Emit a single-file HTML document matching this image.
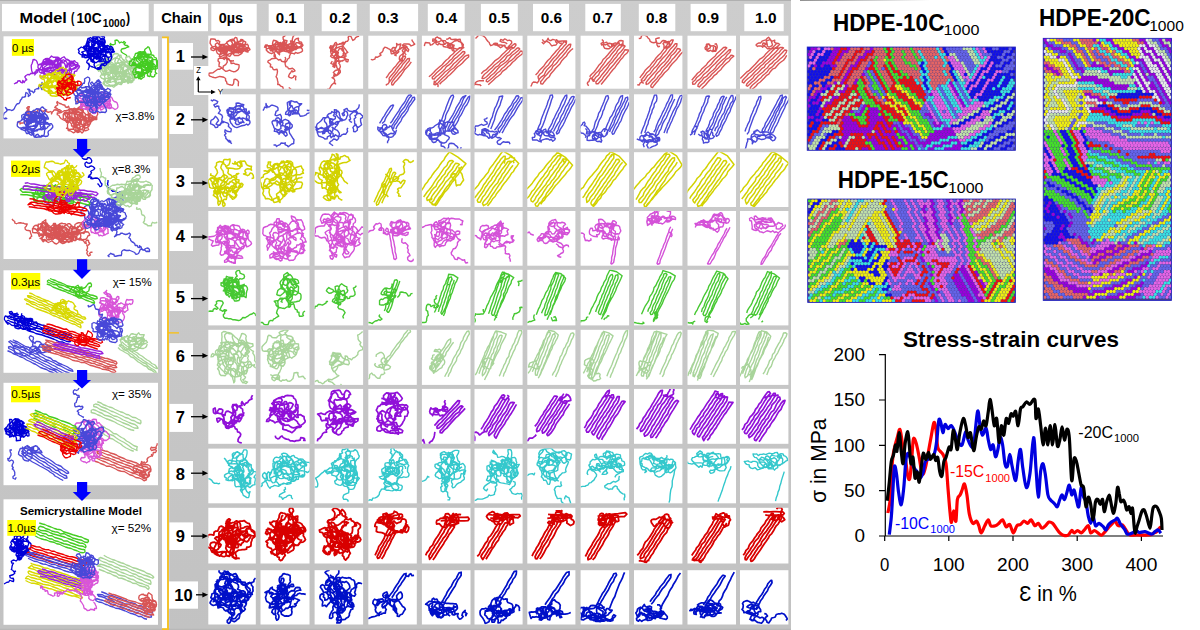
<!DOCTYPE html><html><head><meta charset="utf-8"><style>
html,body{margin:0;padding:0;background:#fff;width:1200px;height:630px;overflow:hidden}
svg{display:block}
text{font-family:"Liberation Sans",sans-serif}
</style></head><body>
<svg width="1200" height="630" viewBox="0 0 1200 630">
<rect width="1200" height="630" fill="#fff"/>
<defs><linearGradient id="gg" x1="0" y1="0" x2="0" y2="1"><stop offset="0" stop-color="#cdcdcd"/><stop offset="1" stop-color="#c2c2c2"/></linearGradient></defs>
<rect x="0.0" y="0.0" width="791.0" height="630.0" fill="url(#gg)" />
<rect x="0.0" y="0.0" width="791.0" height="1.0" fill="#b0b0b0" />
<rect x="0.0" y="628.7" width="791.0" height="1.3" fill="#b8b8b8" />
<defs><linearGradient id="tl" x1="0" x2="1"><stop offset="0" stop-color="#909090"/><stop offset="1" stop-color="#ffffff"/></linearGradient></defs>
<rect x="800.0" y="0.0" width="130.0" height="1.0" fill="url(#tl)" />
<rect x="2.0" y="3.9" width="146.7" height="27.3" fill="#fff" />
<rect x="153.8" y="3.9" width="54.2" height="27.3" fill="#fff" />
<rect x="211.3" y="3.9" width="45.4" height="27.3" fill="#fff" />
<rect x="268.7" y="3.9" width="35.3" height="27.3" fill="#fff" />
<rect x="321.7" y="3.9" width="35.1" height="27.3" fill="#fff" />
<rect x="369.8" y="3.9" width="48.3" height="27.3" fill="#fff" />
<rect x="427.8" y="3.9" width="36.9" height="27.3" fill="#fff" />
<rect x="480.9" y="3.9" width="36.9" height="27.3" fill="#fff" />
<rect x="533.0" y="3.9" width="36.0" height="27.3" fill="#fff" />
<rect x="585.3" y="3.9" width="35.5" height="27.3" fill="#fff" />
<rect x="638.8" y="3.9" width="36.5" height="27.3" fill="#fff" />
<rect x="690.6" y="3.9" width="36.0" height="27.3" fill="#fff" />
<rect x="744.3" y="3.9" width="39.4" height="27.3" fill="#fff" />
<text x="19.6" y="22.5" font-size="14.5" font-weight="bold" textLength="47.2" lengthAdjust="spacingAndGlyphs" >Model</text>
<text x="70.9" y="22.5" font-size="14.5" font-weight="bold" textLength="3.4" lengthAdjust="spacingAndGlyphs" >(</text>
<text x="76.5" y="22.5" font-size="14.5" font-weight="bold" textLength="25.1" lengthAdjust="spacingAndGlyphs" >10C</text>
<text x="102.8" y="26.6" font-size="10" font-weight="bold" textLength="22.5" lengthAdjust="spacingAndGlyphs" >1000</text>
<text x="126.0" y="22.5" font-size="14.5" font-weight="bold" textLength="4.1" lengthAdjust="spacingAndGlyphs" >)</text>
<text x="161.2" y="22.5" font-size="14.5" font-weight="bold" textLength="40.6" lengthAdjust="spacingAndGlyphs" >Chain</text>
<text x="218.7" y="22.5" font-size="14.5" font-weight="bold" textLength="24.3" lengthAdjust="spacingAndGlyphs" >0µs</text>
<text x="275.8" y="22.5" font-size="14.5" font-weight="bold" textLength="20.9" lengthAdjust="spacingAndGlyphs" >0.1</text>
<text x="329.3" y="22.5" font-size="14.5" font-weight="bold" textLength="21.0" lengthAdjust="spacingAndGlyphs" >0.2</text>
<text x="377.4" y="22.5" font-size="14.5" font-weight="bold" textLength="21.2" lengthAdjust="spacingAndGlyphs" >0.3</text>
<text x="435.4" y="22.5" font-size="14.5" font-weight="bold" textLength="21.7" lengthAdjust="spacingAndGlyphs" >0.4</text>
<text x="488.5" y="22.5" font-size="14.5" font-weight="bold" textLength="21.2" lengthAdjust="spacingAndGlyphs" >0.5</text>
<text x="540.7" y="22.5" font-size="14.5" font-weight="bold" textLength="21.3" lengthAdjust="spacingAndGlyphs" >0.6</text>
<text x="592.5" y="22.5" font-size="14.5" font-weight="bold" textLength="20.5" lengthAdjust="spacingAndGlyphs" >0.7</text>
<text x="646.0" y="22.5" font-size="14.5" font-weight="bold" textLength="21.4" lengthAdjust="spacingAndGlyphs" >0.8</text>
<text x="697.8" y="22.5" font-size="14.5" font-weight="bold" textLength="21.3" lengthAdjust="spacingAndGlyphs" >0.9</text>
<text x="755.1" y="22.5" font-size="14.5" font-weight="bold" textLength="21.4" lengthAdjust="spacingAndGlyphs" >1.0</text>
<rect x="3.5" y="36.3" width="154.5" height="102.1" fill="#fff" />
<rect x="3.5" y="156.4" width="154.5" height="102.6" fill="#fff" />
<rect x="3.5" y="270.3" width="154.5" height="102.5" fill="#fff" />
<rect x="3.5" y="382.8" width="154.5" height="102.4" fill="#fff" />
<rect x="3.5" y="499.3" width="154.5" height="125.5" fill="#fff" />
<path d="M77,138.9 H87.2 V148.9 H91.1 L82,158 L72.8,148.9 H77 z" fill="#00f"/>
<path d="M77,259.2 H87.2 V269.7 H91.1 L82,278.9 L72.8,269.7 H77 z" fill="#00f"/>
<path d="M77,370 H87.2 V380 H91.1 L82,388.6 L72.8,380 H77 z" fill="#00f"/>
<path d="M77,481.9 H87.2 V491.9 H91.1 L82,501 L72.8,491.9 H77 z" fill="#00f"/>
<svg x="3.5" y="36.3" width="154.5" height="102.1" viewBox="3.5 36.3 154.5 102.1"><g transform="scale(0.25)" fill="none" stroke-width="5.4" stroke-linejoin="round">
<path d="M349 489l-4-6-1-9-8-1-5-5-7 2-5 8-4-5-4-8-3-6-1-8-6-5-7 4-8 1-7 2-1 9-6-7-8 0-6 2 5 8 5 2 9 1 2 6 8 3 2 7 6 3 6-7 0-8-4-9 4-5 10 0 6 4 6 2 6-6-6-5-4-4-8-3-6-4 7-5 8-5 5 3 4-10-3-6-3-9-2-5-8-4-7 7 10 1 8-3 5-2 7 4 7-4 6 6 5 5-1 5 4 8 7 6 6 1 7 2 7 7 6 4 1 9-4 7 0 6 0 8-9 0 0-5-7-9-6-4-5-1-1 8-5 7 0 9-7-3-8 4-6-5-6 2-6-5-7 2-4 5-5 7-6 3-3 8-4 7 2 6 5 8 5 5 6 3 7-2 2-7-3-6-7-2-4-6-3-8 0-7 2-8-4-7-4-5-7-3-7 4-5 6-6 3-8 3-3-8-7-3 0-10 0-7 4-6 7-2 8 1 6 6 2 6-5 8 1 7 6 4 8 1 6 6 2 5-2 11 4 5 8-5-3-8 0-7-2-8 3-6 4-8 1-7 7-5 8-3 4-5-7-6-1-6-9-1-6 4-6 3-2 8-8-1 2-7 5-3 8-1 7-6 5-4 7 3 5 4 3 7 1 8 5 4 5 7-4 9-6 1-9-4-6 9-5 5 5 6 1 8-2 6 3 8-1 8 7 3 7 1 6 3 9-2 6-3-4-7 1-4-1-9 0-7 7-6 4-4 5-7 5-5-6-1-9 3-3-7-6-6 6-3 7-3-1 9-3 7 3 6-3 6-9 1-9-2-4-5-6-3-1-7-6-2-5 5-5 7-6-5-7-4-2-7-6-6 3-9-8 1-7-1-3 6-5 5-1 10-4 5-5 7-3 6-6-3-7-4-5-5-4-8-7-3 0-7 7 0 9-2 5-3 7-4 8-1 6-1 7-6 7 1 6 6 5 6 2 8 2 6 4 9-2 5-9 3-5 4 4 7 5 6 7 5 5 6 4 4 6 6 8 1 4-7 4-6 2-6 6-7 0-7 8 0 7-4-4-5-1-9 3-6-2-9-3-8 1-5-3-8-5-4-5-4-8 0-9 4-6 3-5 3-9 4 0 5 5 5-3 8-9-1-6 0-7-2-6-6 2-9 7 0 8-2 6-2 10 5 5 1 9 0 7 2 3 6-4 9 1 8 3 3 7-2 1 6-5 4-9 2-1 8-7-6-5-5-4 6-7 6-1-6-1-9-5 8-5 4-7 0-7 2-3 5-4 7 0 8 1 8 2 9 7 1 6 3 7 5 6-2 4-7 7-3 7-4 2-6 8-5 7-3 4 5 1 7 8-2 8-5 2-4 4-6 2-7 6-6 5-5-6-7-6 0-10 3-7-4-7 1-5-5-10-3-2-6-6 2-9-3-8-3-5-2-6 7 1 8-3 6 8 7 6 2 8 3 4 7 8 0 7-3-7 1-4 4-5 7-7 3-9 0-8 1 0-8-4-5-8-4-8 3 1-10 3-5 5-7 4 8 6-1 9-1 7 3 7-3 0 9 10-3 6 6 1 8 4 6 6-3 1-7 0-8 8-2 7 3 7-1 8 3 7-4 6-3 5-6-4-6-7 6-4 5-4 8-5 4 0 8-7-1-9 6-7-2-6 7 6 6 1 5-4 8-6 6-7-7-6-3-8 3-4-6 1-9-6-5-3-8-4-5-2-8 1-7-4-6-6-6-2-9-2-5 2-8-4-6 9-1 6-1 4 6 6 4 7 4 9-1 6 2 8 3 3 8 3 6 6 2 5 8 1 4 1 6-3 7-8 7-6-3-9-2-6 3-7 2-6 5-6 4-2 6-9 1-8 1-6-3-8-3" stroke="#d85555"/>
<path d="M68 492l6-5 6 0 0 9 6-4 7 0 7-3-1-5 10 0 6 3 7 0-2-5-3-7-3-5-2-8 1-9 2-5 1-6-1-9 3-6-6 0-5 5 6 7-7 7-1 5 3 6 5-3 8 3 6 0 0-7 4-4 9 2 6-1 6-2-3-5 7-3 7 2 5 5 7 1 5-5 7 0-5 3 7 5 7 1 5-3 8 4-3 6 0-6 7-5 3-5 9-1 6 5 7 2 5 3 2-6-6-4-6-1-6-5-8-3 5-6 7-4-4-10 2-4 3 4 5 3 9 3 5 3 9 2 1 6 8 3 5-5 3 7" stroke="#d85555"/>
<path d="M89 479l7-2 7-3 9 0 6-6 5-1 10-3 0 6 8-2 6-2 7 5 4 7 7 5-5 4-3 7 4 6 1 8 7 5 5 4 1-8 1-7-1-8 3-8 3-5-7-4-6-4-8-1 1-9-5-4-3-8-6-4-8 3-3 6-5 4 1 7 4 8-1 7-8 0-7-1-7 2-10 1-5-1-2-8-2-7 6-6 8-3 7 1 8 1 7-1 6 6 9-1 7 4 3-3 4 9-1 7-3 6-5 7 0 7-5 7-6-4-7-1-8 1-8 1-5 4-8-5 5-6-2-8 1-7 6-5 6-3 8 0 7 3 7 0 6 2 2-8 9-5 2-4 7 0 7 6 9 1 4 5 7 0-2-6-4-8-5-5-5-6-6 6-4 5-6 5-8 6-5 3-7 0-7-1-6 5-5 6 1 8-7-2 1-8 6-4 6-4 9 1 4 1 6 7 1 8 7 1 8 3 7-2 7 1 7 0 7-2 6 8-7 3-5 7-6 4-9-3-5 6-9-2-7 1-7 2-6 1-8-2-7-5-6-2-7-6 1-7 0-5 5-5 9-3 5-2-3-8 7-6 8 0 5-1 9 3 6-2 9-4 2-8 2 6 5 5-2 7-7 2-5-7-4-3-7-6-7 2-5-6-8 2-7-5-7-1-4-8-8 0-8 4 0 6-9 2-6 3 0 7 2 8-5 7-6 3-6 1-3 10 0 7 5 5 5 3 9-1 9-2 3 4 8 1 5 4 9 2 5 4 7 2 6-2 9-1 5-6 8-2 4-5 7-5 1-8 4-5 3-8 0-8-7-2-4-6-5-2-8-4-9 1-5 4 2 9-3 7-5 5-7 1-7 3-5-7-6 0-9-3-7 3 2 9 5 5 3 5 4 8-2 7 3 6 3 7 5 5 6 4 6-5 4-9-5-4-1-7 9-2 4-8 7-6 3-4 9-2 3-4 8-2 4-8-2-7-3-9 1-6 6-8 3-5 2-7-7-4-5-6-6 2-4 6-5 5 2 8 3 6 5 6 7 3 6 5-5 8-5 2-8 3-4 6-7 5-7-3-7-3-8 0-7 5-2 3-7 6-8-1 2 8-6 3 2 9 1 7 3 7 6 0 8-5 6-1 7 0 3 8-2 5 3 7 9 1 7-1 8 0 6-1 7-4 8 3 9-2 3-6-2-8 2-6 6-4 5-4 6-7 0-6-5-8-6 0-7 3-3-7-9-2 2-9 2-7 4-7-4-6-5-5-9-2-3-6-7-6-6-5-9-1-5 5-8 2-5 6-3 5-2 7-2 8 3 6 8-1 2-5 8-6 7-1 8-1 6 4 3 6 0 7-3 7-8 4-7 2-4 3-4 8-6 1-7 3-8 3-5 5-5-3-6-8 5-6 3-6 6-6-6-7-5-3-6-4 1-8 6-1 8 3 5 6 9 2 2-6 8 4 3 7 4 6-3 7 1 9 5 4-5 8-5 4-8 2-8 0-4-6-4-6-8 2-6 4-5 4-7-4-5 6 7 2 7 4 7-4 7 5 6 4 8 3 3 7 6 4 6 4 3-6 8-3 3 5 6 5 6-5 7 1 3-6 1-7 0-8 4-7-2-6-3-9 5-6-8-3-6-3-8 5-3-7-8 0-6-4-8-1-7 2-8 4-3 5-4-4-4-6-4-6-6-6 2-8 2-7 5-5 7-3 7 0 8 0 7 5 7 1 7-2 8 3 7 2 3 6 8-1" stroke="#4848d8"/>
<path d="M20 472l7 2-7 1-6-2-3-7-8-3 5-4 3 8 3-7 2-7 7-5 5-5-2-8-4-5 5 7 5 2 8 0 6 3 6-2 5-5 3-7 4-7 5-6 7-1 4-7 1-5 6-7 2-6 8-1 5-2 0-8 2-8 6 3 4 6-1 7 7-5 2-5-5-7-1-8-5-4 7 1 3 6 8 1 5 6 5-5 0-7 8-4 8 0-1-7 6-4 7-7 1-7 2 7-6 5-6 2 6 5 3 8 3 3" stroke="#4848d8"/>
<path d="M403 392l3 7 6 3 4 9 5 6-2 7 5 5 9 3 6 2 8-3-2-7-1-6-5-8 3-6-2-9-6-3-5-6-6-1-9-3-5 4-8-3-6 5-5 8-7 2-5-7-7-1-2 5 6 8-1 7 0 6 7 5 4 9-5 4-9 2-7-1-9 0-5 4-8-2-8-2-7-3-7 0 5-7 4-4 8-2 7 1 10 2 6 0 2-8 5-2 3-9 3-7 8-6 0-5 7-1 5 5 6 4 5 7-6 6 6 6 0 7-6 6 3 6 2 9 6-2 8-6 6-3 5-4 5-4 3-9 0-6-9-2-5-6-7 0-8 0-8-2-4 8-3 6-7 4 3 8-4 6-6 7-8-2-2-6-6 5 4 6 0 8 4 7 8 1 5-2 4-8 4-6 3-7 9-3 4-5-1-5-6-5-4-7-3-6 2-8 6-3 9 0 6 0 7 6 2 8 2 5 4 5 9 3 5 3 0 9-5 5-8-4-6-4-6-4-6-7-4-4-10-1-5 6-5 5-5 4-3-6-10-3-5 4-4 6-2 8-9-4-4-3-10-1-5-5-4-7 2-8-2-8-6-4-6-1 5-7 1-5 6-2 8 2 6 5 6 5-1 7 8 5 7 2 5 5 6-5 6 0 6-3 5-5 6-3 4-8 5-1 9 4 7-1 7-3 7 0 7 3 6 6 2 7 6 6 7 2 4 3 3 9 1 8-4 6-8 4-7-5-7-4-7 1-4-8-2-6-10-3-6-2-5-7-7 0-6-4-8-3-4 4-9-5-6 3-9-3-5-2-3-5-1-9 4-4 9-4 4-5 8-1 7 1 8 1 7 3 8-1 8-2 6 7-6 6 2 8 3 6-3 8 0 7 3 8-8 5-5 3-7 5-7-2-3 7-8 6-5-8-6-3-7-3-6-3-6-9-6 5-7 2 1 10 6 3 5-6-4-7 2-7-2-7-7-3-3-7 7-4 2-7 4-7 7 4 5 6 5 7 8-1 4-2 7-5 8-4 8-1 4-7 9 3 6 1 6 4 3 6 4 7 2 8-1 6 3 8-7 3-5-6-1 7-7 4-6-1-8-1-6-4-7-6-5-6-3-5-8-4-5 5 4 8 5 6 5-5 9 1 6 4 5 5-6 4-5 5-8 1-7 6-6-2-9 1-7-2-7-4-7 0-2-5-1-9 2-7 3-8 6-3 4-5 3-8 7-1 6-3 8 0 6 4 5 6-4 7-8 0-6 4-7 1-5-5-6 5-8 2-6 2-7 3-4 9-8 0 1-6 2-8-3-8 10 0 4-5 7 1 7-5 4-4" stroke="#d855d8"/>
<path d="M401 343l3 7-7 6-9 1-6 1-9 4-2 6 6 4 2 9 5 6-3 7-7-2-7 3-2 7 5 7 5 6 6 0 5 8 5 6-3 6-2 7-6 6-5 3-8-2-7-3-3-7 4-6 8-5 5-3 7-3 3-8 5-6 0-7 7-3 4-2 4-7 1-8 0-7-8 2-9-1-5 3 1 7 1 7-7 1-7 3-8 2-5 5-8 1-7-4-3-6 6-4-3-7-6-6-6-2-6-8 8-1 9 3 8 0 5-1 7-5 8 0 5-3 7-5 6-3 6-3 8-3 5 5 7 2 5 5 0 7-4 5-5 8 7 4 0 7 0 8 8 2-3 7-5 3-7-1-8-5-6 6-9-2-7 1-5 1-10 2-8 0-7 3-6-2-6-2-2-8-6-7 4-6 7-3 4-6 9 3 6 3 8-2 7 2 6 5 4 5 6 7 4 7 7 0 7 3 5-4 7-3 7-6 4-4 7-5 1-7 4-7-8-3-3-5-7-3-9-1-4-8-8 0 1-8-1-7-9-3-7-3-2-7 1-7 7-3 4 6 5 6-7 0-6 5-1 7 0 9 3 7 0 7 5 6 8 5 4 7 5 5 7 1 7-1 8-1-6-9-4-5-5 1-7-5-6-3-9 2-6 1-9 2-4 6 0 9 5 4-1 9-5 1-6 6-4-3-10-6-5-5 2-7 3-6 2-8 5-8 0-6-9-5-4 8-6-5-5-6-9 0-6 1-7-4-5 7-7 0-5 7 2 6 6 7-1 7 7-1 5 5 7-2 10 1 5 3 5 7-2 8-3 5 3 7 5 6 6 3 3 8 3 5 6 5 2 8 9 1 6-7-3-9-3-5 2-7-4-9 2-4 6 3 6-5 6-5-3-6-5-6 1-7-5-8-4-4-5-8 6-5 6 1 5 4-3 7-9-4-5-2-7 1-6 5-8 4-7-4-4-6-8-1-6 1-9 2-1-7-9 0-7-2-6-1-2 8 8 2 2 6 3 9-4 5-4 6-3 7 3 9-1 7 7-1 6-5-4-8-3-6-8-3 1-8 6-1 7-4 4-7 6 1 9-3 3-5 5-5 9 1 7-1 6 5 4-5 2-8 9-4 3-8 6 1 9 0 2 8 4 3 10 0 5 6 8 1 4-6 6 3 7 5-4 7 2 8-8 4-5 4-7 5-7 3-7-1-5 9-5 5-8 2 0 8-3 7-8 2-6 0-9-4 2-6 3-6 7-4-2-10 5-5 8 0 6-3 8-1 8-3 6-2 7-7 9-1 3 8-8 3-6 3-3 9-9 2-5 4-1 6-8 0-7-1-8-5 3-7-8 0-4-4 1-9-3-8-6-3-4-8 4-7 4-4 6 6 2 7 6-5 1-6 1-8-4-7-5-5-4-5-6 5 4 7 8 4 6 1 7-1 4 7 1 7 0 8 3 9-1 8 2 5 7 0 7 7 6 3 5 4-7 4-2 6-7 5-6 6-6-2-3-7 0-8-3-6-6-7-1-7-4-7-6-1-9-4-7 0-7 1-3 6-5 9 9-2 6-1 5-6 7-4 8-3 7 0-1-9 3-10 4-3 1-8 6-5 4 7 7 5 6 1-2-7-4-7-8 2-5 3-8 4 0 6-1 9-9 5-4 3-7 4-2 7-2 6-1 10 1 7 6 3 7 5 3 7 7 3 4 6 1 8-2 7 8 3 7 5 4-3 10 1 7 1 5-6-1-5-2-8-4-6-4-7-5-6 0-7 1-8-6-1-8-2-5-6-1-9-3-8-4-4-9-3-5 6-8 4-5-3-6-7 4-6 7-3-2-7-5-6-1-8 3-7 2-7-1-8-7-4-7 4-6 4 1 8-2 9-5 0-3 6-7 8 5 5 10-2 4-3 9 0 8 2 0 6 7 1 7 3 8 0-2-9 6-4 8-3 7-4-1-8-2-6-8 0-6 6-4 4-5 7-7 5-1 6-6 7-6 4-1 8-6 6-7 5-3 8-4 3 3 8 3 8 4 6 3 6 8 1 8 0 4-5 5-8-8 2-7-2-8-1-8 0-6 0-9-1-8 1-3-9-1-6 0-10-8 0-6-4-3-7-5-6 1-6 1-7 6-6 5-8 2 8 0 8 5 5 9 1 9 2 5 1 10-5 5 1 7-2 8-5 3 6 6 5 8 7 5-3 6-6 6-2 4-8 7-1" stroke="#4848d8"/>
<path d="M202 247l-3 8 1 6 0 8-8 5-7 1-8 2-7 2-7 0-8-4-3-4 0-9 7-4 8-2 8-2 5-6 5-4 8-1 10-1 1 7 7 1 9 1 0-8 3-8 6 2 6 6-4 7-2 6 4 9 2 5 4 10-1 6-7 2-1 7-8 4 4 6 4 6 5 5 9 0 2-6 8-3 2-7 7-2 8 1 8 1 1-6-3-5 0-11 0-6 5 4 6 1 9-1 8-4-2-7-5-6-2-8-7-4-7-1-6-5-6-4-7 4-5 5-7 5-7 0-8 5-8 2-7-1-6-1-8-2-6-6-3-7-2-7 5-4 5-6 7 5 7 0 10 0 4 1 8 6 2 7 6 4 6 5 4 5 2 8 7-1 5-6 9-2 7 0 7 1 7 5-3 7-7 3-4 4-8 5-6-1-8 2-6-4-7 5-5-7-7-2-6-7-5-3-8-1-6-3-8-1-7-3-6-4-7-2-5-8-4-7 8-1 4 3 6 5-5 5-7-4-9 3-6 1-5 7-1 8-2 5-4 7-6 5 3 8 5 4 6 2 8-4 6-4 5 2 9 1 6 4 7 2 7 4 6 0 4 5 8 6 7 2 8 0 4-6 2-6 6-6 4-8 2-6-5-5 6-9-1-5 7-7 5-2 11 1 6 3 5 4 3 6 7 2 0-8 0-7-9-4-3-5-8 3-7-1 0 5-5 6-1 7 2 7 5 7 2 6-3 8-6 4-9 0-5-4-5-6-7-3-8-1-8-2-2-7-5-7 4-7 0-6-4-6-7-4-9 2-6 2-7 2-3-7-6-7-3 4-8-2-6 4-3 9 8-3 7-4 6-3 6 0 8 3 5 7 6 3 2 9 0 5 5 8 7 3 6 5 4 6 6 3 4 7 2 6 7 6 8 0 6-1 10-3 3-5-5 0-11-3-6 2-7-4-4-6-5-5-6-3-6-5-5-3-8 0-8-4-7 2-5 3-7-2-7 7-8-3-7 2-7 0-10-1-5 1-8 1-1 10-7 4-7-4-3-6-1-7-1-10 0-6 3-6 3-9 1-7 6-1 7 4 3 5 2 7 4 7 6-5 8 0 9-1 4-5 8 1 2 8 6-3 4-6 7 4 6-4 6-3 7-3 6 7 2 7-4 7 8 3 6 2 5 8-3 5 8 6 7-1 7-3 2 7 8 4 8 0 8 5 2-9 1-6 9-2 2-6 7-7 2-6-6-6-8-1-8 1-4 4-7 2-4-7 0-8-3-5-6-4-6-3-5-5-5-6-8 4-5 5-6 6-6-3-2 9 6 4 5 6 2 6 2 7 6 4 0 8-2 5-5 6-7-4-5-7-7-1-8-1-4 6-7 5-5 7-3-9-5-6-7-2-6 2-6-5-3-5-1-10 6-5 6-2 7-2 7 0 8 1 6 6-1 6 6 5 6-5 8 1 7 2 7-1 7 6-7 5-5 4-9-1-4-6-7 1-7 2-11 0-2 4-7-2-7 3-8-5 1-7 9-1 9-3 5-3 8 5 4-3 8-4 7 0 9-1 3-8 2-6 3-7-4-6-10-2-4 5-8 3-7 1-9 0-3 7-2 7-8 2-6 5-6 4-3 7-4 8-2 6 6 4 8 2 6 2 8-1 5-3 5-6 8-3 6-3 7 0 7 3 0-9 3-8 8-2 0-9-3-7 4-6 8-5 5 3 7 4 4 7-1 7 4 7-8 2-3 7-6 4" stroke="#9922dd"/>
<path d="M56 336l5-3 8-3 2-6 9-1 3 6 7 2 1-9 6 8 5-9 5-2-4-5-4-6 5-6 7-4 7 1 6-6 7 1 6-1 4-7 1 7-3 7 4-6 7-5-2-6 6-5 6-1 8 3 6 5 4 4-1 8-3 5-5 6-8-3 0-7" stroke="#9922dd"/>
<path d="M290 317l-5 3-7 5-5 5-5 7-4 5-5 8 1 7-7 3-7-5-7-5-6-1-7-2-7 3-6-3-8 3-9 2-3 5 3 8 3-7-4-5-2-9-2-6 1-9 5-5 4-7 1-7 6-6 4-5 8 4 4-4 5 6 5 4 10 2 0 7 2 7 2 7-4 6-1 6 8 0 4-6 8-5 8 4 8-1 7-1-3-6-2-8-9-1-6 2-5-4-8-4-4-4-7-2-7 4-7-3-6-1-3 3-4 10-2 8-6 1-10-4-4-5 4-7-9-3-6 1-8-2 0-8 9 2 5-7 6-3 6 0 6 4 6 5 9 2 2 5 4 9 7 3 4-7 8 0 8-2 5 4 6 6 4 6 7 6 4 3 8 1 9 3 1-9 6 5 4 7-1 8-3 6-6-4-4-5-2-7-9-3-3-7-8 3-4 8-5 1-3-7-3-8-3-7-3-7-5-4-7-3-8-4-2 6-11 0-6-3 2-8 0-5-5-4-2 5-1 8-4 6-3 6-7 6 1 7-4 6-5 7 3 5 5 7 4 3 8 4 4 5 7 6 6 2 6 4 9 1 7-1 7-1 3-7 7 5 6 6 7-5-4-7 6-7-4-4-8-1-6 7-8-4 2-6-2-7 2-10 0-5-5-8-8 0 0-7 4-8 3-8 4-3 9 2 8 1 5 6-8 0-7-5-7-3-8-2-7-3-6-2-7-3-8 1-5 5 5 8 2 7 6 5 6 3 6 6 2 7 9 1 7 4 7 1 5 4 5 5 7 6-7 1-9 2-5-6-6-6-8 1-4 5-4 7 3 7 2 6-8-1-8 2-6 3-8 0-6 4-7-3-3-9-8-2-6-3-6-5 2-8 0-7 6-7 5-3 4-7 3-7 9-1 7-3 6 2 9 2 5 2 7 6 2-6-8-2-7-2-7-2-7 3-6 4 5 9-6 3-7 5 2 8 5 2-4 7-5 0-8-2-6-4-5 5 4 4 6 6 5 4 8 4 9 3-3 8 8 3 7 0 8 1 9-3 0-8 8 3 6 5 7-4 9 2 7-1 5 1 4-9-6-5 4-10-6-5-4-8 1-8 8-1 3 7 9 1 9 0 0-8 1-6-7-2-7-4-3-9 7-2 7-5 5-5-8-3-7 0-7 0-3-7-6 6-4 5-6 4-7 5-5 5-2 7-8 2-2 9 7-5 5-6 5-5-1-8 5-7 3-6-1-8 7-3 0-10-8-1-4-6-6 2-9 2-4 5-8 1-6 6 4 6-9 1-1 6-9 6-5-4-9 0-6-1-5 8-5 3-7-4-8-3 1 8 7 5 8 1 2 6 1 8-2 8 4 5 6 3 9 3 8 1 8-2 6 1 9 2 4 6 7 1 6-6 6-3 7-5 2-7 5-4 5-6 1-6 10-3 6-4 8 2 4 8-10-1-2-8-6-4-7-3-8-2-4-5-6-2-6 4-5 8-6 5-1 7-1 7-2 7-2 9-3 6-7 4-5-7-4-4-4-7-5 2-2 8-4 5-5-4-6-5-6-4-4 6-2 8 2 6 8 3 7-1 8 2 8 2 5 6 6-1 3-6 7-3 8 2 6-2 7 0 9 0 7-5 6 3 6-6 4-4 4-8 2-6 1-8-6-3-6-3-6-4-8-2-5 7-7 0-9 4-3 5-6-3-7-5-8-1-8 0-6 0-9 1-5-1-2 9-4 6-4 8-4 4-9-1-7-3-5-3 2-6 7 0 5-4 9-1 5 4 6 3 8 3 9 2 6 0 8-2 7 5 7 2 3 6 8 5 7-4 7 0 9-5 6-3 5 7-5 1-7 1-7-6-6-5-6 3-7-4 0-10-3-5 0-6-9-7-1-5-1-6 0-10 6-5 7-5 2 7-6 6-2 9-5 2-4 6-2 8 4 4 2 9-7 4-7 3-6-1 1-7-6-7-1-5-7-4-1-8-4-4 0-6 5-9 7 2 7 1 5 6 4 4 6 2 6 9-3 8 4 3 5 9 6 5 3-5 5-5 1-9-2-7-1-8 5-6-4-4-8-5-7-2-7-1-1 6 2 8-5 3" stroke="#d8d800"/>
<path d="M261 336l7-3 7-2 8-2 4 7 6 5 7-4 5 5 7-2-1-7-2-7-6 3-8 4-8 3-7 1-7-1-4 5-8 6-5 4-8-2-7 3-5 3-5 2-3 8 5 5 8 5 6-5 1-7 1-6 6-5-3-7 1-9 3-7 1-8-4-5-5-1 4 4 4 7 6 2 4 9 6 3 9 0 5-2 8 0 1 10 7 2 0 9-6-1-1-7-8 1-7-3-6-6-7 4-4 6-8-1-6-5-5-2-8-4-6-5 4-6 9 5 6 3 8-1 5 5 6-5 1-5-1-10 0-6 7-2 8 4 3 5-3 6 4 8 0 8-3 4-1 9-5-7-6-6-6-4-7-2-6-3-9 1-6-3 0-7 7-3 7-2 4-7-2-6 7-3 4-8 7-1 6-1 9 6 2 5-2 8 3 8-3 6-7 5-6 3-7 1-5 7-7 2-4-6-5-6-5-7-5-5-5 7-1 8 6 5 1 8-3 8 6 5 4 6 5 5 6 6 6-4 6-3 2 9 7-3 6-3 7-4 4-7 5-3 6-5-4-6-1-7 4-3 9 0 7-1 6-5-1-8-7-3-6 0-9 4-8-3-6-1 4-8 1-5-3-7-8 3-6 4-5 5-8 4-4 5-4 6-6 2-1 10 3 5 4 6 5 6 7 3 4 4 9 1 6 5 7-3 2-7-6-4-2-8-8 4-6 3-3 6-5 7-4-6-2-7-3-7-7 4-9-1-6-5-8 2 4 8-1 5 2 8 2 8 8 2 6 5 6 4 3 6 9 2 2-7 8-1 8-2" stroke="#ee0000"/>
<path d="M435 269l8 1 4 7 5 4 8-5 6 2 9-1 1-8 1-9 4-3 9 0 7 1 3 7 6 3 8 5 3-6 1-9-4-3-7-5 2-7-5-5-1-9 8-2 6-2 3 6 6 8 0 7-4 7-6 1 2 8 0 7 3 6 3 8 6 5 8-1-4-6-2-8-7-5-5-2-9-4-5 0-6-7-7-3-5-4-5-6-7-6 5-6-5-8-4-7-9-1-7 2-4 4-3 7-3 7-6 1-8 1-4 7 3 6-7 3-6 1-8-3-7 4-5 4-8 3-6 4-7 4 8 6 5 3 5 7 5-5 7-2 8-5-4-6-3-9 4-6 1-7 6-5 5-5 7 0-4 7-8 4-8-1-1 7 6 5 6 5 8 1 3-8 6-4 2-7 7-4 6-5 7-4 6 2 2-8 8-4 7 0 1 7 5 8 5 7-5 5-4 7 0 7 3 7 0 8 1 7-5 4-6 5-2 6-5 8-2 8-7 3-6 7-6 1-7 3-8 0-7-2 2-7 8-1 8-3 6-1 8-1 7 5 7-2 6 0 7 3 5-7 5-2 7-4 9 6 5-1-3 8-5 4-7 3-7 2-7 0-9 2-6-2-5 10-7 4-5-3-8 2-6 3-10-2-6 1-7-2-5-5 5-9-1-7-6-6-7-2-6-7 4-7 6-3 5 3 5-6-1-7-8-1-2-7 3-7-3-7-7 3-5 4 1 7 3 7 3 6 4 9 7 0 7-2 8 0 8 0 5-5 1-8 4-4 7-2 8 3 6 3 5 7 9-1 6-1 7 3 5-5 5-7 4-6 0-7 3-8 5 5 7 2 3 5 6 6 3 7-1 8 2 6 3 8-3 8-7 2-4 6-8 2-6 2-7-5-6-4-7 2-4 5-6 7 2-9 3-7-2-7 5-6 5-5-1-9 2-6 9-1 7-3 4-6 7-3 8-2 8 4 3 8-8 3-3 5-7 6-1 10-3 5-2 8 4 7 6 1 6-4 0-7-4-6-1-6-7-4-7-2-9-2-4 6-6 3-9 2-6-3-8-5-2-6-7-2-7 6-8-5-8 2-2-9-5-5-4-6 1-8 4-7-7-5-6-3-5 1-7 5 3 6 5 5 7 4 8-2 6-2 5 4 7 3 8 2 7-3 7 0 7-4 2-8 5-7 3-6 4-8 4 6-2 7-1 10-2 6-2 8 1 7-2 4-3 8 0 6-1 9 4 6 8 3 5 6 9 2 5-4-7-7 7-5-3-8 3-9-5-6-2-6 6-6 5-5 9-2 1 8 6 5 5 6 7 2 3 5-5 5 1 7-4 4-9 3-7-2 1-7-2-9-4-5-3-8-3-7-7 2-8 1-3 6-1 9 5 6-1 6-9 0-5 0-9 2 0 8-10 3-4-5-8-1-7-1-6-4-7-5-6-4-8-2-6 3-5-7-2-4-3-8-6-5-5-7 4-5 7-4 8 1 7 6-2 8 1 8 1 7 7 0 8-2 6-3 4 8 7-5 5-4 9 0 6 2 8 3 1 7 5 5 5-5 8 4 5 6 1 8 0 7 0 8 3 5 5-5 8 2 6-3-2-7-8-1-4-8-3-5-6-4 0-10-7-2-6 5-7 2-6-5-4-6-7-4-6-3-7-3-9-1-6-5 0-6 2-9-7-3-8 3 2 11 7 3 5 4 4 7 6 5 4-9 8-2 6-2 3 5-7 6 0 8 1 5-4 8-7-1-7 1 1 6 4 8 7 3 4 6 4 6 7 3 7 1 5-7-2-8-3-7-1-9-3-5-6-8 1-6 5-3 2-7 2-8 2-7 8-5 5 3 6 4 5-4 4-5 3-9 4-5 5-5 9 1 5 4 1 9-3 7-7 5 7 4-7 6-5 2-10-4-7 2 0 7-4 8-3 6-7-2-6-5-5 4-7 4-8-1-8 3-5-4-8-1-8 2-7 4-3 7 4 4 5 6-6 4-7 7 0 7 8 4 7 5 6-1 6 0 11-2 6-1-7-5-6-6 3-5 6-4 0-7 1-7-4-4-7-3 4-7-3-7-5-5 3-8 7 1-1 9-3 6 2 6 5 7 1 9 5 2 6-4 7-3 5-3 5-7 3-7-4-6-7-4-3-7-4-7 0-5-6-6-9 1-6 3-6 5-5 4-5 5 0 8 3 7 4 5 1 8 0 7 6 6 2 5 5 8-1 7-2 7-2 8-4 4-7-4-8-5-7 3-6-1-7-2-8-5 2-7 7-6 1-8 7-1 9 0 5-6-5-5-5-8-5-3-2-8 0-8 7-3 8-2 8 0 4-6 8 2 7 2 5-4 7 7 6 3 4 7 1 6 7 2 0 9 2 9-3 6-2 8 2 7 6-5 6-4 8-1 4-5 9-1 8 2 4-4-1-7-5-5 1-8-2-8 1-6-7-6-6-4-6-4 3-9 0-6-7-1-8-1-5 5-8 1-8-2-6 3-8 1-8 0-3-6 2-7 1-8 7 0 6 4-3 8-2 5-4 7-6 8-7 1-2 5-9-4-7 0 1 8-3 5-7 3-6-4-4-4-8-5 4-6-1-8 5-6 7-1 7 0 7 5 6 2 8 4 7 0 8 4 8 1 5 4 8 1 4 5 5 8 3 5 4 7-7 3-8 5-4 5-6-2-1-5-1-9-6-5-9-1-2-7-5-7-4-5 5-6-3-7-7-5-7-2-7 0-7-2-5 7-1 7 2 7-3 9 1 6 0 8 7 5-3 6-4 5 2 8-4 6 5 7 8 2 6-2 7-2 3-8-3-9" stroke="#a8d498"/>
<path d="M545 261l-7-5-3-6 1-7 3-7 7-5 3-7 4-4 8-3 5-7 7 3 3 7 8 3 4 3 7 6 8-2 6 2 1 10-4 7-5 3-8 0-7 2-10-1-6 1-3 8-8-4-8-1-7-1-4-5-9-2-4 9 9-3 5 6 5 5 5 5 9 2 4-5 1-7-4-8 3-7-9-7-4-5 5-7-1-8 4-7 8-1-3 9-3 6-6 5-7 0-10 0-3 7-6-2-3 8-7 2-2 9 2 5 8 4 6-4 10 3 6 0 8 3 7 0 6-4 4 7 7 5 5 5 6 4-3 6-10 1-5-1-8 3-7 3-6-4-6-5-7 3 5 2 7-4 8 2 8-1 5-4 6-3 7 3 3 9 4-7 5-7 3-7 2-7 2-5 3-10-6-6-5 5 0 8 1 6 6 5 5 2 6 6 8 1 7-4 3-7-6-5 0-7-1-7 0-10-1-5-9-4-1-6-7-2-8-2-7-1-8 0-3-8-4-6 2-6 7-5 5-5 4 2 3 8 3 7 3 8-2 6-9 5-7 0-5-3-5-5-2-8-8 1-7 4-6 0-3 8 3 8 8-3 8 2 8-1 5 3 8 0-2 7 1 8 7 6 8-1 6 1 4 6 6 6 4 6-5 5 2 8-1 8 6 5-7 3-2 8-5 3-8-2-4-7 1-6 5-8-9-4-8-4-6 0-6 4-7-5-7-4 1-5-6-8 3-7 6-6 2-7 4-8 7-3 5-6-4-5-6-3-9-5-5-2-7 1-7 5-6 1-3 9-4 6 6 6 8-2 8 2 5-6 0-9 8-1 2-6 5-5 4 5 6 5 5 7 6 2 7 1 5 7-5 8-1 4-6 7-5 7 2 7 1 6-2 8-6-5-7 1-5 3-5 7-7 2 1 7-7 0-2 8 3 6 5 6 6-5 7-4 0-8 0-6-5-5-4-9 1-6-8-5-2-8 2-7 3-6 6-6-8-6 4-5 0-9 3-7 3-6 7 2 2 8-2 5-7 6 4 6 5 6 8 4 5 5 0 7 3 6-3 6-4 8-7 5-6-3-6 1-4 5 2 7-1 7-8 3-7 4-6 3-8-1-2-6 5-6 6-3-4-4-2-9 2-4 0-9 2-8 7-2 7 5 5 2 7-3 8-2 6-1 8 4 6 4 6 4 7 2-1-7 1-8-2-8-7 2-7 1-5 5-7-6 0-7 0-5 6-2 7 3 7 5 7-2-2 6-6 2-8 0-5 6-7 3-4 6-9 0-4-6-8 2-7 5-7 1-6 4-4 5-4 7 2 10 3 5 6-2 8-4 8 0 6-2 5-6-3-7 2-6-3-7-2-6-7-4 0-7-6-3-5-6 2-7 7-5 7-2 9-3 5 4 1 7 6 3 4 6 1 5 6 8 4 7 4 5 3 9 6 2 3-7-4-9-6 0-4-8-8 2-2 7 7 6 4 5 1 7 5 6-5 5 2 8-5 5-8-3 0-10 5-4 6-5-1-8 1-6 4-5 7-8-6-2 0-10 5-8 7 1 9 1 4 6 0 8 1 7-5 5-6 1-9 3-7 0-4 5-2 10-4 3-6 5-9 3-6-4-1 7-4 8-7 1-6 8-4-5 0-8 5-8 8-2 1-8 1-8 0-6-2-7 2-7 4-7-2-7 7 4 8 2 7 1 2 8 0 6-3 7-7 1-4-4-5-6-7 0 4-4 5-8 3-6 6-4 7-6" stroke="#44cc22"/>
<path d="M432 200l5-6 4 5 4-6-2-7-3-7 2-5 3 4 9 1 7-3 0-6-1-8 8-2 6 5 4 7 7-4 7 3 4-5 6 5-6 5 5 5 8 1 6 5-7 2-6 4-6 1-9 2-3 5 2 7 5 4 7 4 7 4 3 5" stroke="#44cc22"/>
<path d="M357 184l7 6 4-6 6-6 7-2 7-5 8-1 6 4-2 8-2 7-5 4-5 6-8 0-7-1-7-4-6 5-4 7-3 6-4 8-6 2-6-3-7 1-2 8 8-1 4 4 9-1 5-4 5-7 6 5 8-1 7 3 6-5-4-5-5-8-1-7-5-5-8-1-5 4 2-7 4-6 11 0 1-7 1-7-4-8-2-6 0-9 3-7 8 3 8-1 6 4 6 6 7 4 6 2 3 8-4 5 1 9 3 7-1 8 3 6 3 8 8 0 6-5 7 7 7-4 7-2-7-7-6-5-8 4-6-1-9 0-7-1-2 7-7 0-9 0-5-7-7 5-5 5-7-1-6-3-5-9-4-4-4-5 2-8-2-9-4-7 2-7 7 2 5 8 7 1 5 6 9 0 6 0 7-4 2-6 6-7 7 0 5-3-2-7-6 3-7-4-8-2-5 6 1 7-7 4-5 5-6 4-6 5 0 10 5 5 2 9 6-6 5 3 7 6 3 6 4 7 5 5 3-7 3-8-5-7-7-3-3-8-4-5 3-8-2-6-3-7-2-8-6-4-7 2-3 8-4 6-7-4-5 8-3 5-7 4-2 8-3 5-8 3-7-3-5 4-7 5 4 9-3 5 6 5 6 4 8-2 8 1 7 4 9 3 2 4 3 9 5 1 3 6 7 6-2 8 3 6 4 6 7 5 6 0 9-3-1-8 1-7 6 1 8 3 7-5 3-8-10-2-4-5-7 2-8 2-8-2-6 5-6 0-6-7 0-7 2-10 1-6 5-5 1-8 6-5 3-6 4-6 2-7-7-5-3-9-8 1-1-8 6 6 7-2 7 0 8-1 1 6 3 8 7 1 7 5 5 4 5 8 0 6 2 7 7 4 2 5-6 9-7 1-7-2-7-5-6-2-9-2 2-7 4-7-5-5-8 5-7 0 3 8-9 2-6-2-8 3-6-4-5-8-7 2 0 8 0 8 8 2 4 7 6-4 6-4 6 3 8-3 4 3 5 11 3 4 7-3-2-7 5-5 7-2 5-7-4-6-2-6-7-2-6-6 6-3 7-3 7-6 6-2 7 5 8-1 5 6 3 8-5 6-7 4-8-1-5-4-8-2-8 0 0-8-1-8-5-6-2-7-8-2-1-8-4-5-8-5-5 0-8 3 3 7-9 2-6 3-7 5 0 5-1 8-6 3-5 8 5 6 6 3 6 5 7 4-5 9 0 6-6 8-5 5-1 6 7 6 4 6 7 4 7 2 6 3 8 4 5-4 8-1 3-8 5-6 7-1 7-2 5-5 8-1 7-4 4-7 2-8-2-7-5-5 7-7-4-8-4-5 0-8-6-5-7 3-6 5-2 7-1 8-5 4-7 1-7 1-3 7-1 7-1 9-7 2-5-5-6-5-7-5-5 0-7-6-4-7-2-7-6-4 2-9-1-6 1-8 2-8 2-6 4-7 8-4 6 5 7 2-1 8 2 9 4 6-6 6 2 7 7-2 7-3 8-2 7-2 6-2 4-9-4-7-6 2-6-4-9-1-7 6-4 2-7 6-3 8-1 6 10 3 5 1 8 0 5 7 8 3-1-8-2-6-4-9 0-6 5-5 5-7 2-7 7-2 4 7 1 7-3 7-1 7 2 6 9 4 7 1-9 4-6-3-8-1-7 5-3 7-5 6-8 1-5-3-9 0-5-3-7-3-7-2-3-9-7 5-6 1-6-7 1-6 8-3 6-2 8 2-1 10-1 7 6 4 3 7 4 7 9 2 1 8 8 0 6-4 4-8 7-3 1 7-2 7 6 6 6 5 6-5-2-9 1-5 7 2 2 8 6 2-1 8 6 6-5 5-7 2-3-6-3-9-1-7-2-7-6-9-3-6-7 4-1 10-4 6 0 7-1 6 10 1-7-5 0-8-4-2-9-1-8-2-3-6-8-4-7 1-4-6-7-5-7-1-7 3-8 3 7 7 1 6 10 1 6 5 8 1 5 4 5 6-6 5 8 5 0-8 4-5 6-6 7 1 7-2 8 4-6-4-2-7-6-5-9-2-6 4-9 0-6 0-7 1-3-8-2-7-4-7-6-5" stroke="#0000d8"/>
<path d="M352 280l3-7 2-6 0-8-3-8" stroke="#0000d8"/>
</g></svg>
<svg x="3.5" y="156.4" width="154.5" height="102.6" viewBox="3.5 156.4 154.5 102.6"><g transform="scale(0.25)" fill="none" stroke-width="5.4" stroke-linejoin="round">
<path d="M310 958l-3-6-2-8 7-5 1-7-5-6-7-1-7 0-7 4-7 2-8 0-8 0-6 2-6 5-9 1-6-1-8-3-7 0-6 1-3-8 1-6 7-4 7-4 7-3 7-4 6 4 7-5 5-4 8-3 3 5 5 5 7 4 9 0 5 2 8 0 8 4 3 9 4 4 3 8 0 8-4 5-7 3-6 3 2-6-1-8 1-7 8-4 7-2 8-2 6-2 9-1 7 1 4 6 2 7-7 2-4 9-5 5-7 1-8 1-5-5-3 6-8-3-8-5-4-5-7-3-5-2-9-2-8 0-7-6-5-7-6-1-5-6-7-1-6 5-7 4-8 0-6 0-9 1-6 6-8-3-5 5-9-2-5-5-3-8-5-1-6-8 4-5 5-7 4-6 4-5 8 2 4 0 5 7 5 4 7 6 6 4 3 7 3 5 6 6 9-1 2-10 4-5 7 4 8 4 4 4 3 6 7 2 5-5-5-7-4-5-9 5-6 4-4 6-2 5-7-4-10 0-1 8-1 8-6 4-7-1-6-5-8 3-7-5-6-5-8-2-5-3-7 0-8 0-6-5-8 0-9-1-1-7 0-9 7 1 6 3 9-1 7 0 2-8 3-7 3-7 7-3 5 5 2 5 6 5 7 3 7 1 8 7 8-1 6 4 6 4 5 5 4 8 5 3 5 6 8 2 5-5 8 0 6-5 9-2 8-3 4-2 8 1 10 2 8 0 5-4 9 3 3-6 3-9-2-5 5-6 5-8-11 0-4-4-8 2-7 2-4 6-5 6-3 7-4 6-6 4-4 8-1 8-4 7-2 8 2 6-10 0-4-1-8-2-4 7-6 3-8 1-7-4-5-5-3-7-2-8-8 0 3-6-2-6 2-10-4-6 2-7 0-7-2-8-1-6-8 0-2 8 5 5-4 8-7 2-3 9 0 7-2 5-4 7-2 7 8-3 6 3 0-9 0-7 8-4-2-7 0-5 6-8 8 2 6 3 6 0 8 3 4 8 1 6 7 6-6 4-9 1-6-1-7-1-8 2-7 3-4 9-5 3-7-3-5 3-8-2-4-7 1-8-2-7-1-8 5-6 3-7 3-7-6-7-5-7 0-7 0-8-7 5-7 4-2 6-6 2-8 1 0 10-1 6-6 6 3 6 8 5-3 7 3 9 5-5 8 0 5-9 7 2 7 4 7 1 8-3 5 4 9 4 7 1 8-2 7-1 7-4 7-2 7-1 2 8 0 8-6 2-4 9-5-4-8-4-7-5-5-3-9-2-4-4-8-1-5 5-4 6-4 8-7 3-8 1-6 5-5-6 0-6 5-8 2-6 2-7 3-6 2-8-4-8-2-4 8-4 2 6-5 0-5 9 0 7 7 2 3 7 2 8 9-2 8-5 3 6 7-1 5-1 8-1 8-3 9 1 6 2 6 4 8 3 8 2 8-2 5 2 5 7-6 6-4 6-6 3-6-3-9-1-7 1-9-1-4-4-7-5-6-2-7-3-8 3-8-3-7-3-6-4 2-8-6-6-6 0-5 8-6 5-3 6-7 4 9 4 5 1 6-1 5 7 8 5 7-3 6-3 6 3 6 6 8 3 6-4 4-6 6 2 7-6 4-5 7 0 3-6 9-3 7 6 2 7 9-2 5 3 9-2-2-9-3-5-6-4 0-9 7-2 8-3 7-1 7-3 6-4 6-6 2-6 3-8-1-7-7-6-6 5 4 5 2 10 2 6-7 7-7 0-7-2-3-6 2-6 6-1 7 3 3 8 8-2 6-2-3-7-6-6-6-4-5-4-7 0-8 3-6 4-1 8-5 7-4 5-3 7-6 5-5 5-1 8-7 2-7 3-9 1-4-7-2-6-5-5-7-5-1-7-7-2-5-6 5-7 6-4 6-4 8-3 6 1 9 1 5 4 6-4 7 0 5 5 6 7-1 8-1 6 0 9 2 8 9-2 6 2 7 2 4-7 3-6-8-3-4-3-4-8-9 0-7 4-1 7 2 6 7 6-6 5-7 3 2 10 5 4 8 3 6 1 4-8-3-6-5-2-7-5-8-1-4-7-4-6-3-7-5-6-5-5-7 1-6-6-7 2-5 5-6 0 1-7-6-2-9 2 6 6 3 6-4 8-5-4-7 1-6 0-10 3-3-6-7 5-8-3 0-8-9-2-6 2-3 8-6-6 0-6-5-7-8 1-6 5-2 7 8 0 6 6 8 1 5-6 4 6 8 0 7-4 5 2 9-1 5 5 6 6 2 7 8-1 6-1 6-4 7-2 4-5 10-3 5-7 7-2 6 2 4 4 8 7 0 6 9 0 1 7-2 9-4 5-8 7-4 1-8-2-8 0-8 0-6-4-6-3-9-2-3-7 1-9 8 0 8-4 2-6 4-9 7 2 0 7 2 9 1 8-6 6-3 6-8 4-5-2-8-4-4-4-4-8-4-6 9-3 3-3 10 4 6 4 3-7-1-8-4-6 6-3-2-7-8 0-3 9-7 1-7-1-9 0-4-5 6-4 5-4 8-1 5 6 6 0 7 6 6 4 5 6 3 6-3 7-4 7-5 4-6 7 3 8 4 2 7-2 7-4 8-6 7-5-4-6-2-8 8-4 6-4-2-8 4-8 8 0 7 4 7 1 5 6 4 8 2 5-6 7-7 3-5-6-7-5-7 4 1 7 7 4-3 8 7 4 1-7 4-7-1-7 5-5 4-7-4-8-8-2-4-6-7-3-4 8-4 5 0 9-4 7 0 7-7 3-7 5-4 4-6 2-8 0-5-4-8-3-6 5-8-3-7-4-2-4 0-11 0-7-6-4-8-2-7 0-7 2-7-1-4-7 7-6-6-8-7-1" stroke="#d85555"/>
<path d="M48 876l4 5 7 5 0 6 7 3 7-3 8-1 6 1 8 1 5 3 9 0-4 9-5 5 1 7 5 4 8 1 7 2 1 7 2 5 3 9-4 3-5 7 7-3" stroke="#d85555"/>
<path d="M320 952l3 7 8 2 5 5 3 6 6 3-2-9 4-6 7 2 0 5 5 7-5 6-7 1 3 6 0 6-4 8 5 5-4 6 3 7 5 5 7-4-4-6 5-5 7 0" stroke="#d85555"/>
<path d="M437 910l-5-7-7 1-8 1-8-2-3-5-8-1-8 1-7-5 0-7 2-6 8-3 7-3 8 3 4 5 1 9-5 3-7 6-5 1-8 0-6-3-9 2-8-4-6-2-6-4-8-2-4-7 1-6 6-7 7 0 6 2 6-3 9-1 5 5-1 7 7 3 6 6 6 3 9 3 7-1 7 3-4 5-2 5-2 8 4 7-4 8-1 7 7 5 7-5 6-2-1-6 0-9-5-7-7-3-4-6 0-6-5-5-6 1-8 5-5 3-7 4-4-5 1-9 7 1 1 8 0 6-5 7-5 6 2 8 3 7 7 1 4 9 7-2 6 3 7-3 0-8-6-6-8 0-6-6 5-3-2-6-4-7-2-8-6 0-9-1-8-1-6 4 1 8-1 8-1 6 3 9 5-1 6 4 9 1 5-4 9-3 5-6 7 3 9-5 1-7-7-3-3-8-4-6-7-3-6-5-4-7-9 0-5 3 1 5 0 9-3 7-1 7 5 7 1 7 5-4-2-7-7-3-6-7-3-4-9-2-7 3-5 6-5 6-7-2-3-10-2-6 2-6 6-9 3-5 6-5 7-4 7-4 9 0 1 8-3 7-3 5 2 10 5 5 1 7-6 7-6 0-8-5 3-8 6-3 8-2 6-1 8-2 8-1 6 5 5 5-4 7 4 5 6 5 2 7 6-3" stroke="#d855d8"/>
<path d="M349 840l5 7 1 9 9-3 6 7 6 0 7 4 6 4 2 8 2 7 7 6 7-2 7-3 3-9 5-6 8 1 3-8 2-7-2-5 1-7 5-8-4-6 6-5 4-7 3-8 6 0 3 7 3 7-3 7-7 2-4 8-7 2-5 4-1 9 0 8 5 6 1 7 0 7 7 2 3 7 5 5-3 6 3 9-1 7-4 5-5-5-1-9-8-2-7-1-5-4-8 2-9-4-5 0-7-3-6-4-7 2-9 2-8 0-6 2-8-2-3-7 3-4 4 5 7 0 5-5 2-5 1-10-4-6-2-7-3-7 3-9 7-1 5-6 6-4 5-5 9-3 2-7 3 7 8 2 7-6 3-6-8 4-7-3-7-3-8-1-4 7-7 1-9-3-7 2-7 4-7-1-7 5-5 6-4 5-7 5 0 6 1 7 7-1 6 2 1 7 0 9 7 5 7 3 6 4 5-5 0-8 4-6-1-8-1-6 2-8 3-7 1-9-1-6 1-7 2-8-1-7 4-6 6 0 7 8 0 8-3 6 3 7 7 3 9 4-1 8 8 3-1 7 8 3 7 1 6 1 9 4 3 7-2 7 4 8 5-2 9 1 2 8-8 3-4-4-8-4-5 5 2 7-6 7-7 1-8-1-8-5-6-2-5 4-6 4-5 6-9-1-6-2-8-3-7-1 7-7-1-7-5-8-6-3-4-6 4-7 5-3 9-4 7 4 4-7-3-7-9 0-4-5-4-7-1-6-1-8 3-9 7 1 8-3 8-3 5-5 7 2 0 5-5 9-3 7-4 4-6 6-6 6 1 7-1 9 2 6 2 7 6 4 8 3 9 0-7 6-6 6-5 4 2 9 6 4-8 4 2-6-7-1-7-1-4 5-6 6-7 3-9-1-2-6-3-7 0-8 7-6 6-2 8-2 5-7 7 1 6 5 3 6 10 2 7-3 5-4 9-1 5-4 8-1 6-4 9 2 1 7 4 8 5 3 7 4 3-4 7-2 0-9-1-7-6-6-1-7-7-4-7-2-7-5-3-5-5-8-6-3-7 0-8 0 1-9 6 0 6 6 7 2 10 0 5 2 7-5 7 2 8-1-1-8-6-7-4 8-7 2-6-2-8-1-2-9-2-7-1-6 6-6 5 2 8 4 8 1 3 7 5 6 2 6-3 7-1 8 1 8-6 2-8 2-8 4 5 7 3 6 2 8 6 4 10-1-1 6 9 3 7 3 5-3 5-5-9 0-7 0-5-2-2-10 4-5-3-8 1-9 7 2 6 3 4-7 6-5-6-5-8-2-8-3-4 5 0 7-8 2-9-3-5-3-9-1-6 5-6 2 0 8 1 7 1 9 3 6-2 8-3 5-2 8-3 6-9 3-8 2-7 3 2 7-7 5-9-1 0-7-1-8 0-8 2-8 8-2 3-6 3-7 3-7 5-7-3-8 3-7 5-4 6-8 7 0 4-6 5-3 9-3 5-5 8 0-1 7 4 7 4 8 2 6 0 6 7 6 3 7 3 9 2 6 5 5 6 3 0 9 8 5-6 5-2 8-8 4-5-8-6 5-8 1-7 4-8-2 2-9-5-5-1-7 2-6 4-8-5-7-8 0-7 1-7-2-7 2-8 1-6 6-6-1-8 4-5 5-4 9 9-1 5 6 6 2 2-7 6-2 6-4 9 0 6-5 6-4 8-2 6-3 7-3 7-2 8-3 7 3 3 6 7 4 7-1 6-3 7-7-7 5-7 3-5 6-7-3-6-4-8 3-6 1-8 3-5 6-4 7-5 1-9 5-5 2-5-6 6-4 4-5 2-7-6-6 6-2 4-8 4-6 7-3 8-3 0-9 0-5-5-7 5-5-2-8-2-7-2-7 2-6 5-7 6-5 8-3 6 3 5 4 9 0 5 4 0 7 0 9-8 2-3 8-5-5-7-1-7-5-3-7-4-5-5-7-8 3-6 0-7-1-7 5-7 5-7-4-7 3-3 7 0 6-5 6-9 1-6 2-6-2-8-2 0 6 5 7 4 5 8 5-2 8 1 8 7 5 4 6 0 7-1 8 5 3 5 6 9 3 5 2 1-8 0-6 1-7-1-10 6-5-4-6 1-8 1-8-6-3 2-9 8-3 2-9-4-5-6 4-6-7-8 1-4 6-4 5 0 9-6 5-7 4-3 8 0 7-4 5-3 9-4 5-3 7 2 9 8 2-4 7 4 8 6 2 5-5 9-4 7 3 7-1 6-3 7-3 9 0 5 5 9-3 3-7 9-2 1-7 3-9-4-6 5-6 7-2 9-1 6 2-4 5-5 5-3 6-8 5-5 6-5-2-7-1-9 0-1-6-3-6 5-5 7-5 6-2 4-9 4-5 7-2 7-6 7 0 7 5 6-2 3-7-5-2-9 1-7 0-3-8-8-5 0-5 0-6-2-9-7-5-1-6-11 3-5-1-1 8 2 7 6 7-7 0-6 2-5 8-3 7-1 6 6 4-2 8-4 6 5 8 6 3 6 2 2 5 2 7 0 8-6 2-7-5 3-8 0-6 6-6-1-7-5-5-8-3-4-6-1-7 0-6-7-6-3-8-5 0-8-5-5-3-4-7-5-6-8 0-4-3-7 6-2 6 4 7 1 8-1 8 5 3 0 8-3 7-2 7 2 8 9-2 8 1 8 0 5 1 8-1 9 3 0 8 0 7 6-1 6 5 5 7-6 5-7 5-4-3 0-8 4-6-2-9-3-6-4-7-2-7 2-5 1-9-10-2-8-2-5 4-8-3 0-7-8-3-6 4 0 6 8 3 7 1 6 2 6 4 0 7 3 9 6-2 8 4 6 2 3 5 0 9-4 5 6 7 5 3 7-2-2-8 8 3 8 1 6 2 8 3 7 2 6-5 7-1 3-7 4-6 6-4 7-2 5-8-4-7-1-6-7-4-5-4-7-3-7-6-9 1 1 7-7 5-4 3-4 10 4 3 7 5-1 7 5 5 5 6 3 7 6 7-1 6-5 6-6 5-6 2-9-1-2-7-3-8 1-8 0-6 3-6 3-8 8-1 3-5 0-8-2-6-8-4-5-7 1-7" stroke="#4848d8"/>
<path d="M460 900l7 2 2 8-5 4 1 7 3 5-2 9-3 6-5 6 7-4 4-4 10-1 4-5 7 0 5 3 8 2 8-2 6-4 5 5-3 8-4 6 6 4 2 7 6 6 5 2 5 5 2 7 8 0 3 7 7 1-1-7 7 5 0 7 5 2 6 4 5-6 7-3 7 2 3 5 0 7-9-1-5 1-4-6-9 0-6-4-5 4-3 8-3 6-6 3-6-1-3-6-7-3-7-3-7-3-5 1-8 0-9-3-6 3-4 6 1 6-2 8-7 0-7 1-8 2-6-1-1-6-9-2-4-3-4 4-7 6 6 5" stroke="#4848d8"/>
<path d="M328 632l6 4 6 1 8 0 2-6 8 0 5 4 4 7-1 7-6 4-9-1-5-4-6 5 0 7 3 6 6 3 8-1 3-3 7-1 6 3 6 6-4 6-7 3-5 4 3 4-4 9-5 2-4 8 6-2 8 3-4 4 6 1 8-2 7-1 7 1 6 5 3 6 3 7 5 5-2 8-6 3-5-8-5-5" stroke="#0000d8"/>
<path d="M432 720l0 8-2 7 2 7-5 3 5 5 7 5 7 5 4 5 7-1 6 0 5 8 7-2 6-2 0 8 7 2 4 7-5 4-3 6-4 6-4 3-9 4 8-2 7 1 3 9 8-6 4-3" stroke="#0000d8"/>
<path d="M516 741l7 6-2 6-3 8-8 1-3 6-3 7-3 7-7 1-4 6-3 9 1 8 5 5 7-6 0-9 7-3 4-5 8 1 9 3 6 3 8 1 5 5 6-3 5-7 2-5 8-5 4 3 6 6 7 2 7-4 6-1 4-6-1-8 2-8 5-6 0-9 1-8-5-4-5 4-7-4-6 1-10 2-4 4-6 6-6 5-7 3 5 9-1 7-5 5-6-4 0 9-5 5 2 7 2 8 6 1 9-2 2-7 3-8 6-6 0-6-8-6 3-7-8-4-6 3-8-2-7-4 6-8-7-3-2 7-3 8-5 5-4 6-8 0-7 4-6 2-6 7-6 4-8-1-4-4-8 4 4 6 8 2 4 6 3 6 5 7 4 5 8 5 6-3 6 6 7-3 3-7 5-4 8-5 6-6 2-6 4-6 8-4 7 3 9-4-1-8 1-6-7 2-8-2-7-2-6 1-10 0-6 0-6 4-8 2-7 0-7-2-8 3-6-3-6 5-3 8-6 3-2 7-6 3-7-5-7-3-9 0 3-7-1-7 8-4 7-1 8 1 5 6 3 7-7 2-7 6 7 5 3 7 7 4 7 1 8-1 7-1 7-5 7 2 6 5 8 1 7 0 8-2 4-6 5-7 7-2 3-7 1-8 3-6 8 1 6-2 3-7 4-6 7 2-3 6-4 7-6 6-7 3-7 1-7 0-7 1-8 4-1 7-1 8-8-4-2-7-4-8-6-2-5-6 2-8-9 0-7-1-7-5-2-5 4-8-1-7 2-7 9-1 6-2 8-2 4-7 7-1 3-7 7-4 8 2 0 8 7 3 8 0 7 0 8-4 7 4 6 2 7 4-2 7-6-1-8 1-7 2-3 7-6-2-8-4-7 3-7-2-7 5-6 3-9 0-4 6-7 2-6-8-5 7-7 2-6 2-7 6 7 5 3-7 8-2 4 6 7 3-2 7 3 8 7 2 4 4 6 7 7 4 7 1 6-2-3-4-5-5-8-4-6-5-7 5-5 4-8-1-6 2-10-5-6 1-6 3-8 1-7 1 2-6 4-8 3-5 3-8 5-5 8-1 7 4 4 6 6 4 9 0 8-1 6-7 4-4 7 3 6 2 8-2 4 6 3 7-2 8-6 4-8 3-8-4-2-7 0-8-1-6-7-2-6 4-9 0 2-10 2-6 5-2 2 6 1 8 9 3 9 0 5 4 0 7 4 8-4 6-8-2-7-3-7 3-1 8-1 6-7-1-7-4-4-7-8-3-6-5-5 1-7-4 0-7 1-9 7-6 5 1 7-3 7-4 8-4 6-2 6-6 2-7 5-5 8 3 7-4 6 7 6 2-2 8-6 5-2 9 2 5 5 7-4 8-8-1-6 3-8 0-8-2-4 5 0 9 4 5-6 5-7-5-2-8-4-3-6-7-5-4 3-7 2-7 3-8 6-5-1-9 7-2 3 8-6 4-8-3-5 4-6 5-9 1-3 7-5 5-9-2-5-6 0-5-9-5-8-2-7-1-7 1-4 7 2 10 5 3 8 3 7-1 6-3 5-4 4-6 1-9 0-5 8 0 6-4 8-2 6 5 6 4 7-1 4-6 4-8 4-6 7-4 2-6-2-6 5-7 7-3 4-5 9-3 6 1 4 8-4 6-7 4-5 5-8 1-8 1-7-2-8 3-7-2-2 6-4 7-9 0-7-1-8 2-8-2-6 2-7 2-7 0-6 4-7 6-1 6-3 9 3 5 2 8 7 5 4 6 6 4 8 3 6-4 2-7-6-7 7-4 5-5 9 3 8-4 5 7 7-4 7-3 8 3 5 4 4 7 4 7 5 6 6-3 9 2-1 6-4 7 1 8-6 1-7-3-7-2-7-3-8-2-8-4-5-6-3-6-7-3-5-6-8 4-1 6-6 4 3 8-5 7-5 4 5 4 7 1 10 0 4-6 7-4 6-4 7-4-1-7 2-7 6-7-6-4 3-8 6-6 5-5 7 2 8 2 4 7 0 8-8 3 0-8-9-2-7 3-4 7-3 7 3 7 2 5-3 6-7-5-7 5-6 0-7 2-10 2 2-9-4-7 3-8 8 2 6-3 6-5 8-3 2-6 7 0 7-3 5-6 8-3-4-9 6-4 4-7 5-7 1-5-6-4-7-4-5 5 3 7 3 9 3 5 9-2 6 7-1 8-2 8-4 7-5 5-8-1-2 7 2 7 0 8 0 6 8 0 5-4 8 0 5-7 6-3 6 7 9 0 1-9 6 2 6-6 5-6 0-6-8-3-5-7-7-2-9 2 4 6-7 3-7-3-2-7-1-6 1-8-7-5-9 0 1-7-4 5-9 0-9-1-6 1-2 6" stroke="#a8d498"/>
<path d="M400 672l1 7 1 6 4 7-1 6-1 8-4 5 4-5 8 1 4 4 7 2-1 7-2 7 1 6 0 8 8 3 1 9 3 4" stroke="#a8d498"/>
<path d="M548 828l-2 8 6 1 8-2 4 6 2 7 0 6 2 5 8 3 4 7-2 7 0 7-5 7 6 5 8 3 4 5 7 0 8 0 0-7 4-7 6 3 8-1 5-2" stroke="#a8d498"/>
<path d="M96 744l13 0 9 2 16 4 10 1 14 0 10 3 11 1 14 1 10 4 14-1 13 6 10-3 14 6 10-2 16 3 9 4 13 2 12 1 12-1 8 5 16-2 13 4 2 7-6 5-13-1-12-4-11 0-13-2-11-1-17-4-10-1-13-2-10-1-14-4-12-1-12-3-11 0-14-2-14-3-10-3-12 0-17-1-8-1-13-4-15 1-11-3-6 5 11 10 10-1 12 1 12 1 13 2 13 4 11 0 10 2 13 3 12 0 16 4 10 0 10 1 13 3 12 2 12 2 11 4 15-1 10 3 12 0 10 2 16 2 10 4 5 5-2 8-10-2-13-3-13-4-13 2-12-6-12 1-15-4-10 0-14-4-12-3-13 1-12-2-14-2-12-3-12-1-16-1-11-2-11-3-15-3-9-2-14 0-13-1" stroke="#44cc22"/>
<path d="M254 757l-6 4-7 6-8 0-4 5-7 7 1 7-7 5-5-3-8-4 6-5 5-2 8-3 7 0 8-3 9-3 7 2 5-2 4-7 6-7-2-7-9-2-5 5-7 0-8-3-6 0-8 1-4 5-7 4-5 4-8 0-7-6-9 0-1-7-6-7-4 7-1 8-5 4 1 9-5 7-5 4-2 10-6 2-2 8-3 5-8-2-2-7-1-10-2-5 7-7 5-2 8 3 7-1 7-2 5-8 6-6 3-5 1-7 7-5 8 3 6 2 9 3 6-3 6-7 5 6 4 9 0 4 4 9 3 7 8 3 5 7 2 5 5 7 5 6-2 7-8 3-8 2-3-5-9 1-7-1-5-6-7-4-7 2-4 6-8-6-6-3-6 2-7 2-6 6-10-2-6-1-8 3-5-6-3-7-3-4 1-10 3-6 6 1 10 0 6-5 7-2 7 3 3 5-1 9 6 4 8 4 6 0 6 4 7 6 2 7 1 7-8 5-7 0-3-6-1-6 0-8-4-7-8-1-6 0-1-6-1-7 5-6-1-9 7-4 5-5 6-2 10-3 6-2 7 0 3 7 5 4 11 1 4 6 5 5 9-1 5 2 7 4 7-3 8-4 7-2 7 3 4 5-1 8 1 7-7 6-8 4-6-2-7-3-8 1-8 2-8-2-6 2-5-4-8-2-7-2-7-2-4-4-8 2-8 5-4 2-8 2-7-1-7-4-7-3-3-7-7-3-9-3-1-7 0-8 2-6 8-4 6 0 8 4 2 7 6 4-3 9 1 8-6 4-8 1-1-7-4-9-4-5 3-7 7-1 8-3 6 5 8-1 1-9 4-4 6-6 7 0 7-3 8 6 6 1 2 8-1 9 3 4 7 3 7-1 8-1 9 4 5-3 9 0 7 2 7-6 6-1 8 1 2 5 8 5 6 2 5 7-1 5 4 7 0 7-8-2-5-5-9 0-6 5 1 6-3 7-8 0-7 0-9-5-6-1-7 0-5-7 2-8-4-6 1-8-6-6-7-2-5 5-8 1-7 3-6 4-8 5-7-4-7 0-5-1-11 1-6 0-8-2-4-7-5-1-6-1-10-1-7 3" stroke="#44cc22"/>
<path d="M99 733l12-2 12 5 13 0 15 3 9 2 15 2 11 0 13 0 13 3 13 1 12 2 12 1 12 4 13 2 11 1 14 0 13 2 10 2 14 0 15 4 11 0 15 3 8 1 7 6-8 8-14-7-12 1-11-1-16-3-12 0-13-1-11 0-14-4-11-2-11-2-15 0-11-5-11-2-15 2-9 0-15-4-13-2-10-1-12-4-14 1-14-2-11-2-13-1-4 5 3 8 15 1 10-1 11 4 16 0 11 2 11 2 13 1 13 1 10 5 13-3 14 5 12 0 11 3 13 0 11 3 14 0 10 3 15-1 12 4 12 1 11 1 13 1 14 1" stroke="#9922dd"/>
<path d="M183 776l1 7 7 5 7 1 5-2 8 1 5-3 2-8 8 3 8 0 2-8 9-2 8-1 7-1 7 1 6-5 8 4 4 5 8 1 7 1 8 0 8 0 8 1 4-3-5-4-7 1-7 2-6-5-2-7-5-7 3-8-8 0-9 2 1 6-5 6-8-4-7 1-7 2-6 7 4 8 0 6-9 6-7-2-7 0-7 4-5-7-8-1-8 3-6-4-5-2-6 4 1 9 5 5 7 3 5-8 3-7 6-4 3-8-1-7 8-4 6 2 8-2 6-3 7-5 7 5-3 8 4 6 7 0 6 6 4 7 2 5 4 7-2 10-7 1-7-4-5 4-7 3-5 5-8-2-2-7-1-8 0-8 2-7 1-8 5-7 6 4 7-3 3 7 8 3 3 8-6 4 4 6 9 1 6-5 8 4 4-7 7-1 3 9 8 1 7 5 6-4 7-3 2 8 8 0 5-6 8-2-3-9-5-6-4-6-7 0-7 3-7 4-9 0-6 6-7 5-6 1-4 6-5-7-4-5-1-8 1-7-6-2-8-2-4 7-3 7-1 8 4 5 6 3 8-1 7-4 6-3 2-8-2-6-4-8-6-5-5-6-7-6-4 6-7 6-2 7-7 4-7 0-7-3-7 2-4-6-5-6-7-3-8 0-3 6 3 9 1 6 5 7-3 4-2 7 5 6 3-6 6-6-4-6-6-5 0-6-2-9-6 2-7-2-2 7-4 9-8 0-8 4-3 6 7 2 0 9-1 5 7 3 7 4 6 2 4 7 7-1 6-6 7-5 1-6 7-4 2-6" stroke="#9922dd"/>
<path d="M118 795l13 1 13 5 10 3 13 0 15 3 11 2 14 1 10 2 13 3 15 5 11-2 14 3 13 1 12 2 10 5 15-1 11 3 12 3 5 5-3 4-12 0-10-3-14-3-14-2-12-1-12-5-15 1-8 0-13-5-12-2-16-2-9-3-14 1-10-3-11-2-13-1-12-4-14 0-5 3-7 7 13-4 12 8 12-2 16 3 10 1 13 2 14 3 9 2 13 1 13 4 12 3 11 1 14 3 12 1 13 2 11 1 14 3 9 3 7 4-3 4-14 1-11-3-16-3-8-4-17 0-9-4-11 0-13-1-13-3-11-2-13-4-14 0-10-4-14-2-13-1-11-2-13-2-11-1" stroke="#ee0000"/>
<path d="M218 836l-4-7 1-6 1-8 0-8 2-7 2-4 8-8 2-6 6-6 1-8 9 2 6-1 5 5-6 5-4 5-4 9 1 7-5 7 1 7-7 3 1 8 2 7 8 2 7-5 7 2 6-6 6 6 6-4 7 2 7-2 7 5 6 2 7-4 7-4-1-8 1-8-8-1-3 6-5 6-7-3-8 6-7 3-4 6-9-1-6-1-8 4-5-7-3-3 2-11 7-3 6 1 8 3 6 3 7 3-2 7-5 7-4 5-5 5-7 4-7-3-8 0-5-5 4-7 1-6 5-7 7 3 6 4 7 1 8-3 7-3 5 6-5 4-6 7-9-1-5-2-7 3-8-1-4 6-9 2-6-2-7-4-7-4-5-4-6-3-7 3-6-2 0 5 6 7 8 1 5 2 6 7 6 3 7 0 8-1 8-1 8-4 4-6 5-4 0-9-2-7-7-1-6-5-9-1 3-9 7-4 5-2 7 1 3 7 6 1-2 7-3 8-5 2-8 2-3 6 4 3 6 7 0 8-6-5-8 5-8-3 0-7-7 0-9 0-3-8 6-6 6 0 8-2 7-2 7 7 4 6 8 0 6 5 7 4 5 5 6 6 8-4 1-4 8-5 7-4-7-4 1-8-11 0-4 4-7 4-4-6-3-7-3-7-7-6-6 4-5-6-8-1-8 1-7-3-6-4-8 1-1 8 1 7-4 5-8 4-7-2-7 3-8 4" stroke="#ee0000"/>
<path d="M308 661l-4 6-9 5-7-3-6 1-7 5 2 5-5 8-5 8 5 6 4 8 5 4-2 8 5 7 2 7-1 5 3 9-8 3-7 5 0 7 2 8 1 7 7 0 7-2 3-8 5-5 1-7-5-5-5-4 2-7 5-4 0-8-3-7 6-5 7-1 9-2 0-6-7-5-6 3-9 2-5-5-6 7-9-3-4-7-7-3-6-5-7-1-5-8-6 6-6 2-8 4-1 7-4 8-5 5-8-1-7 4-4-5-4-9-4-5-1-6 7-5 8 0 8 1 0 6 5 7 6 3 4 7 9 1 4 5 6 2 3 9 2 7-2 6 2 7 8 3 8 2 6 4 7 4 4 6 8-3 1-8 6-4 10-2 3 7 6-5-10-4-3-5-6 5-5 5-9 0-7-5-7-3-4 6-3 6-7 3-7 3-6-4-6 3-8-1-7 2-8 2-4-7 3-4 9-4 3 6 1 7 6 4 7 6 6-2 9 0 7 4 7-3 3-6-3-7-8-9-2-5-5-5 0-8 6-5-2-8 6-5 7 0 6 2 9-1 6 4 6 6-8 3-6-5-6-6-8-5 3-7-6-6-4-6-2-6-10-2-8 2-5 6-7 1-1 8-4 6 8 2 5 6 7 2 6 4 6 4 3 9 8 0 7 3 7-2 0 9-5 3 1 10 0 6 11-3 4-2 3-7 5-6 8 0 5-4 7-5 5-4 3-9-4-6-7 2-5 5-9-3-7 3-8 0-4 6-6 6-5 6-4 3-6 7 2 7-1 6-1 9-4 6-6 4-5-3-10-3-4-4-4-7-2-7 0-8 5-5 2 5 8-2 5-8 4-5-3-8 7 0 4-7 0-6 0-8-6-6 7 2 7-4 7-5 3-8 8-1 3-6-1-6-4-6 0-8 7-1 3 6 3 8 1 9 3 4 2 7-2 7-10 1-3 6-8 3-6 1-5 7-5-5-9 0-2 7-8 6-4 6-7 2-5 5-5 6-4 6-5 5-1 8-8-3-7 1-7-6-6-3-8-4 10-4 1-6 6-6 5-6 5-4 9-2 1-8 8 0 7-1 9-3-4-7 0-9 1-5 7 0 6-6 7 3 6 3 8-3 7 1 9-1 1-6 7-1 0 6 2 8 1 7 1 8 7 6 1 8-2 7 3 7-1 8-2 8-8 2-6 5-9 2 1-6-1-9 1-7 0-7 1-8-1-7-7-4-6 2-8 3-7-7 1-8 3-8-6-6-4-5-9-4-4 2-5 6 0 6 5 4 7 5 6-6 5-3 9 0 5-4 5-8 7 4 8 0 7-3 7 6 6-3 1 7-7 3-8 3-7 1-7-3-7-4-7-2-3 8 3 6-3 7-4 6-8 1-8-5-6-1-7 1-6 4-7 4-7 6-2 5 0 7 3 7-2 8 8-2 7-1 7 1 4 7 3-6 11 0 7-2 3-5 1-8 0-7 5-8-5-7 1-7 2-7 0-9 3-5 5-7 2-6 3-7 3-9-10 1-4 6 1 8-3 8 6 2 9 3 5 6 6 4 6 5 4 5 7 5 6 0 5 6 2 5-5 8-4 6-6-1-8 0-7 2-1-10 2-6 2-8 3-5 1-8 4-9-2-7-4-6-7 0-2 9-2 6-3 6-3 8-6 6 3 5 4 5 2 10-1 5 8 4 0 9 7 4 5-3 8 5 6-4 3-7-3-7-2-6 0-7-4-8 9 0 3-7 4-7 3-5-6-7-4-5-9-1-7 5-7 0-1-8-2-6-6-6-8-1-6 1-8 0-9 1-5 2-3 8-6 3 0 7 6 6 8-2 7 6 7 3 2 6 7 5 5 3 7 2 5 7 0 8 8 3-2 7 5 7 3-7-6-5-6-5-7-3-8 2-8-1-7-1-6 0-8 3-6-1-7-5-4-7-6-2-7-2-10 4-4 1-2-7 2-8 5-3 7-5 8 3 6-2 8-2 8-3 2-10 3-4-1-7 6-9 9-1 5-2 4-6 3-8-7-4-3-7-6-3-3 7-3 6-8 2-7 2-6-3-7-1-8-1-5-5-7-2-7 1-9 2-8 0-3 6-3 9-1 7 8 3 6 5 5 5 9 1 7 0 6 5 4 6 1 6-1 9 9-2 7 1 5 4 2 8 7 4 8 4-1 8-2 6-4 7 0 9-3 5-2 8-6 3-6 7-8-1-3-8-3-8 0-5-2-9-7-3-4-7-5-5-1-7 4-6 8-5 3-5 2-8 7 3 6 3 6 4 4 8 5 3 8 5 7 0 5-3 7-5 1-8 0-5 1-7 4-8 2-7 8-4 6-3 7-1 3 8 5 6 5 5 0 9 7 3 7-6 5-4-2-6-6-6" stroke="#d8d800"/>
</g></svg>
<svg x="3.5" y="270.3" width="154.5" height="102.5" viewBox="3.5 270.3 154.5 102.5"><g transform="scale(0.25)" fill="none" stroke-width="5.4" stroke-linejoin="round">
<path d="M51 1359l9 5 11 4 12 7 12 7 9 5 11 2 13 9 8 2 12 10 12 2 8 5 12 7 12 5 11 4 9 9 12 3 9 7 15 6 7 3 14 6 9 6 10 5 4 7-9-2-10-3-12-6-11-6-9-5-14-5-9-6-11-5-12-5-11-3-11-8-12-5-10-9-9-2-14-6-10-6-9-7-13-4-9-5-9-7-13-7-13-4-10-6-7 4 10 7 8 10 15 5 8 3 11 6 12 4 10 6 12 7 12 4 10 8 11 4 10 7 12 6 11 3 10 6 12 7 13 6 9 6 9 4 12 6 10 5 14 5 9 7 3 5-7 3-8-5-14-6-10-5-11-6-10-6-12-4-10-5-11-7-11-5-12-6-10-5-11-7-10-6-13-2-12-8-8-6-13-6-11-3-7-8-16-7-9-1-10-7-8 2 1 6 12 5 12 7 8 6 8 3 15 8 10 0 10 8 11 6 13 6 10 5 11 5 9 4 11 7 11 5 11 6 12 4 11 4 10 9 10 4 11 4 9 5 10 7 4 7-1 5-11-6-11-6-11-5-9-6-12-7-8-4-14-5-11-7-13-4-11-4-9-6-11-7-10-4-12-7-14-6-10-7-9-4-10-4-15-7-10-4-9-6-13-5" stroke="#4848d8"/>
<path d="M206 1389l-7-3-7 5-7 2-3 7-2 7-7 4-7 0-4-7-5-6-7 2-6 1-7 4-6 3-7 4-4 7-7 4-8-4-7 5-7-4-5-5-7-3-7 3-8 1-6-6 0-7-4-9-1-6 4-7 8 0 5 4 7 3 7 1 8-3 6 6 2 6 5 7 5 5 8-1 7-2 5-7 5-3 7-5 6 5 7-3 2-9 3-7 8-1 6 1 6-3 6 5 6 2 10 3 3 6 1 7-6 8-7 2-5-4-5-6-9-2-4-5-7-3-7-2-7 6-6-2-8-5-5-4 2-7-5-8-4-4-4-6-2-7 4-6 6 2 6 3 1 7-3 8 4 6 5 5 4-8 7 0 8 1 5 5 5 9 5 2 5 7 7-1 8-4 3 5 6 6-2 6-9-2-5 7-6 1-7 2-10 2-3-4-9-3-2-8-2-7-6-5-7 0-8 2-6 4-2 5 2 7" stroke="#4848d8"/>
<path d="M37 1253l10 7 12 1 12 4 14 5 11 5 11 4 15 2 8 6 14 5 11 4 11 4 13 2 12 5 11 5 13 4 11 3 11 5 12 5 16 5 8 4 11 3 4 6-7 5-10-6-12-6-12-1-11-5-12-5-12-4-12-3-13-3-9-5-13-3-7-5-14-4-12-4-12-4-10-4-14-6-10-1-11-8-15-2-12-5-9-5-6 4-3 4 12 5 13 3 11 3 15 7 11 6 11 4 12 3 10 3 10 5 14 3 12 3 13 5 11 5 10 5 12 6 12 2 13 3 12 7 11 1 13 5 10 5 4 6-6 1-11-2-11-5-12-3-11-6-13-4-11-4-12-4-12-4-13-3-9-5-13-3-13-6-11-1-11-5-11-3-13-7-13-3-10-4-13-5-10-3-10-6-7 4 1 5 10 3 10 8 14 2 13 4 9 5 15 4 11 5 10 4 15 4 9 5 13 3 13 3 13 5 10 3 11 4 13 5 9 4 14 7 12 0 12 6 12 4" stroke="#0000d8"/>
<path d="M87 1253l-1 7 1 10 6 5 5 3 6-3 9-1 1 8 0 7 9-4 8 0-1-8-5-3-7 0-7 6-3 6 1 6 0 8 5 6 5 5 5 6-6 7-4-9-6-4-6 0-3 5-8 1-7-3-4-5-6 6-7-2-6-2-2-9 0-6 2-7-3-6 3-6 6 5 4 5-3 9 5 6-7 1-7 5 7 5 7 2 5-1 6-7-3-5-5-3-1-11 3-5 8-3 3 7 4 4 4 9 7 5 4 6 2 7 8-3 7 1 9 0 7 0 6-6 2-8 1-6-4-8-7 1-6 7-7 0-5 5-8-1-3-7-6-3-8 5-8 0-2-8-6-2-10-4-4-4-9 1-2-5 1-10 5-4 6 3 4 6 6 6 6 5 9 1 5 3 4 5-6 5-9 0 3-8-5-5-2-7 8-3 5 5-1 7-8-2-4-7 8 0 7 0 8 0 6 6 3 7 2 7-6 6-6 4-4-6-9-5-5-4-7-1 4-5 5 4 5 5-2 6 0 8 4 6 6 6 6-3 4-6 7-5 5-6 4-5-1-8-7-1-8 0-9-2-2 6-4-6 4-7-3-8-6-3-10 3 2 9 4 6 4 6 6 1 4 7 7-5 5-4 5-8 9 1 4-5" stroke="#0000d8"/>
<path d="M32 1300l-1-8-5-1-5-8-4-6 1-7 3-6 7 2 8 0 5 3 8 0 7 1 3-7 7 1-5 3-3-5-3-5-7-1-8-3-3-5 9-2 4 5 3 6 7-2 7 1 6 2-6-3 2-5" stroke="#0000d8"/>
<path d="M181 1360l14 3 10 2 13 5 13 1 9 5 16 2 12 4 8 5 14 3 10 4 12 5 10 2 11 4 12 4 14 3 10 7 14 2 12 6 9 1 15 5 10 1 11 4 13 5 11 3 4 6-4 5-11-7-11-2-14-4-9-1-12-7-11-2-12-2-9-5-16-6-10-2-9-3-11-5-11-3-14-1-12-7-11-1-12-3-12-4-9-3-14-5-11-6-11 0-14-7-10-5-6 6 2 4 10 5 10 2 14 4 13 5 11 4 13 2 10 4 13 4 11 4 9 3 15 2 11 5 13 7 11 1 11 3 10 3 12 5 13 3 12 4 12 4 11 5 11 4 12 2 10 2 5 7-13 1-10-5-10 1-13-4-12-6-13-4-12-5-12-3-11-5-12 0-11-6-12-4-11-2-13-4-12-8-10 0-13-3-12-4-12-3-10-6-10-2-13-3-14-5-11-3-12-4-5 2 6 7 9 3 14 3 13 3 11 6 11 3 13 5 11 4 9 1 15 5 12 4 14 3 10 6 13 2 10 5 14 3 13 5 12 1 7 5 15 3 12 5 11 4 13 3 12 3 11 4 4 6-7 3-9-2-12-7-14-3-12-1-9-5-15-4-12-4-13-3-10-5-13-6-13 0-11-5-13-2-10-2-14-8-13-4-10-3-12-4-12-5-13-3-14-4-10-4-11-3-12-4" stroke="#d85555"/>
<path d="M226 1366l11 5 10 3 15 2 10 0 14 4 13 3 12 3 13 5 11 1 14 3 10 2 11 2 15 4 14 2 7 2 6 7-11 2-14-3-11-3-13-1-9-6-15 0-12-4-11-3-12-2-15-3-10-3-10-1-15-4-11-3-13-2-11-2-7 2 13 5 10 3 11 5 13 3 7 1 14 3 12 2 14 3 7 1 15 5 10 2 11 3 11 1 10 2 15 6 12 0 2 6 0 6-12-5-12-1-11-5-15 0-10-6-15-1-12-3-11-3-12-3-14-3-11-2-13-1-11-4-14-2-12-3" stroke="#9922dd"/>
<path d="M186 1297l10 0 12 3 15 6 8 2 14 5 11 4 10-1 11 9 12 1 13 4 11 6 14 4 12 2 11 4 9 3 11 5 14 2 11 2 12 4 3 7-7 4-12-5-11-5-12-4-12-2-11-4-11-2-13-6-12-2-10-3-12-5-15-4-9-4-12-1-11-3-12-3-13-5-11-4-12-5-12-2-5 2 3 7 14 0 9 5 13 6 11 3 10 4 14 0 10 5 13 4 10 3 11 6 12 1 13 5 9 3 12 4 11 2 14 3 11 5 12 3 9 4 3 5-5 2-13-3-8-3-15-3-8-6-13-3-11-1-12-3-12-4-8-4-16-3-9-4-13-5-9-2-14-4-10 1-10-7-11-5-14-2-12-6-4 4-1 3 12 7 9 1 14 6 11 4 12 0 13 8 10 1 11 2 11 4 15 4 9 3 15 5 8 5 11 4 11-1 15 6 11 4 11 4 11 4" stroke="#ee0000"/>
<path d="M303 1350l7 1 8 5 6 3 7 0 8-4 8 1 6 2 3 7-5 6-5 3-7-3-8-2-8 1-5 7-6-5 0-7 5-8 0-7 3-7 7-5-2-7 7 1 3 7 6 2 3 10 6-5 7 2 6 5 5 4 7 0-1 7-8 4-6-4-7-5-6 2-5 5-9 0-6 2-7-4-5-4-8-1-8 4 0 8 1 6 7 5 6 0 4-7 1-8 6-3 3-8-3-6-1-8-8 1-4 7 2 6 4 5 7 1 7 4 5-4 8-6 8 2 6-3 4-5 7-3 1-8-5-8-5-3-8-5-3 8-4 9-7 2-3 7 0 7 6 7 6 5 1 7-3 7-9 1-5-4-6 3" stroke="#ee0000"/>
<path d="M401 1239l4-6 9-1 7 1 6-6 0-7 7-3 7-5 7-2 6 4 7-6 5-5-2-9 5-8 6 1 1 7-4 4-2 7-5 6-6 5-8 2 1 7-4 5-9-1-5-3-8-2-6-4-8 2 2 8 4 6 8 2 7 1 6 4 3 8-1 7-2 9 6 4 10 0 6 0 6-4 6-6 4-5 1-7 1-7-11 1-7-5-7-2-5-3-4-8-8-1-9 1-4-4-9 2-4-7-7-3-6-2 5-8 8 0 9 1 7-1 4 7 4 7 7 1 6 5 4 8 8 2 5 0 5-5 7 3 3 8 6 2 8 3 5 6 6-6 7-4-2-8-1-7-3-8-9 2-5-3-8-5-4 4-7 0-4 9-7 3-7 4-5 7 1 7-1 9-7 2-4 4-9 2 0-8-3-7 6 4 7 0-5-5-1-6-4-8-5-3-8 3-6 2-6 4-2 7 7 0 5-4 2-6-7-4 2-6 1-9-8-2-3-8-1-8 2-6 8-1 6 0 9 4 5 3 8 4-2 5 4 9 3 5 4 8 4 7-3 7 3 6-5 6 2 9 1 7 5 2 6-6 1-5-2-8-4-8 2-7-3-7-3-8-3-7-2-7-6 0-7 4-7 5-7 3-5 4-8 5 5 7 9 3 5 1 6-8 5-5 7 3 5 5 5 5 7 4 7 2 8-1 7-4 8 3 0 8 4 5 3 8-2 8-3 6-6 6-6 3-7-3-8-1-7 1-8 1-2-6 2-6 3-8-3-8-5-5-5-6 3-7-6-3-7-6-4-8-4 8 7 3 5 2 10 6 1 6 1 7-2 7 5 8 5 3 7-3 7 0 6-4 0-7-4-6 1-7 3-8-5-6-1-8-4-5-4-7-5-3-6-6-3-6 0-8-2-6-4-7-8-3-6-3-5-5-7 4 7 6 7 1 1 5 10 2 1 9 0 7 3 8 6 3 0 9-4 4 4 6 2 7 7 1 8 1 8 3 7 3-1 6-7 3-6 6-7 3-6 4-4 6-9 0-5 7-6-6-2-5 2-9 1-8 3-7 6-4 8 0 8-1 5-4 8-5 8-3 6 3 7 1 3-5 5-6 3-9 2-8 3-7 7 2 9-1 8 0 1 6-3 10-6 3-4-4-6 4-8-2-5 7 1 8-7 4-5 6-5 6-6 3-2 6-8 3-2 8 0 5-6 4-7 2-8 3-7-3-7-4-5 2-9-2-7-1-6-5-7-5-2-7 6-4-6-6 1-9 5-5 2-7 4-8 8 3 6-3 4-6-2-10-1-6 8 1 3 8-4 6 3 8 1 6 7 2 6-4 8-5 6-3 4-3 1-10-6-5-7 0-9 1-6 4-5 7-6-2-3 8-5 5-1 9-8 3-6 6-7 2" stroke="#d855d8"/>
<path d="M428 1160l-5 7 2 4 5 6-2 8 9 2 3 1 7 7" stroke="#d855d8"/>
<path d="M404 1360l8-2 5 2 5-7 6 6 3-8 5-8 2-5 6-2 7 3 5 6 8 3 7-2 7-1 1-8-3-8 9-2-4-6-1-8-5-5-3-7-6-8-6-2-7 0-4-7-6-4-9 1-6-4-5-7-7 0-8 6 3 6-8 5-4 1-8-5-2 6 0 9 5 5 7 2 8-1 9 0 7 1 5 5 1 6 6 6 2 7 1 8 1 7-2 8-4 7 4 6 9 3 5 1 9 1 6-5 0-8-5-5-6 5-8 1-4-7-6-3-3-6-5-5 1-9-2-7-5-7-1-6-5-6-6 4 1 7 0 10-5 3 1 9-2 6-4 7-8 0-4-4-2-9 2-5 2-8-3-8 2-7 5-2-1 5 2 10 9-1 6-3 1 8 3 6 3 7 6 3 8 3 7 1 7-4 8 1 1-7-6-6-2-9-5 1-8 0-8-1-9 3-7 3-6 3-7 0-3-6-6-6 0-9 2-7 7-4 7 1 6-6 9-2 2-6 9-3 2 6 5 7 7 0 7-3 7-2 7-6-4-9-7 3-6 3-7-4-4 6-1 9-2 8-4 6-7-5-2-7-7 5-4 6 3 7 5-2 8-1 8-2 6 1 0 8 3 7-1 7 7 2 8 5 0 8 6 2 4-4 8-3-4-9-6-5-4 0-9-2-4 7-6-2-8-1-5-5 1-8-4-8-6-2 3-7 1-9-2-7 8-3 7 0 9 0 5 5 4 4 5 7 4 5 8-3-1-6-4-8-6 2-7 3-5 5-7 3-6 5-8 1-8-3-5 6-8-3-7-2-7-2-6-3-7 0-7-3-8 4 0 7 0 10 5 5-1 9 6 2 6 0 8-1 7 3 7 1 8 3 6 0 9 0 3 4 7 5 7-3 6-7 7 6 7 4 8 0-2 5-7 4-7-1-7-4-8-1-7 4-6-2-7 0-7-4-4-7 2-7-5-6-7-3-7 3-4-8-2-6 2-8 6-7 6-3-4-7-1-7 6-1 8 7 6 1 7-6 5 1 10-1 4-6 8 0 6-1 2 8 7-2 6-1 10 3 5 6 1 5 3 11-4 4-8 0-6 1-6 8-7-7-6-3-6-6-6-1-7 3-5-4-8-3-6 0-5 3-9 1-7-1-1 6 1 7 4 7 5 5 7-3 3-7 10 0-3 5-5 8 4 7 2 7-8-1-3 8-7 2-2-6 2-7 9 6 5-2 7-5 8-4 5-6 7 4 7-1 3 6 2 7 6 6 8 1 5-1 10-1-2-8 3-7 2-6-3-9-8-2-5-5-3-8-5-4-7-1-8 4-8-2-6-2-7-3-7-3-6-3-8 5-6 3-7 3-3 7 7 6-1 6-1 9-4 4-5 6 1 7-4 7 5 6 5 6 8 1 6-5 3-6 0-5-3-7-10-3-3-6-4-4 1-9-3-8 1-8 7-1 7 3 6-6 7 4 7 2 7 1 5 3 2 8-2 9-8-2-6-2-8-1-8 0-4 6-4 6-8-3-3-7-5-5 0-7 8-2 2-8 7-1 6-7 5 1 5 6 0 9-6 0-1-8" stroke="#4848d8"/>
<path d="M352 1220l2 7 9-2 5-4 7-4 3 5 2 7 3 7 8 2 6 2-2 9 1 7 6 4 8-3-2 8-1 4-8 4" stroke="#4848d8"/>
<path d="M487 1367l11 10 9 7 12 6 9 6 9 9 13 7 8 7 11 6 10 8 8 6 11 6 9 9 12 5 7 8 4 7-7-1-8-4-9-7-13-8-9-6-10-6-10-8-9-4-9-10-13-8-9-7-10-6-10-8-11-6-7-5-7-1-2 4 10 6 7 9 16 6 8 8 13 8 8 7 10 8 12 8 10 7 13 5 9 10 11 8 10 5 8 7 5 8-8-2-12-10-13-5-8-10-11-4-14-10-8-4-9-8-10-9-11-4-9-10-13-7-10-6-10-5-9-9" stroke="#a8d498"/>
<path d="M589 1376l-3 9-4 5-8 4-6 0-8-2-8 1-1 6-9 3-7 0-5 4-8-2-5-8-1-6 4-5 9-4 4-5 7 0 3-7 3-8 0-9 8-2 8 2 4 6 6 6-5 5-4 8-8 3-4-5-6-4 1-9-5-5-4-6-3 8-8 2-4 6-4 7 6 7 1 5-5 6-7 4-6 1-8-1-4-7-3-7-7-2 0-8-2-7-3-6 8-3 5-3 4-6 7 1 5-6 5 7 1 8-4 7-7 5-6-6 1-7-7-7-6 2-2 9 6-3 8 5 9 2 2 6 7 5 0 7-2 9 4 5 9-1 7 1 8-4 7-4 5 5 0-8 4-5 2-7 5-7 7-3-1-6-7-5-8 1-7 0-3-7-1-8-8-1-7-2-6 1-4 6-5 6-5 7 4 7 1 7-3 8 6 3 8-2 6 1 9 0 2-10-4-5-7 3-8-3-8-3-1-7 4-6 6 3 8 4 6 5 5 4 4 8 7 4 7 4 7-4 5-4 3-8 8-2 5 8-8 4-7 2-5 4-7 6-3 5-7-1-8-4-7 0-2-6 5-2 8-3 4-9 5-4 5-4 8 3 2-9 5 6-6 2-8 0-6 4-7 4-7-6-7 0-6-4-3-7 6-4 6 8 5-4 7 4 6-2 7-4 8-1 4-9-11 0-7-1-4-7-5 5-4 7-7 4-1 5-6 7-5-6" stroke="#a8d498"/>
<path d="M117 1172l11 3 11 7 9 4 13 5 12 6 10 4 11 3 13 7 10 5 12 3 10 7 10 2 10 6 16 5 9 7 11 4 12 7 11 1 10 9 12 2 3 6-8 2-12-6-10-4-11-4-11-8-11-5-12-1-9-4-11-7-12-4-10-4-11-7-12-4-10-3-9-8-14-4-12-4-10-5-13-6-7-3-14-3-4 0 2 5 11 4 11 5 11 5 9 6 12 3 11 7 12 4 9 4 12 5 11 3 10 9 13 3 7 7 13 1 11 8 10 3 11 5 9 5 14 5 8 5 5 5-9 2-14-8-8-4-8-4-12-5-13-6-9-5-12-4-13-5-9-3-10-6-13-1-10-9-10-3-12-8-13-2-9-4-12-6-13-3-8-5-10-5-7 1 8 6 12 6 10 7 12 3 11 7 12 5 9 2 10 4 12 5 10 9 9 2 13 4 11 7 9 0 11 7 10 5 12 5 12 4 10 4 9 7 11 2 3 8-1 5-13-7-11-7-11-2-10-5-12-5-11-5-11-6-9-3-13-6-10-3-11-6-10-5-13-5-9-3-11-4-13-5-9-4-12-6-9-6-11-4" stroke="#d8d800"/>
<path d="M214 1241l3-8 5-5 2-8 6-2 7 0 7-2 4-8 7-2 9 2 6-1 4-4 7 4 6 1 7 5 4 8 5 5-6 2-1 8 7 5 6 2 2 7 1 8-7 3-8 4-7-1-7-2-6-8-5-2-7-1-7 3-10 1-4-5-7-5-6-2-6-4 1-9 0-5 3-8 7 2 8 1 6 3 7 4 7 3-2 7-2 8-2 6 2 8 3 5-1 8 7 5 6-7 5-3 4-9-6-1-7-2-6-7 3-8-1-5-2-9-3-6-2-8-8 2-8-3-5 0-9 1 0 7 1 6-7 5 2 7-4 6 4 8 6 2 4-7-6-5-7-4-6-2-6 7-6 3 3-7 2-9 4-3 5-9 4-3 9 1-2 8-7 0-7 1 1 5 6 6 7-2 7 5 6 3 3-7-3-4-4-7 2-6 1-10 1-6 7-3 6 2 9 6 3 6-5 7 1 8 0 7 4 7 8 1-1-8-7 0-7 1-8 2-1 8 5 3 0 9-8 1 5 8 7 3 7 1 7 0" stroke="#d8d800"/>
<path d="M200 1114l12 5 10 3 11 6 13 4 12 5 10 6 13 3 13 3 9 5 13 9 13 2 10 3 12 6 10 6 10 1 16 6 2 7-9 2-14-5-9-6-14-3-10-5-11-6-10-4-14-4-13-5-10-7-9-3-13-6-13-3-9-3-13-6-11-3-12-7-5 3 0 5 12 5 11 5 13 1 10 9 11 3 12 7 11 4 12 5 14 4 10 5 10 5 14 2 9 5 13 5 12 4 10 5 4 7-1 4-11-4-12-5-12-4-14-7-9-7-12-1-14-5-12-5-10-4-13-6-12-4-11-4-13-5-10-4-12-8-13-4" stroke="#44cc22"/>
<path d="M274 1163l7-2 5-7 4-7 10 2 5-4 7-4 4 7 8 3 5 4-4 4-8-1 4-8 7-2 0 7 3 7-2 8 8 1 7 0 2 9-6 5-7 1-6 0-9-4-6 0-5-4-2-9-7-2-5-4 5-8 8-5 6 1 6 4 8-1 7-1 8-3 5-6 4-6 5-5 8-1 3 7-1 7-8 2 0 8-2 8-8 4 0 7-8 7-6-1-7 6-2 5-9 0-6-4-6-6 0-7 0-8 7-1 7 2 1 9 2 6" stroke="#44cc22"/>
</g></svg>
<svg x="3.5" y="382.8" width="154.5" height="102.4" viewBox="3.5 382.8 154.5 102.4"><g transform="scale(0.25)" fill="none" stroke-width="5.4" stroke-linejoin="round">
<path d="M107 1781l10 8 10 7 11 6 10 7 13 4 9 8 10 8 11 5 10 6 10 7 11 9 9 4 13 5 9 9 11 7 8 5 3 6-8 2-11-8-10-6-12-4-8-7-11-7-9-6-12-7-8-6-9-7-13-4-11-7-8-7-11-8-5-3-15-9-12-5-5 2 1 5 7 6 10 8 14 5 10 6 10 8 10 7 14 7 8 3 10 9 11 7 10 6 11 9 10 1 10 11 13 7 10 4 2 8-9 1-9-6-12-6-10-7-12-6-8-4-10-11-11-4-11-6-8-7-13-7-9-7-10-6-11-7-10-4-12-9-9-6-7 3 4 6 9 8 8 7 10 6 12 8 10 5 11 6 10 6 12 6 9 5 12 7 7 6 12 7 8 9 9 4 11 7 12 6" stroke="#4848d8"/>
<path d="M48 1800l-8 0 1 8 3 5 0 8-4 7-3 7-6-1 2 8 5 3 8-5 6 3 2 7-4 7-2 7 5 7-4 5 6 4 4 9 0 5 0 7-7 5 0 7 9 4 4-8" stroke="#4848d8"/>
<path d="M88 1787l6 5-2 7 1 8-1 8 3 7 4 4 7-6 2-5 8-2 8 1 7-4 2-7 0-6-6-8-6 3-6-6-8-2-7 3-3 7-7 0-9 0-3 8-3 6-1 9 6 5 6 2 6 6 0 5 6 6 8 2 8 1 3-6 7-3 4-4 0-9 1-6-5-8-2-6 7-5 2-9 5-2 8-3 7 6 6 5 1 5 7 5 3 7-7-3-9 1-7 2-5 0-9 1 1-6-1-9-6-3-7-2-8 0-5 0-9 1-4 6-5 8 7 4 7-1 7-4 3-5 8-3 8-1 6 4 5 4 9-2 5-4 0-9-4-5-7-2-7 6 0 10-8 2-1 7 2 6 6-6" stroke="#4848d8"/>
<path d="M399 1794l9 6 12 4 11 2 10 6 15 4 10 4 9 6 13 5 10 4 11 6 14 3 11 4 13 4 8 5 12 6 11 3 13 3 2 8-1 4-16-4-8-5-12-4-12-3-12-7-12-5-12-3-10-5-13-3-9-7-14-4-13-5-7-5-12-2-14-6-9-4-11-3-8 1 2 7 13 3 10 7 10 5 13 3 12 5 11 4 8 5 11 3 12 4 11 5 9 3 17 6 10 5 10 4 12 5 13 5 9 2 3 8 5 5-13-3-14-4-9-6-12-3-12-4-10-8-12-3-15-4-7-3-16-7-10-4-12-5-10-6-12-3-12-4-14-3-11-8-6 4 7 7 12 6 9 4 12 4 11 6 12 5 13 2 10 8 12 3 12 2 9 6 14 6 9 4 14 4 12 5 12 6 9 3 13 4 2 7-10 4-8-6-11-5-14-2-13-8-11-3-10-6-12-7-12-1-14-4-8-5-13-6-11-5-13 0-10-6-14-5-9-5-14-4" stroke="#d85555"/>
<path d="M572 1882l7 3 8-2 3-4 7-5 5 6-4 6-5 6 5 6-1 6-7 6-6 1-8 4-7-4 6-7 5-7 1-5-7-2-7-1-8 2-1 7 2 6 9 0-2-8 0-9-6-5-9-2-3-5-5 6 5 8 6 1 6 6 7 3 6 5 5 5 8 1 4-6 3-7 3-7 6-4 1-8-2-7-2-7-8-5-5 0-8 0-8-3-8-3 3 8 5 7-1 6 6 4 0 8-8-1-6 4-8 1-8 0-7 2-7 2 6-4-4-6-1-4 0-11 5-5 7-3 8-1 7 0 7-3-1-11 7 4 7-2" stroke="#d85555"/>
<path d="M580 1860l0-7 6-4 4-5-2-7 5-7 6-3 7-3 0-6 3 7 3-7 1-8 9 0 4-7-5-5-8 2-7 2-4-6 3-7 6 2 7-1 7 4-1-7 4-7 1-7" stroke="#d85555"/>
<path d="M389 1607l15 5 8 6 13 5 12 5 12 3 10 6 11 5 11 5 11 3 14 8 8 1 16 10 13 2 10 6 10 5 1 8-2 5-14-5-11-7-11-2-13-8-12-3-11-6-12-5-12-6-13-6-8-2-16-9-10-4-14-5-11-8-12-3-7 3 0 7 12 3 12 8 13 5 11 4 12 6 10 6 11 6 12 2 12 6 11 7 12 5 13 6 10 4 14 4 9 7 3 6 0 2-14-1-11-5-12-7-11-4-13-5-10-5-14-6-13-7-9-5-12-4-15-3-10-8-11-4-13-7-12-4-7 3 0 9 16 4 9 5 11 4 11 6 13 6 12 4 10 4 12 5 11 7 11 5 12 5 7 4 13 6 11 4 13 3" stroke="#a8d498"/>
<path d="M403 1700l12 7 8 6 14 7 9 7 8 7 12 2 11 8 9 6 9 4 11 10 10 5 10 7 10 7 13 4-2 8 1 7-10-5-11-5-10-8-11-8-11-7-10-5-11-6-10-7-10-8-11-4-11-5-9-8-11-8-11-6-7 3-5 7 13 6 10 5 8 7 12 6 7 7 12 3 10 7 13 8 8 4 10 9 11 7 8 4 12 6 12 4" stroke="#a8d498"/>
<path d="M85 1711l8 0 5 6 6 0 7 6 5 4-7 4-3 5-5 7-6 6-7-7-5 2-2 10 1 7-9 1-8 1 1-8-2-7-2-8-4-4-1-8-2-6 2-9 7-5 6-1 9 1 1 7 3 8-1 7 7 2 8 4 3-7 5-7-4-6-8 2-7 3-7 1-6-2-4-8-7-4 0-8-1-6 1-10 7-1 8 1 3 5-2 9-1 5-7 8-6 0-3-7-5 0-8-4-7 4 2 4 9 4 4 8 2 6 3 6 8-1 5-5 2-9-8-2-8 4 3 8 1 6-5 7-4 7-5-3-10 0-5-3-6-3-4-7-4-8 1-7 2-6 4 4-1 6-2 8-1 7 9 3 5-1 9-5 4-4 5-6 4-6 2-8 3-7 1-8-2-7 7-2 8 1 7-2 7 5 4 5-7 2-6 6-6-3-7-2-7 3-7 3-5 5-3 7 3 10 8 0 3 6 8-1 6-3 6 0 9-1 5 7-5 5 0 8-8 3-6-5-1-9 1-5 0-10 1-7-6-5-5-4-10 1-5 3-8 2-4 7 11 2 6 2 3 6 5 7 6-2 7-4 7-1 6 4-7 7-5 1-7-4-6-4-3-8-7-3-2-7-4-6-6 5-8 2 0-9 3-7 2-5 7-8 6-5 5-4 8 1 5 0 8 6 6 4 4 6 0 6 7 7 7 2 4 8 2 6 2 8 3 6 0 8-6 1-4-5 1-8-8-5-4-5-10 1-5-1-8-2-7-3-2-6-2-8-3-8 3-6 0-8 9-1 6 1 5 5 7 2 3 8 1 6-4 7-2 7 6 4 2 7 6 7 7 3-3 5-8 6-7 0-5-8-5-5 1-8-6-3-8-6-2-5-10-2 1-7-1-8 3-7 6 4 7 1 6-4 6 4 3 6 6 7-3 6 8 5 7 4 7 4 6-7-9-1-5-6-4-5-7 0-6 1-10-3-8-4-4-5 0-6 7-1 8 2 3 8 3 6-9 4 4 7 5 6 3 6 0 9-6 2-7 4-8-2-8 2 3-8-2-8 1-7 3-6 4-7-6-3-7-5-4-4 0-10-4-6-8 0 1 8 1 7-7 5-4 8-5 5-6 5 6 4 2 8 5-2 9 2 6 5 4 6-1 5-1-5-3-7-2-9 1-6-7-3-5 5 7 4-3 7 8 4-4 6-2 8 8-2 6-4 8 2 6-6 1-9 1-6 7-5 8 2 6 7 5 4" stroke="#0000d8"/>
<path d="M336 1803l0 7 2 9 8-2 3 7 8 1 8-1 6 3 8-3 6 2 8 3 7 1-3-7 8-3 1-7-5-8-6-4-6-1-6 2-7 1-9 0-6-4-3-6-5 3-11 1-5-4-3-7-6-1-4-8 8-6-2-9 2-6-5-8 4-6 2-7 9-3 4-5 7-5 8-1 1-6-1-8 2-7 8-6-2-7 0-8 6-2 10 1 1 7 2 8 9-2 4 6 6 6 3 7 3 7-7 5-7-5-7 1-6 2 3 8 0 6-7 4-6 1-5 5-6 5-2 9 3 8 1 6 0 7 4 7-3 6-2 9 5 4 9-2 0 7-3 6-4 8-3 6-4 6 4 7 8 1 1-7 3-7-3-8-3-5-2-5-4-10 8-2 5-7 5-4-2-8 8 1 6-4 7-4 7-1-2-6 2-9-6-5-6-2-5-8-6-4-7-1-8 0-5-3-6-2-10-1-4 5-8 3-4 7-6 4-9 2-2-4-9-3-8-3-3-5-2-7 7-7 1-6 1-8-6-4-3-7 6-7 6 0 8 0 7-5 8-1 7 1 7-3 6-3 9 3 4 5 1 9 3 6-1 8-2 8 2 7 1 6-4 7 5 7 1 6 1 8-4 6 2 8 0 7 3 7 0 7-2 8 6 5 4 8 5 4 1 8-8 4-7 1-6-1-6-5-8 0-6-6 0-5 0-10 0-8-7-4-7 3-5 8-5 1-5-4 8-4-2-7 8-1 6-2 7-6 5-1 6 6 7 0 9-1 6-5 6 4 8-5 0-3 5-9-4-7-7-2-1-8-6-6-1-7-8-5-7-1-2-8-2-6-3-7-3-8 0-9 7 3 5 3 5 4 0 7-1 10-5 4-4 8 2 6 2 8 2 6-2 9 3 7 3 5 4 10-4 6 1 9-2 6-5 6-7 4-8 3 2-10 8-3 0-6 1-8-3-9 0-6-4-7-7-2-5-7 1-9 2-5 6-4 5-7 4-6 7-5 5-5 7 4 0 7-1 7-2 6 6 7-5 5-2 7-5 6 0 7-2 7-3 8-1 6-6 4-9 2-4 5-7 6 1 7 0 8-6 2-7-1-5 7 3 6 8 4 8 1 5 4 7-5 5-1 3-8-7-5-2-8-5-5-3-6-5-7-7 0 1-9-4-4-7-4 2-7 1-8-1-7-2-7 5-5 4-7 6-4 3-8 8 0 7-3 8-2 6 7 3 7 4 5 9 4 6 4 2 8 3 5 3 8 8 3-4 6-7 0-10 1-7 1-7 0-8 4-7-3-5-2 7-6 4-6 5-6-1-9 4-4 6-6-2-7 5-9 4-6 0-7 9 0 6 3 5 6 2 5-6 6-3 7-6 6-6 4-7 1 1 9 3 3 9 3 7 0 8-1 3-7-2-9-5-4-7 4-5 5-8-1-5-2-1 6-1 7-5 7-4 4-5 8-9-1 0-8 2-7-2-6 3-9 7-4 6-4-5-5-6-7-5-4 2-8-5-7-3-7-1-7 0-6-6-5-5-5 5-9 5-5 7 4 4 7 5 5 6 6 7 3 5 4 5 5 2 7 6 6 3 7 6 5 5-7 2 10-5 6-5 4-7 6-5 4-1 6 4 6 7 2 5 5 7 3 2-6 0-9 2-6 8-2 6 1 7-5 6-5 0-9-3-5-5-5-4-6-6-2-8 2 0-9-7-5-8-1-2-6-6-5-6-4-7-6-7-1-3 8-1 8 0 7-1 8 3 7-3 9-8 2-4-4-9 3-5 6 7 5 6-1 4 6 4 7 2 6 3 7 5 5 8 3 6-2 6-7 6 4 9 2 1 8 4 6-3 8-7 2-2 6 5 9" stroke="#d855d8"/>
<path d="M361 1720l-5 3-10 3-7 1-5 5-9-3-2 6 1 9-9 2-8-2-5 4 0 8 10 2 6 0 5-4 8 0 3-6-3-6-7-5-6-3-7 1-3 10 7 1 5 4-4 8 7 5 8-2 5 3 3 10-2 8 7 2 6 6 8-2-7-4-5 5-7 4-7 2-7-3-6 2-5-6 6-5 4-7 6-3 6-4 7-5 7-1 7-5 3-4-5 2-7 0-5-7 0-9 5-4 1-9 7-5 7-1 3-8 2-6-2-6-7-6-6-3-5-4 4-6 5 5-2 7-8 2-5 8-1 6-7 5-8 3 6 5 3 8-1 7 4 7 6 5 5 6-1 7 3 7 6 7 1 7-8 4-8 2-6-2-9 0-8 6 4 6 8 3 5 6 7-4 7-3 8 0 0-8-5-7-8-3 5-6 8-3 7 1 5-7 7-2 8-2 7-5-1-7 5-5 5-6 5-6 5-7 5-5-2-6-1-8-9-2-7 3-5 5-9 0-7 2-6-8-1-7 4-4 5-6-3-7-10 2-6 3-7-2-3-4-8-5-7-2-4 10-5 4 0 7-5 5-5 7-1 6-5-2-6 2-5 7-3 7-3 6 0 9-1 5 2 9 1 7 0 8-9 0-3 6 7 7 5 5 5 6 2 9 7 0 6 5 1-7 4-6 4-8 7 5 3-6 5-8 6-1 7 5 9-3 3-6 2-8 7 1 1 5-2 8-2 7-1 10-8 1-4-6-3-7-2-7-2-6 3-10-4-8-3-7-4-6-4-6-2-7-2-10-4-4-5 4-7 5-5 6-4 2-7-4-6-4-3-7 6-3 6 3 9-3 8-1 7-3 5 5-2 8-4 5 0 8 4 7 4 6 7 2 4-7 7 2 8 1 7-1 5 2 3 8 0 7 0 7-2 7-7 5-7 1-7 1-7-4-2-7 4-10 2-5-5-5-5-6-6-5-1-7 3-6 7-7 7-1 7-1-1 5 9 9-4 5-1 8-3 6 3 5-4 7 2 8 2 6 9 4 4 7 2 6 7-1 4-8-1-7-4-6 7-6 0-6-4-7-6 1-9 3-6-2-6-5-9-2 2-7-5-8 4-5 3-7 4-7 5-6 4 7 5 7 6 3-2 9-5 5-6 3-6-4-4-4-5 9 1 7-8 0-3 6-7 3 2 9 8 3 7 1 7-3 8 0 5-4 8-2 8 3 5-6 4-7 6-3 3-8 6-6-4-9-1-6-7-2-6 5-6 2-6 6-4 5-8 5-2 8-4 3-8-1-7 6-4-4-8-5-8 0-6-1-6 2-5 6 7 4 5 6-2 8-5-2 5 2 0 9 6 5 8 1 7-1 3-8 7 2 8 0 0 7 5 6 8-2 2-7 2-7 2-5 6-8-4-7 2-8-7-4-6-3-8-5 6-6-6-7-7-1-8 3 1 6-5 5-8 1-9 0-5 5-5-5-3-7 8-2 7-3 7 0 7 1 3 4 6 7 6 1 7 0 8-1 8-1 2-8 4-6 1-8-4-5-7-2-7 2-2 5 2 8-7 8 0 6 6 8-6 6-2 7 3 6-3 7-3 7-9 0-1-6 1-8 4-7 2-6 8-4 0-7 3-7 3-7 2-8 1-8 3-9-4-4-3-8-2-7-7-1-2 6-4 6-7 7-2 6-5 4-2 8 6 5 7 0 8-1 7 5 3 5 2 6 7 7 5-4 6-5 3-7-2-8-6-4-5-3-9 0-8 1-7 3-2 5-5 7-8 3-2-9-8-1-7-2-1-5-8 0-7 5-6 7-3 4" stroke="#4848d8"/>
<path d="M316 1552l-4 7-6 3-7-3-5 4-1 7 3 7 6-2 6 6 8 1 1 7-7 0-1 8-3 7-1 6-6 3 0 9 2 5 8-1 9-2 5 3 6-2 3 4-5 8-6 0-7 3-5 5 6 5-2 6 6 5 6 3 6 4 5 1" stroke="#4848d8"/>
<path d="M275 1763l-5-7-2-5 4-4 10-1 4 4 6 6 6 1 3 10 3 5-3 6-2 8-4 6-7 0-8 4-6 8 8 1 7-1 7 2 9-2 0-8 3-6 1-8-6-5-7-5-1 8-5 6-6 5-3-7-2-7-4-7 1-6 5-4 4-7 4 8 2 7-3 9 1 6-2 8 5 6 7 5 4 5 0 8-7 3-7-2-8-4-6 0-7 4-7-4-8 0-6-6-5-6 2-8-2-8 4-7 8-4-1 9-5 7 0 7 2 8 0 7 1 7 5 8 5 5 8 0 8-4 4-1 2-9-3-7-7 3-8 4-6-3-5-6 3-9 4-4 5-4 7-6 3-5-2-9-3-6-3-8-2-6-8-2-3-7 6 0 8-2 8-2 3 5 4 7 3 8-9 3-5-3-4 8-3 7-8-1-5 4 3 9 5 1 3-7 6-6 7 4 7-4 8-4 5-5-3-8 1-8-9-4-6-1-5 7-6 4-7 0-8-3-4 7 6 4 1 7-1 8-6 2-3 6 2 8 7-5 2 7 3 6 9 1 7-2 6-4 6 3 9 5 3 5 7-4 4-7 2-7 3-7 2-6 6-7-7-5-8-3-6-1-9 2-6-4-4 5-9 4 1-8-8-3-2 8 3 9 5 4-5 7-5 4-8 4-3 6 1 8 8 2 5-8 6-4 3-5 5-7-2-7 5-4 7-2 6 5 1 6 5 4 8 4 8-1 5-4 2-7" stroke="#ee0000"/>
<path d="M139 1641l13 5 11 4 12 6 10 1 12 9 12 3 13 4 10 4 13 6 11 3 11 4 13 5 11 7 11 3 3 7-12 0-10-1-11-6-12-5-10-3-11-7-11-4-12-3-10-5-11-4-12-3-12-6-7-6-13-2-10-4-7 2 4 9 16 3 9 4 12 4 10 5 9 5 10 3 10 7 14 2 12 5 10 6 10 2 12 6 9 5 12 4 3 6-4 5-9-4-12-7-9-4-14-3-11-4-9-4-13-2-10-6-14-6-10-4-12-7-13-4-8-3-14-5" stroke="#44cc22"/>
<path d="M142 1648l7 4 11 8 13 1 8 7 14 5 8 3 13 5 11 5 12 5 9 5 11 6 13 5 13 5 9 3 13 5 8 6 3 6-6 3-13-6-9-5-11-1-12-8-14-3-9-9-13-3-11-7-11-2-13-5-11-6-11-6-13-2-9-9-14-1-9-8-8 4 7 7 12 6 9 5 13 6 11 2 11 6 13 6 7 4 12 1 12 8 11 7 10 3 14 8 9 4 11 3 12 6 10 6 4 5-4 4-12-5-10-5-12-6-10-4-12-3-13-7-11-4-10-4-13-8-10-2-9-4-14-8-11-2-10-8-11-4-11-4-7 2-5 4 13 5 11 4 12 8 12 2 12 8 11 3 9 6 16 8 11 2 11 5 12 3 10 5 12 8 14 5 7 4 14 7 2 5-2 4-15-7-11-3-13-5-10-6-12-4-9-4-15-5-9-5-14-9-10-1-10-7-13-4-13-3-12-8-8-6-17-2-3 1 5 9 10 3 12 6 13 2 10 8 12 3 11 6 12 4 11 6 11 5 11 3 11 9 14 3 12 6 11 3 9 7 14 4 2 7-6 3-13-6-13-5-11-4-12-7-12-1-13-9-9-5-11-4-13-6-11-4-12-7-12-2-11-7-12-3-11-7-14-4" stroke="#d8d800"/>
<path d="M145 1688l12 1 14 8 7 4 13 6 10 5 10 3 12 3 12 5 10 8 13 5 12 4 10 6 12 3 1 8-2 2-13-4-12-6-11-3-14-5-8-4-12-6-11-5-9-6-12-3-11-8-14-4-11-5-11-3-6 1 7 8 8 4 15 7 10 5 11 5 10 3 13 5 11 5 7 6 15 5 12 5 10 5 12 5 8 6" stroke="#9922dd"/>
<path d="M169 1715l9 5 10 2 10 7 12 5 11 5 11 5 9 4 12 5 12 4 10 5 11 8 12 4 11 2 1 8-1 5-12-5-10-5-11-7-11-3-11-4-9-6-14-5-14-3-7-7-11-5-12-4-9-5-11-5-8 2-4 4 11 5 9 5 13 2 10 10 12 3 12 5 11 7 10 4 13 4 11 5 10 4 11 6 10 3 4 8-7 4-9-6-11-4-10-5-12-6-13-6-11-5-9-4-13-5-11-5-9-5-14-8-11-3-12-4" stroke="#ee0000"/>
</g></svg>
<svg x="3.5" y="499.3" width="154.5" height="125.5" viewBox="3.5 499.3 154.5 125.5"><g transform="scale(0.25)" fill="none" stroke-width="5.4" stroke-linejoin="round">
<path d="M72 2232l8 1 8-5-2-7 1-6 2-11-4-6 0-6-7-5 3-10-4-4-4-5-5-8-2-7 4-6 7-5 4 4 5 10 6 3 5 5 7 1 8 2 3 7-3 9-3 6 2 5 0 10-3 8-7-3-9-2-7-2-5-4-7 1-8 1-3-9-6-4-9 2 4 6 5 7 6-3 8-1 4 5 7 6 7 3 5 4 8-1-2-9-4-1-9-2-5-4-5 2-7 5-8-3-5-6-2-7 2-6 6-5 6-5-4-7 3-7 5-5 7-1 7-5 5-4 5-6 6-6 7 1 2 6 0 7-5 7 1 8-9 0-7 3-7 0-3-5-5-5-9-3 0 7-1 8 7 3 5-6 7 0 5 6 5 5-6 6-1 5-5 9-5 3-1 9-3 8-4 4 3 6 5-7 9-1 6 4 5-5-7-7-5-2-8-5-4-6-6-3-9 0-3-7 5-6 8-4 3-5-2-7-4-7-5-4-9 1-5 6-4 6 4 8-5 7-2 8 2 5 6 7 8 4 8-2 5-4 8-1 0-9 9 6 4-8-5-5-6-7 8-6 5-1-3-7-6-2-8 3-7 3 4 7 5 5-3 8 7 3 9 2 6-2 5-4 8 4 5 5-2 7-5 6-6 5-6 5-5 5-1-7-7-2-7-2-9 0-2 7 5 7 1 7 6 6 8-3 4-7 1-7 1-7 6-6 8-1 3-5-1-8-3-7-7-4-7 1-8 0-7-4-7-3 3-8-2-8-7 6-6-4-6 1 5-7 4-5-1-7 6-4 6 4-5 9-6 0-6 3 0 6 5 7 3 7 7 1 6 5-2 7-3 8 5 6 5 5 6 4 7-6 6-5 9 0 0 9 4 4 6-2 1-8-4-7-2-8-2-7-8-2-5 4-6 5 0-7-9-1-8-2-5 6 5 7 1 8-1 7 7-2 8 1 9-1 3 6 8 3 8 2 6 3 0-9-6-5-3-5 4-6 6-6 1-7 0-8-5-6-4-3-4-7-8-3-8-4-5-4-8 1 0 9-6 2-8 1-5 6 0 8 2 7 3 6-2 8 1 8 4 6 7 0 8 0 7-3 7-3 3-5-4 4-7 7-6 3-6 1-9-5 4-4-4-8-7-3-5-4-9-2-5-2-6 2 2 8 8 2 4-7 6 0 10-2 8 0 4 5 6 4 6-1 6-3 2-9-7-2-6-3-5-9 1-4 7-4 3-8" stroke="#0000d8"/>
<path d="M80 2224l1 8-5-4-4 6-3 6-5 4-8-4-6 2-5 3 2 7 7 1-4 6-2 7-1 8-2 4 6 3 4 6 7-2-5 2 2 6-7 6-7 2-6 2 2 8 7 3 5-1 2 7-1 6-8-2-7-3-4 7-7 1-7 4-5 3" stroke="#0000d8"/>
<path d="M157 2092l13 4 9 2 13 6 12 4 14 6 10 3 14 2 12 8 10 3 13 4 14 5 11 3 13 4 11 2 11 6 16 6 1 5-4 5-12-2-11-7-14-3-8-2-15-4-9-6-13-5-12-7-14 2-10-7-13-2-12-3-9-5-16-5-7-5-15-4-5 4-2 6 10 7 17 1 11 3 12 6 10 4 12 3 11 3 14 4 10 3 12 5 11 4 11 4 12 5 13 5 11 1 10 5 4 7-2 6-10-6-15-2-12-4-13-5-11-3-12-7-14 0-8-6-17-5-11-3-11-7-15-1-9-7-13-1-12-6-12-4-7 4 9 7 13 8 11 0 13 6 11 6 11 1 11 7 14 3 9 4 13 5 11 2 14 4 9 4 14 4 11 5 12 3 13 2 1 9-7 3-11-1-14-7-13-4-10-5-13-3-10-3-12-5-12-6-11-2-12-6-16-3-13-6-11-2-11-3-12-5-12-7" stroke="#44cc22"/>
<path d="M123 2181l9 2 13 4 14 1 11 7 10 3 15 1 12 6 10 0 11 6 11 3 15 4 9 4 12 4 13 1 12 3 11 4 12 4 11 3 13 4 2 6-8 3-13-4-10-3-10-2-13-5-10-4-14-2-11-4-12-2-9-5-12-3-12-3-13-5-12-1-8-3-14-6-12-2-13-2-11-6-8-3-8 5 10 6 11 6 10 2 9 3 13 3 12 4 9 3 12 5 11 3 11-1 12 7 11 2 12 4 12 3 10 3 11 2 11 5 10 3 14 4 9 1 4 7 0 5-11-3-11-2-14-7-11-1-12-4-12-5-9-2-14-2-10-6-13-2-11-5-14-2-12-3-11-5-15-3-8-3-13-2-12-4-14-4-4 4 10 5 11 6 12 3 12 4 10 2 13 4 10 4 10 5 12 3 13 2 11 5 10 3 12 2 12 5 12 0 10 2 12 7 12 2 10 4 13 5" stroke="#ee0000"/>
<path d="M115 2206l10 5 13 0 12 5 12 5 11 2 13 6 13 1 12 6 10 3 13 5 14 3 11 5 13 4 13 2 13 7 10 3 14 0 12 6 2 6-10 4-10-5-14-5-12-5-12-3-14-3-11-3-12-4-15-5-10-2-11-4-11-4-12-3-11-6-12-2-13-4-11-6-14-5-10 0-7 3 0 4 14 6 11 3 13 5 12 4 12 2 14 4 10 4 15 7 14 1 9 4 13 5 12 3 13 3 13 6 12 2 12 6 14 2 10 5 4 6-8 3-8-3-13-7-12-3-14-2-11-3-10-3-13-6-12-4-12-2-10-4-14-4-11-5-12-1-11-4-13-6-11-1-10-5-14-7" stroke="#4848d8"/>
<path d="M122 2252l10 5 11 3 14 3 10 4 12 5 12 1 13 6 13 2 11 6 12 3 11 4 10 3 14 5 11 5 12 3 11 4 13 3 10 3 13 5 3 6-2 7-12-5-13-4-11-6-11 0-11-5-14-4-11-3-11-7-10-3-15-4-9-3-13-4-12-4-10-2-12-4-11-4-12-4-14-3-8-8-8 7-5 3 13 4 10 2 12 7 10 2 15 6 11 1 9 6 14 3 13 2 9 6 13 4 14 4 10 1 11 9 14 1 12 4 11 3 13 6 10-1 4 10-6 0-12-2-11-2-12-4-11-4-13-4-9-4-12-3-11-4-10-4-15 0-8-8-13-1-11-1-12-7-9-5-13-2-12-3-12-4-13-5-4 4 3 6 10 6 12 1 14 5 11 4 10 3 11 3 13 5 12 3 8 3 12 4 12 3 11 4 11 5 12 3 12 1 10 8 12 2 11 3 10 5 4 5 4 7-12-5-12-6-11-2-13-4-12-2-13-5-9-2-14-7-11-3-13-1-10-4-12-5-12-3-13-3-10-8-12-1-14-4-10-2-11-6-7 4-4 6 11 1 12 7 12 1 11 6 13 4 11 4 12 2 13 2 12 5 11 4 13 5 12 5 11 4 12 1 10 3 13 5 12 6 11 4 10 1 6 7-8 3-13-6-11-4-10 0-10-3-14-5-14-4-9-7-12 0-10-4-12-5-12-2-12-4-12-2-10-7-9-4-15-4-11 0-12-5-12-6" stroke="#d8d800"/>
<path d="M168 2276l13 3 11 6 11 1 12 3 11 4 12 5 12 3 11 3 12 5 9 1 14 6 8 0 13 6 10 3 5 6-8 5-12-6-11-5-12-3-13-1-12-7-11-2-9-4-17-4-10-2-13-6-10-5-14-1-11-3-13-5-5 3 3 6 11 4 14 5 12 3 11 3 14 2 11 4 13 6 11 3 11 4 11 4 15 3 9 4 15 4 11 3 3 6-3 7-11-7-12-3-13-3-12-5-11-2-12-3-11-5-13-5-9-2-8-3-15-3-11-7-12 0-13-4" stroke="#9922dd"/>
<path d="M160 2352l7-1-5-4 5-3 4 5 0 8 8 1 2 7 8-3 2 5 2 9 7 3 6 2 6 4 7-3-1-9 8-2 5-5 6 3 8 0 5 7-8-3-5 0-7 1-1 10 6 1 5-8 5-5 9 1 0-6 9-1 3-6 6-3 6 5 6 1 7-2 7 3 6 0 5 6 6 3 7 5 3 6 2 7-4 6-2 7 5 5 3 5 5 8 1 5 2 7 6 2 6 6 9-1 4-4 8 1 8 3 0-7 8 0-1-8-3-6-3-7-5-4" stroke="#d855d8"/>
<path d="M354 2374l-8-2-7-1-2-8 1-7 5-7 5-5 6-6 2-5 2-9-5-5-8 0-7 2-1 7 1 8 1 8-3 6-1 7 0 9-1 8 6 3 6-5 6-5-1-7 2-9-2-5 2-10-6-3 4-8 5-5 2-8 8-1 2-8 2-7 5-6-8 0-6 1-8 4-4 5-2 9 2 6-3 6 6 7-1 6-5 0-4-7-6-4-8-2-3 6 5 4 8 2 0 9 1 5-1 8 5 5 4 7 6 6 2 7-7 1-9 0-7-3-6-4-6 2-2-8-5-3-8-5-7-1 7-6 2-8 7 0 9 1 8-2 3-3 7-7-2-7-7 2-7-5-5-6 9-1 5 1 7-3 6-5 4-7 3-8 3-5 6-4 3-5 9 0 6 6 4 6 8-5-3 8-3 7-5 5 4 8-6 4-6 3-3 7-9 2-7-2-8-2-2 7 6 5 6 7 2 7-5 3-6-3-4-4-3-9-5-5-1-9-6-6-5-4-2-7 5-4 7-5 8-1 7-2 8 1 8 1 6 3 8-2 7-1 7 2 1 7-5 8 4 6-3 9-7 2-7 6-6 0-3 9-4 3-2 8-3 7 0 8 5 5 8-1-2-6-5-7-2-8-1-8-8-3-6-4 2-7 6-5-6-5-3-5-1-9 0-8-1-6-2-8-2-8 7-3 7-1 7 2 5 7-1 7-9 0-6-1-7 4-5 0-7 5-3 8-1 8 0 7 6 3 7 3 8-4 6 4 8 1 6-2 3-6-9-3-2 6-3 7 5 6 7-2 2-5-1-10 9 2 2-5 9 0 3-7-4-6-2-6-7-3-1-7-8-2-7 2 0 8-6 4-8-2-8 3-6 0 0 6 1 8 3 7 7 4 5-4 2-10 9-1 2-4 1-9-3-7-5-4-5-1-2 10-2 5-7 3-7-5-8 0 0 8-3 8 0 7 4 6-1 8-1 7 3 9-3 5 5 2 8 4 7-6 6 5 8-1 8 4 0 7 3-9-10-1-1-7-8-1 1-9 1-7-5-8-5 0-6-5-8-3 4-7 5-9 1-6-8-5 0-8-3-8 7-4 5-7 8 3 7 3 5 7 0 7-1 7-4 7 0 9 6 4-2 8-8 3-6 2-6 6-4 7 4 7 7 5 1 6 3 7 0 7 5 8-1 9 6 6 4 1 7 3 7-6 3-7-5-6-5-6-5-1-7-6 1-7-5-6-4-8-3-6 4-8 5-5 6-5-3-7 3-6 4-10 3-4 6-7-2-7-7-1-9 3-7-2-6 1-8-1-7 5-3 4 1 8-1 9 4 5 6 3 6 1 11-1 5 0 7 4 9-3 6 1 9 1 0-9-4-6-5 5-7-3-8 1-7-7-4-5-3-6-8-1-8 3-5-6 0-8 8-6 3-5 9 0 8 0 8-1 8 1 5 4 1 7 5 7-7 6-6 5-6 3-2 9-3 5 5 7 2 6-3 9-2 8-8-1-4 6-5 7-5 1-4-7 0-6" stroke="#d855d8"/>
<path d="M371 2304l-6 6-8 0-7 1-8-2-8 3-6-2-4-6 0-7 5-7 3-7 2-6-9 1-6-2-10 1-4-3-8 0-2-8 3-6 8-4 9 2 1-7 6-6 8 2 7-3 6-3 7-5 5-5 6-6 4-5 7 3 3 8 5 7 7 1 7 1-1 7 0 8-6 4-8-4-6 2-8-4-5-6-5-4-7 0-8-2-8 6 4 6-7-3-6 7-2 8 1 5 3 7 4 7 1 7 3 7 5 5 5-3 3-7-2-6-5-9-6-4-8 0-1 5-8 6 10 0 6-1 5-6 0-7 2-7 10-5 7 2 7-4-3-8-5-6-3-8-7-1-8 0-6-4-6-3-6 5-6 4-4 6 6 3 7 4 9 6 6 3 3 5 6-6 7 2 9-3 6-3 6-5 3-1 4-9-5-6-7-2-7-1-3 7-6 3-3 7-7-6-5 3-5 6-4 8 0 8 4 5 7 6 3 5-1 7-4 5-5 5-9-2-1-6 5-9 5-3 7-3 7-4 3-6 6-7 3-7 6 0 6 3 0-9-6-4-5-7-5-5-5-1-4 3-7 4 0 8 7 3 7 5 0 8 0 6 5 8 0 9 0 5-5 5-1 8-8 2-8-2-4-6-2-5-2-9-2-6-5-7 3-7-4-7-5-7 0-5 0-8-4-6-6-4 3-6 10-2 3 6 4 6-1 7 4 8 6 3 3 7 5 6 7 1 3-6 6-4 6-6 4-5 7-6-7-3-6-5-5-7-4-4-8-2-2 7-1 9-9-2 1 9 4 6 5 5 6-5 7-3 1 6-8 3-6-4-8 0-7-1-8-1-3 6 3 8-6 5-9 0-7-3 2 8 1 9 1 7 5 5 1 6-1 9 5 6 8 1 7-2 4-7 1-6 1-9 4-7 3-5 0-9 1-7 1-8 4-8 2-6 7-1 2 8 2 8 2 6 5 5 8-2 0 8-6 6-1 8 0 6 1 7-7 1-4-6-3-7 2-7 6-4 0-8 5-4 0-8-4-5-8-5 3-9 8-2 9 4 6 3-3 8-3 7 2 8-5 4 5 5 1 8 2 7-6 6 5 7-5 5-6-3-6-6-8 2-8 3-5 2-7 4-6-6-7-7-3 6-6 2-10 1-5-5-7-6-5-6-7-2 7-5-1-9 3-8 5-5 7 3 4 6 8 1 8 4 6-1 6 5 4 7 3 6 1 9 5 2 4 9 6 5 4 6 5-3-4-7 4-7-5-7-7-2-5-8-4-3-10-1-6-5-3 8 2 8-1 7-3 5-9 3-6-4-4-8 7-5 7 5 9-6 4-3 8-1" stroke="#4848d8"/>
<path d="M415 2221l12 7 11 5 11 5 11 3 11 5 13 5 11 3 11 6 12 4 14 7 13 3 10 4 11 4 11 4 10 7 14 4 9 6 5 6-4 4-12-5-13-5-12-3-15-7-10-3-12-6-12-4-12-6-13-7-11-2-13-4-13-7-9-5-18-4-9-5-14-6-12-4-6 3 6 9 13 6 11 3 10 6 12 3 12 7 14 4 11 8 13 0 10 3 10 6 14 7 13 3 11 8 11 2 12 7 12 3 11 4 3 8-1 7-11-4-14-6-10-6-13-5-11-5-12-7-12-1-12-5-12-5-12-4-10-5-12-4-11-5-13-7-10-3-13-5-13-3-6 2-6 5 13 2 14 7 9 4 11 6 13 5 14 3 11 9 10 2 15 3 12 7 10 4 13 3 12 9 12 4 11 3 14 6 9 3 4 8-4 6-12-10-14-3-10-3-13-8-13-1-9-6-12-4-8-4-15-6-13-1-7-6-14-5-12-7-12-3-12-6-11-4-11-4" stroke="#a8d498"/>
<path d="M405 2367l11 4 10 4 11 6 12 2 13 5 9 3 14 4 11 6 11 3 10 6 12 2 13 4 7 6 18 2 5 7 14 2 11 5 12 3 2 7-3 3-12-3-10-4-13-4-11-7-12 0-13-7-9-2-12-7-14-1-11-5-13-4-10-4-14-6-10-2-11-9-13-1-10-6-15-1-5 0 5 7 12 2 12 4 10 6 14 4 11 4 9 6 13 6 10 0 13 7 11 3 13 4 10 5 12 5 12 3 10 5 14 3 12 4 11 3 2 9-10 1-11-4-9-3-14-6-8-4-13-3-14-5-9-5-10-2-13-5-13-5-11-2-12-7-12-1-12-8-11-2-11-5-12-3-13-4-5 2 1 6 11 5 12 2 14 7 8 2 10 5 14 4 10 5 11 1 12 4 13 5 9 4 13 6 9 2 12 4 12 7 11 0 11 8 12 3" stroke="#4848d8"/>
<path d="M434 2372l13 5 11 2 13 5 11 4 13 5 11 4 10 5 13 3 14 3 11 5 11 3 10 5 14 4 10 2 13 5 3 7-1 2-10-1-13-2-14-5-10-5-14-4-8-4-15-4-9-3-12-5-11-4-13-4-13-2-11-7-9-3-14-4-6 3 2 5 10 7 14-1 10 7 15 5 9 5 14 4 10-1 14 7 10 2 14 5 11 5 12 5 11 3 11 1 12 8 4 6-12-1-11-1-14-4-10-7-13-5-10-2-15-5-10-4-12-6-12-2-13-2-11-6-11-4-10-2-14-5-12-5-7 4 14 8 10 6 12 4 10 1 12 5 12 6 13 2 9 5 10 4 13 1 11 8 12 1 11 5 14 6 10 2 8 3" stroke="#d85555"/>
<path d="M577 2427l8-3 5-7-1-6-4-7 5-5 2-8-2-9 1-6 4-5 7 5 6 5 0 7 2 10 5 3 7 3 3 7-1 7-5 4 1 9 0 7-5 2-9-2-8 0-7 2 0 8-3 7-6-6-5-6-2-5-5-8 6-6 0-8 0-6 4-7 6-6 7 5 5-5-2-6-7-1-8-1-5 8-2 4-6 5-8-4 4-6 8-2 7 0 6 4 7 3 3 6 2 8 7 5 9 0-2-7-5-8-4-6-9 0-7-1-1 9-4 7-6 3 2 8 6 5 5 5 1 5 5 7 4-7 6-1-1-9-6-4 0-9 0-6-1-6 7-4 8 2 7 2 5 4 3 8-1 8-5 6 1 8-4-8-4-6-4-6-3-7-7-3-5-5-8-2-7-1-8 3-6-2-9-5-1-6 2-8 8-5 9-1 3 4 9 0 4 6 3 6 1 9 2 7 0 7 6-3 2 8-2 5-8 4 2-8 6-1 8-5 7 0 0 7-6 6-8 2-5 6 0 6 0 7 8-2 7-5 6 0-1-8-4-7-5-6-3-7-7-2-7 0-6-3-7-6-5 6-5 4 7 4 8-1 5-6 9-1 6 1 7-3 6-3" stroke="#d85555"/>
</g></svg>
<rect x="11.9" y="39.0" width="22.1" height="16.8" fill="#ff0" />
<text x="12.1" y="51.9" font-size="11.5" textLength="21.7" lengthAdjust="spacingAndGlyphs" >0 µs</text>
<text x="115.6" y="120.0" font-size="11.5" textLength="38.8" lengthAdjust="spacingAndGlyphs" >χ=3.8%</text>
<rect x="11.0" y="160.6" width="29.3" height="16.3" fill="#ff0" />
<text x="11.2" y="172.8" font-size="11.5" textLength="28.9" lengthAdjust="spacingAndGlyphs" >0.2µs</text>
<text x="111.9" y="172.5" font-size="11.5" textLength="38.5" lengthAdjust="spacingAndGlyphs" >χ=8.3%</text>
<rect x="11.0" y="273.0" width="29.3" height="16.5" fill="#ff0" />
<text x="11.2" y="285.5" font-size="11.5" textLength="28.9" lengthAdjust="spacingAndGlyphs" >0.3µs</text>
<text x="112.7" y="285.5" font-size="11.5" textLength="39.0" lengthAdjust="spacingAndGlyphs" >χ= 15%</text>
<rect x="11.0" y="386.0" width="29.3" height="16.3" fill="#ff0" />
<text x="11.2" y="398.3" font-size="11.5" textLength="28.9" lengthAdjust="spacingAndGlyphs" >0.5µs</text>
<text x="111.9" y="398.0" font-size="11.5" textLength="39.5" lengthAdjust="spacingAndGlyphs" >χ= 35%</text>
<rect x="7.3" y="520.0" width="28.7" height="15.8" fill="#ff0" />
<text x="7.5" y="531.8" font-size="11.5" textLength="28.3" lengthAdjust="spacingAndGlyphs" >1.0µs</text>
<text x="111.6" y="532.0" font-size="11.5" textLength="39.6" lengthAdjust="spacingAndGlyphs" >χ= 52%</text>
<text x="19.9" y="515.0" font-size="11.5" font-weight="bold" textLength="122.0" lengthAdjust="spacingAndGlyphs" >Semicrystalline Model</text>
<path d="M169.4,38 V628" stroke="#c4cce8" stroke-width="0.8"/>
<rect x="162.0" y="38.0" width="5.2" height="590.5" fill="#fff" />
<path d="M162,37.3 H168 V629.1 H162" fill="none" stroke="#f8c21c" stroke-width="1.8"/>
<rect x="194.0" y="66.0" width="28.0" height="29.0" fill="#fff" />
<path d="M198.3,92 V79 M198.3,92 H212" stroke="#000" stroke-width="1.2" fill="none"/>
<path d="M196,80.3 L198.3,76.3 L200.6,80.3 z M211,89.7 L215.7,92 L211,94.3 z"/>
<text x="196.3" y="73.1" font-size="8.5" textLength="4.6" lengthAdjust="spacingAndGlyphs" >Z</text>
<text x="217.7" y="94.9" font-size="8.5" textLength="5.2" lengthAdjust="spacingAndGlyphs" >Y</text>
<rect x="208.3" y="35.7" width="47.5" height="53.0" fill="#fff" />
<rect x="260.5" y="35.7" width="49.0" height="53.0" fill="#fff" />
<rect x="314.6" y="35.7" width="48.5" height="53.0" fill="#fff" />
<rect x="368.3" y="35.7" width="48.5" height="53.0" fill="#fff" />
<rect x="421.9" y="35.7" width="48.6" height="53.0" fill="#fff" />
<rect x="474.5" y="35.7" width="48.1" height="53.0" fill="#fff" />
<rect x="527.3" y="35.7" width="48.1" height="53.0" fill="#fff" />
<rect x="580.6" y="35.7" width="48.5" height="53.0" fill="#fff" />
<rect x="634.0" y="35.7" width="48.4" height="53.0" fill="#fff" />
<rect x="687.5" y="35.7" width="48.5" height="53.0" fill="#fff" />
<rect x="740.0" y="35.7" width="48.4" height="53.0" fill="#fff" />
<rect x="208.3" y="94.3" width="47.5" height="54.3" fill="#fff" />
<rect x="260.5" y="94.3" width="49.0" height="54.3" fill="#fff" />
<rect x="314.6" y="94.3" width="48.5" height="54.3" fill="#fff" />
<rect x="368.3" y="94.3" width="48.5" height="54.3" fill="#fff" />
<rect x="421.9" y="94.3" width="48.6" height="54.3" fill="#fff" />
<rect x="474.5" y="94.3" width="48.1" height="54.3" fill="#fff" />
<rect x="527.3" y="94.3" width="48.1" height="54.3" fill="#fff" />
<rect x="580.6" y="94.3" width="48.5" height="54.3" fill="#fff" />
<rect x="634.0" y="94.3" width="48.4" height="54.3" fill="#fff" />
<rect x="687.5" y="94.3" width="48.5" height="54.3" fill="#fff" />
<rect x="740.0" y="94.3" width="48.4" height="54.3" fill="#fff" />
<rect x="208.3" y="152.2" width="47.5" height="54.8" fill="#fff" />
<rect x="260.5" y="152.2" width="49.0" height="54.8" fill="#fff" />
<rect x="314.6" y="152.2" width="48.5" height="54.8" fill="#fff" />
<rect x="368.3" y="152.2" width="48.5" height="54.8" fill="#fff" />
<rect x="421.9" y="152.2" width="48.6" height="54.8" fill="#fff" />
<rect x="474.5" y="152.2" width="48.1" height="54.8" fill="#fff" />
<rect x="527.3" y="152.2" width="48.1" height="54.8" fill="#fff" />
<rect x="580.6" y="152.2" width="48.5" height="54.8" fill="#fff" />
<rect x="634.0" y="152.2" width="48.4" height="54.8" fill="#fff" />
<rect x="687.5" y="152.2" width="48.5" height="54.8" fill="#fff" />
<rect x="740.0" y="152.2" width="48.4" height="54.8" fill="#fff" />
<rect x="208.3" y="211.0" width="47.5" height="54.7" fill="#fff" />
<rect x="260.5" y="211.0" width="49.0" height="54.7" fill="#fff" />
<rect x="314.6" y="211.0" width="48.5" height="54.7" fill="#fff" />
<rect x="368.3" y="211.0" width="48.5" height="54.7" fill="#fff" />
<rect x="421.9" y="211.0" width="48.6" height="54.7" fill="#fff" />
<rect x="474.5" y="211.0" width="48.1" height="54.7" fill="#fff" />
<rect x="527.3" y="211.0" width="48.1" height="54.7" fill="#fff" />
<rect x="580.6" y="211.0" width="48.5" height="54.7" fill="#fff" />
<rect x="634.0" y="211.0" width="48.4" height="54.7" fill="#fff" />
<rect x="687.5" y="211.0" width="48.5" height="54.7" fill="#fff" />
<rect x="740.0" y="211.0" width="48.4" height="54.7" fill="#fff" />
<rect x="208.3" y="269.8" width="47.5" height="55.6" fill="#fff" />
<rect x="260.5" y="269.8" width="49.0" height="55.6" fill="#fff" />
<rect x="314.6" y="269.8" width="48.5" height="55.6" fill="#fff" />
<rect x="368.3" y="269.8" width="48.5" height="55.6" fill="#fff" />
<rect x="421.9" y="269.8" width="48.6" height="55.6" fill="#fff" />
<rect x="474.5" y="269.8" width="48.1" height="55.6" fill="#fff" />
<rect x="527.3" y="269.8" width="48.1" height="55.6" fill="#fff" />
<rect x="580.6" y="269.8" width="48.5" height="55.6" fill="#fff" />
<rect x="634.0" y="269.8" width="48.4" height="55.6" fill="#fff" />
<rect x="687.5" y="269.8" width="48.5" height="55.6" fill="#fff" />
<rect x="740.0" y="269.8" width="48.4" height="55.6" fill="#fff" />
<rect x="208.3" y="329.8" width="47.5" height="55.1" fill="#fff" />
<rect x="260.5" y="329.8" width="49.0" height="55.1" fill="#fff" />
<rect x="314.6" y="329.8" width="48.5" height="55.1" fill="#fff" />
<rect x="368.3" y="329.8" width="48.5" height="55.1" fill="#fff" />
<rect x="421.9" y="329.8" width="48.6" height="55.1" fill="#fff" />
<rect x="474.5" y="329.8" width="48.1" height="55.1" fill="#fff" />
<rect x="527.3" y="329.8" width="48.1" height="55.1" fill="#fff" />
<rect x="580.6" y="329.8" width="48.5" height="55.1" fill="#fff" />
<rect x="634.0" y="329.8" width="48.4" height="55.1" fill="#fff" />
<rect x="687.5" y="329.8" width="48.5" height="55.1" fill="#fff" />
<rect x="740.0" y="329.8" width="48.4" height="55.1" fill="#fff" />
<rect x="208.3" y="388.9" width="47.5" height="54.9" fill="#fff" />
<rect x="260.5" y="388.9" width="49.0" height="54.9" fill="#fff" />
<rect x="314.6" y="388.9" width="48.5" height="54.9" fill="#fff" />
<rect x="368.3" y="388.9" width="48.5" height="54.9" fill="#fff" />
<rect x="421.9" y="388.9" width="48.6" height="54.9" fill="#fff" />
<rect x="474.5" y="388.9" width="48.1" height="54.9" fill="#fff" />
<rect x="527.3" y="388.9" width="48.1" height="54.9" fill="#fff" />
<rect x="580.6" y="388.9" width="48.5" height="54.9" fill="#fff" />
<rect x="634.0" y="388.9" width="48.4" height="54.9" fill="#fff" />
<rect x="687.5" y="388.9" width="48.5" height="54.9" fill="#fff" />
<rect x="740.0" y="388.9" width="48.4" height="54.9" fill="#fff" />
<rect x="208.3" y="448.6" width="47.5" height="54.7" fill="#fff" />
<rect x="260.5" y="448.6" width="49.0" height="54.7" fill="#fff" />
<rect x="314.6" y="448.6" width="48.5" height="54.7" fill="#fff" />
<rect x="368.3" y="448.6" width="48.5" height="54.7" fill="#fff" />
<rect x="421.9" y="448.6" width="48.6" height="54.7" fill="#fff" />
<rect x="474.5" y="448.6" width="48.1" height="54.7" fill="#fff" />
<rect x="527.3" y="448.6" width="48.1" height="54.7" fill="#fff" />
<rect x="580.6" y="448.6" width="48.5" height="54.7" fill="#fff" />
<rect x="634.0" y="448.6" width="48.4" height="54.7" fill="#fff" />
<rect x="687.5" y="448.6" width="48.5" height="54.7" fill="#fff" />
<rect x="740.0" y="448.6" width="48.4" height="54.7" fill="#fff" />
<rect x="208.3" y="507.8" width="47.5" height="55.7" fill="#fff" />
<rect x="260.5" y="507.8" width="49.0" height="55.7" fill="#fff" />
<rect x="314.6" y="507.8" width="48.5" height="55.7" fill="#fff" />
<rect x="368.3" y="507.8" width="48.5" height="55.7" fill="#fff" />
<rect x="421.9" y="507.8" width="48.6" height="55.7" fill="#fff" />
<rect x="474.5" y="507.8" width="48.1" height="55.7" fill="#fff" />
<rect x="527.3" y="507.8" width="48.1" height="55.7" fill="#fff" />
<rect x="580.6" y="507.8" width="48.5" height="55.7" fill="#fff" />
<rect x="634.0" y="507.8" width="48.4" height="55.7" fill="#fff" />
<rect x="687.5" y="507.8" width="48.5" height="55.7" fill="#fff" />
<rect x="740.0" y="507.8" width="48.4" height="55.7" fill="#fff" />
<rect x="208.3" y="570.2" width="47.5" height="54.3" fill="#fff" />
<rect x="260.5" y="570.2" width="49.0" height="54.3" fill="#fff" />
<rect x="314.6" y="570.2" width="48.5" height="54.3" fill="#fff" />
<rect x="368.3" y="570.2" width="48.5" height="54.3" fill="#fff" />
<rect x="421.9" y="570.2" width="48.6" height="54.3" fill="#fff" />
<rect x="474.5" y="570.2" width="48.1" height="54.3" fill="#fff" />
<rect x="527.3" y="570.2" width="48.1" height="54.3" fill="#fff" />
<rect x="580.6" y="570.2" width="48.5" height="54.3" fill="#fff" />
<rect x="634.0" y="570.2" width="48.4" height="54.3" fill="#fff" />
<rect x="687.5" y="570.2" width="48.5" height="54.3" fill="#fff" />
<rect x="740.0" y="570.2" width="48.4" height="54.3" fill="#fff" />
<svg x="208.3" y="35.7" width="47.5" height="53.0"><path transform="scale(0.25)" d="M158 66l-3-8-7-4-8 1-7-5-7-1-4 5-8-6-5-4-6-5-5-3-8 6-8-3-6-7-2-6 8-4 7-4 6 7 2 7 5 4 7-2 4-7 5-5 8 1 4-8 8 1 1 8-2 10-7-2-10 2-6 2-6 0-7 6-3 5 1 8 9 4 7-2 7-2 9 1 8-6 4 6 8 1 9 3 7-4-4-7-9 1-6 5-5 7-9-1-9-1-8 0-5-4 7-7-7-7-3-5-7-2-5 6-3 7-4-4-9 0-8-3-7-1-6 6-5 6 5 8 4 5 5-7 8 0 9 3 7-1 7 4 7-1 7 5 5-7 5-7-2-8 1-8 3-6-7 4-7 3-5-3-9 6-6 4-7 5-7 3-1 7-4 10-3 3-8-1-6-9 7-4 7-4 8-2 6-5 4 6 8 0 7-5 4-6 5-5 7-6 3-8 8-2 5-5 8 4 7 4-3 7-1 9-4 7 4 5 4 9 9 2-1-8-7-4-8 5-4 5-7 6-7-6-7 3-7-6-5-6-4-8-4-6 7-5 1-9-2-7-8-5-8 5 5 5 4 7-3 6 2 10-8 6 4 6 0 9 0 7-6 8-10-3-2-8-6-2-6-8-7 3-7 0-8-5-1-8 5-8 6 5 10-2 7 3 8-4 7-1 9 2 7 2 8-4 7-4 3-8-4-5-8-6-2-8 6-7 6 2 2 9 0 7 4 7 7 0 6 5 8 2 6 4 6 6-7 6-6 0-7 4-3 7-10 4-5-4-9 3-9 3-6-2-8 3-7 4-6 1 2-6-1-11-5-4-6-5-5 7-9 1-6-2-4-8-5-7-7 0-7 3-7 4 2 7 8 3 7-3 3-9 9 1 7 0 6-2 9 5 6 3 8 4 9 0 5-3 8 5 7-3 9 0 3-7 6-6 5-3 5-7 8 1 8 0 8-2 4 6 0 8-7 0-7 5-3 3-6 8-3 7-6 4-7 4-8 0-8 0-6-6-4-6-4-7-4-6-9 0-6-3-8 2-6 7-6 2-2 7-3 5-3 10 8-1 7-3 8-3-1-9-3-6-5-8-7-2-7-4 0-8 7 0 4-5 10 0 7-5 3-5 8-5 5-4 9 3 7 3 6 6 8 3 4 3 10 3 5 3 4 6-6 2-9 2-6-1-8 3-6 5-8-6-7-3-7-6-7 2-6 7-7 2-8 3-8 1-8-4 5-8 2-6-4-8 3-7-6-5-9 2-4-7-8-1-9 0-2 9-1 8 4 7 4 6 2 6 8 4 8 1 0 9 3 7 7 5 7 0 8-4 7-5 5-5 7-5 8 0 7 2 5 6 5 7-6-3-5-6-1-10-8 3-7-5-7-2-7-4-8 1-8 2-7 1-8-4-2-10 8-6 6 6 8 1 7 3 6 4 7 6 1 6 9 3 6 1 8-4 7-3 5-5 9-1 9 0 6-4 8 2 10-1M76 74l-4 8 4 8 7 4-9 1 2 11-4 6-4 5-8 5-1 8-7-1-6 5-8 0-7 5-7 5-5 4-10 1-6 1-1 8 6 5 7 2 8 2 8 1 6-2 9-3 7 1 9 2 7 5 0 8 4 5 2 9 7 2 9 2 6 1 4-6 1-8 1-9 5-1 8 4 5 7-1 8 0 9M103 100l-8 1-9-2-5-7-8 2-4-6-5 7-7-5-9 0-8 3-1 8 6 6-2 7 0 9 8 3 6 6 6 5 6 5 8-1 8-3 8 4 7 2 9-1 6-4 5-5 3-8 0-9-6-2-10-2-6-3-10 1-1-7-6-7-6-3-4-6-8-3-8 4 6 6" fill="none" stroke="#d95555" stroke-width="5.6" stroke-linejoin="round"/></svg>
<svg x="260.5" y="35.7" width="49.0" height="53.0"><path transform="scale(0.25)" d="M134 26l-6-4-8-1 2 7 4 7 6 4 1 10-6 5 0 7-10 2-5 2-10-2-8-2-7-1-7-1-1-7-5-9 2-7 3-6 8 0 5 5 4 8 0 7 7 7 4 4 5 7 6 2 9 0 8 3 5-6 7 3 9-2 6-2 6-5-1-8-5-5-10 0-8 1-1 6-9-2-6 5-6 0-8 0-8-1-5-6-6-3-9-1-6 7-4 4 3 8-7 0-8-3-7 2-7 4-6 3-8-3-6-4-7-8 1-8-8-3 4-9 7 0 5 7 7 4 5 6 3 7 6 6 3 5-2 10 7 6 5 4 6 5 8-2 4 7 9 2 7 2 5-5 4-8 7-5 0-7 4-8 2-8 0-7-1-9 5-6 5-6 8 0 3-9 8 0 6 4 9-1-3 9-5 5-8 2-4-8-5-5-7-2-8 0-6-1-8 6-5 6-6 3-7 5-7 4-7-3-7 4-10-1-8 0-6 5-8 0-3-7-3-6 1-7 11 0 6-4 7-4 4-8 6 6 3 8-5 5-4 8-6-1-5-10-4-5 1-9 3-8 9 2 6 3 8 6 4 4 9 3 9 1 6 1 7-3 8-2 9-2 3 5-1 8 5 7 9 2 8-3-10-3-2 7-7 4-8 0-7-1-3-8-7-4-1-7-8-4-4-7 3-7-6-5-1-9 6-4 7-8 7-3 5-5 7-2 8 3 9 2-3 8-5 5-3 9-1 8 3 6-7 6 0 8-6 5-7 0-5-5-8-7 0-5 0-9 9 2-2 7-5 9-6 6-7-1-4 7-7 5-7-1-8-1-7 3-6-6-4-7-8-1-9-1-5 6 5 8 8-3 6-4 7 1 7-3 8 1 7-1 6-5 9 2 5-6 0-10 9 3 6 5 3 8 0 8 8-1 7 2 8 3 5-6 0-8-4-7 5-7 1-8 6-5 9-2-1 8 4 6 9 2 2 7 4 5-4 6-5-1-9 2-7-2-8 1-7 2-9 3-5-7-8 0-7-5-8-5-7-1-5-4-8 4-6 4-8 1-3 8-1 6 8 5 1 8 6 7 6 6 0-7-2-11 6 0 7-2 9 1 8-6 2-6 6-6 4-6 7-4 9 0 2 9-1 8-4 4-8 0-8-3-7 1-7 6-8 7-5 2-8 0-2-9-8 1-7 3-9-2-4-6-5-6-7 1 3 6 9 2 6-2 7 2 1-7 10-1 6-5 7 6-2 9 7 3 10-5 6-1 8-3 0-7-7-5-9-2-7 1-5 5-7-3-7-4-8 0-5 9 1 6 7-1 8-5 6-1 8 3 0 8 7 5 6-4 3-8-5-8-7 0-4-7 4-10-1-7M59 74l0 8 3 8-10 1-8 1-5 5-8 3-2 5 5 4 7 6-2 9 8 2 4 9 6 1 9-2 2 8-1 8-2 8-3 6 5 8 1 7 2 8-1 8 6 0 6 7 8 3 2 7 1 9 4 6 7 2 6 7 7-4 5-6 3-6-3-7-8-6M98 85l3 7-3 7 0 8 1 8 3 9 7 2 3 6 8 0 8-2 6 5 4 6-9 4-3-5-5 7-5 6-4 9 4 5 8 3 7-3 3-7 8 3-2 8 1 8" fill="none" stroke="#d95555" stroke-width="5.6" stroke-linejoin="round"/></svg>
<svg x="314.6" y="35.7" width="48.5" height="53.0"><path transform="scale(0.25)" d="M125 85l0-10-5-5-4-6-6-5-2-7-9-1-3 7-5 7-6 1-8-1-5-7-3-5 6-7 4-6 1-9 6-4 3 7-1 7-4 8-4 6 0 9 3 5 6 8 6 3 4 8 7-3 6-5 9-3 4-6 8-4-5-6-5-7-5-6-6-8 6-5 4-7-9-2-7 5-6 3-8 1-8 2-9 1-1 8-8 0-1 8-1 9 2 8 3 5 8 7 5 6 6 5 4-8-3-7 3-7-6-4-3-8-6-6-8-2 3-9-8-3-4 8 5 7 3 5 6 8-6 7-4 7 7 6 7 2 9-4 3 5-8 4 0 9 7-2 9-1 7 1 8-3 7-2 2-8-5-8-3-8 3-8-2-9-3-5-3-9-10 3-7 3-6 3-3 5 5 8 7 3-2 10-1 6 3 8 2 9 7 1 8 0 8-6 6-1 9 2-2 8-7-1-2-10-7-4-6-3-8 0-7-4-9-2-4-4-4 6-1 7 5 5 4 8-2 6-5 6-8 0-7-3 6-9M87 106l-2 8 3 7 1 7 6 6 7 4 1 8-5 6-7 6-7 3-8-4 3 7-9 4 8 5 3 6-2 7 5 7-8-3-6 5-4 5-4 8-4 8-7-3M73 111l2 7 8 1-3 8-7-4 2-6 3-11 8-3 6-3 9 5-5 4 5 7 2 8-3 7-3 8-1 7-4 7-5 7-4-5-8-8 5-5 6-4 8-2M97 32l9 1 6 0 9-3 4-7 7-1 4-7-2-9 4-5 8 3 4 9 3 6 7-4 4-7 5-3 9-3" fill="none" stroke="#d95555" stroke-width="5.6" stroke-linejoin="round"/></svg>
<svg x="368.3" y="35.7" width="48.5" height="53.0"><path transform="scale(0.25)" d="M104 78l7 2-1-7-5-4-4-7 5-7 4-6 4-9-1-9 6 5 11-3-3 10-1 7-5 8 1 7-6 5-4-7-5-6 1-9-9-1-5 6 1 8 7 6 8-1 5-4 6-6 9-3 4-6 8 2 7 2 5 8 5 4 3-7-5-6-5-8-6-2-7 6 2 7-5 7 4 7 0 7-2 8-1 9-2 8-8 2-3-8 1-8 4-6 8-6 4-5 6-7 0-8 1-7 7-1-8-5-7-1 3 7 4 8-1 8 0 9 6 5M10 95l7 2 9-3 3-9 8 1 9-5 5-3-5-6 9-6 4-6 1-7 6-7 7 2 7 4 8 4 2 7 2 9 8-1 9 3 6-3M71 169l7-9 7-11 10-10 7-10 9-9 7-10 7-8 8-12 9-7 6-2 1 6-6 10-7 7-10 11-7 9-8 10-5 9-8 9-8 9-7 10 1 6-1 9 10-12 6-9 9-11 8-10 8-11 9-10 6-10 11-12 7-9 8-1-1 9-9 10-6 9-8 12-8 9-9 9-8 10-9 10-7 9-7 11 1 7 5 1 8-12 9-9 8-10 9-11 7-10 6-10 11-11 8-9 7-10M87 180l-4 7-4 6-7 3 1 4M146 64l5-8-5-5-6-9-4-4 6-5 8 0 9 0 6 1 6 7 8-3 7-4-5-6-5-7-2-6" fill="none" stroke="#d95555" stroke-width="5.6" stroke-linejoin="round"/></svg>
<svg x="421.9" y="35.7" width="48.6" height="53.0"><path transform="scale(0.25)" d="M28 164l10-8 9-9 8-9 8-7 9-8 9-7 9-11 8-8 8-6 9-11 9-7 8-9 9-7 9-9 7 1 6 0-7 8-9 8-10 9-9 8-7 10-9 7-8 9-10 9-10 7-7 8-10 9-8 7-9 10-9 8 1 6 7 1 8-9 8-6 9-8 9-8 9-9 6-9 9-6 9-8 5-6 9-11 9-6 8-8 7-6 10-10 7 1 1 5-9 10-8 8-10 9-8 8-10 8-7 9-10 11-8 6-10 7-8 9-9 9-8 8-10 10-8 6-1 8 7 1 9-7 9-10 10-10 9-8 9-9 8-9 8-7 10-7 10-11 6-6 10-11 9-8 8-9 9-5 8-2 0 8-10 8-8 8-7 8-9 8-10 7-7 7-8 9-8 8-8 8-8 6-8 9-9 8-9 7-7 8M10 42l1-7 3-8 8 1 9 1 3 9 7-2 6-6 7-5 5-5-8-5-7-2-1 9 9-2 3 7 8-2 7-1 8-6 7 1 9 1 4 8 6 0 0 9 11 1 2-7 7-5 7-5 7-1 7-5 8-1 2 10 5 5 6 7-2 8 5 6M126 48l-7 3-10-1-7-3-7-2-9-2-2-7 6-4-6-9-6-4-3-8-8-2-5-4-8 5-1 7 1 8 4 9 6 3 4-6 7 4 9 0 8-1 6-6 7 0 7 6 8 2 9 2-3 8 1 8 2 8-7-2-2-9 2-8 0-7-9-5-7 3-5 5 7 6 7-1 3 8 7-3 9 3 6 2 8-2 9-4 5-2-1-9-3-8-5-5-8-2-4-7-7-1-10 1-8-1-4-6-8 5-7 1M49 180l1 7 8 4 7 6-1 9" fill="none" stroke="#d95555" stroke-width="5.6" stroke-linejoin="round"/></svg>
<svg x="474.5" y="35.7" width="48.1" height="53.0"><path transform="scale(0.25)" d="M27 152l8-9 11-6 9-10 9-8 8-8 9-10 12-8 8-7 10-11 9-8 9-9 12-8 8-9 11-9 5 1 1 5-8 11-12 5-8 11-11 9-9 9-10 10-8 8-12 10-9 7-10 11-10 8-9 9-10 8-8 10-2 7 8 0 10-7 9-9 11-11 7-7 9-10 12-7 9-12 11-6 8-9 7-11 10-5 10-11 10-8 10-9 6 0 4 4-8 8-12 10-10 7-9 10-7 9-10 9-11 8-10 7-10 10-8 10-9 10-11 8-7 8-11 9-1 7 5 2 10-8 8-7 12-11 8-9 11-8 9-11 8-6 11-11 8-9 10-6 10-9 10-11 9-6 9-12 8 2-2 10-11 8-9 7-10 11-9 7-10 12-8 6-9 10-13 9-7 10-10 8-11 8-9 9-10 9-10 9M4 11l6-6 5-6 3-7 5 5 9 2 6 4 6 5 3 6 7 9 5 4 2 7 4 6 8-3 5-6 6-1 8 1-2 8 8 4 6 5 6-3 4-6 8-1 0 7 8 4 7-1 7-3 8 2 7 1M75 33l7 4 8-1 9 1 7 0 8 2 8 4 4 6 6 4 2-7 5-6 5-5 5-6-1-7-9-4-6 2-7-5-6-2-6 6-9-4-3 7 6 3 9 1 8 3 6 4M38 180l-7 0-10 0-7 2-7 3-7 6-3 7 8-4 7 1 10 1 5 5" fill="none" stroke="#d95555" stroke-width="5.6" stroke-linejoin="round"/></svg>
<svg x="527.3" y="35.7" width="48.1" height="53.0"><path transform="scale(0.25)" d="M33 157l10-10 6-9 9-9 9-9 8-12 7-9 10-9 8-11 9-10 8-10 9-8 7-11 9-9 7-10 8 0-1 11-9 9-6 8-10 9-6 8-8 12-10 9-8 9-7 9-7 11-10 9-8 9-7 12-9 7-8 10 1 7 2 5 9-9 12-8 6-13 8-11 9-9 10-10 6-12 8-8 10-11 7-9 10-10 9-11 7-9 10-10 7-1-2 11-10 10-7 10-7 8-10 12-9 9-8 11-8 9-10 8-6 12-10 10-9 11-7 7-9 12-9 10 1 8 8 1 6-9 10-12 10-8 7-13 10-11 7-9 10-10 9-9 7-12 9-10 10-9 6-11 10-11 10-8M58 25l7 7 6-7 4-4 7 4 6 3 6 8 5 5 8-3 8-1 5-7-7-6 4-8 7 6 7 0 8-1 8 0 7 7M60 15l5 7 8 3 5-5 5-10 4 8 7 2 8-5 10 3 8 3 5 6 7 4 6-2M48 174l-3 8-6 7-6-3-8-1-5 4-3 8-3 6" fill="none" stroke="#d95555" stroke-width="5.6" stroke-linejoin="round"/></svg>
<svg x="580.6" y="35.7" width="48.5" height="53.0"><path transform="scale(0.25)" d="M36 164l7-9 10-9 8-10 7-10 6-9 10-10 6-12 9-8 9-10 8-10 8-9 7-8 9-11 7-11 7 0 1 8-8 9-8 11-8 9-7 8-8 12-10 8-6 9-7 10-9 11-6 9-7 9-9 8-8 10-8 9 1 9 9-3 5-8 11-9 5-12 10-9 6-8 10-10 8-10 9-9 7-10 6-9 10-11 6-11 10-10 7-8 7-1 5 3-8 11-9 11-9 8-7 11-10 11-6 9-11 10-7 11-7 9-8 10-10 12-7 10-9 10-9 10 1 7 8 0 8-9 9-10 6-10 8-9 8-10 9-12 6-7 9-10 7-9 9-11 9-9 6-10 8-10 5-10 10 1 6 1-7 11-10 8-7 10-7 7-8 11-8 10-8 12-9 9-7 9-8 11-7 8-7 9-9 11-9 11M85 15l6 6-1 8 8-1 7-2 3 7 2 7 7 4 8 1-1-9 7-4 8-3 6 4-4 4-11-1-2 6-8 5-6 5-8 0-10-2-4-7 0-8-2-8-8 4 2 6 9-2 6 2 8-3 7-4 9 2 8 4 4 7 6-5 5-4 3-8 6-6 7-1 8 2-1 8 1 8-7 4 2-7-8 4-4-7-5-6M58 180l-8 2-5-9-5-4-4 6-3 9-5 3-1 5 5 9" fill="none" stroke="#d95555" stroke-width="5.6" stroke-linejoin="round"/></svg>
<svg x="634.0" y="35.7" width="48.4" height="53.0"><path transform="scale(0.25)" d="M23 169l8-11 8-10 7-11 9-9 10-9 8-11 9-10 6-9 10-11 9-8 9-12 7-10 8-9 8-12 11-10 7 0-6 15-8 12-10 7-6 10-10 11-6 9-8 10-10 6-7 11-8 11-9 9-6 10-11 9-7 10-7 9-9 11 1 6 10-3 7-9 8-12 10-7 8-11 8-11 9-8 8-10 7-10 9-11 9-9 9-9 7-10 8-11 10-10 8-10 7 0-1 9-8 10-8 10-9 10-7 9-8 10-8 12-10 8-9 9-8 10-7 11-9 9-9 10-7 8-9 11-7 10 1 7 7-2 8-8 8-9 10-9 6-12 8-9 8-7 8-12 9-8 8-10 9-10 6-8 5-11 9-7 10-11 6-11 9 2 3 5-10 11-6 7-9 11-7 7-7 10-8 9-9 11-9 9-6 8-7 11-10 10-6 9-9 9-8 8-8 12 1 5 6 3 7-10 8-10 8-9 8-11 7-7 10-13 9-8 7-7 7-11 7-9 11-11 8-8 8-11 7-9 10-10M19 11l8-1 3-9 7-5 7 3 7 3 5 7 6 5 3 9 5 3 9 2 8-2 2-6 2 9 1 8 4 7 8-2M142 35l-7-4-6-3-8-2-5 6 4 6 0 11 8 0 7-4 8-7 0-7-4-8-7 2-8-5-7-1-6 4-5 7-6 2-8-3-4-8-1-8 7-3 9-2M39 191l-8-5-7 4-3 7-8-1" fill="none" stroke="#d95555" stroke-width="5.6" stroke-linejoin="round"/></svg>
<svg x="687.5" y="35.7" width="48.5" height="53.0"><path transform="scale(0.25)" d="M17 178l8-10 8-9 7-9 11-8 7-10 9-8 9-8 6-9 10-10 8-7 11-9 7-10 9-8 9-8 8-8 8-1 5 3-10 10-8 8-9 9-10 9-10 9-8 10-8 10-9 8-12 9-8 10-8 8-9 9-11 9-6 10-11 9 1 8 9-1 8-11 9-6 10-10 8-11 10-8 8-7 9-11 8-8 11-10 9-10 8-8 9-10 11-8 9-9 10-10 6 0-4 11-9 8-8 12-9 7-8 7-9 9-8 8-6 10-10 10-9 7-9 8-8 10-11 6-7 10-9 8-7 10 0 6 5 2 9-10 9-7 8-10 9-8 8-7 7-9 9-8 9-9 8-8 7-8 9-8 7-9 8-9 13-7 7-10 6 1 5 3-10 8-8 11-9 7-9 8-9 10-6 9-12 10-7 9-9 6-8 10-10 8-8 9-8 10-9 8-8 9M104 44l0 8-3 8 9 0 3-8-1-8-8-4-7 1-8-2-6-6-7 1-1 7-5 7 2 7 6 3 6-6 7-3 0-10-5-6-8 2 1 8-2 6 1 11 8 2 6-4 7 5 8-1 6 0 4-9 2-7-1-7-3-7-7 3" fill="none" stroke="#d95555" stroke-width="5.6" stroke-linejoin="round"/></svg>
<svg x="740.0" y="35.7" width="48.4" height="53.0"><path transform="scale(0.25)" d="M1 171l10-10 7-7 8-8 10-6 9-10 9-9 7-7 9-10 8-9 10-6 10-9 6-8 9-9 9-8 7-7 9-8 9-10 7 1 5 4-10 8-10 9-8 7-8 9-9 9-9 8-8 9-8 10-9 7-10 9-9 9-8 8-9 8-10 7-7 9-10 10-7 8-1 7 6 3 7-9 10-9 8-6 10-10 7-8 8-8 9-8 9-10 9-7 7-8 10-9 10-8 8-9 9-8 9-9 7-8 8-8 9 0 5 2-10 8-7 10-10 7-9 9-7 8-9 7-11 11-8 6-6 11-10 6-9 10-9 9-10 7-7 11-9 8-9 8-7 8-2 7 5 2 8-7 9-9 9-7 9-10 8-9 11-9 9-7 8-9 9-7 8-11 9-6 8-10 10-7 8-9 8-9 9-9 9-10 8 2-2 8-7 10-9 9-10 8-9 9-8 6-8 10-8 8-9 6-8 11-8 7-10 8-6 8-10 8-8 8-11 9-7 6-8 10 0 7 5 1 9-7 9-8 7-9 10-7 9-9 7-7 8-9 10-6 7-11 8-9 10-4 8-10 7-8 9-7 10-7 7-9 6-10M146 31l-8-4 1-9-7 3-7-1-5-7-6-7-5 4-6 7-7 2-8 3-5 7-7 0-8 4-4 4 6 6 5-2 10 0 6 5 5-7 7-4 5-6-3-7 7-3 8-3 5 5 3 9 2 7-7 6-7 3-7-5 0-8-9-3-8-1-2 8 7 5 7 4 6 6 8 0 9 1 6-2 8-2 10 1 1-9" fill="none" stroke="#d95555" stroke-width="5.6" stroke-linejoin="round"/></svg>
<svg x="208.3" y="94.3" width="47.5" height="54.3"><path transform="scale(0.25)" d="M10 22l6 5 6-5 7 2 9 5-3 7-7 3-6 3 6 9 6-4 8 1 0 8 6 8-3 5-5 7 6 2 8 5 3 8-3 8 1 9 5 5-9 1-4 7-7 3-3 8-9 1-4-8-8-5-7-2 1-10 2-5 7-3 6-6 3-6 6 5 5 7 2 6-5 5-5 8 7 4 8 1 6-8 1-6 8-1 8 3 9 3 4 6-2 7 6 6 6 5-2 11-9-1-6-1-8-6-1 9 5 6-6 6 5 7 0 7 7 6 4 6 7 3 6 6M83 88l4-7 9 1 5-6 8-3 7-3 8 0 7-4 7 3 10 1 6 2 4 6 7-3-2-8-5 5-4 4 0 10-2 8 5 6 8 5 2 7-2 6-6 5-6-4-7 5-7 1-9 2-8 3-8 3-7-2-8-5-4-6-5-5-3-9-1-6 5-4 8-1 7-5-7-5 5-8 4-8 3-5 7-4 7-3 7 3 6 6 4 7 8 0 2-8 0-6-9 0-5 4-8 4-6 4-8 4-4 8-7 4-5 4-3 8-8-1-1-8-5-8-6-6-2-6 1-9 8-2 8-1 7 2 8 1 5 3 8-8 6 5 2-9-2-7 9 1 5 5 4 8 2 8 1 9 6 4 8 3 3 6-1 8-2 8-8-1-3-5-7-3-7-1-7 2-9-2-8 5-6 1-7-5-7 1-6-7-7-5 1-8 0-8 3-8 1-7 11 1 7 0 6-5 4-6-1-8 8-1 8 2 7 3 8 2-4 7-9-2-6-1-7 1-8 5 3 8-9 2-2 8-7 2-1 8-1 9 4 7 7 2 3 6 5-5-8-6-6-2-6-4-7-2-1-7-4-8-4-5 6-3 5 5 8 2 7 4 0 8 0 6 4 7 6 6 1 6-3 9 5 6 9 0 5-8 9-2 7 2-5-7-3-7-6-1-4-6-9 3 3 8 1 7 7 6 7-1M90 185l-2 8-2-8-9-1-5-7" fill="none" stroke="#4a4ad8" stroke-width="5.6" stroke-linejoin="round"/></svg>
<svg x="260.5" y="94.3" width="49.0" height="54.3"><path transform="scale(0.25)" d="M154 37l2 7-3 8 0 9-1 6-4 8-8 1-8-5-9-2-4-3-9-1-1-7 0-9-1-7-1-8 5-4 10-4-2 8-2 8 3 8-5 6-3 8-7 3-5 6-1 7 10 1 7-1 6-8-2 10-6 4-5-6 3-8 7-3 6-4 9-2 8 0 5 5 2 10-7 0-9-1-6 3 2-6 3-7 1-8-5-4-3-9-9-2-2-7 1-7 8-4 7 2 6 3 8-1 6 6 6 2 8 0-5 5-7 6-8 1-7 3-3 7 4 8 4 7 9-1 3 6 4 8 9-1 7-2 9-4 2-4 9-3 8 0 6-6-2-7-8 2-6 2-8-1M10 65l4-7 3-7 9 3-4-8 0-9 2 7 7 7 5-1 7-6 7 0 7 2 9 4 4 5 0 9-8 4-1 6-3 9 7 3 6-3 8-3 4 7 1 6-1 7 1 10-6 7-7-4-6-5-6-5 4-7 8-2 6 5 2 7 3 6-4 8 5 6 8-1 9 4 8 1 5 4 2 6 0 9 2 8 4 5 5 8 4 7 4 5-1 8 0 7-8 2-5 4-9 7-4-5-9-4 1-7-7 2-10-1-4 6-7 3-7 5-3-6-9 0M65 128l2-8-1-9 7-1 6-4 9 2 2 8-3 8-6 4 1 9-9 4-7 3 2 9 9 1 7-1 7 0 3 8 7 7 6-5-3-9-5-6-2-7 6-6 9 0 9 2 6-7 0-7-6-6-5-6-8 6-6 1-2 6-2 9 7 5-4 8-2 5-7 7-5-4-5-7-7 0-6-5-8-4-7-4-2-7-4-8-2-8 5-6 8 1 9-1 2 8 7 1 9-2 4-8 9-4 5 2 9 4-1 8 6 7-1 7 0 8-9 6-6 2-4 7-7-3-7-3-5 8-5 7-3-7-7-4-9-1 2-10-4-7" fill="none" stroke="#4a4ad8" stroke-width="5.6" stroke-linejoin="round"/></svg>
<svg x="314.6" y="94.3" width="48.5" height="54.3"><path transform="scale(0.25)" d="M0 130l9 3 3 5 7-2 8-4 7 3 10 3 4-7 7-3 9-5-3-7-1-9 2-6 7-3 7 3 7-4 0-8-8-4 4-7 1-9-1-7 9 1 1 10-4 7 4 6 4 5 7 7 6 4 7 2 9-2 5-5 2-8 4-5-2-11-4-5-6-2-3 5-8 7 4 8 6-3-4-7 4-7-3-7 8-4 5-1 3 7 9 4 8 1 7-3 7 0 7-7 5-5 2-8 1-6M134 135l-4 4 2 10-4 5-4 6-8-1-7 3-5 6-8 2-6-4-7-4-5 6-7 1-5 5-3-8 0-7-7-5-2-6-9 0-8-4-5 7 0 7 8-2 3-7 6-6 2-6 7-5 6-6 5-6 3-7 8 4 6-6 8-2-2 8-2 8-6 5-3 7-8 0 0 8-6 7-2 6-4 7-10 5-1 8-9 1-7-6-8-3-8-2-4-6-3-8-1-7-4-6 2-11 0-6 3-6 8-6 6-5 5-6 4-7 8 0 8-1 3-6 4 8 8 3-1 7-3 9 4 8 5-8-8-8-2-6 8-1 6 2-2 6-6 6 0 8-6 4-6 6 2 8-9 3-4 6-9 3 6-7 5-6 6-7-2-8-2-6-7-8-1-8 3-4 7-5 2-8 6-6 8-2 4-7 9 4 10-2 5-4 6 7 0 7 3 8 1 6 8 5-1 6-8 0-6 6-3 8-8 0-5-3-8 6-7-3-6 6-5 6-8 5-7 1-8-1-7-2-7 3-9 5 7 8 8 0 7-2 8-1 0-9 3-4 10-3 2 7 1 6 8 0 6 7 6 5 0 8 7 6M68 130l6 4 5 5 10 4 5 5 5 8 0 6-4 8 1 7-7 7-6-4-7-1-6 6-6 3-5 7 8 6 7 5M154 65l5 5 8 2 2 9-8 4 4 8-7 6 2 8 0 8 2 7 7 7 2 6 0 9-8 6-7-1 0-9-3-7 3-4 9-9 3 8 8 4 6-5 6-5-3-9-1-6 0-10 7-4 3-6-6-4-6-6-8 0-5-8-9-1-7 5-4 3-7 6-1 7 3 10-6 3 5 7 7 3" fill="none" stroke="#4a4ad8" stroke-width="5.6" stroke-linejoin="round"/></svg>
<svg x="368.3" y="94.3" width="48.5" height="54.3"><path transform="scale(0.25)" d="M88 116l7-8 6-11 6-9 8-12 7-10 6-11 7-10 8-10 6-10 6-13 6-8 8-2 4 4-9 9-6 11-7 13-7 13-6 7-10 12-6 13-6 10-8 11-7 11-7 10 1 8 6 3 3-12 9-11 6-11 7-10 7-12 10-11 8-11 6-12 6-11 8-10 6-13 8-1 1 8-7 9-7 10-9 12-5 14-7 10-7 10-8 9-5 12-9 12-7 10-5 12M45 116l7-11 6-11 6-8 6-11 7-11 7-10 8-9 5-2 4 1-5 11-7 10-7 11-8 11-5 9-4 12-10 9M113 143l-3 8-2 7-6 6-4 5-8 3-7-2-8-3-9-1-7-1-4-6-6-7-7-6-4-6 0-9 8 4 9-3 2 6 2 10 5 5 6 4 6 7 8-5 6-3 9 2 7-7-7-6-3-7-3-7-7-5-4 7-8-3-6 5-3 6-5 7-8 1-9-2 3-6 9-5 6 5 8 1 6-5 0-7-4-8-8-1-6 5-1 7-6 5M58 152l7 7 5 5 4 6 8 3 0 8-5 8 0 7" fill="none" stroke="#4a4ad8" stroke-width="5.6" stroke-linejoin="round"/></svg>
<svg x="421.9" y="94.3" width="48.6" height="54.3"><path transform="scale(0.25)" d="M65 133l4-10 5-13 6-10 4-12 4-12 6-14 3-10 5-13 4-10 5-13 6-10 7-4 3 8-6 15-4 11-5 13-5 12-6 11-6 14-1 11-7 15-4 11-6 13-6 12M92 137l7-9 5-13 5-10 7-11 7-11 6-11 5-10 4-10 7-11 7-11 4-10 8-10 6-3 6-2-8 10-5 11-4 12-7 12-6 11-6 11-6 11-6 10-6 12-7 11-6 11-5 12 1 6 3 3 5-12 8-11 7-11 6-13 6-9 8-13 6-14 6-10 5-11 8-12 6-11 7-11 6-3-2 12-4 11-6 12-8 9-4 9-6 12-6 11-7 10-3 10-6 11-7 11-5 11-5 11M44 178l-8-4-4-7-8-1-7-5-2-9 2-8 9 0 8-4-1 9 5 5 2 9-1 7 1 8 6 3 11-2 7 1 4 6 5 6 7 2 9 1 8-4 4-6 6-5 3-7-6-6-9-4-5-2 3-8-1-7 2-6-1-11-6-5-6-4-6-4-7 5 0 8 1 7 7 5 1 9 0 7-2 7-9 3-4 6-9 3-6 1-7 5-7-2-5-7 0-8 3-8 7 2 7 1 8-3 7-3 8 2 9-3 7 4 2-9-2-9 5-7-4-8 7-4 2-7 10-4 6 3 8 1 8-1 1 9 1 9 6 5 4 5 6 7 0 7-6 2-8 4-8-2-4-8 0-7 6-6 7 1 7 2 6 6 1 8-8 1-8-5-6-5-8 2-6-1-8 1-9 1-3 9-7 1-7 2-9-1-7 4-9 1-7-1-8-1-5 7-7-3-5-4 1-8 3-8 1-8 7-3 8 0 9-4 4-4 7-5 7-4 6-7 0-8 10 3 6 2 5 8 0 7 1 7-6 7-7-4-9 5 1 8-3 7-3 7-2 7M58 163l-8-1-8 1-6 5-2 6 4 8 3 7 6 4 8-2 4-7 7-1 6 6 8 3-3 6 0 9 10 2 5 5 2 7 0 6 8-1 0-7 5-8 0-8 3-6 8-1 10 2 5 5 6 4 5 6-3 10 1 7 8-2 4-5 3-12" fill="none" stroke="#4a4ad8" stroke-width="5.6" stroke-linejoin="round"/></svg>
<svg x="474.5" y="94.3" width="48.1" height="54.3"><path transform="scale(0.25)" d="M54 133l3-8 5-12 3-11 6-11 3-12 4-12 3-11 7-12 4-11 5-12 2-11 8-2 6-1-3 11-4 11-4 14-7 13-5 11-4 11-4 13-2 11-5 12-5 13-5 12M80 144l10-13 5-8 7-11 7-11 6-11 5-10 8-10 6-11 8-10 6-8 6-13 8-12 5-9 8-1 3 4-6 10-7 11-7 6-6 15-7 10-7 9-5 9-7 11-5 11-7 8-5 12-7 8-8 10 2 8 4 5 5-10 8-12 7-10 6-13 7-9 6-11 6-8 7-13 8-11 5-9 7-11 8-11 5-10 8-2 0 10-6 9-8 11-7 11-5 9-6 11-5 9-9 10-7 10-7 12-5 9-6 9-6 12-6 10M89 155l-7 6-8 0-3 8-8 3-6 4-7-8-7-3-7-3-6-3 0-9 0-9 8-3 7 0 8 4 6 5 6 2 9-1 6 3 9-3 4 8-5 7-6 5-6 4-7 4-7-5-2-8-3-7-8-2-3-7-9-2-6 1 2 6 9 7 1 7-9-1-5-4 0-9 1-7 7-1 6-3 9 5 5 4M29 163l-8-3-7 3-8-4-6-4 2-6 2-10-4-5 4-7 9 0 6-3 9-4 8 4 8-3 7-3-1-7-8-4-3-7 9-3 4-4M77 169l8 0 7 5 8-1 7 4-5 4-8 4-4 6 4 8 9 2 6-6 6-5 9 2 8-1 7 1 3 8" fill="none" stroke="#4a4ad8" stroke-width="5.6" stroke-linejoin="round"/></svg>
<svg x="527.3" y="94.3" width="48.1" height="54.3"><path transform="scale(0.25)" d="M40 152l2-13 5-13 5-9 3-14 5-14 5-12 4-11 5-11 5-13 4-14 5-11 4-13 8-2 2 9-5 11-4 14-4 13-5 13-4 11-5 14-4 13-4 11-5 13-7 13-4 12-5 13M82 147l5-11 6-10 6-11 4-12 6-11 5-11 6-12 5-9 5-10 5-13 5-11 6-11 6-10 6-3 0 12-5 11-4 11-6 11-5 10-5 12-7 10-3 10-6 10-5 11-5 12-5 12-7 10-4 11M105 149l6-12 4-8 7-12 7-10 3-10 5-12 7-11 5-11 5-13 6-9 6-10 4-10 7-11 6-2 5 2-5 11-6 12-8 10-4 11-6 11-5 11-5 13-5 9-7 11-6 12-5 10-3 11-7 11 2 6 9-6 4-12 6-9 6-9 7-14 3-8 6-12 5-11 5-9 5-11 4-9 7-11 5-10 4-10M100 171l-7 2-7-6-10-1-7-2-4-6 1-7 7-2 8 1 6-4 6 2 9 4 4 7 3 8-10-1-7-4-6-8-6-2-5-6-2-7-8 3-5 7-5-7-8-2-8 5-6 3 2 7 7 5 7 6 7-3 5-8-9-4-6 0-9-6-3 7-6 5 3 9-2 6-9 1 1 10 8 0 10 0 7 5 8 1 4-6 9-3 7-2 10 1 5 4 8-2 5 7 8-6 2-6-7-4-7 1-9-4-3-6-3-8-6-1 5-6 7 1M38 163l6-8 8-3 4-5 7 6-5 6-3 8-2 7-3 6 5 7 1 6" fill="none" stroke="#4a4ad8" stroke-width="5.6" stroke-linejoin="round"/></svg>
<svg x="580.6" y="94.3" width="48.5" height="54.3"><path transform="scale(0.25)" d="M43 157l3-11 7-10 3-14 3-12 6-11 4-10 3-13 7-11 4-11 5-11 5-12 4-11 5-13 7-2 3 10-4 9-5 10-5 12-4 13-5 9-2 11-5 12-6 10-5 12-3 11-5 12-5 10-4 11M95 151l4-11 5-12 4-10 5-10 5-14 8-10 5-12 6-11 2-9 5-11 8-12 3-11 6-11 7-2-1 14-4 10-4 13-6 9-7 12-5 11-3 12-6 9-5 13-5 11-5 11-5 12-6 9-5 11M116 151l4-12 7-11 6-10 4-13 5-11 5-11 8-14 3-10 7-12 5-11 6-11 4-11 8-3 1 9-6 11-4 10-4 12-8 11-5 11-5 12-4 10-6 13-6 10-5 10-6 13-5 11 3 6 6-3 6-13 5-9 6-10 5-11 6-9 4-12 4-10 5-10 5-10 6-10 5-11 4-11M57 182l-8 2-7 0-8 1-8-1 0-8 2-9 8-2 1-6 6-8 6-3 5 4 2 10 7 3 6 6 8 1 6-2 7-4-5-7-6-6-7 3-7-1-8 2-7 5-3 7 1 8 8 2 7 8 5 2 10-1 4 4 3-7-4-7 2-9-3-5-7-4-2 7-1 7-6 6-7-6-4-6 4-7 7-4 7 3 6 2 10 2 5 6 6-3 7-6 3-8 0-8-6-6-8-1-6 6-6 8-6 1-9 2-6-3-8-1-10 0-8 0-8-1-4 8M19 174l3-7-6-6-6-5-8-1-4-7-3-6 2-7 3-9 7-5 3-8 5-2 3 7-4 7 7 2 6 7 6 7 4 8 1 6-7 4-8-1 2-9 0-7-6-5" fill="none" stroke="#4a4ad8" stroke-width="5.6" stroke-linejoin="round"/></svg>
<svg x="634.0" y="94.3" width="48.4" height="54.3"><path transform="scale(0.25)" d="M28 158l4-12 5-13 5-11 4-14 6-14 4-12 5-13 3-14 5-12 4-14 4-11 5-15 8 0 2 12-2 12-9 12-1 11-7 13-2 11-5 10-3 12-5 11-2 12-5 10-4 14-4 12M79 151l7-11 3-12 5-12 4-10 7-13 5-10 5-12 6-11 6-12 4-11 7-12 4-10 6-13 6-2 0 14-5 12-7 11-4 11-5 11-5 11-6 12-6 11-4 11-5 12-8 11-4 11-6 12-3 12 2 6 10-9 4-12 6-9 4-12 4-11 6-11 7-10 5-11 4-11 5-9 4-10 6-13 4-9 6-12M120 155l5-13 6-14 4-11 5-9 6-16 5-11 6-14 6-11 7-12 4-13 5-13 6-12 6-2 3 6-5 10-3 12-7 14-7 11-4 10-5 14-7 14-4 11-6 12-5 12-7 13-3 13M85 180l-7-2-8 5-8-1-8 2-7 2-9-5-3 9-8-5-4-6 1-8 7-7 5 3 9-5 4-6 7-5 5 4 6 6 9-2 7 5 5 7 7 3 4 6-3 8-9-3-7 6-2-7-3-8-3-8-7 0-7-3-7-3-5 5-9 3 3 8 7 5 6 7 3 6-5 7 4 7 2 7 7-1 7-6 7-3 7-2 8-5-1-8-5 0-8-1-4-8 4-8 6 5 7-7 9 0 2 6-1 7-8-2-3-7-4-6-4-8-7-3-9-2-4 3-2 10 7-2 5 5 2 9-2 6-10 0-6 3-8 0-7-6-7-2-8 0-8-2-8-4M58 185l-5 6-6-5-6 7-4 8 4 11" fill="none" stroke="#4a4ad8" stroke-width="5.6" stroke-linejoin="round"/></svg>
<svg x="687.5" y="94.3" width="48.5" height="54.3"><path transform="scale(0.25)" d="M16 157l3-12 6-11 6-12 4-9 5-12 5-13 3-11 6-10 3-14 6-9 5-12 3-12 4-11 8-2 5 1-6 12-1 11-6 12-6 12-4 13-6 12-4 10-4 13-7 13-3 11-6 13-5 12-3 11M73 150l4-10 6-10 4-10 3-13 7-10 5-10 2-11 6-11 7-12 4-12 6-10 3-10 6-11 5-2 6 1-5 10-5 13-5 9-4 15-6 10-7 10-3 12-6 12-3 12-6 11-6 9-6 13-4 11 3 7 5 2 6-13 5-13 6-11 5-13 5-11 4-11 6-12 6-11 6-13 2-13 6-11 5-12 6-11M109 148l3-11 9-10 2-11 5-12 5-8 6-13 8-11 3-10 4-12 5-9 5-13 5-12 6-11 6 0 2 10-2 12-9 10-4 13-8 12-4 10-6 11-4 13-6 8-5 12-4 12-7 10-4 12-7 11 4 7 8-6 4-11 8-14 4-12 6-11 6-10 5-12 5-12 7-11 4-13 5-11 5-11 7-14 3-11M43 159l7 6 7 0 4 6-2 8 4 7 1 9 6-2 10 0 6-4-1-8 3-8-2-7-8-3-5-4-5-8-7-4-8 4 5 4-1 8 5 8 8 1 7 4 6-5-3-8-6-6-8-3 1 9 1 7 2 8 7 1 5-7-6-9 3-9-2-7 9-2 3-7 9 4-2 8 5 5 0 9 7 4-6 7-6 2-10 2-5 3M10 163l8-5 3-7 7-4 4-4 6-6-2-9-8 2" fill="none" stroke="#4a4ad8" stroke-width="5.6" stroke-linejoin="round"/></svg>
<svg x="740.0" y="94.3" width="48.4" height="54.3"><path transform="scale(0.25)" d="M20 149l3-10 5-11 4-10 6-11 3-12 4-11 4-9 5-12 3-9 7-12 3-12 6-11 3-9 7-2 1 9-4 10-3 12-4 8-5 13-4 12-5 10-5 11-4 11-4 11-4 11-4 11-3 13-7 10M87 150l4-12 7-10 4-13 7-11 6-11 6-10 6-12 6-11 6-11 6-11 6-13 6-10 5-10 7-3 0 10-6 13-5 10-5 11-7 11-7 11-5 13-6 11-6 11-6 11-7 11-6 10-5 14-8 9M112 147l5-10 5-12 5-12 5-7 5-11 5-12 3-10 8-12 4-9 3-9 8-13 2-11 7-8 6-3 3 4-5 11-3 11-6 11-7 10-5 9-4 12-6 11-5 10-3 9-6 12-5 10-5 11-5 11 3 6 7-3 5-9 4-11 7-11 6-12 4-11 6-12 4-9 6-12 6-12 3-10 7-11 6-11 5-12M52 187l-4-7-4-5 8-6 7-3 4 4 7 7 8 1 8 3 8-1 7-3 6-5 9-1 6-4 7 5-9 4-10-2-6-1-4-8-8-1-6-1-9 1-10-2-7-3-6-2 2-8 8-2 7-3 6 5 6 4 9-3 7 1 9 0 7 1 6 9-1 6 0 8 4 6 6 5 8-3 5-9-5-6-5-5-8-3-7 0-7 1-9 5-4-6-9 3-6 2-6 4-6 0-3 7 0 9-6 6-8-2-5 9 1-9-4-7-2-6 1-10 3-6 9-4 4-7 4-5 7-1M58 185l-7 2-6-6-6-2-9 0 1 8-4 9-1 7-2 7-2 7-4 7 6 6 4 7 7-2 6-6-1-8" fill="none" stroke="#4a4ad8" stroke-width="5.6" stroke-linejoin="round"/></svg>
<svg x="208.3" y="152.2" width="47.5" height="54.8"><path transform="scale(0.25)" d="M108 35l-2 7 5 6 4-6 8-4 5 6 3 7-2 10-5 4-9 2-8 0-7-2-9-1-8-1-7 0-6-6-2-6-8-5-5-7-10-2-7 3-5 3 0 9-6 8 4 6 4 7 2 9-4 7-5 6-3 7-6 1-11 3 2 6 5 7 5 7 7 3 6-6 8-4-1-9-5-2-6-5 1 8 3 6 5 9 1 7-1 8 0 8-1 5 9 6 3 6-2 9 5 7 1 7-3 8-2 8-7 7-3-9 1-7 0-7-7-9-6-3-6-5 3-5 4-7 8-2 7-3 2-7 1-8 4-6 2-8 5-5 3-9 6-4-2-9 0-8-3-9-1-7-5-6-4-6 1-6 3-8 8-5-3-6 4-9 8 0 7 1 9-3 0 9-2 7-3 8-8 4-1 8 7 4 0 8-2 7 5 6 7 3 4 6 10 3 5 5 6 4 8 2-1 7-8 4-5 5-7 4-5 6 1 8-5 7-5 6-6 1-9-5-2-10-6-1-7 1-8-6-7 1-9 0-5-6-4-7-4-7 5-7 9 0 9-5 8 4 4 5 8 3 9-2 4-5 4-8 9 1 5-5 5-5 10-2 3-7 9-1-7 5-7 3 6 6-3 6-2 8 3 10-1 6-3 7-9 2-6-3-6 7-7 1-7 1-7 3-8-3-7-1-9 0 0 7 5 5 6 4 10 3 8 2 6 2 8 3 5 5 8 5 6 2 6-6-2-7-5-7 1-8-6-4-8 4-9-1-3 7-8 3-9 1-7-2-8 3-7 4-4-7-3-5-6-8 2-6 3-7-2-7-7-6-7 3 2 7 4 8 8 3-1 6 0 9 6 7 4-1 6-5 5-8 9-3 3-8 6-3 8 3 7 5 1 6-2 7-7 8 0 5 0 8-2 10-7-1-6 5-1 7-1 9 3 8 6-3 1-7-5-7-3-7-9 3-7 1-3-8-2-9-2-7-5-7-8-3-1-8 5-5 7-7 7-3 7 6 6-5 8-1 8-2 8 1 5 6 11-1 5 4 4 7 2 9 6-7 3-6 8-4 5-6 8-3 4-9-5-5-7 5-4 6-3 7 0 9-4 6-6 7 4 8-4 8-6 5-7 3-5-6-5-4-2-10-6 3-8 5-8 1-5-8 0-9 7-3 1-6 3-7-1-10 7-5 7-4 5-7 6-2 6-6 7-1 6 8 5 5 8 2 6 5-5 10-5 4-4 8-8 2-3 6-9 2 1-6 4-8 4-5 8-2-5-8-3-7-7-3-5-5-9 5-3 6-7-3-6-6-8-4-8-1-5-5-8-1-5 6-9 0-4-8-5-4-7 1-7 6-4 6 2 8 3 9 1 8 5 3 10 1 6-1 9 1 5-6 8-3 8-2 7-3 4-8-6-5 5-9 6-5 5-5-7-5-8-4-5 6-6 7-6 0-9 3-9 0-3-7-6-3-9-3 2-8M95 44l8 4 7-4 6 2 2 8 9 2 8 0-1-7-1-8-5-6 7 1 10-1 4 5 2 6 5 6 10 4 7 0-2 8 2 8-8-5-8-1-7 3-4 6 5 8-10 4 9 3 7 4 6-3 5-8 7 2 5 8 1 10-8 2" fill="none" stroke="#d2d200" stroke-width="6.0" stroke-linejoin="round"/></svg>
<svg x="260.5" y="152.2" width="49.0" height="54.8"><path transform="scale(0.25)" d="M12 75l8-1 7 3 7-6 8-2 7 5 6 6 4 9 9 0 5 6 7 2-1 9 3 8 0 7 0 7-2 7 7 8-1 4 5 7 8 4 7-2 8 2 6-6 0-11 9-1-6-7-6-6-7 4-8 0-8-1-4 8-3 8-2 8-5 6 5 6 5 7 6 4 4-6 6-7-9-3 1-9-5-5 2-10 0-7-6-5-4-7-2-9-6-3-6-6-8-5-4-8-4-6-6-1-5-7 5-7 1-8 2-8 7-4 8-1 8 4 5-6 5-7 7 3 4 8 5 8 8-5 5-6 9 2 5 7 5 6 2 6 7 5 2 10 0 6-7 6-7 3-8-1-7 3-8 3-3-5-1-8 2-9 4-6-5-5-3-10 10 0 6 4 7-5 5-5-1-9-7-6-6 2-8 2-10 0-5-5-5 8-7 1-7 10 1 5-9 3-6 5-8 0-7 0-8-5-8 0-1-8 4-7 0-8 10 0-3 7 2 8 7 4 5-7 6-4 9 3 6 5 7 2 7 4 6 5 4 7 4 7 4 9 2 7-3 7-2 8-1 9 3 6-2 8 3 7 3 10 7 2 10 0 7 0-2-8-4-8 2-8-3-7-8-4-7 4-7 2-6-4-8-4-5-6 0-8-6-6-5 2-9 2-8 2-7 2-7 4-8 1-8-4-8 5-1 7-4 8-1 7 8 6 4 2 7 0 10-5 6-5 3-6 7-2 7-7 7 5 6 6 8 2 6 4 5 7 8 5 4 4 8 3 7 3 6 5 8-2 0-8 8-3 9-1 9-3 2-8 3-7-3-7-8-1-9 0-9 0-6 2-5-7-8-3 5-9-9 1-6 4-2-8-9 0 6-7 6-5 4-6 5-8 2-7 0-8 0-6-3-7-4-9-8-2-4 3-7 7-2 9-5 4-7 5-3 7-6 7 1 7 7 8-10-3-5 5-2 8-5 8-8 3-8 1-8 2 1 10-7 3-4 9-6-5-6 6-6 5 5 7 0 7-3 7 3 8 5 5 3 9 7-1 6 1 9 5 6 2 6-7 6-2 9-4 1 8 3 8 5 5 0-8 5-5 7-7 0-8 8-7 3-6 0-7-5-6 3-9 5-6 1 7 6 7 7 1 9-3 4-6 4-7 5-7 4-6 2-8-4-8 1-9 6-3 10 0 7-5 6-1-4-6 4-7-6-7-3-9-8 2-7 2-9 3-5 6-7 4 0 8-3 8-7-3-11 2 0 8-1 7-5 7 1 7-2 9-6 3-8 1-8 3 1 9 2 9-3 7-5 5-8 6 1 8 8 2 2 9 2 6-6 3-7 3-10 2-3-7-5-7-2-7-6-6-2-7-2-8 2-10-4-6-6 1-12 1-5 2-4-7-2-8-1-8-4-7 1-9 4-6 8-3 1-8 7-5 9-3 6-4 3-7 11 1 6-4 0-8 1-7 5-6 8 4 4 8-2 6 2 9 4 7 7 1 8 3 6-6-2-7-2-7 5-7 8-2 2 8 5 4 6 6 3 6-4 7-7 5-7 4-8-4-6-3-8 5-5 2-12-1-5 2-7 5-2 7-6 3-8 5 5 5 7 3 9-2 6 5 7 2 6-6 4-8 7 3-1-8 5-6 10-1 8 3 7 4 6 2 7 4M118 110l9 3 7-1 5-5 8-1 7-3 8-1 6-2" fill="none" stroke="#d2d200" stroke-width="6.0" stroke-linejoin="round"/></svg>
<svg x="314.6" y="152.2" width="48.5" height="54.8"><path transform="scale(0.25)" d="M133 127l-5-5-7-4-5-7-4-8-5-5-1-9 4-6-2-9-8-4 0-8-5-7-7-4-8-3-5-4-8-2-7 5 0 6-6 6 0 9-7 5 4 8 4 7 4 8 7-3 5 7 3 9 5 2-5 5-3 7 2 8 0 7-5 7 1 10 3 7-9 2-7 2-5-7 1-7-7-6-7-4-7 2-2-8 1-6-5-6-8 0-9-4-5-4-7-6 0-7 2-9 6-5 0-8 7 2 8 4 7 3 8 3 2 7 9 2 7 4-1 8 6 6 6 6 6 2 9 5-1 7 7 3 9 5 1 8 6 6 6-1-7-5-4-5-4-6-6-7-4-6-1-7-1-7 3-7 3-8 4-8-1-8-5-5-8 2-5-6-7-3-2-9 0-6-2-9-1-9-4-7-7 6-5 6-5 7 5 6 2 8 3 6 3 8-4 8 6 8 7 1 8 1 9 1-1 7 2 7 1 8 2 8-5-4-9 1-8-2-6-3-9-2-9 1-7-1 4-8-10-5-4-6-3-7 2-6 6-4 1-8-4-7 0-10 9 2 6 6 4-6 2-7 4-9 6 3 9-4 2 6-1 11 3 8 1 7 5 3 8 2 0 6 4 8 5 6-5 6-3 5-5 6-1 10 1 7 8 2 2 8-1 9-5 6-7-1-8 0 1-8-1-8-2-9-7-4-2-6-1-9-5-8-1-6-5-7-5-7 2-8 8-5 5-6 7-3 8-2 8 0-4-9-5-4-5-7-7-3-8 2-2 8-2 6-1 10-8 0-5-6-2-8 3-7 4-6 8-5 6 1 8-2 8-1 6-4 11 1 4 5 5-6 9 0 7-2 1-8 9-2 8-4 6 4 9 3 2 7 5 6-7 4-7 4-8 0-7 1-9 3-5 2-8 4 2 9-5 6 0 9-5 5-8-1-6 8-6 3-8 3-4 7 2 8-5 6 0 8 1 8-2 5-2 10 5 5 7 3 6-7 8-2 7 4-7 5 0 8-4 6-8 1-4-9 0-7 2-9 8-5-2-7 4-7 5-5-6-7 1-8-2-8 7-1 5-9-1-6 5-6 3-8 4-7-2-8 4-6 4-7-4-8-3-7-6-6-3-6-8-3-1 6-3 8-4 7-3 7-4 9-4 6 3 7-6 6-7 3-7 6 4 6 6 8 4 5-1 10 8 1 4 7 6 6-4 9 5 8 4-9 6-4 8-3 2-8 1-8 6-3-4-8 5-8 0-8-8-4-7-4-1-7 4-9-5-3-9-5-5-5 3-5 8-4 9-2 6 4 4 7-4 8 0 8 2 7-5 7 5 9-4 6-7 3-6 5-3 8-2 8-8 4-3 8 4 7 6 4 5 9 3 6 1 7-5 5-4 5-7 8 1 8 3 7 6 1 9 2 3-8-2-6-1-9 6-5 0-8 6-6-1-8 5-7-5-8 0-6 0-8 4-7 7-7-3-6 0-10-1-7-1-9-4-9-2-6 0-7 1-8 4-8-2-6-1-9-7-3 4 7 1 6-2 9 2 9 0 10 5 5-2 7 1 10-1 7-2 8 3 6-4 9-7 4-7 6-4 3-5 8-1 9-3 6 2 9 5 5-2 8-5 7-8 0-6 7 0 7 3 7 7 5 5-5 2-9-8-2-7-3-7 3-6 1-4 6 5 5 7 5 10 2 7-1 1-8 6-7 6 5 8-3 4-7 5 5 3 8 7 4 7 3" fill="none" stroke="#d2d200" stroke-width="6.0" stroke-linejoin="round"/></svg>
<svg x="368.3" y="152.2" width="48.5" height="54.8"><path transform="scale(0.25)" d="M23 200l6-13 6-12 5-13 6-10 6-13 3-13 8-10 5-12 6-14 7-11 4-12 7-3 1 8-6 11-3 13-6 11-7 13-6 14-5 11-4 12-6 12-6 12-6 12-6 11 2 8 6-3 6-13 6-12 8-11 5-12 2-11 5-11 7-12 6-11 6-11 3-11 6-13 6-1 4 4-6 10-5 11-3 13-4 9-8 11-4 12-5 9-4 13-7 9-5 11-5 12M68 88l7 4 5 7 5 6 0 9 4 8 6-4 8-2 8 0 5-4 5-7-5-3-7 5-8 3-3-7 6-6 6 1 10 2 5-7 6-3 9-3 5-7-1-6-1-8-2-8 4-8 0-7-6-5 5-6 6-3 9 3 3 6 8 3 6-3 6-5M71 147l-2-7 0-9-5-5-6 6 0 7 3 8-1 9 0 7 6 6 8 2 6 8M116 110l2 6 6 1 6 8 5-8 6-5 6 2-3 9-3 4-6 9-4 6-7 1-7 5 4 7-5 6 7 6-2 8 10 1" fill="none" stroke="#d2d200" stroke-width="6.0" stroke-linejoin="round"/></svg>
<svg x="421.9" y="152.2" width="48.6" height="54.8"><path transform="scale(0.25)" d="M7 179l7-10 7-10 8-9 8-10 7-10 6-10 6-9 7-10 7-9 6-9 8-12 6-9 10-9 4-11 7-8 9-1 6 4-10 10-4 8-8 11-8 9-4 11-11 11-6 10-7 7-7 11-5 12-10 8-7 8-6 11-8 12-6 8 2 9 14-6 4-9 6-9 8-11 7-7 7-11 7-10 7-8 7-10 3-9 10-9 5-10 10-11 6-7 5-10 8-12 8 1 7 4-9 9-7 13-9 9-8 10-3 10-10 11-8 8-7 12-6 9-8 10-7 10-7 10-9 12-5 11-9 9 3 7 8 2 8-10 7-11 6-10 9-10 7-11 6-10 8-11 9-10 4-9 9-10 8-13 7-8 7-12 9-11 7-8M-6 160l8-12 6-9 6-11 9-10 5-9 9-10 6-10 7-10 8-9 9-11 6-10 7-10 8-8 6-12 7-9 9-11 34 21 32 26-10 12-6 10-8 8-6 12-10 11-6 11-8 9-7 11-8 12-8 10-8 8-8 13-7 9-8 13-6 10-9 10M148 60l1 9 3 5 4 8 4 5 2 8 2 8 3 8-5 7-4 6-5 7-9 0-6 4-2-10-1-8 0-6-8-2-5-6-4-7 2-7 9-3 8 1M39 182l0 7-8 2 0 7 7 6 5 3 8 4 6-5" fill="none" stroke="#d2d200" stroke-width="6.0" stroke-linejoin="round"/></svg>
<svg x="474.5" y="152.2" width="48.1" height="54.8"><path transform="scale(0.25)" d="M0 183l9-11 7-10 8-9 6-9 6-13 9-11 6-10 7-9 7-11 8-10 7-12 6-11 7-12 7-8 6-10 11-11 6 0-1 13-8 10-8 11-5 10-9 11-6 9-6 11-7 8-6 12-8 8-7 11-9 11-5 11-7 10-7 10-7 11-6 9 3 8 9 0 5-10 6-12 8-8 6-11 7-10 8-12 8-10 6-8 7-10 5-10 8-11 7-10 7-11 9-11 6-8 8-11 7-1 9 1-10 8-7 12-7 10-6 11-8 9-7 14-7 9-5 12-10 10-7 9-7 12-7 11-7 11-9 11-8 9-6 10 4 9 14-8 5-9 6-9 6-11 7-10 6-8 7-11 6-9 7-11 6-8 8-10 5-10 7-10 8-10 6-9 6-9 8-10M-16 173l7-10 7-13 8-8 10-11 6-11 7-9 9-10 8-11 9-10 5-13 6-8 10-12 6-9 8-11 8-11 7-10 9-11 35 21 28 29-6 9-9 11-6 12-7 6-8 13-6 8-8 11-8 9-8 11-6 11-8 9-8 10-6 11-9 9-7 11-7 9-8 10M158 44l-3-9 5-3 0-9-11-2-6-3-6 7-8 2-7 2-1 8-2 9" fill="none" stroke="#d2d200" stroke-width="6.0" stroke-linejoin="round"/></svg>
<svg x="527.3" y="152.2" width="48.1" height="54.8"><path transform="scale(0.25)" d="M-2 185l10-10 5-8 6-11 9-8 7-11 7-12 6-9 8-11 9-10 6-10 9-11 5-11 8-9 6-11 9-9 7-10 8-10 7-1 5 3-4 8-9 12-7 11-9 8-6 12-10 9-4 11-7 10-9 10-6 9-6 10-9 13-7 8-7 9-7 11-8 12-6 9 2 8 6 3 8-9 6-13 8-9 6-10 8-10 6-8 10-11 6-11 8-10 7-12 7-9 7-10 7-9 7-9 6-12 9-10 4-10 10 0 5 4-7 11-10 12-7 8-5 10-10 12-4 10-9 13-7 7-7 12-9 8-8 12-7 10-6 11-7 10-8 9-5 12-10 9 3 8 8 1 6-11 9-7 7-13 8-9 5-12 8-10 8-11 8-10 6-12 8-9 9-10 7-10 7-12 7-8 8-13 7-8 7-11M-13 160l7-9 8-8 9-9 9-10 6-9 7-10 9-10 7-12 9-8 8-9 7-10 6-8 10-11 7-7 8-12 10-8 6-10 34 22 27 30-6 9-7 9-9 9-7 10-7 8-9 10-8 10-8 9-7 7-8 11-6 9-8 10-8 9-7 7-7 12-9 8-6 10M147 24l-2 7 1 8 9 0" fill="none" stroke="#d2d200" stroke-width="6.0" stroke-linejoin="round"/></svg>
<svg x="580.6" y="152.2" width="48.5" height="54.8"><path transform="scale(0.25)" d="M8 182l7-8 6-11 8-11 6-10 6-8 8-11 7-11 7-10 7-12 6-8 8-11 6-11 7-9 6-10 8-10 7-12 7-10 8 1 0 13-7 9-7 11-6 8-6 9-7 11-7 10-5 8-10 10-5 9-7 10-5 10-7 10-6 10-8 10-7 8-5 10-5 7 1 10 1 8 9-8 5-12 8-10 7-8 8-13 6-10 7-10 6-12 6-8 9-10 7-11 7-9 7-11 8-9 8-13 6-10 4-8 9-1 4 8-9 10-6 8-7 11-5 10-7 10-7 10-7 10-6 10-8 10-6 10-7 9-7 10-6 10-7 9-6 11-9 8-5 11 3 8 4 2 8-9 7-11 7-11 6-8 9-12 5-9 8-13 7-9 6-10 9-11 6-9 8-9 6-13 7-9 6-10 7-11 8-9M-14 168l9-10 7-11 9-6 6-11 6-9 7-11 9-11 6-6 8-10 9-10 8-10 6-10 7-10 8-10 8-8 5-10 10-8 5-10 36 20 28 31-8 9-6 10-8 9-7 9-7 10-8 12-8 6-7 12-8 11-8 8-6 10-6 8-11 10-5 12-9 8-7 11-8 9-8 9M126 11l-5 8" fill="none" stroke="#d2d200" stroke-width="6.0" stroke-linejoin="round"/></svg>
<svg x="634.0" y="152.2" width="48.4" height="54.8"><path transform="scale(0.25)" d="M8 190l6-10 7-13 6-12 8-9 9-7 6-12 7-12 8-10 7-12 7-10 8-9 6-12 10-12 6-11 9-8 7-12 6-12 9 1 4 6-8 10-8 11-6 11-9 10-6 11-6 11-9 10-7 10-8 11-6 13-8 8-8 11-7 9-8 12-4 12-10 10-7 9 2 8 8 0 7-9 8-10 7-12 8-11 5-9 9-11 7-10 6-12 9-9 7-11 7-11 8-10 6-11 8-11 8-12 7-10 8-9 8-1 0 10-7 9-7 11-8 11-4 13-9 9-7 10-8 11-7 10-9 10-7 11-4 11-9 11-9 9-7 10-6 10-7 12-7 9 2 8 7 0 9-11 6-8 8-13 8-10 6-9 7-12 9-9 5-10 8-11 8-10 6-13 7-11 7-9 9-10 7-11 7-8 7-12M-13 163l7-9 9-11 6-8 10-11 7-9 9-8 11-10 6-10 9-8 9-12 9-7 8-11 7-9 9-10 7-8 10-12 10-8 8-8 32 21 22 36-6 9-9 9-9 8-7 11-7 9-9 10-7 8-8 9-8 8-9 9-8 10-9 9-7 9-8 8-8 11-9 9-9 9-6 8M154 44l-5 8" fill="none" stroke="#d2d200" stroke-width="6.0" stroke-linejoin="round"/></svg>
<svg x="687.5" y="152.2" width="48.5" height="54.8"><path transform="scale(0.25)" d="M9 186l5-10 6-8 9-11 6-9 6-10 7-9 5-10 7-11 8-8 6-11 7-9 8-8 6-10 6-11 7-9 6-10 7-10 8 1 5 5-6 10-6 9-8 8-7 12-7 8-5 9-8 11-6 8-7 10-5 11-8 9-7 10-8 10-6 8-4 12-7 8-8 10 3 7 5 5 5-10 9-11 5-11 7-7 7-10 8-11 6-9 7-11 8-9 5-12 8-8 7-11 6-11 8-9 7-9 7-11 6-9 8-1 4 7-7 11-8 8-7 10-6 11-8 9-7 11-5 10-8 11-6 8-9 10-5 10-6 10-8 10-8 12-6 6-7 11-7 11 3 8 11-4 6-9 7-10 6-9 8-11 6-11 9-10 6-9 6-10 7-10 7-10 8-9 6-11 7-11 6-9 8-10 7-11 6-8M-4 164l6-11 7-9 8-9 9-11 7-9 6-11 10-9 7-10 7-11 9-9 7-10 8-12 8-10 7-9 8-10 8-10 7-9 35 20 26 34-8 10-8 9-9 10-4 11-8 10-9 8-7 10-8 12-7 7-9 11-6 9-8 10-8 10-6 10-7 9-10 11-7 11" fill="none" stroke="#d2d200" stroke-width="6.0" stroke-linejoin="round"/></svg>
<svg x="740.0" y="152.2" width="48.4" height="54.8"><path transform="scale(0.25)" d="M7 187l8-10 7-10 8-10 6-11 9-11 8-10 8-10 4-13 9-7 8-11 8-12 7-10 7-11 8-10 9-10 6-9 8-13 8 0 1 6-4 10-8 10-9 12-7 10-7 12-7 8-6 12-9 9-7 10-6 11-8 10-9 10-6 10-7 11-10 9-7 12-6 10 2 8 3 8 8-10 6-12 9-11 9-11 6-13 10-8 7-13 7-9 6-11 10-9 8-11 6-14 8-9 8-11 6-11 11-9 5-12 9 0-1 12-8 11-6 9-7 11-7 7-8 11-7 11-7 10-8 8-7 11-6 11-9 9-6 10-7 11-7 10-6 10-7 11-8 8 2 8 6 3 9-12 6-8 9-11 5-9 8-9 7-11 6-11 6-10 8-8 8-11 6-9 9-10 4-10 9-10 8-9 7-11 6-11M-4 168l4-8 9-8 6-11 8-8 7-8 6-10 7-11 8-9 8-8 5-8 9-9 6-9 8-9 6-11 8-8 7-10 7-8 8-10 7-8 34 21 31 26-9 10-6 11-7 9-9 8-7 10-8 11-8 8-7 10-6 9-9 10-7 9-5 10-9 9-8 10-9 9-7 10-6 7-10 12-7 10" fill="none" stroke="#d2d200" stroke-width="6.0" stroke-linejoin="round"/></svg>
<svg x="208.3" y="211.0" width="47.5" height="54.7"><path transform="scale(0.25)" d="M112 90l7 4 4 8 7 1 9 3 6 4 10 0 0-7-4-5-2-8-6-7-7-2-6-8-3-5-3-7-9-3-8-1-7-2-8 3-5 6-5 6-4 6-4 10-3 6-5 3-8-2-6-6-5 4-5-6-6-6 1-9 8-4 9 4 4 3 10 5-4 7 1 10-2 6 4 7 9 5 8-3 8 2 8-2 5-4 9 3 6 6 9 1 1 9 6 6 6 5 2 7-5 7-7 2-8 0-8 2-1 9 0 7 0 8-6 4-8 4-8 4-7-4-7 5-6 2-8 5 0 7 8-1 6-5 6 4 8 0 8 6 7 0 0-7-2-9-5-4-6-4-7-4-3-7-6-6 1-7 0-10 7-2 3-7-7-5-9-1 0-9-4-6-9 1-6 4-8-4-8-3-1-8 1-9-1-8 8 0 8 5 2 4-3 9-6 4 2 8 7 5 7 5 6 3 6 6 7 3 8 2 9-2 8 2 7 2-1 7 0 10-6 3-5 7 2 7 7 6-3 7-1 7-8 3-7-1-7-4-5-6-8-3 4-5 5-7 6-8 7 2 8 1 3 8 7 3 9 2 7 0 10-1-4-7-8-2-7-2-5 5-5 6-6-3-8-3-9-2-3-6 0-9 6-5-7-5-7-3-5-7 2-9 3 9 7-4-1-6-3-8-2-7-3-10-3-4 6-10-7-5 4-9-10 1-6-3 0-11 1-5 8-6 7 2 7 1 4 7-4 7-6 5 7 9 7-5 7 3 7 2 7 6 9 1 0 7 9 6 6 2 7 1 6 7 1 8 4 8 2 8 8-2 6-4 6-6-3-8-7-5-4-8 0-7-1-9-4-6-3-6 7-6 5 5 0 8-6 6-2 8 0 7-6 9 0 6 1 8-5 7-9 2-5 5-8 2-8 6-4 5-4 8-5 6-8 4-3 5-9-1-1-6-7-6-8-1-6 6-8 2-5-6 2-8 3-10-1-6 3-7-3-10-5-3-9-1-8-4 0-6 3-8 2-7 9-5 7-1 7 0 7-4 7-3 7 2 9-1 7 2 7-7 0-8 3-5-2-9-6-6-7 4-3 7-6 4 0 10 7 3 7 2 2 8 7 3 8 5 3 6 1 7-7 6 3 7 5 7 4 6 6 6 6 4-2 6-7 5-5 7-6-7-7 3-8-1-3-8-7 0-7-2-9 6-6 2 1 7 8-4 0-6 0-8 4-8 2-8 3-7 1-8-7-5-6-2-2-8 6-5 0-7 5-8-4-8 1-10-3-3-9 4-5 5-7 4-2 7-7 5-7 2-8 6-6 4-8 1-7 1-8 1-8 2-5 6-4 7 7 8 5-6 3-8 6-1 7 5 9 3-3 6-5 10 5 5 7-2 8-2 10-1 2-6-7-7 1-7-1-9 4-5 7-3-3-9-6-1-8-4 4-6 6-7-4-6 7-4 4-5 5 7 10 0 7-2 7 6 10 0 4 6 9 2 6-3 9 3 6 4 8-3 9 3 2 8-1 9-1 7-4 6 8 5 8 4-7 8-6 4-8-3-2-9-1-6-2-9-1-7-8-2-6-5-9-2-5-5-6-5-8-3-6-2-9-4-4-8-7 3 0 8-6 6-8 3-7 6 2 7 6 5-5 5-4 7-4 5 2 11 9-2 8 1 7 1 5 5 8-3 5-5 6-8 3-4 9 0 5-5 9-4 6 2 8 0 4-5 2-8 6-7 2-8 4-4 8 3 3 7-8 3-8-1-8-2-2 6-6 8-5-4-10 0-5-1-8-2-9 0-3 7 1 8 3 6 8 1 9 3 7 4 1 8 1 6 0 8-6-3-9 2-7-4-8-4-4-7-10 1" fill="none" stroke="#d452d8" stroke-width="5.6" stroke-linejoin="round"/></svg>
<svg x="260.5" y="211.0" width="49.0" height="54.7"><path transform="scale(0.25)" d="M79 168l4-8 0-8 2-5 8-7 4-4 2-9-3-8-2-8-3-8-4-5-8 3-6 4-2 6-8 4-6 2-9 3-6 5-5 8-7-2-5 9 3 8 0 9 3-7 5-8 3-7 8-3 2-8-6-5-6-6-8 5-6-9 5-6 1 9 0 7 1 6 6 5 9 2 1 6 7 7 9 0 5 6 8 1 7-5 8 5 5 6 7 0 8 5 3 7-1 7-3 9 0 5 6 7 9-1 7 0 7-6 1-6 5-7 7-5 4-7 3-8 1-7 6-8 8 1 3-6-7-7 7-7 7 0-4-8-1-6-8-7 1-5-8-7-6-4-8 3 0-10-6-6 9-2 8 1 5 6 1 7 6 5-7 5-1 8-5 8 8 5 2 6-1 8-6 5 0 7 3 9 7 3 0 12-7 3-9-2-8 1-6-4-8-2-8-1-5-5-7-3-6 6-6 4 1 10 7 2 9 3-8 5-6-5-4-7-7-5-6-4-9 1-6 4-7 6-7 1-8 4-5 7-8 2-1-11 6-5 7-3 8-1-6-5 6 5 6 3 8 6 8 2 0 10 8 2 3-6 5 5 10 2 4-5-4-5 1-10 5-7 1-6-3-9 3-8 0-6 7-5 1-7-5-7-5-5 6-6 7 1 5-8 8-5 5-2 6-6-1-10-1-7 0-7 1-9-6-5-3-7-8-5-5-5-2-11 8 3 7 3 4 7 2 9 5 4 3 7 0 9 4 5-8 4-6 4-8 1-8 3-7-1-10 0-6 0-7 1-8-3-7-2-8-2-3-9-7-1-6-6-8-2-8-1-9 4-4 4-8 2-8 4-2 7 0 8-1 8 4 7 7 2 6 4 8 1 9 2 8 3 3 6 7 5 4 7-4 7-2 9 1 6 5 7 6 5-6 6-8 2-6 7 0 8 7 7 7 3 6-3 8-5-2-8-1-9-1-7-8-4-4-5-7-4 5-7 7-4 8 0 3-8 2-7-8-3-6-5 0-6 6-8 0-9 0-7-3-7-1-9 0-8-6-6 3-9-3-7 3-8 9 0 0 9 4 6 5 6 9-3 8-1 6 5 2 8 5 6 4 6-3 7 5 9 0 7 2 7 8 5 4 5 8 5 0-9-5-4-8-3-9-2-5-2-2-10-4-6-1-10 3-4 0-10 5-5 5-7 6-6 10 2 5 0 5-7 8 1 8-1 4 7 3 7 1 8 4 6 2 10-7 4-6-1-8-7-8 0-8 2-6 4-5 6-8-1-9 2-7-4-7-1-8 4-6 5-8 1-8 3-6-4-9 1-4 9 4 6 1 8 1 9-2 6-9-3-5 4-5-8 4-8 2-7-1-9-3-6 7-7 2-7 4-6 6-6-1-7 1-9 8-3 6 4 6 4 8 2 7 1 9 3-1-7-7-5-5-4-8-1-6 5 7 5 7 3 4 8 8-1 7 4 8-4 3 8-4 7-2 8-7 2-4 6-8 3 0 9 1 7-3 8-3 7-6 7-2 6-5 4 0 9-5 7 4 7 9 3 6 4 8 0 6-2 8-1 9-1-1-10-3-6 3-6 6 6 8 4 7 4 7 0 5 6 7 4 8-3 7-5 6-4-3-3-4-11-5-4 6-5-6-5-6 0-7 6-8 0-1 8-9 4-6 4-5 6-6 8-4 2-8-2-5 7-7 4-6 5-6 0-9-3-7 4-8-1 0 8 7 1 8 3 6 6 7-3 0-8 5-8 5-7 6 0 6-6 2-8-3-7 0-6 5-8 2-9-3-6-4 6-5 8-6 2-8 1-9 5 1 7 3 7 5 6 6-2 2-7-1-9-2-6 1-9 6-4 1-8 5-8-1-9 0-7 2-8 3-4-4-10-8 0-6 3-5-7-7-6-7 0-8 0 4-8 5-7 7 2 8-3 5 5 5 9-5 6-1 8-5 4-8 2-6-4" fill="none" stroke="#d452d8" stroke-width="5.6" stroke-linejoin="round"/></svg>
<svg x="314.6" y="211.0" width="48.5" height="54.7"><path transform="scale(0.25)" d="M183 106l-5 5-8 5-4 5-3 10-8-2-8 0-9 0-7 2-8 4-10-3 6-7 0-8-8-1-7 5-6 3-3-8 7-4 8 6-1-7-6-6-5-7-5-3-4 6-4 6 5 3 7-6 4-10 7-3 3-6 8-4 5-7 8 5 7-4 6-6 8-3 1-6 1-10 7-4 2-8-2-8-7-6-1-8-8 0-8 0-7-6-8-3-6-1-9 3-7-2-5 8-3 7-7 0-6 5-6 8-3 6-8 4-9 1-6-3-10 1-4-6 4-6 8 2 6-5 6 3 9 4 8 2 5 6 5 4 10-2 0 10-2 6-6 4 1 9-2 9 4 6 9 4 2 6 9-1 2 9 1 5 0 9 4 6 5 5 1 8 2 8-8 3 1 8-2 8-4 6 5 8 4 5 8-3 9-1 4-6 4-6 5-6 5-6 3-8-1-8-1-9-3-7 3-8 5-4-1-8 6-8-2-7 3-8 6-4-6-9-4-5-8-5-8 2 4 6 1 10-3 7-2 8-4 6-1 9-1 6 9 6 0 8-1 7-8 0-7-4-4 5-4 9-4 4-1 9-1 7 5 6 9-1 2-6-6-4-4-8-6-5-5-6-9 1-6-3-7-2-5-7 1-8-5-6-10 1 2-7-4-7 7-8 3-6 5-6 5 2 9-5 8-3 8-2 8-1 6-5 6-5 0-9 1-7-1-9 3-6 9 0 3-9-2-8-5-5-7 4-4 7-2 6 0 7-1 9-9 2-7 2-7-3-9-1-5 2-5 8-9 3-7-3-9-1-5 0-4 7 7 4 4 6-3 6-9 0-7 4-6 5 3 7 6 5 1 9 2 6-2 6 5 10 4 4-1 9 2 7 1 7 3 8 4 9 3 5 2 9-4 6-7-3-3-10 8-2 3-8 7-2 8-4 0-9 4-8-8-4-5-5-5-8-3-6-2-10 0-5-5-7 1-8-5-8 3-7 1-8-1-9-5-4-7-6-7-6-1 8-4 6-10 0-8 1-6 1-8 4-4 5 1 10-1 6-4 10 6 3 10 0 5 5 9 3 6-2 7-1 6 8 1 6 9 2 6-4 8 0 0 9-4 8-2 9 5 4 6 3 3-6 4-7 10-4 6-4 3-9 4 7 10 1 8-1 7 6 6-3 10-2 1-7 5-6 4-7 4-7 3-7 5-7 7 4 7 5 6-6 7 0 8-5 0-8-4-5-4-7-8-1-4 7-5 6-5 6-5 4-9 5-2-8-7-5-7-5-7-2-5-5 3-6 6-8 3-8-2-7-8 7 2 6-1 9 4 8-3 6 0 8 3 9 8 3 9 2 4 6 8 2 7 4 3 7-1 10 6 4-5 6-7 3-7 4-4-7-9 0 6-7 7-3-7-3-7 3-8 1-7-8-1-6-7-4-6-4-9 0-7 0-9-4 2-9-6-4-6-7 5-6 3-7 4-8-2-7-3-7-4-6-7-5-6-6-5-5-8-5-6-5-8 0-7-1-9 2-5 7-3 7-2 7 4 8 2 6 7-3 7-4 7-5 6 2 7-1 6-8-4-7 3-6 6-7 5-6 5 6 7 3 7 0 9 0 7 0 8 3 4 7-3 8 4 8-6 3-5 10-2 5 4 7 5 6 3 6-4 5-4 9 2 9-3 7-8-2-7 1-6-7-9-4-1-7 6-5 3-8-2-8-5-5 6-6 4-8 3-7 4-6 0-9-7-1-5-6-5-8-7 1-6 8-4 7 0 5 5 9-4 5-3 8-6 7 3 8-5 8 0 6 4 10 6 5 7 3 0 9 7 3 5 8 3 5 7 6 5 5 7 5 7-7 3-7-2-8 1-7-5-6-6 3-7 4-7 1-9-1-6-2 3-7 4-8 4-6 3-9-5-5 5-3 8-3 8-5 7-2 8-3 3 7 6 7 1 7 0 8-3 9-7 3-8 4-1 8-6 4-5 7-6 6-10-2-6 2-3 8-3 5-8 4-7 2-4 9 8 3 5 7 6 6 3 8 6 2 2-8-8-4" fill="none" stroke="#d452d8" stroke-width="5.6" stroke-linejoin="round"/></svg>
<svg x="368.3" y="211.0" width="48.5" height="54.7"><path transform="scale(0.25)" d="M119 60l-5 6-6 2-6 7 1 9-5 8 4 6 8 1 7 0 6-8 4-4 6-7 5-5 5-9 4-4 9-2 6 0 0-9-5-5-9-1-7-3-5 5-5 7-6 5-7 8-2 7 1 6 8 1-1-5-1-12 4-6 5-6 3-8-4-7-8 0-8 4-1 8-4 7 3 8 5 4 2 7 9 2 8-2 0-7 1-8-3-8-7-5-3-8-6 8-8-2-6 2-9-3-1 6-2 9 3 8 8-1 7-3 4 10 4 7 5 5 5 5 6 5 9 1 5 2 9-4 2-8-8 0-6 4-10 1-6 0-9 6-6-7-6-4-6-5-4-7 6-3 8-2 6 4 8 4 4-8 7 0 9 0 4 6 10-2 8-2-4-7-5 6-6 5-7 2-7 5-5 4-8 2-9 4-6-1-9-2-8 0-5-6-1-8 5 5 6 6 7 3 6-3 8 0 8 1 7-4 5-5 7-7 0-7 7-3-2-10-5-5-8-3-8-2-4-6-6 6-9 5-7 1-7 0-7-5-5 10 1 6 6 6 3 6 0 10-5 6-7 0-8 6-6 2-3-7-7-5-1-8M0 88l3-7 8-3 8-1 6-7-4-6 5-7 5-6 7 1 6-4 7 4 1 10-1 8 2 7-9 0-2-3 6-7 7 0 7 6-1 8-1 8 8 2 8 4 6-4 1-7-7-1-8-5 5-9 7 3M91 71l6 15 0 11 1 12 4 13 2 13 3 14 0 14 4 12 2 14-5 5-6-3-1-12-4-13-2-15-3-12-1-14-3-14-2-13-5-12-2-14M136 109l-2 8 0 8 6 4 8-2 7 7 4 5-3 9 4 7-2 10 6 6 3 7-6 3-4 6 1 8 6 5 7 2 8-4 1-7" fill="none" stroke="#d452d8" stroke-width="5.6" stroke-linejoin="round"/></svg>
<svg x="421.9" y="211.0" width="48.6" height="54.7"><path transform="scale(0.25)" d="M52 75l8 1 7-5 7-2 7-3 9 2 7 1 9 4 6 3 9 0 5 5 7 6 2 7 9 0 7-3 0-9-7-2-7 2-4 8-3 7 1 6-6 5-6-5-8-1-5-6-7-6-7 1-8-6-7-1-9 0-8-1-2 9-5 5 8 4 6 1 3-7 1-8 1-8-3-8-6-5 2-8-3-9-4-6-6 3-5 7 6 3 7-1 7-3 6-6 8-2 6-4 7 6 4 7-5 8-1 7-2 8-4 3-6 8-1 8-2 8 3 8 9-2 7-4 7 0-2-7-5-5 0-9 5-4-2-9-4-4-1-11 6-7 8 1 0-8 3-9-5-5-5 4-5 5-6 7-7 5-6 3-5 7 6 5 7 0 8-4 2-7 6-6 8-2 4 4 2 9-2 6-1 9 3 6 0 8-2 8-2 6 2 10-7 2-8 2-7 2-6 6-5 8-5 3-9 2-8 3-4 7-5-7 0-8 1-8-3-6-3-7 9-2 5 3 7 5 4-7 7-4 6-5 1-9 5-6 1-6-5-8-1-6-8-4-7-3-7 5-8 0-7-5-8 3 1 8 1 10-4 7 3 7 2 8-1 5 6 6 4 7 4 6 7 6 5 6 5 6 8-4 9 0 5-3 2-8 6-8 8-2 6 2 6-5 7-3 3-8-3-8-6-6-6-1-9-1-8-2-9 0-7-2-7-6-2-8 5-8-3-7-7-5-2-10 8-2 6-5 6-4 7 1 8 0 8 2 8-3 8 1 7 2 10 0 7 0 7 5 7 3-3 8 0 7-9-1M0 66l8-3 7-5 7-1 9-2 7-1 7 4 4 6 3 9 8 1 7-1 8-1 8 2 5 6 1 10-5 4-5 8 4 9-4 5-8 3-6 5-9-1-3-8 1-9-2-7-1-7M97 109l5 8 8-6 7 0 7-4 3-8 9 0 5 7 3 5 10 5-7 4-5 7 0 9-4 7-4 6-9 3-4 9-4 6 2 8 7 5 3 7 4 6 9 1 2-8 8 4 6 4 6 3 7-2 1 7 4 6 9-2" fill="none" stroke="#d452d8" stroke-width="5.6" stroke-linejoin="round"/></svg>
<svg x="474.5" y="211.0" width="48.1" height="54.7"><path transform="scale(0.25)" d="M41 108l7-3 4-7 8-1 6-4 7-6 8 5 8-1 5-6 5-8-1-7-8 4-8 1-6-6-7 1-4 7-7 4 0 11-8 2-3 8 4 7 0 7-7 8 0 7 7 5 7-4 7-5 2-9 5-4 8-4-2-6-2-11 7-5 6-3 3 6 5-5 5-6 9-6 4-5-1-8-2-8-9 2-7 3-4 7 3 8 1 9 3 5-2 9 0 9 3 5 2 8-4 8 6 4 5 6 7-3 6-6 6-6 6 2 7 6 5-3 7-5-2-6 1-9 4-7-9 1 0 8 5 6 6 3-5 7-6 1-9-1-10 3-7-1-5 7-5 5-5 4-9 1-8 1-4 5-9-1-5-6-7-1-1-8-8-1-3 9-6 6-6-3 1-7 0-7 6-9 2-5-3-8-1-8-7-4-8-2 0-9 6-6 5-3 9-2 7-3-2-11-7-3-9 2-7-1-7 5-2 7-3 7 6 5 5 5 6 7 6-6 8 1 5 0 9 6 7 3 5-5 5-8 8-5 3-8 3-5 8-7 5-3 5 9 7 2 6 1 9 5-6 6 3 8 1 6-9 3-4 4-10-2-8 1-7 2-9-2-5-5-7 4-8-1-8 2 0 9 7 6 5 5 7 3 8-5 8 1 7-4 1-6 1-9-1-8 6-5 0-7 1-10 0-8 4-7-5-5-3-10-6 6-6 5-1 8-4 6-5 5 8 8 5 4-2 9-3 5-5 7-1 10-8-2-7-1-8-7-7 5-7 1-2 7-9-2-4-9 1-7-3-7 3-5 7-6 6-6 7-4 8-1 5-5 7-2 6-5 8-1 7-5 7-1 8 1 8-2M0 98l7 1 5 7 8 3 5 6 2-8 1-8 8 2M96 131l6 7 3 4 8-2 8-2 4 6-3 8 2 10-1 8 9 2 6-1 4 8-3 7 3 6 2 11" fill="none" stroke="#d452d8" stroke-width="5.6" stroke-linejoin="round"/></svg>
<svg x="527.3" y="211.0" width="48.1" height="54.7"><path transform="scale(0.25)" d="M85 90l-7 0-5 8-6 6-4 6-3 8-8-1-6-6 0-8 7-5 3-7 8 0 4 10 7 1 7-1 8 5 8-2 4 5 7 6 8-6 8-1 8-1 7 1 4-8-7-6-3-7-10-1-4 5-3 8 6 7 6 0 8-2 3-7 4-8-3-7 5-8 5-4 9-5 2 9 7 2-2 10-8 1-8-1-8 1-7 2-6-7-6-2-9-1-3 6-4 6-9 1-6-10-6 0-8 0-6 4-3 7 8-1 7-1 6 5 3 7 7 4 9-2 7-4 8 2 4 8-6 3-7 4 3-7 8-2 6-2 5-7 1-8-2-9-2-8-7-1-7 4-6-6-7-5 2-8 0-8-5-7-6 6-8 4-6 3 1 9 3 7-4 7-7 4-6 6 3 6-2 9-7 3-7 7 4 6 4 7 7 2 7-3 5-7 9 0 8 4 7-3 9-1 5-6 5-7-2-7-3-6 2-8 9 0 6 5 6-2 2-7-3-10-3-8 4-6 6-4-4-6-10-3-6 3-9-1-7-4-5 7-3 7-6 5-8-1-7-4-2-7 5-7 8-6 6-1 8-2 3 7 4 8-1 9 6 5 5 4 9 4 3 5 7-4 8 1 8 0 4 9-5 8-5 5-8-2-6 0-5-5-8-1-8 4-5 4-7 5-2 8-5 8-7 0-8-2-4-5-6-7-7 0-7 6-9-1-8-1-7 2-3 7 4 7 6-3 2-7 8-2 5-9 3-3 4-9 8 1 7-3-2-8-1-9-1-7 8-7 3-7 7-4M0 88l8-4 5 8 5 2 8 3M115 131l7 5 4 6 10 4 6 0 6-6 8-4 8 2 1 7M115 120l6 4 8 3 7 3 6 7 3 8-4 7 4 7-2 7-9 4-5 5-8 4 5 4 10 2" fill="none" stroke="#d452d8" stroke-width="5.6" stroke-linejoin="round"/></svg>
<svg x="580.6" y="211.0" width="48.5" height="54.7"><path transform="scale(0.25)" d="M119 58l6 7 0 8-2 6-7 4 0-7 5-9 2-6-2-8-9-1-8 2-5-7-4-5-7-7-7-2-9 1 1 8 1 7-3 7-1 7 2 8 1 8-10-3-7 2-7 1-2-10-7 0-4 8-1 6 1 9 7 5 7 4 8 1 9 1-3-8 9-1 4-9 4-4 9 4-1 7 5 9 8-1 7 1 5-8 8 5 6 3 9 1 1-8 8-3 8 1 4-7 3-5-3-9-2-8-4-4-9-2-8 1-9 0-3 8-8 3-5-6-7 0-8-4-1-7-10-2-7 1-8 1-8 4-4 7 3 6 4 8 3 6 7-4 7-1 7 1 9 4 3 6 6 5 8-7 8-2 1 10 4 5 5 9-5 5-6-5-7 3-8-3-7 0-9 3-5-5 2-8 6-7-2-11-6 1-9 0-8-6 0-7 5-6 5-7 7-5 8 0 8 1 7-3 8 1 8 1 6-2 9 5-3 6-7 3 1 7 2 7 7 4 0 10-5 0-8-5-5-6 4-7 7-3 1-10 0-6-7-4 0 8-3 7-9 3 7-8 2-6 2-7 4-8 7 1 7 6-2 8-6 2-8-2-6-3-7 4-7 2-9 2-6 7-7 3-5-2-8-5-1-7 6-1 8 5 3 7 2 9 4 7 4 7 6 5 1 8 7 4 6 6 5 5 6-3 9 1 8 0 8 0 1-10M0 88l9 1 6 5-1 8 3 9 2 7 7-1 7 3 9-4-2-7M152 98l-4 16-1 11-3 11-4 12-1 13 0 11-3 12-2 12-2 10-7 6-4-2 3-13 0-11 4-13 1-11 2-12 3-13 2-12 2-12 3-11" fill="none" stroke="#d452d8" stroke-width="5.6" stroke-linejoin="round"/></svg>
<svg x="634.0" y="211.0" width="48.4" height="54.7"><path transform="scale(0.25)" d="M73 59l-3-7 5-8-3-7-7 1-10-7 10 0 5-4 7 1 6 5 10 0 6-2 8-5 7-5 7 2 5 4 8 0 8 1 7 5-8 5-5-1-9 3-5 6-8 6-7-3-8 0-8-4 0-8-4-8-5-4-6-6-7 1 1 8 0 8-4 8-2 8-8 2-4-6 0-9 2-7-1-6 7-7 5-6 7-3 8-4 4-8 8 2 9-1 6-6 8 0 9 1 6 4 7 3 9 1 0 10-4 7 5 5 6 9-4 4-8 6-9 1-5-5 4-7 5-7 6 0 10-4 8 1 6 5 0 7-7-2-10 1-4-5-8-2-9 2-7 2-1-8-10 4-3 3-7 6-9-3-6 4-5 5-7 3-8-1-7-8-7 8 2 6 1 9 7-4 5-7 8 5 6-5 7-5 5-2 10-3 8-4-5-8-6-4-8-1-5 5 7 4-1 10 9-1-5 8-8 1-4-6-7-1-5-8-1-7 9-4 6 7 4-6 5-6 2-8-8-4-5 5-2 8 6 4 11 1-3 9 1 8 7 2M155 71l-5 11-4 12-5 13-4 9-5 12-4 12-4 12-5 12-4 11-6 13-4 9-2 13-8 3-3-3 4-14 5-12 4-11 4-14 6-12 4-12 6-12 4-14 3-9 6-14 3-12 6-11M133 100l2-8 4-7 8 1 4 5 1 7-5 6" fill="none" stroke="#d452d8" stroke-width="5.6" stroke-linejoin="round"/></svg>
<svg x="687.5" y="211.0" width="48.5" height="54.7"><path transform="scale(0.25)" d="M31 66l3-8 9-3 7 1 8-2 5 5 7 4 9 3 8-3 6 2 7 6 6 2 7 7 6 5 6-6 2-9-3-7 1-8-6-6-4-5 2-8 6-4 10 0 5 1-2 9-5 4-9-5-5-3-8-1-9 7-6-1-5 8 2 8-10-2-6 0-8-4 2-9-9 1-6 0-9-1-7 6-8 0 5 7 8-4 7 0 0-9 4-5 8 1 7 3 7-1 7 4 6-3 8-7 6 2 9 0 6 2 9-1 5 5 9 3 8-2 5 4 9-2 5-8-3-7-7-2-5 6-7 2-2-9-5-7-6-6-8-2-8 0-7 3-6 6-6 5-6 7 8 4 7-1 11 0 2-6-10-5 0 9 8 4 7-5-4-7 4-8 0-9 6-4 6 1 4 8 1 6 7 7 5 5-1 10-7 1-2 9-3 9-9 1-8 3-6 4-6 3-9 2 0-7-8 2-7-3-1-5-3-9-3-7-8-2-4-7-5-3-7 5 5 7 2 8 6 6 8 0 7-2-5-9 0-8 6 0 5-6 7-6 1-6 5-10 6-2 4 7 9-1 8 3M170 65l-6 12-7 11-4 10-9 12-4 10-7 12-4 9-7 12-8 11-3 11-6 14-7 9-7 13-6 1-5-1 6-12 6-11 6-11 7-9 5-12 7-10 5-13 7-10 5-10 7-12 6-10 4-11 7-11" fill="none" stroke="#d452d8" stroke-width="5.6" stroke-linejoin="round"/></svg>
<svg x="740.0" y="211.0" width="48.4" height="54.7"><path transform="scale(0.25)" d="M106 29l-9 0-6-2-7 2-8 2-6-4-7-7-6 2 1 7 0 8 4 8 9-1 7-2 7 4 2 8 4 7 5 6 8 3 8-6 2-7-9-3-7 0-9-3-7-1-8 0-8 3-2 7 7 6 7 1 7 5 2-4 11 0 5 3 3-7 8-3 8 0 7 0 8-1 2-7-3-10-6-2-9 4-7 0-6 1-9-1-6-5-10 1-3 5 1 9-3 6-3 7-4 7-7 3-8-2-8-4 1-8-1-8-1-8-1-8-7-2-1-8 7-4 7 5 5 5 8-1 8-2 8 1 8 1 8-3 8 2 7 2 7-7 6-1 6 8 3 7 3 7 6 6 2 7 0 8 9 1 6-1 5-7 7-5-4-8-8-2-7-3-4 6-7 1-6-5-5-6-8-5-1-7-10-1 4 7 6 2 4 7-6 0-10-1-7-3-7 0-10 1-6 4-7 2-8 2-7 4 0 8 3 7 8 4 6 5 4 5 7 1 8 3 7-4 7-4 8 2 8 3 7-5 7 7 7-3 7 4 5-3 8-7 4-5 7-3 5-8 0-7M164 89l-9 10-4 10-9 13-4 10-8 11-5 14-9 10-5 11-7 9-7 12-7 12-6 2 1-8 6-12 9-11 5-11 5-12 7-10 7-10 7-12 6-11 6-10 7-11 5-10" fill="none" stroke="#d452d8" stroke-width="5.6" stroke-linejoin="round"/></svg>
<svg x="208.3" y="269.8" width="47.5" height="55.6"><path transform="scale(0.25)" d="M80 35l7-1 9 4 7 3 9-1 1 8 3 8 6 6 7 1 6-2 9-3-4 5-1 9 2 8-5 6 4 7-1 9-9-1-7-2-8 3 1 9-5 6-6-6-5-7-5-6 6-8-8-3-7-1-8-5-7-4 4-8 5-5 1-9 1-7 0-8 7 3 8 5 1 7 3 9 9 1 5 8 5 4 4 7 0 8 5 7 8 4 5-5-3-10-1-5 0-9-7-2-7-2-7-5 0-8-2-9-8-1-6 5-9-1-5 4-9-2 1-8-1-8-7-1-8 1-1 7-1 9 2 7 8 1 8-3 5 6 8 2 6-1 7 6 8 1 9-6 7 3 9-4 8-1 5 0 5 7 1 8-3 6-2 10 0 7-1 9-6-4-5-7-7 5-7-3-6-5-8-2-8-2-7-4 1-8-4-7-4-8-4-5-8-2-8-2-4-5 2-10 5-2 9 3 7-2 10-2 7-2 4-7 6-5-5-8-1-7 5-6 8-3 3 5 1 7 7 3 8 3 3 8-2 6-9 4-7-2-5 5-2 9 0 6 4 7 8 3 2 8 8 5 1 5 2 9-1 6-5 9-8-1-7 4-8-1-7 4-10 0 0-8 6-4 4-7 8-2-5-5-5-3-9-2-8-1-3-7-4-9-5-6-3-6 7 2 8-3 3-8 7-4 8-3 7-2 3 5 5 8 0 8 0 8 0 8-1 7 4 6-6 6-5 7-6 5-7-4-5-7-8-3-6-6-7-4-7 0-9 5 8 2 8 5 7-3 4-6-2-8-4-8-9 1-1-8-8 3 0 8 4 5 4 8 6 7 6 5 7 1 6 5 7 3 8-2 6-3 8-5 4-10-6-6 3-6-9-5-3-7-1-7-8-5-5-4-7-6 5-7-7 0-8-1-10-4-2 6-5 7-5 5-3 9 5 7 7 0 8 1 6 6 0 9 4 7 3 8 1 7 1 6 2 10 6 2 4 9 7 0 10-2 4-7-1-6-11-1-4-4-5-5-9-4-7 5-5 8-5-6-5-5-2-9 4-8 2-6 4-6-1-10 5-7-2-6-8-1-4 8-5 6-2 8-9-2-5-3 0-10 10 2 7 0 6 4 9 3 8 3 6 4 3 6 3 9 0 7 8 6 2 8 7 6 6-3 7-7 0-7-1-8-4-10 1-6-7-6-7 2 0-10 2-7-8-4-8 5-4 8-2 5-6 5-8-2-7 4-7 3-4 6 4 9 2 8 4 6 9-2M0 167l8-2 10 1 2-8 7-4 5 4 7-4-5-5-7-7 7-7-2-8 6-3 8 0 10 2 4 7-3 6-4 6-3 7-4 8 6 2 6 4 6-6 9 2-8 5 1 7-6 6 1 8 6 6 9 0 6 2 9 0 8 4 7 0 5 1 10 2 6-2 6-4 5-6 10 1 5-4 7-4 7-5 8-2 6-5 7 5 2 8" fill="none" stroke="#46c832" stroke-width="5.6" stroke-linejoin="round"/></svg>
<svg x="260.5" y="269.8" width="49.0" height="55.6"><path transform="scale(0.25)" d="M98 74l-1 9 2 6 6 0 7 4 7 1 4 9-4 8-6 2 0 9 7 7 6 1 9-1 7-1 8-2 5-1 6-8 1-6 0-10-3-6-8-3-7-5-7-4-7 1-8 0-6-8 4-7 7 1 5 7 3 6-3 9-6 5-8 1 8 5 4-8 1-7 0-10 5-4-2-8-8-6-3-5-4-8 0-6-7 0-7-3-9-1 0-7 6-4 9-3 7-4 7 7 3 6 4 8 6 5-1 7 3 7 5 9-6 4-7 3-3 9-2 7 3 9-5 7-7-7-6-6 2-6-4-9-5-7 2-9-7-1-10-5-1-6 4-8 0-7 0-8 0-7 8-6 6-4 6 6-7 7-2 7 1 8 5 9-2 6-2 7 3 8-1 7 4 7 4 7 1 9-7 4-3 9 0 5 3 10 2 7 8 1 0 11-6 4-1-8 4-7 1-8 5-6 4-6 0-8-8-6 2-8-3-7-2-8-5-6-3-8 2-7 5-7 3-7 4-6 8 1 9-1 7 2 5 5 2 9-10 3-2-8-9 1-4-7-5-4-9-1-8-2-7-2-8 1-5 7-6 6-2 7 3 5 1 11 2 6 7 2 8 4 5 4 6 5-1 9-6 8-1 7-6-2-9 3-9 1-7 5-7 2-9 2 7 8 0 7 5 6 7 4 8 1 7 2 8 1 8-6 6-2 1-7 0-8-5-7-4-6 2-8 1-10-3-6 6 0 8 4 6 2 8-3 10 3 5-4 6-7-1-7 1-9 0-7-4-4-7-6-8 1-6 0-4-10-3-8-7-2-7 0-8 1-6 8 0 7-5 6 0 9 5 5 3 7 1 8-6 6-5 4-6 5-8-2-6-3 2-8 2-8 7-6 5-3 10 1 5 4 6 6 9 1 5 6-3 8 2 9 1 7M0 211l8 0 5 6 7 3 10 0 2-6 3-9 7-3 7 2 3-7 7-3 7-5 7-4-5-7-4-5 3-11 3-6 3-6-3-8 0-8-1-7 5-7 4-6 9 0 6 1-6 5-5 7 7 3M118 133l6 6 8-4 3 8 1 7 3 7 8 4 0 8 7 1 0 10 2 6 9 0 7-3-3-5 2-8 7-5" fill="none" stroke="#46c832" stroke-width="5.6" stroke-linejoin="round"/></svg>
<svg x="314.6" y="269.8" width="48.5" height="55.6"><path transform="scale(0.25)" d="M100 88l-8 2-2 8 0 9-3 6 1 10 4-7 8-3-4-9-2-6 3-8-4-9 3-7 2-5 4-8 6-5 7 5 7 4 7 3 0 8 4 6-3 8-8 6 0 7-2 8-3 7-6 2-8-1-9 2 0 5-5 9 7 5 6 0 3-5-6-5-8-3-6 7-6-3-8-5 3-8 7-4 1-7 2-7 7-5 8 1 4-8 8-4 7-1 2 8-1 6-6 7-5-6-4-6-6 0-8-6-10 1-6 1-7 5-9 1-6-5-5-5 3-6 7-7 6 4 10 4 3 5 8 4 6 3 8-1 6 4 6 4 9 4 5 6-1 6-3 7-7 5-9 3-7 1-7 2-8 1-4-4 6-9 5-5 7-4 0-5 6-7 1-8 0-7-5-5-1-13-7-2-8 3 1 10 2 7 1 7 5 5 6 3 4 8-4 7M0 156l2-9 8-2 4-6 10 0 7 2 7-4 8-5 1-5 7 0M116 111l8-4 5 1 2 7 9-1 2-7 9-1 6-2 5-5-1-10-3-7-3-9 8-4 4-6M97 133l0 8-4 8 5 7 6 1 9 3 4 4 5 7-5 8-4 8 3 8" fill="none" stroke="#46c832" stroke-width="5.6" stroke-linejoin="round"/></svg>
<svg x="368.3" y="269.8" width="48.5" height="55.6"><path transform="scale(0.25)" d="M64 165l5-11 1-12 8-14 3-13 3-9 7-14 4-13 3-11 4-15 3-11 8-2 4 4-3 13-5 12-5 10-5 14-5 13-4 8-2 15-4 11-4 12-7 12 5 6 3 0 7-12 5-12 4-14 3-13 4-12 3-12 6-13 4-12 5-13 4-12M63 74l8 1 1 7 5 8 8 0 8-1 8 3 7-4 3-9-9-1-8 2 0 9 0 6-3 6-2 9-5 8-5 4 2 10-4 6-8-2-7 5-10 0-7-2 0-9 0-7 7-6 6 2 7-6 9-2 5-3-2-7-8-3-7-5 4-6 9-1-2 7 0 9 5 6 7-1 10-1 7-2 8 0-3 6-7 4-7 6 1 8-9-5-4-4-5-8 6-2 0-7-9 0-8-2-8 0-6-4 2-7 5-7 5-6 7-3 9 2 8 1 5-4 3-9 0-8M0 211l9 1 7 3 5-5 7-5 7-1 7-5 6 3 7-5-7-6-5-6 3-6M116 111l6-6 4-7 1-8 7-1 8 2 8 1 6 6 4 7 7-2 3-7 7-2" fill="none" stroke="#46c832" stroke-width="5.6" stroke-linejoin="round"/></svg>
<svg x="421.9" y="269.8" width="48.6" height="55.6"><path transform="scale(0.25)" d="M66 168l3-13 5-11 5-14 2-11 5-12 4-14 5-11 4-13 3-13 3-11 4-14 8-3 4 10-7 12-3 12-3 11-5 15-4 12-3 12-4 11-4 13-5 12-2 12-5 12 4 6 8-14 6-12 4-10 2-11 4-9 2-13 6-11 1-13 5-10 2-10 6-12 3-13M50 171l5-10 4-14 5-11 5-11 3-13 4-12 3-11 6-11 2-12 8-12 3-11 6-12 3-13 20 3 17 11-5 13-6 9-4 14-4 11-4 13-5 10-3 13-5 10-5 13-4 11-5 11-2 12-6 13M0 211l9 0 7-1 3-7 0-6 2-10 5-5-2-8-1-9-6-3 0-9 2-10 5-5 9 2 3 7 8-4 8-1-4 9 7 1 7-2 5-7-7-5-6-3-4-7 0-9 7-4-1-8 5-5M120 35l-2 7-4 7-1 8-10 3-2-8" fill="none" stroke="#46c832" stroke-width="5.6" stroke-linejoin="round"/></svg>
<svg x="474.5" y="269.8" width="48.1" height="55.6"><path transform="scale(0.25)" d="M56 176l5-12 3-12 4-12 5-13 4-13 4-13 5-12 4-15 4-10 4-14 6-13 3-14 3-11 8-3 3 12-5 9-3 13-5 12-2 13-4 11-6 13-4 11-4 12-3 12-4 12-5 13-5 12-3 11 4 7 6 0 3-10 4-12 4-13 4-12 4-11 4-10 5-14 1-12 6-12 5-12 2-11 5-12 3-12 7-3 5-1-2 12-5 12-4 12-3 13-4 12-6 11 0 15-7 12-4 11-4 13-5 12-5 11-2 14M36 174l6-10 5-12 3-9 6-11 5-12 4-11 6-10 6-11 5-9 4-13 5-12 6-11 5-9 4-13 6-12 23 8 22 14-9 12-2 11-7 11-5 11-4 12-6 10-5 15-4 9-6 11-5 12-7 13-3 10-5 12-5 12-5 11M0 211l3-7-1-7-5-8 6-7 1-6 7 2 9 0 7-1 7 0 5-7-4-6 0-7M154 200l-1-8 4-8 2-8 7-1 9-5 5-3 3-9-2-7 8-1 8 1 1-8 9-3 0-10-5-4 4-8 10-1-3-6 4-7 7-1 4-9-3-9-9-2-5-4-3-9 0-8 2-7-6-6-6-5-8-2-7 4-9 1 4 8-2 10M115 28l-7 6-7 1-2 9 5 6 3-7 7-6 7-2 8-3 7-5-1-10-7 0-7-5-6 6-6 3M86 180l-3 7 7 5" fill="none" stroke="#46c832" stroke-width="5.6" stroke-linejoin="round"/></svg>
<svg x="527.3" y="269.8" width="48.1" height="55.6"><path transform="scale(0.25)" d="M57 174l5-13 6-10 3-13 6-13 2-11 6-13 4-12 5-12 1-12 7-12 5-11 4-14 4-12 7-1 3 6-4 11-4 11-4 14-5 13-5 12-4 12-4 11-5 12-5 12-5 11-2 13-5 11-3 14 1 5 9-5 4-12 4-10 5-13 1-11 6-13 6-12 4-11 3-12 6-12 3-11 5-14 5-11 4-12 7-2 4 3-3 11-5 11-5 12-3 12-5 13-4 12-7 10-3 13-3 11-6 12-4 14-3 11-5 13M36 180l5-13 4-11 5-9 5-13 4-12 7-10 4-10 5-12 7-10 5-13 6-11 4-13 5-10 4-12 7-10 22 5 18 18-3 11-6 10-6 10-4 12-6 12-5 12-4 12-5 9-5 12-6 10-3 12-7 10-4 12-6 13-4 9M0 211l8-4 6 0 9-4 7-2-4-8 0-8 3-6M96 190l2 7 3 7 7-2 9 1-2-9-4-7-7 3" fill="none" stroke="#46c832" stroke-width="5.6" stroke-linejoin="round"/></svg>
<svg x="580.6" y="269.8" width="48.5" height="55.6"><path transform="scale(0.25)" d="M60 169l3-9 5-14 6-10 4-14 5-10 3-11 6-10 4-12 5-13 5-12 4-10 3-11 7-12 6-3 3 7-3 12-6 9-3 12-6 10-4 12-6 13-4 10-4 13-5 11-3 10-6 12-4 11-4 11 3 6 6 2 5-13 5-12 4-13 4-12 6-12 4-12 6-11 4-13 4-12 7-12 3-12 5-11 3-12 9-3 1 14-5 13-6 9-3 13-5 10-4 12-6 12-3 12-5 10-7 14-4 11-4 10-5 12-6 13M34 179l5-11 4-12 7-12 6-12 6-11 4-13 6-13 7-10 5-15 6-10 4-11 8-12 3-12 7-14 5-10 27 7 22 16-5 12-5 11-6 12-6 13-4 12-5 10-6 12-6 9-7 13-5 11-5 13-4 12-6 10-7 12-6 12M0 211l0-7 9 0 7-1 7-5 1-8 7-2M115 185l-7-1-4 7-8 3-3 7" fill="none" stroke="#46c832" stroke-width="5.6" stroke-linejoin="round"/></svg>
<svg x="634.0" y="269.8" width="48.4" height="55.6"><path transform="scale(0.25)" d="M55 168l3-11 6-10 5-12 3-11 6-11 4-12 6-9 4-10 5-11 4-12 4-10 6-11 6-11 3-11 7-2 5 5-5 9-6 10-4 11-5 12-3 12-6 10-4 12-6 11-4 11-4 12-6 9-5 12-2 11-8 11 3 7 7-1 5-11 5-11 3-11 4-9 6-11 5-12 4-8 4-11 6-11 4-11 4-12 4-9 7-11 4-11 6-2 3 2-4 10-3 11-6 14-5 10-3 10-5 11-5 11-5 12-4 11-5 10-5 11-6 10-4 11-5 13M30 178l5-11 6-14 5-10 8-12 6-10 3-14 8-11 6-11 3-13 8-10 5-12 7-13 4-10 8-13 4-11 27 8 22 13-4 14-8 11-6 13-5 12-6 12-6 11-5 11-6 12-5 13-7 13-6 11-6 13-6 10-8 13-4 11M0 211l8 1 7 2 8 1 10 1 7-3-6-5M77 208l5-8 3-5 5-9 5-4-1-8-6-7-6 6 2 6 8 5 2 7-6 6" fill="none" stroke="#46c832" stroke-width="5.6" stroke-linejoin="round"/></svg>
<svg x="687.5" y="269.8" width="48.5" height="55.6"><path transform="scale(0.25)" d="M56 169l3-13 7-10 3-10 4-11 6-11 5-10 3-12 5-12 4-9 4-10 7-12 4-12 5-9 5-11 7-4 2 8-4 11-3 11-8 11-5 13-3 8-6 12-3 12-7 11-4 11-7 10-4 10-5 15-4 9-5 12 4 6 5 0 7-12 4-11 5-11 5-13 5-11 6-11 5-13 4-11 4-11 6-11 6-13 4-12 6-9 5-15 6-1 4 10-7 12-5 9-5 10-3 11-4 11-6 12-6 13-3 9-7 13-3 8-5 12-4 13-7 10-4 11M28 181l5-12 6-9 6-13 6-11 7-12 5-13 6-12 7-12 6-11 4-12 7-11 5-12 5-11 7-12 7-13 25 8 20 23-5 8-7 14-5 11-6 10-4 12-7 13-7 10-4 11-7 12-5 13-5 10-6 10-8 12-3 10-7 14M0 211l8 2 9-1 4 5 2-9 8-3M92 192l-4-7-8 1-8 4-2 8 0 8 7 5 5-5" fill="none" stroke="#46c832" stroke-width="5.6" stroke-linejoin="round"/></svg>
<svg x="740.0" y="269.8" width="48.4" height="55.6"><path transform="scale(0.25)" d="M46 175l6-12 3-11 6-12 7-13 4-11 6-10 3-13 8-12 4-12 5-12 5-10 5-13 7-12 5-12 6-2-1 15-3 11-5 10-5 12-6 10-4 11-6 11-4 11-5 11-6 11-4 11-3 11-7 11-5 10-6 10 4 8 8-5 5-11 5-10 5-12 5-10 5-10 5-11 4-11 6-11 3-12 6-8 4-12 6-11 4-11 5-10 6-2 4 3-4 10-5 11-5 13-4 12-5 10-7 12-5 11-4 11-5 9-5 9-6 14-4 10-4 10-6 12M27 173l3-11 6-10 7-10 5-9 4-11 6-11 5-11 3-11 8-8 6-11 4-10 4-11 6-11 6-7 5-12 5-12 26 9 22 17-6 10-4 9-4 11-8 11-5 9-5 11-4 10-8 11-2 10-6 11-5 12-7 11-4 10-5 8-6 12-5 10M0 211l3 7 8 0 9-4 6 4 10-1-6-7-5-5 0-10 4-4 5-8 6-4 8-2 7 4-7 7-7 5M86 210l6-6" fill="none" stroke="#46c832" stroke-width="5.6" stroke-linejoin="round"/></svg>
<svg x="208.3" y="329.8" width="47.5" height="55.1"><path transform="scale(0.25)" d="M109 59l7-3 7-1 7-3 8 5 7 4 3 7 2 10 4 6-2 9 4 5 5 7-4 8 3 7-3 6-7 5-7 0-8-2-7 1 2 5-4 8-4 8 1 5-4 8-2 9-8-1-6-6-5-5-8-1-8-3-8 1-6-6-3-7-5-5-3-10-1-7 4-5 10-1 9-2-9-3 1-8-1-8 7-7 8 0 3-8-6-6 2-8 6-4 7 0 9-1 6-3 6 5 10 0 6-5 9-3 6-4 7-2 7 4 10 2 5 0 1 9-9 4-5 4-3-8-9 3-7-5-7-4-9-2-2 7-6 5-9-3-2-7-7-6-8-2-7 2-9-2-6-2-6 8 0 7 2 7 8 2 7 3 8-1 8 1 4 6 6 5 1 10 6 3 4 8 4 7-1 6 2 9 9 0 7 7 4 6-6 3-1 9 1 8 4 6-6 3-8 0-7 5 3 5 4 8-2 8 4 7 5 7 7 0 6 3 6-6-7-3-9-1-3-6 7-3 4-7-7-5 1-9 9 0 1-9 2-5 3-10 9 0 6-5 0-7-3-8-5-5-6 5-2 7-7 7-6 0-9 3-2 8 0 7 3 7-3 9-4 5-10 3-6 1-7 1 0 9 0 8-4 6-1-7-2-6-3-10-5-4-5-8-8-3-6-5-6-5 0-7 6-7 2-9-3-8 3-7 3-7 3-6 3-7-1-9-1-8 3-6 1-10 8-1 6-5 1-7 0-7 8 0 9 5 4 4-1 8-1 8-2 8-2 8-6 4-9-1 0 8-2 8-8 5 0 6-10 2 0 5 1 9-4 8 8 3 7 4-1 7-2 7 1 8 5 5 7 6 7-3-1-7 3-8 2-8 6-5-1-10 3-6 6-5 2-7 3-9 3-5 6-8 5-7 8-2 5-4 6-6-4-7-5-8-5-3-8-2-4 6-4 7-5 7 1 7 2 6-2 9-6 3-7-3-2 8-1 9 3 6 7 4 4 6 6 6 7-3 8-1 5 8 2 9-2 6-5 8-6 1-10 2-5 6-9-1-4-6-8-5 1-9-1-6-7-4-7 3-8 2-6 7-4 6-4 6-5 6-8-1-8 0-6-7-1-8-2-6-5-6 7-8 4-7-5-6-4-7 4-8-5-6-1-8-3-7-5-6 0-7 6-6 9 0 4-6 4-8 3-7 0-8-1-6 0-9 1-8-1-8 0-8 7-5 9 1 7 3 8 1 7 3 5 4 7 7 4 4 7 5 6 7 7 1 9-1 6 4 6 7 6 5 0 8 6 5 6 6 6 5 8 4-3 7 4 6 3 7 1 9-1 8 5 6 3 8 2 10-6 5-7-5 3-8-7 3-7-4-8 1-3 6 0 8-6 7-5 4-10 2-7 5-6 1-4-5-9-3 2-9 1-6-1-9-4-6-5-5 2-9-2-6-2-9-7-5-5-5-3-7-8-3-8 3-7-1-9-4-7 0-8 0-4 5 1 8-4 7 7 6 8 0 3 6-2 7-8 5-4 7-3 7 5 5 6 6 5 6 5 5 6 5 4 7 9 1 4-6-2-9 7-6 5-7 2-7 5-4 3-10-7-4-8-2-5-4 1-9 0-8 2-8-6-7-9-4-5-3 0-8 5-7-2-7 5-7 1-6-4-7-3-9 1-7 5-5 7-3 6 4 8-1 5 6-1 8 2 8 3 7 5 7-3 9-7-6-6-5-8 2-4 8-6 1-9 2-6 7-5 6-5 3-9 5 7 4 9 0 6 8 7 1 7 4 5 7 5 5 9-2 7 2 2 8-2 7-1 9-7 4-8 0-9 1-6-6 1-8-6-6 3-8-1-7-8 1-7-1-8-3-9-2-7-2-9-4-5 5-2 8 8-1 4-6 10-2 7 0 9-3 6 1 7-8 4-5 7-6 8 3 7-4 2-8-2-7-6-7-2-8-9 1-6 2-8 2-7 0 3 8-8 4-2 6-3 9 5 5 1 6 2 9 2 8-7 4-5 7 2 6-1 9 8 5 7-2 7-3 5-10 5-5 6-5 7-1 7 5 7 0 9-1-3-8-1-8 6-6 8-4 5-6 6 5 5 6 7 7 6 4 5-1-4-7 2-7 7-4 1-9 0-9 2-7-4-5-2-9-2-7-1-8 2-8-5-7-8-3-6 1-2 8-3 7-3 7-4 8 1 8 10-6 7 3 6 7 5 3 10 1 3 9-5 6 0 9-5 6-3 6-5 7" fill="none" stroke="#a8d49a" stroke-width="5.6" stroke-linejoin="round"/></svg>
<svg x="260.5" y="329.8" width="49.0" height="55.1"><path transform="scale(0.25)" d="M102 103l-7 5 1 8-6 7 8 0 0 11-3 6-5 6-8-5-5-5-7-1-9-1-8 0-6-9 1-6-1-7 3-7 4-9-4-5-3-9 2-7 6-3 9 3 7-5 8 0 8-3 5 7 3 8 5 7 6 4 8-6-1-7 2-8 2-8 9 0 5-3 6-6 7 1 8 1 0 8 2 9-2 6-8 0-8-2-6-5-1-8-3-7-7-4 2-9-3-7-7-3-6-5 2-6-5-6-8 1-8 3-7-5-5-5 6-5 8-2 6-4 8-1 8 2-5 6-7 3 3 9 8 4 7 1 8 2 6 6 0 8-4 7-8 0-7 6-7 4-6 3-8 5-6 2-8 4 5 5 3 9 1 7 3 8-4 7 2 8 0 9 0 7-6 6-7 2-1 8-6 8-7-1-5-5-4-4-11 1 1-10-7-2-1-6-4-9 1-7 1-10 3-7 11 4 5-6 3-6 8 0 9-1 7-2 5-6-1-9 7-5-4-5-3-10-7 2-9 0-7-3-5 10-4 6 1 8-6 5-8-2-6 5 2 9 2 8-5 6 5 6 2 8 7 4 5-6 8 5 3 6 7 5 8-1 9-3 6 4 9-3 0-8 6-5 6-3 9-4 7 5 5-5 7-4 6-6-1-7-8-6 1-6 2-7 8-4 8 0-4 7-2 7-2 10-4 6-8-3-3-7-10-4-6 0-7-3-7-1-8-2-10 2-4 2-9 5 4 8-8 4-7 4-5 6 0 8 6-3 8 1 7-3 8 1 9 1 4-7-6-3-5-6 0-7 7-4 8 3 2-6 7-5 4-8 4-6 4-7 0-9 4-7 4-8 5 8 4 5 2 8-9 1-4 7-9 1-8 0-7 6-6 5-5 7 1 8-1 8 7 6-7 6-10-1 2 6-5 7-4 5-7 3-2 9-5 6-6 6-9-4 2-8 6-6 1-8 1-8 4-7-4-9-5-5 2-7-5-9-8 3-8 3-6-2-10 1-7-3-2-8 0-7 5-6 5-5 7-7 2-5 3-9 1-9 4-5 8 2 6 7 9 1 8 0 4-5 8-6 6 6-2 8 2 9-2 7 0 9-4 6-1 9-7 1 4 8 0 9-7 3-2 8-7 7-8 0-5-3-8-5 0-7 3-10 3-7 8 0 5-7-3-8 0-9 8-4 6-6 7 0 4 7 9 2 7 3 8 1 3 9 4 5 2 9 7-6 7-1 5-7 6-7-8-2-9 2-4-4-5 6 7 5-3 8-9 3-4 4-5 7-4 6-9 1-6 5-8-2-7-4-2-9 5-6 5-7 7-4 5-4-4-7 1-9 4-5 9-2 2 8 1 10-1 6 9 4 3 8 3 7 5 5 3 9 1 6 0 6-7-2-4-7-3-8-2-7-8-3-7-1-8 2M78 132l0 10 6 5-1 8-4 8-2 6-5 6-1 9-5 5-7 7 8-4 7 1 2 9 7 4 5-5 7 1 8-3 5 6 8 1 7-4 7-7 1-6 2-7 1-9 11-2 5 1-1 7 4 10 8-1 9-2 4 5 6 7M72 189l-6 5-6 6-6 4-7-5-2-7 4-7 4-3 9-1 8 0 6 4 0 8-4 6-8-2-8-5-6-2-4-8-7-3" fill="none" stroke="#a8d49a" stroke-width="5.6" stroke-linejoin="round"/></svg>
<svg x="314.6" y="329.8" width="48.5" height="55.1"><path transform="scale(0.25)" d="M88 101l-3 8 0 7-2 9 0 7-9-1-6 6 1 7-1 9 4 8 5 7 6-4 5-5 4-8 1-9 5-3 10-3-3-6-6-5-6-4-4-8 0-7 8 1-7 7-6 3-4 7-2 9-4 4-7 6-7-5 3-10 6 2 7-3 5-6 6-7 0-7-2-9-7-2-5 3-4 8-2 9-4 6-4 6 4 8 3 5 10 0 1-5 7-5 5-7 6-8 0-6-2-7-4-8-8-2-8-2-1 9-6 5 8-1 9 0 3-5 9 0 9-2 3 7 4 7 8 5 4 4 9 0 5 5 2 9-4 6-10-2-5-1-7-6-8-2-6-4-9 0-3-8 9 0 3-9 6-5-2-8-10-1-7 0-7-1-9 4 4 7 8 6 5 6-2 7-8 6-5 2-4 9M0 209l6-5 7-1 3 7 8 1 7 5 7-4 4-5 6-3 7-6 7 1 8 1 6-5 8-4 5-3 8-5-8-3-5-7-4-7-7-3-1-9 8-5 6-3 7-2 9-2 6-3 7-3 2-9 1-4 5-9-1-9 8 1 5 9 7 1 6 4 6-8 6-1 7-6 6-6 0-8 5-7 5-2 9-3 1-9-7-4-5-8 4-7-7-7-4-7 0-7-2-9 7-3 8-6 5-5M58 198l-2 8 8 2 6 2 7 7 6 6 7 3 8 3 7 3 0-9 1-7" fill="none" stroke="#a8d49a" stroke-width="5.6" stroke-linejoin="round"/></svg>
<svg x="368.3" y="329.8" width="48.5" height="55.1"><path transform="scale(0.25)" d="M31 108l1-8 7-5 7-4 8 0 6 5 4 8 0 8 6 7-2 7 6 9-3 6-7 4-1 9-6-5 0-6 0-9-6-6 1-8 6-7 6-2 5 8 8 4-4 5-5 9-1 7-5 5-8 3-7-4-5-6 9-4 9 1 7 0 6 1 8 2 8 6-3 6-7 4-8 2-8 1-4-9-5 1-7-4-8 1-9-4-5-6 4-7M63 131l7-12 6-9 12-9 5-11 6-9 8-11 7-10 9-10 6-8 9-13 5-10 9-10 8-11 6 0 3 10-9 6-6 11-9 9-7 10-8 9-6 12-6 9-9 10-7 10-7 10-7 9-8 11-6 8M0 198l5-6 0-8 1-5 8-6 5 7 6 1 6 8 6 5 9 0 2-7 4-8 7 0 7-5-3-7" fill="none" stroke="#a8d49a" stroke-width="5.6" stroke-linejoin="round"/></svg>
<svg x="421.9" y="329.8" width="48.6" height="55.1"><path transform="scale(0.25)" d="M30 158l6-8 7-12 4-10 8-9 7-10 7-11 6-10 8-10 7-9 5-11 6-11 8-8 6-3 0 13-6 10-7 9-7 8-6 9-4 9-8 11-6 8-4 10-8 8-7 12-5 9-6 8 3 7 3 7 7-12 4-9 9-11 6-10 6-8 7-13 8-8 4-13 7-8 7-12 8-12 7-8M91 188l6-12 6-10 4-13 6-10 7-12 4-12 5-10 8-12 4-10 8-12 4-13 3-11 8-11 3-11 6-11 7-11 8-2 2 11-7 11-4 11-8 11-4 10-4 12-6 10-4 11-6 9-7 10-2 12-7 11-7 10-5 11-4 12-6 9-4 12M81 116l2-7-4-7-7-3 1-9 3-8-7-5-7 4-9-2-4 7 8 1 9 1 6 3 4 9-3 7-2 6-9 4-6 4 5 6 4 8-5 8-5 4-6-5-4-7-7 6-6 5-1 7 5 7 7 4 7 0 5-5 0-8 2-8-5-5-6-6-5-4-4 6 4 6 0 9-4 7 3 8 8 3 8 1 4-3 7-6 7-5 6-3 3-8 5-4 3-7 0-7-5-9-6-2-5-3-1 7-1 8-6 0-9-3 6-8 7-4 8 0 6-8-4-5-8 2-7-2-6 6-7 8-1 6-6 4-8-6 5-6 0-8 8-3" fill="none" stroke="#a8d49a" stroke-width="5.6" stroke-linejoin="round"/></svg>
<svg x="474.5" y="329.8" width="48.1" height="55.1"><path transform="scale(0.25)" d="M18 176l4-12 5-14 6-12 3-11 5-14 6-12 4-10 5-12 4-10 4-16 6-11 5-10 2-11 6-14 6-2 2 15-4 10-8 11-3 13-3 10-5 11-4 12-4 10-6 12-4 12-6 12-3 10-4 12-4 10-2 12 1 7 6-6 7-11 2-10 6-12 4-12 4-11 4-10 4-12 7-9 2-13 6-10 4-11 3-11 3-11 7-12 5-2 5 3-4 11-4 13-5 10-6 11-2 12-5 11-5 11-3 12-6 10-4 12-1 9-6 13-4 10-6 10M3 181l7-12 4-11 5-10 5-11 5-12 4-9 6-13 3-12 6-10 5-12 7-10 5-12 4-10 6-12 5-11 5-9 22 4 20 8-4 11-6 11-7 13-5 11-3 11-6 11-6 11-7 14-5 12-6 10-5 10-5 14-6 10-4 11-6 11-6 13M99 186l5-11 4-11 6-12 4-11 6-10 5-14 8-10 2-11 4-13 6-10 3-10 8-13 4-13 5-9 3-13 6-12 9-1 3 9-5 10-5 11-3 9-5 14-7 10-3 11-6 11-5 12-4 9-6 13-3 11-6 12-4 10-4 11-6 10-3 12M29 119l7 5 5 5-2 6 1 10 6 4 5 4 8 6 6-5 1-7 4-4 7-9-5-6-1-6-7-7-7-3-8 2-7 2-8 5-1 7 0 8 0 7 2 7 7 7" fill="none" stroke="#a8d49a" stroke-width="5.6" stroke-linejoin="round"/></svg>
<svg x="527.3" y="329.8" width="48.1" height="55.1"><path transform="scale(0.25)" d="M20 168l5-11 3-12 6-12 4-10 6-11 3-12 3-11 6-12 5-9 4-10 3-14 5-10 3-11 5-13 7-1 5 4-4 12-7 9-4 14-4 10-5 12-4 13-5 11-5 11-4 10-5 14-3 10-4 12-6 11-1 12 1 7 6 1 3-12 5-12 4-11 5-10 4-13 5-13 5-9 4-13 6-13 2-11 6-12 6-12 3-9 5-13 7-4 3 11-7 12-3 10-4 12-5 13-5 10-3 12-6 11-2 10-5 12-5 11-4 11-6 11-3 12-5 10M3 174l8-11 5-10 5-12 4-9 5-11 6-12 4-9 7-11 3-10 7-13 4-10 4-12 7-9 5-13 5-9 4-11 22 5 16 14-4 12-6 10-4 10-8 11-3 11-7 12-3 10-5 11-5 10-4 10-6 13-5 12-5 9-5 13-5 9-5 10M100 183l4-10 7-10 5-12 4-10 4-10 5-12 2-10 7-10 4-11 4-12 6-8 5-12 6-10 3-11 4-10 5-11 7-2 5 6-4 12-6 10-4 12-5 12-5 5-5 14-3 10-7 13-4 9-5 10-4 11-5 10-3 10-5 13-5 10-4 10M51 149l-8-2-4-7-3-7-1-9-9 4-6 1-9 3-4 7-2 10 6-2 7 2 10 3 5 5 10-1 4-7 5-5" fill="none" stroke="#a8d49a" stroke-width="5.6" stroke-linejoin="round"/></svg>
<svg x="580.6" y="329.8" width="48.5" height="55.1"><path transform="scale(0.25)" d="M25 170l3-10 6-13 4-11 3-13 6-8 5-14 3-10 5-12 4-10 4-12 4-12 6-13 4-10 5-11 6-3 3 9-5 10-3 12-6 11-4 10-5 11-3 12-5 12-4 12-4 10-5 10-5 13-5 11-3 10-3 11 2 7 7 0 4-12 3-10 4-12 4-12 7-11 4-9 4-13 3-10 5-12 5-13 6-9 2-11 5-12 4-11 7-2 3 4-4 13-3 10-5 13-4 11-6 11-3 12-6 11-4 12-5 10-3 13-6 10-5 13-3 11-4 10M11 174l5-9 5-10 5-11 4-11 6-8 5-13 4-10 7-12 3-9 4-10 6-10 6-14 4-9 5-10 7-11 5-11 20 6 18 12-5 11-5 10-6 11-5 12-5 12-5 10-6 11-5 11-4 11-6 11-6 12-4 11-5 12-6 12-7 10-4 12M105 186l5-13 5-12 6-12 5-11 4-12 5-12 6-14 5-10 4-13 6-13 5-11 6-10 3-14 5-13 6-11 7-3-1 18-3 10-6 11-4 11-4 13-5 10-5 15-7 10-2 11-5 11-4 11-5 13-5 9-4 13-6 12-4 12M45 130l-4 6 0 9 1 9 4 5 4 6-5 4 1 9-2 10 2 5-4 4-10-6 3-7 5-7-5-6-1-8 1-7 6-7 2-6 6-8 5-5-4-9-5-5-8-2-8 2-7 3-6 6 0 8-1 6 8 5 3 8 5 5 7 5 1 7-5 6-6 9 4 5 8 4 5 5 7 7 8-1 6-4 9-1 5-4-4-8 2-9-5-4-9 2-8-2 6-8" fill="none" stroke="#a8d49a" stroke-width="5.6" stroke-linejoin="round"/></svg>
<svg x="634.0" y="329.8" width="48.4" height="55.1"><path transform="scale(0.25)" d="M18 173l5-12 4-13 6-11 3-12 3-12 5-10 7-13 3-12 6-12 5-11 3-10 3-14 5-10 5-13 7-2 3 7-4 13-5 11-4 10-6 14-3 11-4 14-6 11-6 12-2 11-7 14-3 10-3 11-6 11-3 14 2 5 7 0 2-12 7-12 4-11 4-13 5-10 4-15 6-10 4-14 5-11 5-12 5-12 2-12 5-12 5-14 7-2 0 14-3 12-5 11-4 11-5 11-3 12-5 9-5 13-3 12-6 11-4 12-3 10-2 12-8 9-2 13 2 6 8-6 4-11 5-13 4-9 5-12 4-10 4-12 4-11 5-11 2-11 3-11 5-13 7-9 4-11 3-10M9 185l5-10 6-12 4-12 6-9 4-13 4-10 7-13 5-10 5-11 6-10 4-14 5-8 6-11 6-14 5-8 2-14 23 6 20 6-7 11-4 13-5 12-4 11-6 10-3 13-5 11-6 10-6 12-4 11-7 11-5 12-3 11-7 11-3 10-8 11M103 179l4-9 4-11 5-11 6-12 4-8 4-12 3-10 6-10 6-13 3-9 4-11 6-9 4-12 5-9 5-12 6-9 7-3 4 5-4 13-6 11-4 9-5 10-4 13-5 11-4 9-7 11-3 12-6 10-4 10-5 11-6 12-4 8-3 14-6 10M28 155l8 0 9 1 6 3 6 8-6 7-8-2-6-4-6-7-8 0-3-6 2-8-2-9 0-8 5-6 8 3 10 0 4 4 8 1 8-3 5 5-2 8-9-1-3 6-8 4-5 4-11 3" fill="none" stroke="#a8d49a" stroke-width="5.6" stroke-linejoin="round"/></svg>
<svg x="687.5" y="329.8" width="48.5" height="55.1"><path transform="scale(0.25)" d="M10 178l5-11 2-13 5-12 4-9 5-13 4-11 4-12 6-11 3-12 4-11 4-13 6-10 4-12 5-11 3-10 7-4 1 11-4 13-3 10-7 10-3 13-2 9-7 12-3 10-3 10-4 11-4 12-5 11-4 12-3 9-5 11-3 11 2 7 3 3 5-10 6-14 3-9 5-11 4-10 4-13 3-11 5-10 6-11 3-12 4-10 6-12 1-11 6-11 5-10 5-4 5-3-3 13-4 13-4 9-3 11-6 11-3 11-5 12-2 11-7 12-3 11-4 12-5 11-4 10-4 13-6 11 4 6 6 1 5-11 2-11 5-11 6-12 2-10 5-12 2-11 6-14 6-9 5-12 3-12 3-10 5-11 5-12 5-11M1 185l4-13 5-10 6-13 4-10 7-12 4-12 3-12 7-12 5-12 5-10 9-12 2-13 4-10 6-13 6-10 3-10 23 3 19 10-4 13-7 11-4 12-4 12-7 11-5 12-6 11-4 12-5 14-6 11-5 12-7 13-4 10-5 11-7 12-3 12M93 181l5-10 5-11 5-10 6-13 5-9 6-10 5-12 5-10 6-11 4-11 8-12 4-9 7-12 2-10 8-12 5-11 7-1 7 0-6 15-5 7-7 12-6 13-5 12-4 11-8 11-5 12-7 11-3 12-6 10-5 11-6 12-6 11-5 10-6 12M19 186l7-5-4-9 6-1" fill="none" stroke="#a8d49a" stroke-width="5.6" stroke-linejoin="round"/></svg>
<svg x="740.0" y="329.8" width="48.4" height="55.1"><path transform="scale(0.25)" d="M10 176l4-10 6-13 2-10 6-9 6-15 2-9 5-12 4-10 6-11 4-13 3-10 6-13 3-10 4-11 5-11 8-2 1 12-4 12-5 10-5 10-3 12-6 11-3 11-5 12-4 10-5 13-5 10-5 11-5 11-5 10-3 12-3 10 2 8 9-7 5-12 4-11 4-12 5-11 6-10 4-11 3-14 6-10 5-12 3-11 2-10 9-12 3-12 6-11 3-14 7 0 3 8-5 10-3 10-5 12-5 11-5 11-4 10-4 13-4 11-6 11-4 12-4 13-3 10-5 11-4 11-5 12 2 5 3 6 5-11 4-11 4-11 4-13 6-11 4-11 3-11 7-13 5-11 3-10 5-14 5-9 6-12 3-13 4-10M-1 187l6-14 4-11 7-11 5-11 6-11 3-11 7-12 5-10 8-13 4-10 5-12 4-14 7-11 6-9 5-13 5-10 21 5 16 17-3 9-7 13-4 11-6 11-6 12-4 13-6 9-7 13-5 11-6 11-5 11-6 12-5 10-5 12-6 12-5 13M92 177l7-10 4-10 7-11 5-12 3-10 9-10 3-15 8-8 4-13 5-9 7-13 6-9 5-12 5-9 4-13 9-1 5 4-3 10-8 12-3 10-6 12-6 9-7 14-4 9-7 10-5 11-7 11-4 13-3 9-9 11-4 11-5 13M31 180l8 0 5-5 0-9-1-8-4-7-2-7-5-6-8 4-6 3-8 3-4 7" fill="none" stroke="#a8d49a" stroke-width="5.6" stroke-linejoin="round"/></svg>
<svg x="208.3" y="388.9" width="47.5" height="54.9"><path transform="scale(0.25)" d="M144 94l-4 6-7 3-7 4-3 5-2 10-7 4-7 3-3 7-4 7-8-6-8 5-4 7-5 6 10 1 4-7 8 1 4-6 6-6 2-7 4-3 11 3 4-4 5-9 2-7 3-6-5-4-8 2-6 6-6 3-7 4-4 7-6 7-5 3-6 4-11 0-5 5 0 10 4 5 8 1 8-6 5-6 6-4 6-5 7-2-4-7-7-2-9-2-3-10 7-7 2-6-6-5-7-4-6-3-8 1-4 7-1 9-8-3-6-3 4-8 1-7-5-4-10-1-5 7-3 9-7 3-7-4-1-8 0-7 7-4 2 9 1 9 7 2 6 2 10 2 4 7 5 6 1 8 1 8 4 2 10 6 7-4 6-6 1-9-1-6 5-7 3-6 5-6-1-10-5-6 2-9 6-4 7-2 5 8 9 2 4 5 6 4 1 10 2 8 1 7-6 5-4 7-9-3-8 2-7-5 2-10 0-6-1-9 6-2 2-8-3-7-6-7-9 0-3 9 3 8 1 7 0 9 0 8 6 2 0 8-3 9 8 4-7 5 3 7-6 5-3 7-7 2-5-2-10-3-8-4-7-6-1-7-1-8-8-3-4 6-8 7-3-6-1-8 9-2 8 3 6 4 3 8 6 6 1 7 8 0M114 77l6-7 7-2 8-2-3-8 3-7 5 7 4 7 5-7 9-4 3-6 6-5 8-3-3-6 5-9M95 132l3 5 1 9 7 6 2 7 7 3 2 10 8 2 5 7-2 8-6 7-3 7 0 7 7 5 8 2" fill="none" stroke="#9010d8" stroke-width="6.8" stroke-linejoin="round"/></svg>
<svg x="260.5" y="388.9" width="49.0" height="54.9"><path transform="scale(0.25)" d="M37 110l2-8 3-7 8-6 5-5 5-5 3-7-5-7-3-6-3-8 7-8 5-3 8-4 6-1 8-4 8 2 5-5 9-2 8 1 7 0 8 3 2 7 7 5 3 9 0 9-3 6 2 8 0 8-7 6-5 5-9 3-1 6 2 10 6 5 6 4 7 5 6 5 3 7 5 5 8 7-5 4-8 0-7 3-4 6-6 6-7 6-7-4-7-2-7-4-10-2-6-2 1-9 0-8-7-3-1-9-3-9-6-2 6-3 8 2 4 5 9 4 8 1 5-5 7-5 3-5 1-9-4-7-9 1 0 8 6 6 4 6-3 7-9 3 1-8-6-5-7 2-8-4-5-6-9 1-6-3-9-1-4-7-2-7-4-8-6 0-5-9 8 3 6-2 9-2 7 5 6 4 4 9 8-2 7-1 7 6 6 0 8-6 4-9 5-4 3-6 4-8-6-5-9-2-5 3-8 2-8 2-8 3-8 0-6-5-8 1-3 9-7 0-7 8-9 1-3 6 7 4 6 3 5-5 8-1 8 3 7 0 9 5 2 6 2 7 5-7 6-8 8-3 3-8 0-8-4-7-3-10-2-5-7 0-4 7 3 8 1 8 1 7-3 8-2 7 5 6-3 7-8 2-6-2-4 5 1 8-3 8-10 2-6 4-6-6-7-3-8-4-5 7-8 0 2-7 7-5 5-5 5-8 7-4 6-4 6-7-2-8 9-1 9-2 7-1 3 7 7 3 5-7 7 3 8 2 3 9 8 4 7-4 7-3 5-10 5-4 0-8-1-7-8-1-2 7 5 7 5 6 1 8-1 8 0 7 2 9-6 0-7-6-4-6-8-4-1-8-8-4-8 1-6-6 2-8 8-2-1-7-8-4-8 2-6-4-8-2-7-5-8 2-8-1-7 1-7 6 7 5 0 7 2 11 6 3 9 4 2 5 6 7 8 2 8-3 6-3 9 2 4 6 6 5 2 7 4 7 7-3 3-8 5-6 7-5 8 2 7-1 6 5 7 3 1 10 4 7-2 6-8 7-7 5-6 3-8 2-8 3-7 2-6-1-10-6-5-4-7 0-8 1-3-5-8-3-8-2-5-8-4-6 0-6-4-9 0-7 7-6 4-6-4-6 4-9 1-8 5-5 0-7 5-7-4-8-8 0-8 1-6 5-8 3 0 9-3 6M59 187l2 8 8 5 6-2 5-7 6-3 4 6 6 4 8 3 8 1 7 6 8 0 9 2 7-3 7 0 8-2 3-10 8 1 7 3-3 7 8 0" fill="none" stroke="#9010d8" stroke-width="6.8" stroke-linejoin="round"/></svg>
<svg x="314.6" y="388.9" width="48.5" height="54.9"><path transform="scale(0.25)" d="M80 72l7-1 7-1 8-6 6 7-1 7 2 6 7 8 4 7 7 1 7 3 0-8 0-7 0-8 6-6 5-6-8-7-8-2-6 5-7 6 4 6 5 7 5 6 2 7 6 2 9-1 8-3 1-7-7-4-6 0-8 1-8-4-7 5-6 3-8 2-5 8-8-2-7-2-8-1-3-11 1-6 3-6 2-10-3-7 0-6 5-5 6 3 8-1 8 0 6-3 8 0 9 3 2 8 0 7-1 9 2 7-9 4-5-3-9 5-7-2-8-2-8-1-7 0-6 6-8-5-3-6-2-7 0-11-4-6 5-6 4-9 3-5 5-7 7-5-1-8 8 0 9-2 6 1 5 9 4 7 9 2-1 8 2 8 10-1 7-6 1-9 6-2-4-8-6-6-8-2-5 7-2 6-1 11-3 4-7 4-8-2-6-4-2-9-5-7-7-4-6-4-6 4-2 9 2 7-2 8-4 5 2 9 6 3 8 8 6 3 3 8 0 7-6 4 5 5 7 4 4 2 7 6 6 6 1 6 4 9 5 4 4 7 2 9 8 1 7 2 8-2 7-6-3-9-1-7-4-5-5-7-9 0-5-3-9 6-1 6-2 6 8 4 6-5 3-7 9 0 6 2 9 3 8 0 8-1-1 9-8 5-6 0-3-9-9-2-5 3-9 0-8 3-7 1-8 1-8 3-5 5-6-7-8-4-7-2-3 6 8 3 6-3 5-6 6-5 10-1 6 3 6-6 9 0 8 2 2-9 5-7 8-2 7-2 6-5-8-5-6-3-8-2-7-2-9 2-8 1-7 0-9-4-8 0-9 1-8 4-6 4-2 7-9 2-4 9 1 8-9 5-4 6-8 0-8 2-4-7-1-8-5-6-7-6 8-2 7-2 8 4 7 1 5-7 7-4 6-3 8 3 8-3-4 9 4 6 6 6 4 5-2 8 3 7 5 7 7 3 7-5 3-7-6-6-5 8 1 7-8 4-8-3-7 5-9 0-6 4-7-3-7-3-1 8 4 8 8-2 8-3 8 4-3 8 2 8 7 6 5 1 10 6 7-2 6-5 1-7 7-5 2-7 8-4 8-1 1-7-5-6-3-8 0-7 7-3 3-9-4-8-2-7-7-4 0-9 4-4 4-8-6-4-6 4-5 6-2 10-9 1-7 4-6 0-11-1-4 8 0 6 0 10 3 6 2 7 4 8 6 6-3 5-4 7-6 4-6 7 6 7 9-1 1-7 6-6 6-3 5-8 1-7 5-7 2-8 6-4 7 3 2 9 4 6 9 1 5 5 7 2 3-8 3-7 2-7-8 1-8 4-6-2-11 1-6 0-8-1-5 7-6 0-5-7-9-1-7-7-6-5-5 4-6 7-6-8-6-2-8-1-1 9 9 1 0 8-4 6 6 1 7 5 4-6 4-5 10 1 5 6 6 5M58 154l-5 4-7 6 2 9-9 1-7 5-2 6-4 6-6 7-7 3-2 9" fill="none" stroke="#9010d8" stroke-width="6.8" stroke-linejoin="round"/></svg>
<svg x="368.3" y="388.9" width="48.5" height="54.9"><path transform="scale(0.25)" d="M35 112l4-6 5-6 6-8 5-5 9 4 6 3 8 0 6 6-1 7 2 6 9 4 5 6 7 0 2-7-2-9 2-7 6-7 5-5-5-7 5-8-2-6-4-8-3-7-7-5-7-6-2-7-4-6-1-10 10 0 7-1 2 8-6 3-6 7 0 9 2 6-2 8 6 5 6 4 1 8-1 10 7 0 7-6 7 3 8-5 8-5 5 5 0 6-7 1-8 1-6 6-8 5-5 5-6 6-5 8-3 6-1 8 1 8 1 9-7 5-3 5 6 3 9-1 8 1 8 1 8 3 6 4-3 8-9 1-5-1-8 2-7 1-9-2-8 1-5-2-10-1-6-2-7-7-4-4-6-6 0-7 4-9 7-2 7-3 7-5-1-6-5-8-3-6 2-8 4-7 2-7 5-6 7-5 7-4 7-4 7 3 7-6 2-7-2-9 3-6-6-9-3 7-2 9-2 8-9 1-8 2-4-6 6-6 6-5 3-7 7-5-1-7 3-9 8-2 6 6 5 5 5 7 4 6-4 7-8 5-7 2-8 1-8-1-7 2-6 4-10 3-7 4-6-5-8 2-2-8 9 3 8-6 8-1 5-7 3-6 1-7 2-10-10 1 1 7-4 8 7 2 8 4 1 6 8 2 6 5 6 6 7 2 8 1 7-1 8 2 8-1 6 6-3 9 2 8 3 7-3 7-2 8-9 1 0 8-3 8-4 6-3 7-5 6-6 6-6-3-7 4 4 5 3 7 3 10-2 7-8-4-3-6-3-8 0-8 1-9-3-3-5-7-9-2-7-5-6-4 3-8 8-2 6-5-7-8-2-7 3-7 2-8 7-7 8 4 4-7 6-5 5-7-6-7-7-3-6-4-7-3-8-2-7 2-9 1-7-2-2-7 0-6 7-7 5-4 10 1 6 5 3 8 2 6 0 9-5 6-7 5-8 0-6 5-10-2-7 3-5 6-7 2-4 9-3 6 5 7 3 7 3 9-5 7-4 5 8 6 7 1 9-2-1 8-5 5-4 7-8 5-5 5-1 9 4 4 10 1 6-5 8-3 6-1 6 4 6 6 5 5 4-8 9-1 8 1 9-1 1-8 0-8-1-7-3-8-8-1-5 6-7 4-10 0-6-2-8 0-5-7-5-7-3-6-1-8 1-10-5-6-2-6-3 6-6 6-2 9 4 7-3 8 6 7 7 1 9 0 3 8 7 6 6 2 3-7 7-4 8-4 6-5 4-6 6-5-4-8 10-6 5 2 9 0-3-8 4-7 5-7 6-5-7-7-6-3-7-5-7-5-4-4-10-2-5-6-9 0-8-3-7 1-7-6-6-3-7-1" fill="none" stroke="#9010d8" stroke-width="6.8" stroke-linejoin="round"/></svg>
<svg x="421.9" y="388.9" width="48.6" height="54.9"><path transform="scale(0.25)" d="M50 147l9-10 9-11 10-7 10-11 8-9 10-10 11-11 8-10 9-10 10-11 7 1-3 11-10 11-8 8-9 9-10 9-7 8-8 11-9 8-8 10-11 9-8 9 1 7 7-1 7-6 11-10 8-11 7-7 10-9 8-9 8-10 9-8 9-10 9-8 6-1 4 3-9 9-6 12-12 7-10 11-8 10-8 10-11 8-9 10-9 11-9 9 0 7 7 1 9-11 11-9 8-10 8-9 9-10 10-11 10-8 10-11 8-8 10-11M94 45l-4 7 4 8-3 8-8 3 1 9 7 2 10 2 2-7-6-5-5 2-9 3-4 6-7 5-9 1-6-4-7-2-1 9-4 8 8 3 10 0 3-6-4-8 0-9-7-3-8 3 5 6 4 7 6-6 8-3 9-1 5 5 9 1 6 3-4 10-5 4-8-1-9 3-5-5-3-10-8-1-2-8-6-3-9-1-4-4-3 7-2 7 2 8 6 3 6 8M0 209l6-6 3 10 1 7 6 6 6 2 9-6-1-7 6-5 5-2 3-6 4-7 2-9 1-7 1-7" fill="none" stroke="#9010d8" stroke-width="6.8" stroke-linejoin="round"/></svg>
<svg x="474.5" y="388.9" width="48.1" height="54.9"><path transform="scale(0.25)" d="M26 162l8-12 6-12 8-11 7-11 6-11 6-12 8-10 5-13 10-11 7-12 6-10 7-11 7-2 4 4-6 11-8 12-6 11-7 13-8 10-5 11-8 11-7 13-5 10-9 13-7 10-7 12 3 6 8 0 3-11 10-10 6-13 5-9 7-12 7-11 7-11 9-12 6-11 6-11 7-11 8-12 6-1 2 7-6 11-6 12-7 11-7 11-7 12-9 11-5 13-7 10-10 11-4 11-8 11-6 12 2 8 11-10 9-9 6-13 4-10 7-10 7-8 6-12 6-10 7-8 7-10 6-13 4-10 6-9 8-1 7 1-8 13-6 9-7 12-5 10-8 10-6 11-7 12-6 11-7 8-8 12-6 10-6 12 2 7 5 5 6-12 6-12 6-11 9-12 8-11 6-12 7-9 7-12 7-10 7-11 7-13 6-10M0 209l1-8 0-8-3-7-6-7 8-5 8-1 7 4 5 7 5-3 7-6 7-3M106 36l7-1 6 8 7 0 7-7 4-6-6-5" fill="none" stroke="#9010d8" stroke-width="6.8" stroke-linejoin="round"/></svg>
<svg x="527.3" y="388.9" width="48.1" height="54.9"><path transform="scale(0.25)" d="M30 150l8-9 6-9 6-12 6-10 7-9 4-9 9-11 6-12 6-8 6-11 7-10 7-11 6 0 6 2-7 12-7 11-7 8-8 15-7 9-8 10-6 12-6 11-7 11-7 10-8 12-5 12 1 7 11-5 6-11 7-12 8-11 5-11 7-10 9-11 6-12 5-9 8-12 7-10 6-11 9-13 7 0 1 8-5 11-8 11-7 11-6 11-7 11-7 10-8 10-7 11-6 10-7 10-8 12-5 9 2 9 7-3 8-9 7-12 4-11 9-9 4-9 7-12 10-12 4-10 7-9 7-11 6-11 7-11 8 0 3 6-7 11-7 11-5 10-8 9-6 11-7 11-9 9-4 12-7 10-5 12-8 10-8 11 3 6 5-2 8-8 9-13 6-9 5-12 7-11 8-11 8-11 6-6 5-13 7-11 8-11 6-9M0 209l5-7 4-5 10 0 5-3 6-4 6-7M146 19l-4 6-5 7-5 4 1 8 7 7 6 5 8 2 4-8 8-2 8-2-1-7-3-7-6-7-8-3-2 7-6 5-9 4-5 7-6 3" fill="none" stroke="#9010d8" stroke-width="6.8" stroke-linejoin="round"/></svg>
<svg x="580.6" y="388.9" width="48.5" height="54.9"><path transform="scale(0.25)" d="M15 157l7-12 3-10 9-11 8-10 7-12 4-11 9-10 6-10 5-11 8-11 6-11 8-10 6-10 8-10 6-3-1 11-6 10-4 11-8 11-6 10-9 12-6 9-6 11-6 13-8 10-5 10-7 11-8 11-5 7-8 13 3 8 6 0 7-9 7-11 5-11 7-10 9-12 6-11 5-9 7-10 6-10 7-12 7-12 7-10 6-11 7-11 7 0 2 10-8 11-5 9-6 10-5 10-6 9-8 11-6 10-8 11-5 9-7 9-6 12-4 10-6 10-9 9 4 7 5 3 6-10 7-12 6-11 8-11 6-9 6-13 9-10 5-10 9-11 5-10 8-11 6-13 7-9 6-13 8 0-2 13-5 11-6 8-8 12-6 10-6 11-6 9-6 12-7 11-7 9-6 10-7 10-6 10-6 11-6 11 2 6 6 5 7-11 4-11 7-10 9-11 4-11 7-11 7-9 5-11 9-12 6-10 7-11 6-11 7-9 7-12 7-1 6 2-9 11-7 11-4 10-8 14-6 8-9 11-4 9-7 13-6 10-8 11-6 11-6 10-9 13-5 11M129 34l-7 1-3-6-10-3-7 2-3 7" fill="none" stroke="#9010d8" stroke-width="6.8" stroke-linejoin="round"/></svg>
<svg x="634.0" y="388.9" width="48.4" height="54.9"><path transform="scale(0.25)" d="M10 161l9-11 4-11 9-9 5-13 9-11 5-10 7-11 8-11 7-13 6-9 6-11 7-11 6-12 9-11 7-1-3 16-6 11-6 9-7 11-6 9-7 9-4 11-8 10-5 10-6 12-8 8-5 10-5 10-6 10-7 12 2 6 6-2 9-9 5-11 6-9 7-11 8-11 5-10 5-9 8-13 6-10 4-10 9-8 6-11 7-12 5-9 8-1 3 10-7 10-6 10-9 9-7 13-5 10-7 10-7 12-6 10-7 9-7 13-7 10-4 9-9 13-6 8 3 9 11-6 8-11 6-9 5-12 8-10 5-10 7-11 7-11 6-12 5-8 9-14 6-8 8-11 5-11 7-10 7-2 5 4-7 10-7 11-5 10-9 12-5 11-8 11-5 11-6 10-6 11-8 11-6 10-7 11-6 11-7 10 2 7 6-1 6-9 9-12 6-10 7-10 5-10 7-12 6-10 6-9 9-11 4-12 6-10 7-10 7-11 7-8 7-3 5 3-8 13-6 10-6 10-6 9-8 13-5 10-6 11-9 11-5 9-8 11-5 12-6 8-7 12-7 9M116 24l6 5 8 0 3-5 4-9 4-6 3-7 6-8 6 3 4 7-3 7 1 9-6 5-8 3-7 4-5-7" fill="none" stroke="#9010d8" stroke-width="6.8" stroke-linejoin="round"/></svg>
<svg x="687.5" y="388.9" width="48.5" height="54.9"><path transform="scale(0.25)" d="M10 163l6-10 6-11 7-10 6-9 6-10 9-11 5-10 7-8 7-11 8-13 4-6 8-11 7-11 8-10 6-13 7 2 5 1-5 11-8 12-7 9-6 11-8 9-6 12-7 9-9 12-4 11-9 9-6 11-7 12-8 8-6 12-7 9 2 8 6 6 6-12 5-14 9-6 5-13 9-10 8-12 6-10 8-11 7-11 9-11 6-10 6-11 8-9 7-13 8-10 6-1-1 14-6 10-7 9-8 10-6 11-6 10-8 10-6 9-6 11-8 9-6 11-8 10-6 10-7 10-5 10-7 11 2 6 6 2 6-10 7-12 6-10 8-9 8-10 6-12 8-11 6-10 8-11 6-11 8-11 6-10 10-10 4-9 8-14 8 1-3 15-6 8-7 12-7 8-6 10-6 11-7 10-8 10-5 9-6 10-6 7-8 12-5 10-7 9-6 12-7 8 2 7 3 6 7-12 8-10 6-9 6-11 8-9 6-10 8-11 6-11 7-10 6-9 6-10 8-9 7-10 6-11 6-12 9 1 7 0-6 8-9 13-6 9-6 10-8 9-6 10-8 12-6 10-7 10-5 10-8 10-6 11-10 11-3 9-9 10M142 28l-8 0-8-1-3-8-8 1-3 7 2 7 10 2 5 4 7-4 9-4 3-7" fill="none" stroke="#9010d8" stroke-width="6.8" stroke-linejoin="round"/></svg>
<svg x="740.0" y="388.9" width="48.4" height="54.9"><path transform="scale(0.25)" d="M8 164l7-8 5-14 9-7 6-12 5-10 9-9 8-10 5-12 8-9 6-12 8-8 5-10 7-11 7-10 7-9 7-2 5 7-10 10-6 10-6 8-7 12-7 11-7 10-5 11-7 9-9 9-5 12-8 10-6 11-9 8-6 12-7 11 3 6 7 1 7-12 7-10 8-11 6-10 7-13 8-9 6-10 7-11 9-10 7-12 6-10 7-12 8-9 6-11 8-11 7 0-1 11-6 9-8 13-7 11-7 9-6 10-8 11-7 10-9 11-5 10-5 12-9 11-7 10-6 10-7 10-9 11 3 8 9-6 8-9 7-10 9-10 4-11 8-11 6-10 9-10 7-12 6-9 7-12 7-9 4-12 10-10 7-9 6-12 8 0 2 9-9 11-6 9-6 14-5 10-10 7-8 13-5 11-9 8-5 10-8 10-6 10-5 12-9 10-7 12-6 10 2 6 5 2 7-10 8-11 6-11 7-10 6-11 9-10 7-12 9-10 5-11 8-12 8-9 7-11 8-12 5-9 9-10 7-2-4 12-7 11-5 13-9 9-6 10-6 11-6 10-8 10-6 9-5 10-9 9-5 11-7 9-7 10-7 12-7 9M96 35l7-1 7-4 10 0 8-4 6 0 7 2 8-3 6 2" fill="none" stroke="#9010d8" stroke-width="6.8" stroke-linejoin="round"/></svg>
<svg x="208.3" y="448.6" width="47.5" height="54.7"><path transform="scale(0.25)" d="M63 38l6 5 3 6 7 6 2 7 5 7 6 4 7 5 6-1 8-7 8 4 3 7 7 5 5 7 1 8 5 5-1 9-2 9-2 6-5 5-5 9 6 8-1 7-4 7 5 5 4 7 3 9 7 4 7 5 7 0 2-6 1-9 3-9-7 6-6-6-4-9-1-7-4-7-7-2 2-7 2-6 0-8 0-9-8-3-5-7 4-6 7-5-4-7-7-4-2-8-2-7-6-6-6-3-8-1-8 1-8 0-9 0-4-5 4-7 7-3 7 4 6-1 9 2 7-3 9 2 3 7 3 7 7 5 8-3 7-1 9-1 7-1 2 6 2 10 2 7-5 7-5 5-5 3 0 7 4 9 5 6 0 8 0 10-7 1-8-1-6-7 1-9-4-3-8-5-1-7-9-3-2-8-1-8-4-7-7-4-7-3-6 3-4-7-8-3-7-3 4-9 8 0 2-7 0-8 5-8 1-8 5-4 4-7 8-2 8 4-3 9-3 4-6 7-1 8-1 9 6 6-2 9 5 5-3 7-6 6-7 4 1 9 7 1 4 6-1 8 6 6-2 7 4 7 7 4 1 6 3 6-1 10-5 5 5 8 3-9 7-5 6-5 3-8 8-3 4-3 0-9 0-6 6-8-6-5-5-5-8 5-4 7-6 4-9 0-7 1-6-3-7-3-7 0-10-5 2-7 6-3 11-1 8 2 6-1 8-4 2-8-3-6-8-2-7-6-5 5-5 7 4 5 2 9 6 5 0 8-6 6 5 3 9 4 2 8 2 8-6 6 9 1 9-4 6-2 6 3 8 5 6-6 5-4 9-2-1-8 2-9 1-8-6-4 3-6 7-8-2-9-8 0-9-4-5-2-9-1-1-9 5-6-4-7-6-5-7-3-8 6 2 8-4 6 4 7 2 9-2 5-6 7-4 5 2 10-4 5-1 9-1 7 2 9 7 5 9 1 5-5 8-2 3-7-7-5-6 6-4 5-6 7-5 5-6-6-6-1-10 2-4-5-1-9 0-8-2-7-2-9-5-8-2-6-8 0-6-6 2-8 1-6 9-5 7 4 6-1 9-3 6-6 6 1 3 8 4 6 3 8 0 6 0 9-4 8-7-5-4-8-7-3 6-6 7-4-4-8-5-4-10-3-2 8 5 7 4 8 1 8-2 5-8 2-7 3-5 8-7 2-8 2-9-3 1-8-7-4 0-7 7-5 8-3 5-6 8-3 7 4 4-7 7 1 8 1 2-7 3-9 1-5-1-9 0-8 9-4 6-1 10 1 6 4 3 6 6 5 8 4-1 8 2 6 6 6 2 7-4 7-6 5-9 3-2 9-7 2-8 3-6 1-4 6-9 0-8 1-6-5-7-1-9 6-7-2-8 1-3-9 5-6 6-4 7-4 9-1 7 5 7-4 4 5 5 9 5 2 1 9 0 7 0 8 8 3 5-5-2-8 0-8 2-8 7-4 3-7 7-6 5-5-6-5-1-8-2-7-5-5 1-8-4-8 2-7-6-7-8-2-1-8 0-8-7-4-6 2-5 6-7 4-5 6-9 0-3-6-1-9 6-6 6-1 8-4 8 6 4 7 6-5 4-6 4-9 10 0 3 4 0 9-1 6-2 8-4 7-6 6-5 6-9 1-2 9 6 3 5-5 8 3 4 8 6 6M0 120l7 2 7 5 4 7 7 5 8-1 8 3 6-3" fill="none" stroke="#34c8cc" stroke-width="5.6" stroke-linejoin="round"/></svg>
<svg x="260.5" y="448.6" width="49.0" height="54.7"><path transform="scale(0.25)" d="M157 87l-8-1-6 7-9-1-4-6-4-6-4-6-9-3-3-8-6-5-6 3-9 1-3 5-4 8-9-3-4 8-7-1-7 6 0 7 0 9 8-7 8-1 7-3 6 3 6 4 7 4 9-3 1 8 8 4 3 4 7 5 6-5 2-10 10 0 9-1 0-9 5-5 8-1 8 2 9 2 5 4 8-5 3-7 1-6 3-8-1-9-6-6-7 0-8-2-7-6-5-5-8-1-8 1-7-5-7-2-5-8-7 2-6 5-7-4-6-7-7-4-8-1-8 4 5 7-1 8 2 9-3 7-3 7-4 6-2 8 6 5-2 7 3 8-1 8-5 5-9 2-7 2-8-1-7 4-7 4-2 6 4 7 6 6 6-1 7-5-1-8 7-7 4-5-3-6-1-11 7-1 8-4 6-6 8 3 5 3 1 7 8 6 8-1 7-3 7 3 2-7-5-4-5-6-3-6-8-7-3-6-6-4-5-11-7 0-8 4-6 5-6 3-8-6-7-1-7-4 1-7 6-8 6-2 11 3 4-6 7 6 5 6 5 7 3 6 8 3 9-2-2-7 8-6 6 1 5 8 1 8 5 6 4 8 6 5-1 8 0 8 8 3 0 7-4 7-1 10-8 1-6 6-5-5-6-1-9 1-1-9-9 1-6 3-6-7-6 0 2-7-1-8-3-6-10-3 4-10 6-5 8-3 8-3 8 0-5-8 4-9-2-6-6-3 2-8 3-7 4 7 7 3 8 5 2 7 3 8 5 6 1 9 2 7 6 5 3 8 5 7 1 7 3 7 8-3 8 1-3-7-7 4-7 3-9 1-6-1-8 7-5 5-7 1-8 3-4-5-9-4-7 0-8 2-9-1-4-5-5-6-3-8-3-7 0-8 8 0 7 3 6 5 5 7 8 3 7-2 9 3 6-2 9 0 5-4 4-9 4-5 0-6 3-9 6 0 4-7 7 3 4-7 5-5 8 2 6 7-4 8-7 1-7 6-5 5-8 3-7 0-7-1 0-8-7-6-6 4-7 2-7-2-8-3-6-4-7 2-7 3-7 5-8-2-1-7 3-7 8 1 7-3 6-6 8 0 6-5 1-8-3-6-6-4-6 3-7 6-6 6-5 6-6 6-8-1-8 2 0 7 0 9 4 6 1 9 2 8 4 5 1 7 2 9 2 6-6 6 7 5 5 6 3 7 5-5 8-1 7-2 8-1 8-3 7-1 6-5 8 1 5-4 7-8-2-8 10-1 7 3 8 1 6-2 4-7-1-8 0-8 0-7-1-8 4-8-3-7-5-5-7-6-7-4-8 5-7 3-7 4-8 2-4 6-2 9-2 6 2 9 2 7 7 5-3 9 1 8 0 7-6 6 0 9-6 2-10 2-7-3-7-2-7 4-7 5-6 4-7-2-9-2-7 4-7 2-4 6-5-6-4-6-2-7-6-9 6-6 1-8-2-8 0-7 5-9 6 4 2 9 3-8 3-8 3-8 7-2 1-10 1-7 4-8 5-4 8-2 7 4 8 3 7 2 7 4 8 3 6-1 8-2 4-5 8-2 7-3 8 3 4 6 5 8 7 0 6 0 10 0 0-8-8 1-6-6-9-1-4 6-9 4-4-4-11 2-6-3-6 6-7-3-6-3-8-3-7-2-7 5-6 6-6 4-2 8-9 3-7 0-7 4M0 153l7-6-1-8 8-5 5-5-1-9-6-3-4-8 1-6 7-7 7 6 1 10-1 6 5 7 7 4 7-4-5-9-1-5 0-7 3-9 7 2M98 153l2 9-6 4 4 7-7 3-7 4-7 4-2 8 9 2 5 9 5-6 9-3 5-5 7-3 8 2 1 8 5 6" fill="none" stroke="#34c8cc" stroke-width="5.6" stroke-linejoin="round"/></svg>
<svg x="314.6" y="448.6" width="48.5" height="54.7"><path transform="scale(0.25)" d="M159 139l8 1 1-8 0-7 3-6 0-8 0-9-1-7-4-8-1-6 1-9-4-8 0-7 2-7 5-7 7-5 3-8-4-6-2-8-4-7-7-5-7 6-6 0-10 2-7-5 1-7-7 0-7 4-7-1-3 8 3 6-8 5-3 7-4 8-6 5-4 8-4 4-9 1-7 5 4 9 1 7 1 8-5 6 1 10 0 6 8 2 7 2 6 8-4 9-6 3 3 10 7 3 7 3 8 1 5-6 3-7-3-8-3-8-4-5 4-9-3-7 1-8-6 7-7-5-7-1-9-1-3 7-8 2-7 0-7 3-4-6 1-8 7-5 6-5 7 1 4-8 4-8 0-5 5-9 7-1 6-1 9-5 3-6 0-6-5-9-2 8 2 7 7 6 7 2 5 8 6 1 7 4 4 7 7 5 7 3-3 7 6-2 8-1 1 9 3 6-1 10-7 5-6 0-6 5-8 4-8 4 1 9 1 8 5 5-5 5-2 7 5 8 6 3 8 0 7-2 4-7 2-6 2-10-4-2-9-2-5 3-10-4-4-7-5-6 1-9 3-8-1-6-1-8-11 1-5-4-7-7-5-5-8 3-3-9-10-1-1 7-1 7 8 0 9-1 7 4 3 6 2 10 9 4-1 6-1 10 5 5 9 1 5-6 6-4 3-6 2-10-5-6-7-3-6-5-6-5 1-5 3-9 7-6 0-9-1-6-3-8 5-7 7-3 4-7 1-9-8-5-7 4-6 5 5 8-3 7 6 3-1 10 4 5 2 7 5 6 6 6 4 7 6 6 4 6-2 8-5 6-1 7-1 8-1 7-8 6-8 0-4-6-3-8 2-9 2-6 5-7 7-4 2-9 0-6-1-9-10 2-2-9-2-8-5-6-4-8 9-3 2-6 9 0-1 8-9 4-5 6-4 8-3 7 0 9-3 4 3 10 1 8-9-5-4 1-8-4-6 5 4 9-3 6-6 6-1 9 6 6 8 2 7-3 5 8 0 7 0 9 8 4 7 0 8-7-9 0-4-7-1-9 2-7 4-7 7-5 6-4 1-9-1-8 3-6-4-7-2-10-7 3-7 6-1-7-5-6-1-8 6-4 5-9 0-7 6-5 9 0 7 4-1 6 7 5 4 9-1 9 3 6-7 7 1 7-6 6-6-3-3-10-7-1-8 0-7-6-6 4-9 3-5-1-9 3-10-2 3 7 7 5 8 2 8 4 2 7 1 8 2 7-2 6 3 9 3 6 5 5 9 4 7 3 7 0 10 0 6-2 4-8 6-6 5-7 4-5-6-5-5 3-11 2 2-10 7-3 0-7-7-4-7-3-10-3-6-1-7-5-8-3-4-6 3-7 3-9-2-6-2-8-6 6 0 8-8 4-4 7-1 8 10-1 7 2 7 3 4 6 1 10-3 7-4 6 4 8-2 8 1 6 5 6 8 4 7-2 4-7 6-2 1-7 2-8 1-9 2-7-4-7-1-6 0-11-2-7-7-3-3-10 1-8 9-1 6-3-3-9M0 153l9 1 3-4 1-9-2-7-4-10-3-6 7-4 7-5 6-6 5-5 6-4 7-7 3 8 9-2 7-1 8 3M136 153l0 9 1 7-1 8-6 2-7 3-7 4-3 9 3 8 9-1 7 3 3 7" fill="none" stroke="#34c8cc" stroke-width="5.6" stroke-linejoin="round"/></svg>
<svg x="368.3" y="448.6" width="48.5" height="54.7"><path transform="scale(0.25)" d="M110 79l7-1 6-6 7-2 7 2 1 8-4 8 4 6-5 9-4 6-7 4-6 5 0 8-3 5 0 10-7-5-7 3-7 6-4 5-10 3-8-2-3-5-5-8 5-6 5-7-2-9 8-3 6-5 0-8-3-6-3-9 5-4 6-6 7-2 8 5 6-4 2-7 7-4 7-2 8 0 6 3 10-2 8-5-4-7-4-7-8 0-7 4-8 2-4 6-7 1-11 1-7 0-6 5-6-5-8-1-10 2-2 8 5 6-2 6-1 10 1 7 6 8-1 6-7 4-6 7 6 4 6 4 6 7 3 7 7 3 9 0 6-4 8 2 6 6 4 7-4 7-7 1-9-2-6-4-3-8-1-8-7-4-9 2-7-4 3-10-5-3-8 0-10-4-5-6 8-2 8-3 4-7 8-3 7 3 9 4 7-3 8 2 9-5 0-6 0-9 2-8 4 8 0 10 4 5-6 5-4 7-7-7-8-4-6-6-3-7-2-7 0-6 5-8-7-5 1-10 5-8 2-5 4-8-2-9-6-5 4-6-2-6 4-8 7 2 4 10 7 1 6 7 8-2 4 6 7 6 0 8-3 6 9 3 4 8 4 6 7 5 4 6-4 7-1 9 0 9 5 6 1 6-3 7-9 3-10-2-7 3-6-1-8 4-4 10-2 6 5 6 5 4 9 2 3 5-2 10-6 6-8-2-8 2-8-3-7 4-8-1-10-2-5 1-8-4-1-9 7-5 8 2 7-1 6-7-3-6-10-6-4-1-10-1 1-7-2-9-2-8-7-4 3-7 6 4 5-7 5-6 6-6 7-4 6 3 4 6 5 7 5 6 9 2 5-6 0-8-4-7-5 1-8 0-9 0-8-1-8 1-5-8-7 1-6 6-8 5 0 8 2 7 9 2 5 6 9 1 6-4 6-7 7-4 7-3 0-9-8-4-7-2-6-4-7 7-5 6 2 8 8 0 6 3 8-5 1 7 6 5 4 7 8 2 6-7 5-6-1-8-3-7 3-10-8-5-3-6-1-9 6 0 4-6 2-10 11 0-6-6-4-5-3-9-7-4-7 2-5 7-4 6-4 7-6 8-5 4 0 10 7 2 1-9 6-5 4 6 0 10 4 6 7 2 7-6 7-2 7 4 8 3 6 7 0 8M0 208l7-4 7 3 4-9 10-1 6-3 6-5 4-6 1-8 4-6 4-7 8-1 5 1 7-7" fill="none" stroke="#34c8cc" stroke-width="5.6" stroke-linejoin="round"/></svg>
<svg x="421.9" y="448.6" width="48.6" height="54.7"><path transform="scale(0.25)" d="M151 67l-7-4-9-1-6 1-8 1-12 4-2 4-2 6-5 8 4 6 9 0-5 8 0 7 2 8-3 8-5 4-8 5-5 6 1 8 5 8-3 8 0 8-8 3-7-4 0-6-2-8 6-5-3-9 7-5 4-6 7-6-5-6-2-7-2-8-5-7-6-4-5-8-6-3-7-2-6-7 1-9 7-2 8 6 4 3 2 9 3 7 3 9 2 8 7 5 7 3 5-1 9-1 7-2 3-9 9-4 6-4 4-7 0-8 10-4 1-7-7-4-7-3-9-2-1-9 4-9-4-7-1-7-9 0-5 3-3 7-5 4-3 8-9 3-5-6 2-9 8 2 7 2 6-5 1-9 2-7 7-1 7-5 7-3 9 0 6 2-2 9-4 7-3 6 3 8 2 9 7 6-2 7 7 2 8-4 5 6 4 7-1 9 1 8-6 5 1 7-1 9 3 7-1 6-7 5-7 7-7 2-8 5-4 5-5 7-7 3-4-6 3-9-4-6-1-8 7-6 9-1 7 1 6-2 7-4 1-7 2-9 8 1 6 2 1-8 3-7-8-3-8 1-8 4-6-4-2-9 0-7-7-7-6 3-9 1-9 4-4-4-5-7-6-4-7-2-10-2-2-7-4-10 4-7 3-6 8 2 8-2 5 6 9 0 3 8 5 6 3 9-3 7 1 8-7 2-7 3-4 6-4 8-2 7 5 6 6 2 9 5-4 7-4 7-6 5-7-4-9-1 3-7 3-8 3-7-5-6-2-8-7-4-7 5-7 1-4 8-6 4-4 9 3 6 7 3 5 5 9-1 3-7 8 6 9-3 8-1 6 3 6 2 9 5 4-7-1-7 1-9-5-8 1-8-5-6-5-4-7-5 4-9 6-7 7 2 5-4 8 5 5 3 1 9 7 7-3 6-5 7-7 4-8 4-7 4-6 3-6 3-8 5-1 9-2 7 3 7-6 7-2 8 7 4 3-7-6-8-4-4-3-8-4-9-9-5 4-7-7-8 3-5-2-8 4-9-6-6-6-2-6-4 4-6 7-3 7 1 8 0 4-7 4-7 6-6 3-8-1-7 3-6 5 6 8 3 0 8-2 8-2 7-1 7-2 9-8-1-9 2-4-7-5-5-5 7-5 6-2 7-5 8-2 7 3 7 8 5-1 7 2 9 4 6-4 6 1 6 9 2 5 6 4-5 9-5 3-9-2-7 0-8-4-8 2-5 5-9-5-6-4-8 3-7-6-5-1-8-6 0-7-7-8-3-2-6-2-7 0-8 7-5 8-3 7 5 8 0 7 1 9-4 2 6 0 8 3 8-7 8 1 5 2 10 5 6 2 8-1 8 8 2 7 1 8-2 4-5 7-4M0 131l7-2 8-4 5-7 3-7 7 4M97 153l2 7-3 10 7 5 0 10 2 8 7 4-2 8-8 0" fill="none" stroke="#34c8cc" stroke-width="5.6" stroke-linejoin="round"/></svg>
<svg x="474.5" y="448.6" width="48.1" height="54.7"><path transform="scale(0.25)" d="M76 75l9 4 6 2 9 1 8-2 2 8 8 1 1 8 6 6 5 6 0 9 2 7-3 9 7 1 8 1 5-6 0-10 7-3-8-3-6-4 5-9-5-5 5-7 5-6 2-9 4-6 0-9-7-3-7-5-6-2-8 0-9 1-7-1-5 7 2 6-6 5-6 6 5 7 6-1 6-5 5-5 8 0 8 1 0 6-5 7 0 9-4 7-5 3-7-1-8-4-4-8-1-6 1-9 1-8-4-4-7-5-8 5-7 4-6 4-2 8 5 6 5 4 8 0 9-1 7-1 8 3 6-5 0-7-4-8 4-5 2-9 1-8 2-8 8-4 1-9 3-5-2-9 0-8 8-1 5 4 2 9 0 7-1 9-2 7 4 8-5 6-6 5 4 8 10 4 3 4 9 2 5 6 1 7 4 9-3 7-4 6-7-2-5-3 2-10 0-6-6-9-5-4-7-4-8-3-7-6-7-5-7-2-2-6 5-6 7-1 8 1 5 6 8 3 7 4-2 8 3 8 6 6 2 5 1 10 10 2 4 6-7 4-3 7-7 4-5 5-5 8-2 6-4 7-8-3-9-1-9-2-7-1-8-2-3-6-9 1-3-9-5-6-1-9-7-3-5-7 2-9-5-5 5-8 1-9-7-2 3-9 5-6 4 4 10 1 6 5 5 6 8 3 7 6 6-1 8 0 8 2 7 5 8-4 4-5 8-2 8-6 2-6-3-8 0-6-5-7-8 1-7 3 0 7 3 8-8 5-8 3-6-1-8 1-7 3-9 2 0 9-7 3-4 8-7 5-6 4-5 8-4-8-8-4-7 0-5-7 0-6 0-9 8-3 3 7 5 6 7 5 10 1-2 6-3 7-6 4-7 6 2 8-3 6 1 8 5 6 9 1 7 0 5-7 5-5-7-4-1-6 1-8-2-9-3-8 4-6 7 0 9 4 7-6 4-6 8 0 8 1 7-3 9-1 7 2 8 3 9-2 4-7 4-7-9 1-8 5-4 5-2 8-2 9-4 5-1 9 0 8 6 5 5-7 2-6 2-8 3-7 0-6 2-10-2-7-5-6-6-7-8 0-3-7-5-7-6-5-7 5 0 7-8 2-9 3 0 9-9-2-6 2-7-2-5-7-7-3-9-3 4 7-9 1 6 6 6 5 10 1 9 4-1 7 9 5 8 2 5 6 6 2 0 8-3 8 4 3 9 1 5-1 8 4 4 7-2 7-4 5-5-6-7-6-2-8 1-6 2-9 6-4 1-7 1-7-10-3 3-8-6-7-2-8-4-7-6-5-7 5 3 9-5 6-2 7 1 8-2 9 2 7 3 8-2 7-8 1-8-5-5-4-9 4-4 7-8-2-9 0-1 8-4 8 7 4 7-5 5-8-4-5 0-10-4-7-1-8 7-4 10-2 5-4 8-1 2-6 2-8 4 6 2 8 4 6 8 5 7 2 4-9 2-6-5-5 6-7 5-5 5-3 3-9-7-5-6-3-8-5-7-1-8 3-8 1-3-10-5-6-4-5-5-7-3 8 6 5 8 3M0 208l7-3 6-4 9 1 9 0 8-3 7-3 7-3 5-8 6 3 9-2 7-3 0-7 4-7 1-8-2-8 7-7-2-7-8-5-6-3-9 1-6 5-6 4-7 5-6 5-4 8 5 6 7 4 5-9M154 131l8 3 1 9-4 7-7 3-4 6-7 5 5 6 5 9 6 2 8 2 7-4 7 2 8-2 5 10-4 6 1 9" fill="none" stroke="#34c8cc" stroke-width="5.6" stroke-linejoin="round"/></svg>
<svg x="527.3" y="448.6" width="48.1" height="54.7"><path transform="scale(0.25)" d="M126 130l-7-3-5-5-8-2-10 1-8 0-6 0-4-6-7-2-4-7-4-6 4-8 2-8-1-8 3-8 8-5 5 4 10-2 7 1 8 1 6 6-4 8-2 6-7 6-8 4-8-1-7-4-7 0-8-3-7 1-6-7-2-7 2-9 4-6 3-5 9-2 8 0 3 5 4-7 5-6 8-3 6 3 3 8-1 7-6 5-10 1 0-8-4-6 7-7 7 2 5 5 9 1 2-9-2-6 0-9 10 1 3 4-5 6-3 6-7-7-3-6-8-2-2-8-7 5-6 5 2 7-7 6-8 1-5 6-4 6-7 3-7-4-4-8 3-6 2-6 0-10-2-9 2-5 4-7 9-4 5-2 9-3 8 1 8-2 9 4 4 6 8 4 8 3 6 3 7-3 6-5 8-2 7 5 5 6-1 8-5 7 1 8 8 1 8 3 4-7 1-8 2-9-6-3-7-4-8 2-2 5 0 10-7-5-7-4-2-7-8-3-7 1-9 3-8 3-8 5-6-2-8 0-8 1-2 8-3 9-9-4-7-2-8 4-2-5 4-8 5-5 6-6 4-8 5-7 6 6 3 6 8 5 7 5 7-5 7 0 7 8 4 5 5 6-2 7 5 8 5 5-5 6-3 8-1 8 0 8-7 4-7 1-9 5-7 1-1 7-1 9 2 8 4 4 9 0 6 5 7-4 3-7-7-3-3-6-3-9-1-7-1-9 3-8 6-2-6-7-7-2-8-1-8 0-8-2-1-7 3-7 7-6 5 2 10 1 8 5 5 1 4 9 4-7-3-8-3-7 1-6 7 4 7 4 5 6 4 8 6 4 7-4 5-7-3-8-2-8-8 2-7 5-6 5-3 6-7 6-6 4 3 6-5 7-7 6-3 6-9 3-7 1-8 3 5 8 4 7-2 9-1 5 5 6-1 9-3 7-7-1-2-7-5-9-8 1-3-7-7-7 3-7 0-6-3-10 3-5 2-10 7-3 6-3 4-5 9-5 1-7-4-8 0-7 6-9 4-7 8 3 7 6 3 6 7 5 6-6 7-2 7 3 7-1 8 0 2 6 0 9 9 3-3 9-4 8-3 7-2 8 2 7-6 4-8 1-6 6-7 6-3 6-5 6-8 0-9-4-7-2-6-2-9-3-6-1 2-6 0-9-4-8-6-2-7-4-6-7-7-2-8-6 1-8 5-6 7 2 7-2 5-9 4-5 6 2 7-5 8 5 2 7-5 7-4 6-4 6-6 8-7 2-8 1-6 1-5-5M0 109l6-6 7-2 7-1 7 5 3-9M135 131l-1 9 3 8-7 4-6-2-8 2-4 4-4 8 3 6 1 10 2 7 3 5 3 8 10-1 5 0 1 11 3 5 7 6 7 5 7 3 7-5 7-2-2-9-3-7-2-9-8-4-5-4-4 7-1 7" fill="none" stroke="#34c8cc" stroke-width="5.6" stroke-linejoin="round"/></svg>
<svg x="580.6" y="448.6" width="48.5" height="54.7"><path transform="scale(0.25)" d="M80 95l-5-6-8-5-1-8-3-8 2-8 8 0 3 8 8 2 7-3 9 0 4-5 5-7 5-7 4-5 1-9 1-9-3-5-6-6-6-5-6 7-8 4 0 8 6 3 9 2 7-2 7-5 6 5 0 7 3 5 9 0 7-3 6-6 8 3 5 5 1 7 9 3 2 6 0 8-7 3-10 3-6-3-7 2-9 0-4 7-11 1-5-4-9 2-4-4-7 3-7 6-6-4-9 2-6 5-8 2-7-3-8-2-7-1-2-7-4-8 5-4 0-8 5-5 6-6 7 2 8-3 8-2 2-6 8-3 8 1 7 3 9 1 4-6 8-3 6 0 9 0 5 5 2 7-7 5-3 7 0 7-6 7-6 5-5 6-7 1-4 8-6 6-5 4-5 8 10 0 6-1 6-5-6-6 3-9 0-7 8-3 9 0 0-7 4-8 6-5 6-4-4-7-9 1-3 6 2 9-5 5-2 8-7 3-8-2-7 1-6 7-6 2-8 6-7-6-6-3-8-2-7-6-6 3 3 9 1 6 8-4 7-4 3-7 5-7 6 4 7 3 4-5 1-8 8-4 6 5 6 4 6-7 6-4 6 3 7 5 7 2 8-1 9-4 6 3 4 7-9 4-7 3-5-1-3-11 2-6-2-8 5-5 8-5 6-5-1-10-9-2-7-1-6 5-6 4-7-1-6 5-8 2-6 5-5-7 0-7 2-9 4-5 7-4 10 4 6 1 2 6 7 7 3 7 2 7 3 9-1 8-6-5-6-2-9 0-7 0-9 2-7-1-9-3-3-7-8 0-9-1-7-3-6-5-2-8 6-4 3 8 2 9 4 5 5 6 5 8 4 6 1 9 7 3 6-3 9 3 7-2 8 0 8-4 8 1 7-5 5-8 6 7 4 7 5 5 1 9-4 6-8 1-8 2-7-5-5-5-5-7-8-3-6 4-3-5-3-9 1-8 6 3 3 5 9 4 7 1 8 2 7 0 9 1-6 5 2 5 7 0 8 1 0 8-9 2-8 5-6 3-7 5-4 8M0 153l8-2 10 0 4-3 7-2 6-9 7-1 6-6 6-5 4-8 5-6 1-7-5-7-5-6-6-2-6-5-9-1-5 7-2 9 4 6M155 109l-2 10 1 5-6 5-9 5-7-3-7 4-6 5-9 0-6 4-8 6 2 6 10 3 4 5 7-3 8 1 3-7 9-6 7 3 1 8 5 4 4 7 7 6 6 4 7 1 1 10-3 7 1 8" fill="none" stroke="#34c8cc" stroke-width="5.6" stroke-linejoin="round"/></svg>
<svg x="634.0" y="448.6" width="48.4" height="54.7"><path transform="scale(0.25)" d="M142 67l-8 1-5-6-6-5 0-8-7-1-9-1-6-3-9 0-7 0-8 2-4-5-1-9-3-8-7 5-4 7 2 6 6 8 4 7 4 7 3 6 6 2 9-3 9 0 7 3 6 4 7-1 9 3 7 3 7 0 8-4 5-6-4-8-7 6-7-6-7 5-8 2-8-1-8 1-6 4-6-2-3-9-6-1-9-3 2-8 0-9-4-6-8 0-7 4-4 5-8-2-9-2 6-5 7-4 9-2 9 2 8-2 6 6 5 6 4 7 7 1 3 9 8 5 3 9 6 3 9 0 7 4 6-5 8-1-6-3-7 4-3 7-5 5-5 8-5 7-5 4-5 5-10 3-5-2-10-6-2-6-1-7-7-2-8-2-9-3-3-6-10-4-6-3-6-3-1-10-8-6 0-7-2-8 3-6 10-3 5-6 7-5 7 3 8-5 7 2 4 6 2 8 5 6 8-1 8 1 8 0 6-4 7 5 9 2 6 4-1 9-5 5-8-7-5-5-6 5 3 5 10-1 6 7 4 6 9 0 6-5 8-2 1-8 3-6 7 5 2 6 0 7 2 9-3 6-8 5-5 6-7 4-7-3-1-10-7-1-9-2-6-2-7 5-5 5-8 1-6 3-7 2-7-6-7 3-7-4-6-8-6-3-3 7 4 7-7 5 5-7-6-5-7 1-5-6-2-9-3-7-1-8 7-5 1-9 6-4 8 2 5-2 7-6 6-5 8 5 6 3 5 8 7 5 6 3 9 0 8 4 6 5 6 3 3 9-1 8-3 8 0 5 6 4 6-3 3-8 5-7 3-7 9-1 5-7 5-7-8-5-3-8-8-1-5 3-7-4-8 3-8 4-7 0-7 5-3 8-6 1-6 6-1 7-2 9-7 5-7-1-7-3 6-8 7 0 9 1 7 1 7-4 7 3 9-6 4-5 0-7-2-8 0-8 6-4 6-6-1-8M165 79l-3 11-2 14-3 11-4 14 0 14-1 10-5 13-2 14-1 11-1 15-3 10" fill="none" stroke="#34c8cc" stroke-width="5.6" stroke-linejoin="round"/></svg>
<svg x="687.5" y="448.6" width="48.5" height="54.7"><path transform="scale(0.25)" d="M103 31l-9 2-6 2-8 4-7-5-4-5-8 1 2 7-1 7 4 6 8 2 8-1 9 4 5 4 7 1 3 7 8-1 5 9-3 6 6 5 7 3 8 0 11-1 3-6 4-6-3-7 1-7 7-6 4-6 4-9-4-8-6-2-7 3-9 1-4 4-1 8 0 10-4 7-8 3-6-3-7 2-7-6-8-3 0-6-7 2-7-3-8-3-8 0-5-7-1-9 4-8-7 0 1-8-9-6-7 6-6 5 2 9 7 4 8 0 8-4 8 1 8 2 5-5 7-5 6-5 7-3 4 7 7 3 5 6 5 7-7 6-5 6-4 5-5 6-11 1-6-3-7 2 1 9 7 4 3-7-5-5 4-9-3-8 0-9-7-6-5-2-7-4-8-1-7-3-9 5 0 7-9 0-7 4-7 1-4 8 4 6 7 6 8 1 9 0 8 0 8 1 3 7 7 2 9 0 8 2 8 1 7-4 9-2 2 7 5-5 5-5 9 3 7-1 8 0 3-8-1-8-3-8 6-5 11 1-6 9 4 6-5 7-6 7-8 1-6 4-6 6-8 2-6 4-8 5 0 6-7 5-8 2-5-6 4-7 8 1 7-3 7-6-7-5-2-6-7-8-6 3-9-3-4-9 2-7 0-7-4-9 1-8 5-1 11 2 8 0 8 0 6 1 8-1 8 2 1 9 2 8-10 1-9 0-6 3-7-2-8 1-7 6-7 0-7 4-8 1-5 8-1 7-2 7-6-6-7 6-6-6-7-6-7-4-7 3-8-2-8-1-2-7M174 70l-3 12-7 12-3 10-5 11-3 8-4 13-4 11-4 12-2 8-5 13-4 11-4 9-4 12" fill="none" stroke="#34c8cc" stroke-width="5.6" stroke-linejoin="round"/></svg>
<svg x="740.0" y="448.6" width="48.4" height="54.7"><path transform="scale(0.25)" d="M75 59l6-6 8 1 7-1 8 7 6 1 7 0 8 5 6 4 7-4 7-5-9-5-5-4-8-4-3-7-2-6-8-6-7 3-2 8 10 3 5 6 5 6-3 9-6 3-7 5-9 1-6 3-8 3-7-5-4-6 0-9-4-6-7-2-9 0-6 4-9-3-4-3-9 2-6 0 5 8 5 4 10 2 0 7 7 6 7 2 9-4 6 5 3 4 8-2 8-3 8-2 3-6 1-8 7-4 3 7 4 7 9 2 8-2 5-6 8 0-8 4 0 8-9 1-7-1-3-8 5-8 5-4 2-8-2-8-4-5 2-7 5-7 6 3 7 1 10 1 6 0 7 6 3-7-6-4-8-3-3-7-9 1-6 4-8 0-9-2-8 3-5 3-10-3-5 2-9 0-7 5-6-7-6 1-9-1 2 8 5 6 7 1 6 8 7 2 6-2 8 3 7-4 8 2 9-1 6-4 7 0 6-4 8 5 4 6-4 8 0 8 5 4 9 1 6-5 6-4 8-4 5-5 7-3-1-8-6-8-8-3-3-7-8-1-8 4-5 5 0 7 7 2 10-1 3 6-1 10 1 7-7 3-7 2-8-1-9 3-6 2-8 4-3 7-9 1-5-7-9 2-7-5-6-6-5-6-5-6-2-8 7-5 4-6 9 3 7 6 5 4 5 8 7 2 8 2 4 7 2 7 0 7 5 6 5-6 8-4-1-8-2-7 1-8 6-7 3-7M177 92l-3 10-4 12-4 13-3 13-4 11-2 12-5 11-2 11-5 12-3 13" fill="none" stroke="#34c8cc" stroke-width="5.6" stroke-linejoin="round"/></svg>
<svg x="208.3" y="507.8" width="47.5" height="55.7"><path transform="scale(0.25)" d="M126 203l-7-2-9 3-7-3-7-5 0-7-7 0-8 2-7 0-9 4-8-1-7-3-5 2-8-7-7-5-6-2-9-2-4-8-2-7-7-3-9-3-8 0 0-9 6-6-4-8 2-11 8-4 0-8 9-3 6 0 10 2 1-11 7-5 7 0 4-7 3-9 8-4 7 3 4 8 8 1 7-4 8-1 7-4 8-1 5 3 8 1 8 7 4 8 0 5 3 10-4 5-7 6-3 6-4 7-1 9 0 8-4 7-3 8 0 6-6 6-6 4-8-2-6-4-4-7-3-7 2-9 1-7 7-5-1-9-6-2-10-2-6-6-6-5-2-8 7-3 9-1 7-2 6-4 7-4-4-7-8-2-2-10 0-7 3-7-2-7 8 2 5 7-8 4 2 6-5 8-2 9 9 0 4 6 7 8 0 6-6 5-9-1-6-4-7 2-6 6 8 1 8 2 6 4 8 6 7 1 9-1 7 2 5 5 2 8 3 7-3 6-7 0-7-3-8 3-5 6-2 7-6 5 4 9-2 8-6-1-8-3 0-9-6-4-8-2-8 1-9 2-7-3-6 2-9-6 2-7 5-6 4-7 3-8 9-3-3-7-6-6-6-5 6-6 5 3 5-7 7 0 9 0 6 6 5 7-1 7 3 8 3 7 8-3 9-2 8 0 6 5 2 6-6 8-5 3-5-7-6 1-7-3 1-6 6-6 4-6-1-9 3-8 8 3 9-1 7 4 3-8 2-6-5-6-5-7 2-7 4-7 3-6-3-8 0-9-10 1-1 7-1 9-5 7-2 7 1 11 3 5-3 8 5 6 7 5-1 10-2 6 0 8-5 6-9 0-2-8-2-9-6-4 0-8-6-6 3-7 8 2 5-5 7-2 8-4 6 2 8-1 8-2 7 0 8 2 7 5 6-5-2-9-2-9-8 2-8 1-7 1-5-3 4-8-2-7 1-7-3-9-7-4-6-4-9 6-7 1-8 4-5-8 4-7-5-4-7 5 5 6 4 6 0 9 3 6 6 6 4 7 0 9-1 7 7 7 5 4 5 9 0 6-6 4-9 0-6 5-8 3-8 0-3-6-2-9 7-7 6-3 2-7 7-5 2-6 8-4 5-5 9 1 6 3 6 5 5 7 5 5 9 7 7-3 5-6 7-1 6 3 10-1 3-5-1-9-6-5-6-4-6-6-5-7-7-1-8 2-6 4-10 2-6 5 5 7-2 10-9-1-7 3-8 2-6 3 2 8 0 9 8 5 3 6 5 7 8-1 5 5 4-8 6-4 2-7 2-10 0-7-1-9 7-2 0-9 2-7 7-4 8-3 3 6 3 8 8 4 5 6 2 9-5 5-7 5-2 8-3 8 0 7-1 7-7 4-9 0-1 8-9 2-7 0-7 1-9 1-5 4-7 5 0 8 3 6 0 9-9-2-5-7-4-6 6-5 0-7 3-8-4-7-5-5-3-10 0-7-4-5 1-10-2-7 8 2 7-7 6-5 5-5 7 1 12-1 5-2 8-3 6-6 3-6 9 1 7 0 0-6-3-10-3-6-7-1-6-4-7-6-7 2-9 0-7 3-6 5-7 4-7 5-8 1-6 2-9 3-5 7-4 5-2 10-1 7-3 7-3 6-6 7-5 5-5 5-3 8-7 0-9-6-7 1-7 3-3 8 3 8 7 5 7 3 6 6 7-4 4-5 7-7 3-7-6-5-2-7-1-8 1-7 1-9-2-7 2-8 7-3 4-6 7-5 7-5 7-2-1-8-5-6 5-7 5 6-4 4-4 7 0 7 7 2 9 0 7 0-1 8-9 1-2 8-5 7 1 9-6 4-7 3-8-3-7 4-6 6 0 4-9 5 6 6-1 9 2 7-4 7-8 5-3 6-4 6 7 4 10 4 8-1 4-6 6-5 5-4 7 1 10 0 8 3 2 6 9 0 3-6-4-7 0-10-4-7 2-6-1-9 10-3 5-2 8 1 5-6 7-3 8 4 5-7 6-6 4-7 7-5 6 2 2 10-6 7-1 5-7 6-7-2-7-7-7 0-6-3-4-6-6-6-8-3-9-2-7-1-6-3-8-3 1-6-9-3-6-3-6 5-4 8 3 6 8 4 6 2 10 5-2 9 9 3 8-2 6 5-1 9 0 8-3 7-7 1" fill="none" stroke="#d80000" stroke-width="7.2" stroke-linejoin="round"/></svg>
<svg x="260.5" y="507.8" width="49.0" height="55.7"><path transform="scale(0.25)" d="M27 81l7 2 7 4 8 4 6 1 8 0 6 3 8 1 10 3 6-5 5-7 7 0 8-3 9-2 6 1 4 8 7 5 7 5-1 8-4 7-5 7-2 7-5 8 1 7-6 5-4 8-7 3-1 8-9-2-10 2-4 4-8-1-4-7 1-9 2-9-5-5-2-9 2-7 3-7-7-8-6-6-5-3-9-3-6-5-5-7-9-1-7 1 4 9 7 5 3 6 1 9-3 8-7 6-7 5 7 6-3 6 2 9 8 4 7 2 3 7 2 8 2 7 7 5 8 0 6-6 4-5-1-8-3-9 4-6 4-6 8 1 7 1 8-5 0-8-10 0-7 2-7-4-7-1-8 0-8 4-7-5 3-8 3-6 0-6 5-8-1-9 0-8 4-5 5-8 5-5 8-4 4 7 2 8 8 1 7 1-1-8 6-5-1-8 6-3 5 2 6 7 7 3 7 0 9-5 8 5 1 9 5 4 7 6 5 6 1 8-1 7 5 7 4 8-4 6-6 4-10 1-4 5-6 7-7-1-9 1-8 1-7 2-4 9-6 4-7 3-2 9-6 4 5 8-5 6-3 5-4 7-7 3-6-5 1-8-8-2-3-8 1-8 1-6-1-8-4-8 0-9-5-4-5-5-4-8 2-8 2-8 7-5 0-5-1-10 8-4 8 1 8 2 5-8 8 6 8 1 6 5 6 4 8-1-6-8-7 0 1-9-3-7-7-5-7 1-7 3 0 9 7 2 4 7-1 8 2 8 2 9 2 6-7 5-7 1-4 5-9 1-6 4-7 0-2-5 5-6 3-8 5-7-1-6 6-7 4-8 0-7 5-5 5-9 6 5 8-3 6 6 5 7 7 1 7 0 8 6 6-8 3-6 9-3 4 6 4 7-3 10-4 4-9 4-4-3-6-6-6-7 0-8-3-7 0-9 1-8 0-9-2-7-2-7 5-4 6 5 2 8 3 8-4 6-8 3-5 3-8 7-6 4-6 6-7-1-6 4-4 8-4 8 2 7-2 8-3 7-6 5 3 8 2 7-1 8-2 8 4 7 3 8-4 3-9 5-4 5-6 0-9-6-9-1-3-7 8-4 5-5 7-3 8-5 7-4-5-6-7-7-2-7-2-7 5-6 6-8 4-4 1-8 6-8 7-1 4-7 8-5 5 7 7 3 6 7 6 4 5-8 2-9 5-6 8 6 5 6 7 2 8 4 6 0 8-2 2-6-7-4-5-7-6 1-8 4-6 0-3 8 0 7 7 6 0 8-6 0-7 8-5 7-7 6-4 5-9-1-4-3-8-1-9 2-8-6-6 1-9-3-7 0-9-4-6 2-9 3-6-7 5-6 6 6 8 3 7 0 8 3 4 6 6 4 8 4 8 2 7-1 10 1 6-4 6-7 7-3-6-5-1-7 6-7 3-7 0-8-4-8 0-8-1-8-6-5-5-2-10-1-3 5 3 8 5 7 7 0 8-3 9-4 3 9 5 5 5 7 0 9-1 6-8-1-7-3-6 6-5 5-7 1-5-6-7-6-6-3-8-3-2-8-4-8-6-4-7 5-8 1-7-1-5 6-6-7-7 0-9 2-4 6-3 8 6 5 6-5 8-1 3-7 8-1 8-7-2-8 5-7 8 0 5 5 2 9 8 3 3 7 6 6 7-4 2 7 2 8 6 8 4 6 6 2 8-4 10-1-3-7-2-9 4-5-3-9-5-5-9-2 5-7 7-6 2-8-1-8-5-8-2-6-4-6-6-6 4-8-6-9 0-7 4-7 6-1 5 6 2 8-5 6-1 8 1 7 8 5 7 4 4 6 3 9 6 1 10 6 3 5 5 5 6 8-5 7-7 4-9 4-6 5-7 3-5-6-9-3-5-3-9-3-5 2-10 0-7-2-9 3-7 3 3 7 5 7 5-8 7 0 9 1 4 6 8 2 5 5 7 7-1 8-1 7 4 7 8 4 8-1 5-7 5-7 4-6-7-1-6-3-6-9-6-1-7-9-6-4 4-7-6-7-8 1-9-2-7 5-4-6-5-7-9 3-9 4-5-4-8-3-8-3-5-6-7-4-3-8 7 2 8-7 9 1 7-3 2-4 4-8 1-9 2-5 5-6 8 2 7 1 6 7 8 4 0 7 8 8 6-6 7 4 7-6 2-6 8-1-1 10 1 6-3 8-4 7-2 8 6 4 7 5 5 8-2 7 9 4 6 2 2-7-7-5-5-3-9 0-4 8-3 5-8 5-8 2-5 9-5 4 1 8-5 8-6 3-4 4-4 9-2 9-6 4-1 7-1 9-4 5-7-4-5-6-3-8 1-8-6-6 2-8 2-10 1-7 4-6-5-5-7-6 2-9-2-8 0-8 1-7-1-8 4-6 8-7 6-4 6-6 8-3 2-5 5-7 3-9 7 1 4 10-4 6 0 7-3 8-7 6-3 8 2 6-1 9 0 8 1 8-2 8 0 7 7 3-2 9 2 7-2 8 1 9-11 2-5-6 2-8-5-5-6-5-3-8-4-6 3-8-3-7 3-6 6-9-2-8 2-7-4-8-4-5-9-2-4 4 0 11 2 6 9 5 6 6-2 6 3 10 0 8-2 6 4 8-1 8-5 3 1 9 6 3 3 9-1 6 2 8 11-2 8 2 3 7 8-3 7-4 6-3 4-7-1-7 3-5-4-10-5-5-6-2-4-7-2-10-3-6-8-1-6-5-1-7-1-8-3-7-5-5-5-9 1-5-8-3 0-7 6-4 1-6 2-10 6-4" fill="none" stroke="#d80000" stroke-width="7.2" stroke-linejoin="round"/></svg>
<svg x="314.6" y="507.8" width="48.5" height="55.7"><path transform="scale(0.25)" d="M105 122l1-7-5-7-5-5 0-9-3-7-5-5-4-10-4-7-4-5-9-3-2 6 4 9 7 2 7 3 7 5-1 8 4 4 8 7 6 5 5 6 4 5 8 6 2 8 4 6-6 3-8-5 3-9 7-2 7-1 7 5 5 7 7 5 7-6 5-6 7-3 3-7 2-8-7 0-7 0-4 8-1 6-7 7 1 7-2 8 0 8-5 5-4-6 4-9 8-4 7 3 5 0 1-9 7 3 9-3 4-7-3-6-7-6-8-3-7 4-10 4-4 4-6 6-6 6-7-3-8 5-6-5-7-5-3-7 2-9 1-7-7 0 1-10-6-5-8 2-7 3-10 1-6 3-7 1-7-1-7 2-8 4 3 7 6 5 8 2 8-7 6-1 5 6 7 4 8-1 4-8 6-2 9 5 7 0 0-6 1-8 6-4 8 3 7 1 6 6 8 5-2 6 4 8 10-3 7-3 6-6 1-8 2-7-1-10 4-6 5-5 0-9-6-5-7-5-10 1-5-6-8-3-2-8-8 4-8-1-4-7-8-5-6-3-2-8-8-3-1-8-7-6-8-4-8 0-6 6 7 7 3 6 0 9-2 7 1 8-6 4-7-2-10 2-5 6 7 5-2 8 2 9 0 7 6 4 8 6 9 3 4 3 6 8-1 8-7 5-6 2-9-3-5-1-6-7-6-5 1-7 0-9-3-6-9-6-7 3-8 4-7 3 2 8 7 1 8 6 6 2 9 4 4 7 7 3 9 2 5-6 9-4 4 2 10 0 7 2 8-3 9-4 5 8 5 3 6 7 7-2 5 8-4 4-6 9-3 6-3 8-2 10-2 7-9-4-7 6-6 0-8 3-8-4-7-3-4-4-5-6-10 2-4-8 3-7-8-7-5 4-6 7-8-3-3 8-1 8 8 5 4 7 4 6 8-1 4-8 2-7 6-5 1-8 7-4 5 3 11 0 9-2 4-5 7-2 9 0 8-1 5 5 2 8-9-3-7 2-8-1-5-4 0-9-4-8-6-3-4-7-2-8-9-2-6-3-10 1-7-6-8 4-5 4-1 7 1 9 4 7 2 7 2 8 6 2 1 9 7 6 5-3 6 6 3 8 7-4 0-8 6-5 4-7 7-4 6-7 6 0 9-2 7-4 9 0 5-5 5 5 5 8-4 6-8 2-7-3-8-4-5 5-8 3 5 8-4 5-6 5-8 3-9 1-3-8-7 0-9 4-2 6 2 8 8-5 1-5 2-10-8-4-6 0-2-8-1-8 9-2 0-9-4-5-8-4-6-6 5-6 7-4 7 1 3-6 0-9 1-7-5-5-4-9-8-3-6-1-9 2-7 2-5 8 8 2 8 2 2 7 3 8 4 6-9 8 6 4-2 6 0 9-3 6-8 5-6 2-5 6-4 8-5 5 5 7 8 6 8-4 3-6 8-2 2-7 3-7 0-7 4-7 10-1 5-6 0-9 3-7-3-8 3-8 0-7 6-6 7-1 6 6 7 6 1 7-3 9-1 9 5 5 3 6 2 8 4 9 0 6 8 4 2 9 4 6-5 7-3 9-5 4-6 7-6-6-1-7-6-5 3-12 1-5-4-6-8-5-4-6-3-10 0-8-4-4-6-8-8-2-3-5 0-9-3-7 0-9 0-8 2-7 5-6 7-5 7 1 8-5 5-4 7-6 6 3 8-2 8 4-6 3-4 8-10-1-5 6-2 8-5 6 7 6-5 6 0 9 0 9 1 7 9-1 3-9 8 6 1 7 2 8-7 4-6 0-8-1-10-2-8 2-5-6-9 4-7-2 1-8-2-7 2-7-3-8-3-7 0-8 1-7-3-10-7-3 1-8-5-7 2-5 6-4 7-1 7-4 7-4 8-1 3-8 9-3 4-7 2-6 4-7 7 6 5 7 2 7-2 7 7 5-4 4-6 8 0 9 3 6-5 7-5 6-5 5 3 7 7 7 5 6 4 4 7 6 3 7-3 7-2 10-4 5-2 10-6 3-8-4-4-5-9 0-5 4 3 8 10 0 8 0 5 5 5-5-2-9-2-7-2-9 1-8-1-6-5-7 6-8 7-1 7 3 10-1 6-4 2-7 1-9-1-8 9-5 1-8 7 4-5 7" fill="none" stroke="#d80000" stroke-width="7.2" stroke-linejoin="round"/></svg>
<svg x="368.3" y="507.8" width="48.5" height="55.7"><path transform="scale(0.25)" d="M36 61l4-6 8-1 8-6 3-7 5-6-5-8 6-3 8-3 5 6 8 3 6 6 7-3 7-3 9-1 8-4 8 0 5 3 1 8-6 2-5 6-7 2-6-5-9 0-7 3-9 1-7 1-6 8 0 8-1 8 8 6 6 5 5 6 6 4 7 1 9 0 6 4 7 2 9 2 2-8 1-7 5-9 3-6 7 1 7 7-1 8-3 7-5 5-9-3-4-3-9-4-6 7-6 3-9-3-7-1-2-8 1-8 3-6-4-9-5-5-10 1-2-9-8-1 4-7 5-7 2 7 1 7 4 8-3 8-6 6 5 6 8-4 3-7-7-5-3-7 6-6 0-9 5-6-8 0-8 3-9-2-8 2-8-4 0-7 9-2 4 8 4 7 0 8 7 4-3 7-2 9-7-2-7-3-7 1-7-3-9 0 0-9 2-9 7-4 8-2 5 6 6 3 9 1 6 1 7-8 7 4 7 1 9-2 8-2 2-9-5-4-5-8-10-4-3 8-8 3-8 2-6 5-8 2-4 7-4 7-1 8 6 6 1 9 6 5 5 4 6 5 9 3 7 0 7 5 7 5 7-3 9-1 6-3 9 0 2-8 3-7 5-6-8-5 3-7-2-9-6-4-8-1-4 6-2 6-9 3-7 4-7-5-4-5-6 5-8 1-10 2-4-6-3 10-10 2-5-4-8-2-8-1-6-2 2-11 7-1 8 5 1 5 6 10 8 0 5-1 8-2 7-5 8 3 4 8-2 8 0 8 3 7 4 8-6 3-9 5-7 2-7 0-8-1-3-6-10-4-7-1-8-1-7-3 1-10 1-8-8-2 2-9 3-6 7-5 6-3 5-6 8 1 3 7M27 190l6-13 5-9 4-13 8-10 6-10 7-12 3-9 7-14 5-10 5-10 7-1 3 8-6 12-7 9-4 12-5 10-8 11-5 11-7 10-4 12-7 12-5 10 3 6 7-3 5-11 6-10 5-11 7-12 4-8 5-11 7-8 5-11 5-10 6-12 7-1 4 5-7 10-6 12-5 8-5 12-6 12-5 10-7 10-4 10-5 11-8 11" fill="none" stroke="#d80000" stroke-width="7.2" stroke-linejoin="round"/></svg>
<svg x="421.9" y="507.8" width="48.6" height="55.7"><path transform="scale(0.25)" d="M104 42l8-5 6 0 4-7 9-4 7-2 5 5 2 9 3 8-2 8-9-1-3-7-9 1-10-2 7-9 6-5-3-8-5 8 0 5-3 8 4 7 10 0 7 0 2 7-3 8-5-6-8-3 0-9-3-5-9 2-8-4-2-5-10-3 3-9 9-1 6 5 4 5 6 4 8 1 7 1 4 7 3 7 5 8-8 3-6 2-4 8-6-2-6-3-8 2-9-2-4 8-9 1-6-2-7-8-5-5-10 2-1-7 2-8 8-2 6-6 9-1 7 1 7 3 2 6-5 6-3 8 6 2 7-1 8-3 8-6 3-8 2-7 2-9 7-2 7-2 8-3 8 1M15 190l5-11 8-9 5-12 10-9 5-12 7-12 8-11 7-11 6-11 7-12 7-9 8-11 8-12 6 0 1 8-8 12-5 10-9 11-4 10-8 11-6 10-6 10-7 11-8 10-4 9-9 12-5 11-6 10 2 7 1 6 8-10 6-11 8-10 6-11 7-10 6-11 8-11 6-11 9-10 6-10 5-12 8-10 5-11 9-1 2 10-6 9-7 11-8 9-5 10-6 10-8 11-5 10-7 10-7 10-7 11-5 8-7 12-8 11M83 37l12 2 13 0 12-1 15 1 10-2 13 1 13 0 13-1 5 8-5 6-15 1-14 0-12 0-15 0-12-1-15 0-14 0-12 1" fill="none" stroke="#d80000" stroke-width="7.2" stroke-linejoin="round"/></svg>
<svg x="474.5" y="507.8" width="48.1" height="55.7"><path transform="scale(0.25)" d="M105 64l-8 0-7 5-9-5-2-6-8-4-5-5-8-2-6-6-4-6 4-7 5-5 8-4 7-4 7 3 3 7 7 2 6 6 6-5 9 1 7-1 5 6 6-1 7-3 8-1 8 4 8 3-6 7-8 4-4 5-1 8-8-3-2-9-1-8 3-5 4-9-5-6-9 1-7 5-6 2-8-2-7 6-8 3-8 1 0-10 8-2 7-1 4 7 1 9 5 6-3 8-5 4-7-3-7 0-5-6 4-7 7-4 5-5 10-2 6 4 9 3 6 2 6 5 5-6-3-6 9-4 5 4-4 6-2 8 0 7 0 8 3 8 6-4 8-4-1-9-1-7-4-7-2-7-10 0-7 3-3 9-7 4-7 3-8 1-4-7-9 0-7 1-6 2-8-3M11 194l9-9 5-13 8-11 5-9 6-11 8-9 4-13 9-8 8-12 5-9 7-13 7-10 5-9 7-13 8 0 6 4-8 11-8 9-4 11-5 11-8 9-6 10-7 11-8 10-7 11-4 11-7 10-6 10-7 9-7 12 3 7 4 6 7-11 6-10 6-10 7-12 9-8 3-11 6-11 8-12 7-9 6-11 7-12 5-8 7-13 6-9 9-1 1 9-7 9-4 10-9 11-5 9-8 11-4 11-8 9-6 10-4 7-9 12-5 9-5 9-8 12-5 9M54 26l15 2 14 1 13-2 14 1 13-2 14 2 15-1 12 0 15 0 4 6-9 7-13-2-11 4-14-2-9 0-17 0-10 0-13-1-11 2-13 0" fill="none" stroke="#d80000" stroke-width="7.2" stroke-linejoin="round"/></svg>
<svg x="527.3" y="507.8" width="48.1" height="55.7"><path transform="scale(0.25)" d="M91 34l9 0 6 4 8-1 9 0 7 5 6-2 10-1 5-2 9-2 7-4 7 6 2 9 6 2 5 8-2 8-4 3-8 4-6-4-9-6 1-6-3-9-4-5-8-6-2-6-5-8-5-4-6-5-10 0 4 6 9 0 5 4 7 5 7 5 9 0 5-6-7-3-5 6-4 7-10-3-6-1-8-1-7-3-8 2-1 9 0 6 7 7 6 6 6-6 7-4 7 7 6-2 9-4 6-6-5-8-8 4-2 6-4 7-8 4-8 0-2-10-7 1-7 0-1 8 0 10-7 2-3 10-5-7-6-6-5-5 5-5 6 4 7 5 4-7-1-7 2-9 3-8 5-5 1-8 9-3 8-3 7-2-1 9-1 7 6 8 6-1 6 7 1-8M19 193l5-11 7-10 5-11 7-10 6-11 4-10 7-11 5-10 7-13 7-9 4-9 6-12 6-10 6-11 7-1 8 1-8 9-5 11-6 11-6 11-7 11-5 11-7 12-4 9-8 11-5 12-5 11-8 11-6 10-5 11 2 7 6 1 7-12 7-11 5-12 4-10 7-11 7-10 7-11 5-11 7-11 5-13 8-10 6-8 6-13 6-11 7-1 1 12-4 8-7 10-7 11-5 11-5 11-6 10-7 9-5 12-5 10-8 10-5 10-5 10-7 12-8 10M83 26l12 1 10 0 12 1 11 0 12-2 12 0 13 2 8-1 6 6-3 7-12 0-12 0-10 1-13-1-11 0-14-3-9 3-15 2" fill="none" stroke="#d80000" stroke-width="7.2" stroke-linejoin="round"/></svg>
<svg x="580.6" y="507.8" width="48.5" height="55.7"><path transform="scale(0.25)" d="M100 22l6 6 1 8-1 7-7 0-6 6 5 8-4 4-8 4-6-7-6-6-4-3 1-6 4-9 2-8 7-4 6 1 3 8 0 6 1 9 8 6 0 6-2 8-7 6-6-5-9 4-6-5 0-8 7-5 5 6 6 4 7 5 8 0 7-1 8 3 6-4 0-8 4-7 9 2 7 2 7-3-2-9 2-7-6-7-7-1-8 2-1 8-6 6-1 6-4 9-1 8-10 0-4 7-6 4-8-2-5-6-8-3-2-6 4-7 8-4 4-6 4-7 5-5 5-6 9-2 8 4 0 6 0 8 8-3 7 4-5 4-4-7-2-8-8-1-8-3-8 1-6 5-8 2-7 9-3 5-6 4 8 6 8 0 6 4M19 195l6-11 4-10 7-11 8-12 4-9 7-11 6-9 7-11 6-11 4-11 7-10 8-11 5-10 6-10 6-11 7-1 7 1-7 12-6 12-7 12-7 9-6 11-7 10-4 13-7 10-9 11-4 8-8 14-6 8-5 13-7 10-5 10 1 8 11-5 5-11 8-9 5-11 6-8 6-13 5-9 5-12 9-11 4-9 7-10 7-12 6-9 6-12 5-10 7-9 7-1 3 6-8 11-5 11-6 9-7 10-4 12-6 10-7 10-6 10-6 13-6 9-6 10-8 10-5 11-5 10-9 9M68 33l14-1 15-3 11-1 16-2 14-2 13-1 13-2 15-2 6 6-10 10-13 0-14 1-10 2-14 2-11 2-13 0-15 3-11 0" fill="none" stroke="#d80000" stroke-width="7.2" stroke-linejoin="round"/></svg>
<svg x="634.0" y="507.8" width="48.4" height="55.7"><path transform="scale(0.25)" d="M124 47l7-1 9-1 7-2-7-7-2-8-7-3-7 2-6 7 2 6-3 8-4 6-5 5-9 5-8 1-4 7-8 1-4-6-5-7-2-8 4-5 8-2 8 1 7-4 7-5 8 3 6 0 6 7-8 5 1 8 5 8 4 5 6 7 9 0 4-5 5-7-1-8 3-8-8-5-7 4M13 190l9-10 5-9 9-10 4-13 5-11 9-8 7-9 7-11 7-11 5-11 7-10 9-11 4-11 8-9 6-11 8-1 2 8-7 10-6 10-8 11-7 11-8 10-5 11-7 10-6 11-6 9-5 9-8 13-8 10-6 8-8 12-4 9 1 8 13-6 3-12 7-10 8-9 5-9 8-11 6-10 5-10 6-9 7-11 7-9 6-10 6-10 8-10 5-8 7-10 7-1 7-1-7 12-6 8-9 12-5 12-7 8-8 11-6 13-9 11-5 9-7 13-8 10-8 11-5 10-9 11-5 12 1 7 10-5 8-10 6-11 8-10 5-11 7-10 7-13 7-9 7-11 6-11 7-10 9-9 4-11 8-10 5-13 8-8M19 212l8 0 10 2 6 2 6 3 5-8 8-1" fill="none" stroke="#d80000" stroke-width="7.2" stroke-linejoin="round"/></svg>
<svg x="687.5" y="507.8" width="48.5" height="55.7"><path transform="scale(0.25)" d="M99 34l4 8 5 6 7-5 9 1 8-1 4 9 4 5 0 7 5 7 4 6 8-5 7-3 2-7 1-8 5-6-4-6-1-10-7 0-10 0-1-9-6-3-10 4-6 4-4 6-7 4-6 5-9 1 4-6 5-5 4-9 6 4 9 2 6 4 3 8 2-6 8 3 7-3 9 5-5-7-2-9-7 6M17 191l7-11 8-10 4-10 9-9 6-12 7-11 6-8 7-12 8-9 7-14 5-8 7-10 5-12 8-10 8-11 7 0 6 1-7 10-7 12-7 11-7 11-7 12-8 9-7 12-8 11-5 12-12 11-4 11-7 10-7 13-6 11-10 10 3 7 8-3 8-9 7-13 7-8 5-11 8-10 6-10 7-11 8-12 8-11 7-10 5-9 7-13 6-11 7-11 7-8 9-2 5 1-8 11-5 8-7 14-7 12-7 8-7 11-9 12-5 11-6 10-9 11-7 10-6 12-8 10-8 13-8 9 4 7 5 3 6-11 8-8 6-13 7-9 6-10 9-12 6-10 6-14 7-8 9-14 6-6 7-12 6-12 9-9 6-10M19 212l2-8 5 7 9-2 10 1 5 3 9-2 5-6" fill="none" stroke="#d80000" stroke-width="7.2" stroke-linejoin="round"/></svg>
<svg x="740.0" y="507.8" width="48.4" height="55.7"><path transform="scale(0.25)" d="M168 37l-7-2-7-7-8 4-6 3-7 4-4 8 8 3 9-2 5-2 1-9 8-5 9 3 5 5 5 8-6 4-6 4-9-6-1-7-1-8 6-6 2-8 0-6 5-7-4-10-8 1-6 0-5 6M13 190l6-8 5-12 9-8 4-12 6-9 9-10 6-10 7-9 5-9 10-11 4-11 8-10 7-8 5-11 8-9 7-11 7-9 6-1 2 6-5 10-9 10-5 11-7 11-8 10-7 10-6 10-9 10-5 11-8 8-8 10-5 12-7 9-5 9-8 11-7 9-5 11 1 7 5 1 7-11 9-11 6-11 8-10 6-9 9-13 7-9 5-10 8-13 6-8 9-10 7-11 8-10 6-10 7-12 7-10 6-11 9-1-1 11-6 10-8 10-6 9-6 10-8 10-6 10-6 9-7 12-8 9-7 9-3 10-10 10-6 10-7 10-5 9-8 11-6 10 2 7 6-2 8-9 5-9 8-11 8-11 6-9 7-11 6-9 6-8 9-13 5-11 9-8 7-11 5-10 6-10 8-8 7-12 7-11M93 16l13-1 13 1 15-1 11 0 16 1 10 0 6 6-4 6-13 0-13 1-13 0-11 1-13 0-9-2" fill="none" stroke="#d80000" stroke-width="7.2" stroke-linejoin="round"/></svg>
<svg x="208.3" y="570.2" width="47.5" height="54.3"><path transform="scale(0.25)" d="M132 142l-6 6-7 3-9 1-5 7-7-5-3-8-5-5 1-8 0-9-1-7-11 2-5-5-7 5-8 0-8 1-3-7-9 3 0-9-3-8-5-5-9-2-7 2-2 8-3 8 8 4 6 6-4 6 8-4 8 0 7 4 7 2 7 2 8 5 7-5 8-4 8 0 6-2 8 1 7-4 8 4 7 0 7 4 8-3 7-2 6 3 0 8-3 7-6 6 5 8-7 8-6-5-4-7-5-6-3-5-5-7-5-7-7-1-7-5-3-6-1-7-2-9-8 0-9-3 0-7 0-7-8-2-4 9-8-3-2-8 8-5 3-9 3-5 7-1 8 2 8-2 4 7 3 6-1 9 5 9 0 7-4 7-2 7-7-2-3-7-5-5-8-4-6-6-9 0-5-6-8 0-6-6-6-6 0-7 3-8-2-7 2-7 8 2 7-4 8 0 9-4 4 5 5 6 0 7 2 9 0 8 6 6 6-1 9 2 8 4 5 6 6 6 7 0 6 4 7 5 9-3 7 2 5 6 2 9-2 5-8 3-7-5-7 3-5 6-4 7 2 7-5 6-8-2-8-5-5-3-7 5-8 1-9-1-8 0-6-1-10-1-8 2-8 2-5-4-9 0-7 2-8-4-5-6 3-7 5-7 5-4 8-5 8-2 7 0 5-8 7-1 9 0 2-6 2-8-7 2-5-6 5-7-1-8 6-1 8-4 8-5-1-9 7-1 6-6-7-5-3-7 1-7-2-9-10 0-5-3-5-9-8-2-6-1-6 4 0 8 5 5 9 1 5 6 4 8 8-2 3 7 7 5 9 3 7-3 5-6 5 7-8 2-5 2-6 7-4 7 1 8 6 6 3 8-2 7-2 9 0 7 9 4 3 7-5 6-4 8-6 8-4 2-3 9 0 8-4 6-8 2 8 1 3 8 7 0 9 1 5 5-8 2-5-2-7-6-7-7-7 0-6-5-3-7-9-4-7 2-3-6-3-9-3-6-5-9-2-7-2-8 1-7-4-8 1-6 4-8 7 1 6-1 8-2 5 5 3 8 6 5 8 2 9-1 7 0 7-1 5-7 8 1 7 5 4 5 1 9-2 6 7 4 4 8 5 3-2 10-7 4-5 6 1 6 7 6 3 9-1 7-8 2-5 6-4 6-4 6-9 2-6-3-7-4-5 9-5 4 0 8 5 4 6-4 4-9 4-6 0-7-2-10-5-3 1-10-3-7-3-6 4-7-9-4-8 1 0-9-3-7 4-6-1-8-5-7 2-8 4-6 0-8-6-9-5-7-7 1-8-3-6 5-3-6 3-6 0-10-7-1 4 7 2 6 4 8 0 7 0 10 4 4 6 6 7-2 7 5 7 5 7 2 1 8 1 7 5 7 4 6 4 9-2 8-2 7 9 3 4 7 1 9-5 7-6 1 0 9-5 7 6 3 9 4 7-4 5-5 7-5 2-7 1-8 5-6 6-6-5-6-6-8 8-5 3-7-6-7 8-6 4 3 7-6-6-2 2-9 6-5 3-9 4-8 0-7-5-7-5-8 6-6-5-5-2-8-8-1-7-2-9 0-7 1-6-6-7-5-8 2-6-3-9 1-6 4-6 4-3 10 6 2-1 10 3 7-3 8-2 7-2 8 0 7-9 1-2-6-7-3-3-8-1-9-7-3 2-7 0-7-5-7 1-8 7-4 3-6 6-8 9-2 4 9 7-1 9 0 8 1 7 6 5 6 7 3 7 3 5 6 1 10-4 7 8 3 7 4 9 0 6 4 2 8-9 1-5 7-2 7-8 1-6-4 0-7-5-7-7 0-7-6-5 7-6 6-6 3-7 5-4 6-9 0-6 5-5 5-4 9-7 2-8-1-2-9 6-2 6 4 6 7 5 6 8 0 6 3 6 4 7 4 7-8 5 0 10 1 7 0 1-8-1-7 3-8 0-7 5-8 8-2 8-1 7-1 8-1 9 1-2 9-7-4-5-6-1-8-9-3-5-5-7 2-5 7-3 5-6 7 10 2 1 8-5 4-8 4-8 0-9 2-2-6 2-6-7-4-7-9-2-7 1-7-4-6-4-8-1-7 5-5 9-5 5-6-2-8-9-3-4-5-9-5-5-4-4-6 5-5 7-7 8-1 7-2 4 8 6 2 7 5 6-3 9-2 4 6 3 6 3 8 8 4 2 8 2 8 7 5 7 2 7 2 6 6 7 5 2 8-5 6 7 3 6 6-2-7 5-7-1-10 1-6-7-8 1-6-7-4-6 6-7 1-8 1-6-2-8-5-8-5-5-4-5-8 3-7-9 0-6-1-6-7-8 3-7-4-8-1-8 0-5-4-4 8 1 7-9 0-2 9-1 7-4 6-9 5-4 4 1 9 2 9-2 7 1 8 8 4 4 8 4 5 6 4 8-3 9 2 5 2 0 9-6-3-7-5-9 2-5 6-5 6-2 7 5 7 5 6-10 3-1-7 7-3 4-8 1-8 2-8 5-8 2-5 2-9 6 4 8 2 9-1 7 0 7 7 8-2 7-2 6-3 9-2 5 4 9 2 7 3 7 4 8-1 5-5 2-8-6-1-9 4 0 7 1 9-3 7-5 8 3 7M152 65l2-7 5-7 9 1 6-3 8-3 1-8 6-7" fill="none" stroke="#0010c8" stroke-width="6.8" stroke-linejoin="round"/></svg>
<svg x="260.5" y="570.2" width="49.0" height="54.3"><path transform="scale(0.25)" d="M67 66l2 8 8 2 5 7 7 5 7-3 7-6-1-9 4-5 8-3 2 8-8 0-2 5-8 4-7 5-3 8-7 5-4 3-4 10-2 8-9 0-5 3-8 3-4 7-8 2-6-5-6-3-3-8-2-9 2-5 2-7 2-9 8-1 3 8 8 0 7 2 8-2 5 5 7 8 7 3 5-4 8 4 5 4 6-2 2-7-2-8-7-7-4-7-7-3-8 5-6 1-8-2-7-4-9-5 0-7-7 4-4 8-7 7-5 4-6-2 7-4 5-2 7 5 8 1 6 3-3 6-7 7 6 5 9 2-1 8 3 7 7 3 5 7 0 7 8 3 7-7 10-4 3-6 6-4 9 1 7 2 4-8-5-7-4-6-8-3-2-8-8-4-2-7 3-7 0-8-3-7-7-3-6-4-6 2-8 4 4 5 5 8 7 0 9 1 8 3 6-1-3 7 0 10 6 3 2-8 6-5 6-4 10 1 3-7 4-6 7-1 9 1 4 10-7 0-10 3-5 4-3 8-6 5 0 9-7 3-8 4-6 4-1 9-7 1-6-3-1-8 5-6-5-5 1-8-6-7-8-4-1-10 4-6 1-8-3-7-4-7-3-8 0-8 3-8 7-4 5-8 6-1 9 3 6 1 7 3 1 10-1 8 2 7-5 7-5 7 0 7-8 1-4 7 0 9 7 5 0 7 3 8-1 7-3 9-7 4-2 9-9-2-7 3-9 0-7 6 6 5-2 9-9-1 2 7-1 8 1 9 2 7-1 7 4 9 6-4 3-9-1-8-5-6 4-7 0-7 1-9-1-6-5-7 0-7-4-9-9 0-5-7 8-3 8-2-4 8 4 6-2 6-1 9 3 6 7 1 8 1 5 8 3 8-6 6 2 8 7 4 7 4 5-1 8 1 8-4 5-3 2-10-2-8 2-7-9-8 2-6 2-8-7-6-5-7 1-6-4-9 1-8-5-4-8-6-9 1-5-6-6-5 2-7 5-7 5-6 5-6 3-8-2-7-8 0-1 8-3 5 4 6 9 4 8 1-1 8-5 6-8 2-8-3-7 6-5 3 0 11 3 8 2 6-3 7-4 8 0 8 8 4 0 7-4 8-1 6 10 2 4-5 5-9 0-6-3-5-6-8 0-9 5-5 4-5 3-8-1-6 4-8 7-7 2-7 8 2 7-4 9 2 7-1-2-8-8 0-5 6-8 7-5 3-7 2-5 8-1 7-9 4-8 3-5 4-10 5-5 4 6 7 2 7-1 9 4 6-1 7-8 3-7-3-7 4-8 1 1-6 2-8 11 0 6-3 6 5 5 7-3 7 7 3 7 5 5 7 7-6 6-3 6-7 8 1 5-5 7-1 7-2 9 1 6-6-7-5 9-3 4-8 7-4-6-3-8-3-7-3-7-9-5 8-7-2-6-2-8-3-7 9-7 0-6 4-8 2-8 1-3 9-3 7-1 7-7 5-7 2-7-4 1-10 8-3 2-7 8-5 6-5 6-8 3-5 5-6 5-8-5-7-2-6 3-8 7-6 4-3 8 4 4 9 4 6 3 7-4 7-7 4-11-1 0-7-6-4-9 4-7 5 10 2 1 10 0 6 2 6-3 8-6 6-7 1-2 9-4 6-1 8-6 5-3 9 6 6 4 3 7-5M118 109l7 3 7 5-1-9 6-6 7-1 7-7 6-2 8 3 7 0 9 2" fill="none" stroke="#0010c8" stroke-width="6.8" stroke-linejoin="round"/></svg>
<svg x="314.6" y="570.2" width="48.5" height="54.3"><path transform="scale(0.25)" d="M62 18l5 6 7 2 3 9-1 6-2 8 0 8 3 9 5 5 4 8 8 0 7-2 6-4 9 1 4 7 7 5 7 3-3 6-2 7 0 9 4 7 5 4 7 6 6 1 5 8 1 8-7 4-7-2-7-2-6-5 3-8 0-9-4-7-6-4-6-7-7-3-4-8-8-4 1-6-4-9-6-5 5-6 6-5-9-3-7 2-1-7-7 0-7 4-4 9-3 7 5 5 6 6 5 6 7-3 7 5-1 7 1 7-9 4-4 4-8 3-3 9 7 8 8-1 5-7 3-7 3-7 5-6 8-3 5 4 8 5 2 8 3 7-7 3 4-8-6-6 3-6-6 5-10 2-7-1-9-2-1-6 6-8 7-3 3 8 1 7 8 2 6 4 6 8-4 7-1 10 2 8-5 6-3 7-3 7-8 0-10-1 4-8-1-9 0-8-2-6-2-8 3-8-4-5-6-5-3-8-3-8-7-5-7-4-8 0-2-9-9-1-4-7-1-8-8-3-6 4-2 6 5 6 5 8 3 8 9-2 5 5 5 7 0 8 6 4 3 8 8 4 5 7 7 2 5 5 7 7 6 4 5 6-10 0-5-4-9-2-4-7-2-6-4-5-8-5-1-9 1-7 0-9-8-3-5-3-2-7 2-7-1-8 5-6-1-7-9 0-2-6 2-9 6-6 5-5 5-4 9 0 8 5 7-2 6 8 7 3 6 7 8-5 6 3 7-4 5 4 5 5 4 8 1 9-5 5-6 5-10 1-5 5-5 5 6 8 9 1-4 9-9-2-8 0-6-2-9 5-6 5-7-2-6-4-10 1-6 2-4 5-9 2 0-8-6-5 2-9-7-4-7 5-2 8 1 7 7 5 4 8-2 10 0 6 10-3 6 6 5-7 5-5 4-6 9-4 6-5 4-6 1-7 8-5-3-8 6-6 4-6-2-8-6-5-5-7-5-6-2-7-8-1-5-6-4-5-2-8-3-7-7-6-5-6 7-6 7-2 6-7 6-4 4-6 4 5 10 2 7 3 4 7 0 6-1 7-7 6-4 7-4 7-4 5-3 8 0 8 4 7 4 5 6 5 8 5-3 7 2 8 5 6 9 5 3 6-2 6-5 8 3 7-4 8-3 8-2 6-9-1 4 6 2 8 1 10-5 5 2 9 1 7-3 8-3 7 10 0 5-2 3-7 0-8-3-9-4-6-1-8 0-8 7-4 4-7-3-8 7-5-6-7 0-9-6-7 3-7 8-2 5-5 5-6 6-5-5-4-9 1-5 7-3 5-7-5-8-2-2-9-6-4-7-6 3-6 7-5 1-8 9 3 4 7 6 3 7 5 5 6 7 4 5 7 8 1 7 5 1 7-1 8 3 8-7 5-6 1-7-5 2-7 2-7-7-5-5-6-4-7 0-8-2-7-7-5 2-8-3-6-2-8-3-9-1-7-9 0-5 4-1 8-1 7-10 0-6 2-9 3 0 8-2 8 2 7 3 7-1 8 3 9 3 6 4 7 5 4 8 6-1 8-1 6-7 3-3 7 1 10-5 6-4 8-3 5-2 8 0 7 7 1 6-5-1-8 1-8 6-3 9 0 8 2 6-1 8 1 6-6 6-7 1-8 7-5 7-1 8-2 4-6-2-7-4-5-9-1-4-8-7-3-3-6-7-4-5-8-3-7-5-7-8-4-5-4-4-7 6-8-3-6 3-7 8 4-5 6 6 7 2 10 0 5 1 8 2 8-2 9-8 4 1 9-1 9 5 6-2 7-3 7 2 8-5 8 0 6-2 9 7 2 7 4-4 10-9 1-1 7 6 4 6-1 6-4 9 1 7-1 6-6 6-3 5-7 0-7 3-7 3-9 8-3-1-7-2-8-9-3-3-7 6-5-2-7 1-8 1-7 7-2 8 3 5-7-4-8 3-7 1-9 4-6-6-6-1-9-1-7-4-6-8-2-4-5-9-2-7 2-8-1-9-3-5 3-6 6-6 5-8 4-6 3-7 6-6-2-5-8-6-5-4 9-6 2M116 109l7-3 8 0 8 3 8-2-6-6-1-8 5-9 2-7 7-3 6-5 7-6 1-7 7-5 9 1 6 2" fill="none" stroke="#0010c8" stroke-width="6.8" stroke-linejoin="round"/></svg>
<svg x="368.3" y="570.2" width="48.5" height="54.3"><path transform="scale(0.25)" d="M27 150l1-8 7-6 2-8-1-7 5-3 9-2 7-1 4 5-5 7-8 2-5 5-6 7-5-4 6-3 7-4 0-8-5-5-7 2-8-3-5 6-2 10 5 6 6 5 2 7-3 7 2 9 5 5 8 3 8 2 8-4 9 0 1-9 3-6-5-6 2-8 4-6 4-8 8-3 6-6-4-5-7-3-7-4-6-7 7-4 3 9 2 5 7 6 7 3 6 5 9 2 6-4 8-1 5 8 5 7 4 7 8 5 4 7-5 7-3 6-5 7-7 2-5 7-7-1 1-10-7-5-5-7 1-8-4-6-8-3-4-4-3-8 1-8-4-5-3-9-1-7-3-9-3-8-6 2-8 5-2 7 3 7 7 2 5-7-2 9-3 7 6 6 5 5 6 7 6 4 7 5 7-7 2 7 6 9-1 7 1 8-3-7-10-5 0-7 0-9 4-7 1-8 5-4 7-5-3-7-1-9 4-5 7-8 6-2 5 8 1 8-1 7-7 6-7 2-9-1-8 1-8-1-8 1-8-1-5 6-7 4-5 5-7 5-1 8 4 6 4-7 9-4 5-6 1-6-7-5-8 3-8 0-8 0-7-4-4 8-3 7 4 5M82 106l8-11 9-11 7-13 7-11 8-11 7-13 6-9 9-12 8-2-1 12-7 12-8 11-5 9-9 11-5 11-9 10-5 9-8 12M146 22l6 1 9 2 3-8 6-3 4 8 9-1M0 195l5-4 7-3 10-2 7-2 6-4 9 1-3-6 6-7 6-2" fill="none" stroke="#0010c8" stroke-width="6.8" stroke-linejoin="round"/></svg>
<svg x="421.9" y="570.2" width="48.6" height="54.3"><path transform="scale(0.25)" d="M113 184l-5-4-8-6-2-7-6-7-5-5-1-9-7-7-3-6-4-5-10 0-4-1-8 1-9 2 2 9-5 6 5 6 4 6 4 7 7 5 5 7 9-5 7 0 8 5-4 6-4 7-8-1-7 1-5-5-4-9-4-5 0-8 7 0 8 5 6 3 8 2 8-5-1-7-8-2-8 2-7-4-5-7-10-3-7 3-3 8 4 5 0 9 4 4-5 7-5-6-4-9 0-5-4-8-1-8 1-7 7-6 6-2-2-7 1-8 6-4 4 6 9-2 3 6 5 7 9 2 6-4 8 3 7 3 8 0 8 1 8 0 8 1 7 0 4 8 1 9-3 5-7 7-7 2-9 3-7-1-6 7-6 4-9 1-4 6-8 5-5-7-9-3-3-6-7-3-8-5-6-2-9-5 1-6-2-9-5-6-8-3 8-6 6-5 9 0 6 2 8 0 7 3 7-1 9 5 7 3 1 8 6 4 8 2 8-1 7 0 0 9 7 6 1 6 5 8 8-4-2-7-3-8-2-8-7 0-9 0-9-1-4 6-4 6-7 4-8 4-8-2-7 2-7 4-8-1-7-7 0-8-2-6-8 2 9 2 6 5 8 1 5 8-3 6 7 3 8-3 5-6 9-1 7-5 4-4 9-5 3-5 8 3 7 2 4-6 9-3-9-4-1 9-8 5-6 2-5 5-8-3-8-4-7-3-4-6-7-1-5 5-6 5-5-6-6-7 4-8 7-3 9-1-1 7 1 9 2 9 5 5 4 8-8 3-8 2-8-2 1-7-3-7-7-1-8 3-5 5 3 8 6 4M70 142l8-12 7-11 5-9 7-12 5-12 8-12 8-10 5-11 6-11 9-10 5-11 6-11 8-2 0 12-5 8-7 9-7 14-5 12-7 10-7 11-6 10-6 11-8 10-6 11-5 11-8 10M117 163l4 5 0 9 8 2 7-4 9-1-3 9 3 6 6 7 7-3 7-8-5-4 3-10 6-6 4-4-1 7 8 6-5 5 3 5" fill="none" stroke="#0010c8" stroke-width="6.8" stroke-linejoin="round"/></svg>
<svg x="474.5" y="570.2" width="48.1" height="54.3"><path transform="scale(0.25)" d="M107 152l1 8-8 5-6 3 8 2 8-4 7-2 4 7 6-4 6-7 7-3 1 9 0 7-6 8-7 4-1 6-7 4-6 6-7-1-4 10-9 1 1-11-2-6-5-6-6-5-4-8 2-9-7-7-4-5 3-7 6 6 4 5 6 6 8-3 6 5 5 5 6 5 5 5 7-6 7 2 9 1 4-7 5-7 3-7 0-8 0-7-4-7-7-3-9-3-3-6 1-7-8-1-7 2-6-5-6-4-8 1-9 2-5 5 3 7 2 9 3 6-7 3-7 1 1 8 1 10-3 5 1 9-4 7-3 9-5 2-4 6-2 8-8 4-7 3-3-9-4-7-4-7-5-6-4-6-1-8 1-8 6-7 8 0 8-3 8 3 7-2 8 1 2 8 7 6 6 4 8-1 9 4 7-2 4-7 9-4 6-2 0 7-9 5-3 7-5 7-6 0-7-1-7-6-2-8 2-8 8 2 7-2 8 1 8 1 6 2 8 6 7-2 7-6-2-9-7-1-6 5-7 3-7-2-5 9 2 8-8 4-7-2-5 7-7 7-6 1-7 4-8-1-7-2-8-3-5-8-7-6 1-8 3-8 5-4 8-5 7-3 7-4-5-8-5 0-6 7 0 8 5 7 8 0 4-7 4-7 9-1 7 1 9 0 4 7-1 7-4 7-2 8-4 7-4 6-8 5-1 8-3 6-9 0-1-7 0-8 4-7 6-7-7-5-1-9-7-3 2-8-3-7 1-9 3-8 3-8 4-4 7-6 6 5 7 5 7 2 5 7-5 8-5 6-9-1 0 8-3 6-9 2-9-3-7 5-8 2-8-1 0 10M83 134l6-10 7-12 6-11 7-8 8-14 5-9 7-11 5-12 6-10 8-11 5-11 6-10 9-2-1 13-5 11-8 9-4 11-9 12-4 12-8 8-7 14-7 9-6 11-6 12-5 10-7 12M115 174l4 7 7 4 3-6 11 1 5-8 6-2 7-4-1-7 2-8 6-6 1-7 9 4 5 8-1 7 1 7" fill="none" stroke="#0010c8" stroke-width="6.8" stroke-linejoin="round"/></svg>
<svg x="527.3" y="570.2" width="48.1" height="54.3"><path transform="scale(0.25)" d="M111 156l-4-5-8-3-9-2-7 2-7 1-9 0-5 8-7 5 5 6 8 6 8 3 3-9 6-1 3-7-6-5 1-10 6 2 6 6 3 7 5 9 8 2 6 7 7 1 9-2-3-7-7-1-6-2-8-3-6 6-6 6-1 6-5 7-1 10-8-2-3-7 1-6 0-10-6-4 1-7 0-6 7-5 5-7 5-4 6-5-1-9 4-6 8-3 4 6 7 4 6 3 6 9-1 5 0 8-5 8 3 5-3 7 2 9 3 8 7-2-6-7-4-5-8-4-7-1-8-4-9 0-2-8-9-3-5-4-6-5-8 0-9 0-6 4-7 6-7 5-5 4-9 2-5-1-10 2 2 8 2 7 3 9 5-6 9 1 9-2 8 3 0-7 4-6 8-4 8-1 9 2 0 7-6 7-5 5-6 5-7 2-2-9 4-6-5-5 7-8 3-7 7-2 3 7 6 7-2 8-5 6-8 0-4-6-6-4-5-7-7 1 4-9 2-5 6-7 7-1 7 6-2 7 2 10 5 5 0 8-6 7-6 5-8-2 7-7 6-1 9 2 8-3 6-4 5-3 8-3 8-4 9 0 6 0 8 4 8-1 6-5-2-8-8-3-7-1-8 1-7-4-7-6-7-2-9 3-8 1-7 2 2 8 3 8-2 9-2 6-7 4-7-1-3-6 2-9 0-9-7-4 0-8-9-3-5 2 0 8-3 10M71 138l6-10 6-8 8-11 7-12 6-10 8-8 6-9 7-11 7-11 7-11 6-11 7-10 5-7 10-3 0 13-8 8-7 9-5 11-6 10-7 8-6 12-6 10-9 9-5 10-7 8-6 11-6 10-9 10M115 185l6-5 6-5 9-2 8 3 7 0 7-1 9-3 7-3" fill="none" stroke="#0010c8" stroke-width="6.8" stroke-linejoin="round"/></svg>
<svg x="580.6" y="570.2" width="48.5" height="54.3"><path transform="scale(0.25)" d="M97 149l-8-3-4-5-6-4-10-4-5 8-7 1-8-1-9 1-4 6-7 7-5 3-7 4-3 7-1 8-6 4-5 7-1 9 10 2 6-4 9-4 5-3 7-3 2 6 5 8 8 1 2-9 0-9 0-7-7-3-6-6-7-3-6-9-4-5-6 2-8 4 0 8-4 8-3 7 1 9 8-1 5-4 7 4 8-5 7-1 8-5 9-1 6 7 4 5 2 10-8 1-4-6 7-5 7-3 1-6-7-6-1-7 0-7 0-9 6 4 8 6 5 3 7 4-1 8-3 9-4 7-4 3-8 4-7 5-9 1-7-3-6-3-3-6-9 1-5-6-2-8 4-8 8-3 5 7 3 7 9 1 7 3 8 5 8-1 6 0 9-1 9 2 3 6 6 8 5 0 7 1 10-3 1-8 5-4 5-7-7-4-5 6-1 8-7 7-6 0-7-4-8-2-8 4-7-3-5 8-9 1-8 2-6-4-8-2-9-1-5-6-7-2-7-8-7-1-6-4-6-4-7-5-4-6 6-6 4-6 8 0 6-1 1 8 9 0 6-4 8 2 8-1 7-1 7-6 7 0 8 1 9 4 6 0 5 6 5 6-4 10 1 7-9 1-8 1-7 6-6 2-9 1-8-1-8-1 3-8 7-5 7-2 7-4 7 2 7 5 7 4 8 1 8-2 8-3 3-6 8-6 4-6-9 0-6-6-7 0-5 11 3 6-8 7 6 6-2 9 9 3-6 4-8 4-8-1-7 3-6-1-8-1-4-8 0-8-1-7 0-7-7-2M64 139l6-11 6-13 6-11 6-12 7-9 7-12 6-11 6-13 7-12 7-10 5-11 8-2 3 7-8 12-5 14-7 8-6 11-6 13-9 14-6 10-6 11-7 11-6 12-6 10M116 153l5-14 4-10 6-14 6-10 4-13 4-11 5-13 5-13 6-11 6-12 4-12 5-11" fill="none" stroke="#0010c8" stroke-width="6.8" stroke-linejoin="round"/></svg>
<svg x="634.0" y="570.2" width="48.4" height="54.3"><path transform="scale(0.25)" d="M89 189l9-2 6 5 8 1 7 2 9 2 5-5 0-7-6-7-5-6-5-5-9 1-4 4-7 4-8-6-8 2-7 1-8 0-8 3-6 3-10 2-2-6-8-4-9-2-1-10 5-7 5-1 6-10 3-4 3 7 8 4 2 6 8-1 7 5 6 7 8 0 9 2 6 3 6 5-2 8-9 1-6 3-5-7-5-5-9-1-3-10-5-6-6-3-10 2 2 6 6 4 10 0 6 2 4 7-1 7 5 7 8-2 7-2 9-5 5 7 7-6-1-7-1-8-8-1-7 5-6 4 1 7-4 6-8 1-8-6-8-4-6-5 4-7-8-5-8 2-6-4-4-7-8-5-6 3-6 5-2 9-5 6 4 7 2 7 5-5 3-8 8-3 6 5 7 0 2 8 5 6-1 8 7 5 9-1 6-2 6-6 5-7-4-9-6-4-8-6-5-4-2-8-1-8 9-2 6 3-1 9-1 8-6 4-6 8-2 6 1 6-3 8-9 2-6 2-6 5-9-7-4 6-7-4-1-7 5-4 7-6 3-8 7-2 2 6 9 1 7 1 8 3 3 8 7-1 9-1 8 4 2-8 2-8 7-2 9 2 8 0 5-3 0-10-8-2-5-5 5-7-4-6-4-6-10 0M64 126l8-12 6-7 8-10 5-11 8-10 6-10 8-9 7-8 7-12 8-10 6-8 7-2-1 12-7 11-7 9-6 10-7 9-7 7-8 12-6 12-7 7-9 11-6 10-8 9M104 156l6-10 5-12 7-12 6-10 7-11 5-13 6-11 8-12 4-9 9-14 5-9 6-12 8-10" fill="none" stroke="#0010c8" stroke-width="6.8" stroke-linejoin="round"/></svg>
<svg x="687.5" y="570.2" width="48.5" height="54.3"><path transform="scale(0.25)" d="M35 164l8-2 7-1 6-5 9-3 8 1 6-5 8 1 2 10 9 0 8 1 7-4-3-9-5-6-4-7-10-1-6 5-7 4 5 7 7 5 0 9 1 7-2 9 9 5 7 0 8-4-3-7-2-7-8 0-9 0-8 2-5 7-5-8-6-1-7 7-3 6-5 7 6-1 9 4 2-9 6-4 1-9 3-7-1-9 4-5 6-7 7-1 8-2 9-2 5-1 9-2 6 4-1 9 1 5-6 8-3 7-4 6 8 1 8-1-7-2-6-3-7-5-6-7-7-3-3-7-6-6-8-6-6 0-9-3-8 2-8 0-7 3-7 5 7 6 8 0 6 1 5 6 5-7 2-7 5-6 5-8 6-6 7 2 8 6 3 4 8 3 3 8 7 2 8 0 8 6-3 6-9 5-4 3-6 7-3 7-6-4-5-5-6-6-8-2-4-4-8-1-6-6-7 0-9-3-7 4-4 4-6 6-5 7-10 0 1 8 9 2-2-9-5-8 7-6 2-5 8-6 3 7 10-1 3 5 9 5 9-1 7 2 4-5 8-3 4-6 8 0 9 5-5 6-7 6 3 8-6 5-8 3-7-3-7 5-8 1-7 6-8 1-4-7-4-8 1-8-3-7-9 1-7-4-9 2-7 3-8 1 5-6 6 2 9-5 7 2 6 5 7-1 9 2 9 1 7-1 8 3 7-6 6 0 5-3-8-4-5-2-8 1-6 8-7 3-7 4-9 2-3-9-8-5M64 140l4-9 9-12 5-12 8-10 6-12 7-10 8-11 7-9 7-14 6-9 9-11 6 0 5 2-9 12-5 10-6 12-9 13-7 9-7 11-9 12-7 13-7 12-9 10-7 13M119 146l5-11 2-11 9-9 5-11 3-11 7-12 6-9 5-12 5-11 5-9 4-10 6-11 6-11" fill="none" stroke="#0010c8" stroke-width="6.8" stroke-linejoin="round"/></svg>
<svg x="740.0" y="570.2" width="48.4" height="54.3"><path transform="scale(0.25)" d="M73 172l-2 6-6 7-5-6 2-8-4-7-2-7 0-10 0-7-7-3-9 1-6 3-6 6 8 3 6 2 7 3 9-2 8 3 4-5 5-6-1-9-7-2-9-3-5-3-8 2-8-5-7-3-7 1-8 3-5 7 3 7-1 11-4 6 6 6 2 7 9-2 6-5 8 0 3-8 1-5 7-7 7-3 7 2 10 1 3 7 5 7 1 9-8 0-7 5-8 2-7 6-6 2-4 7-2 7 8 5 9-1 6 5 7 5 7 1 8 2 5-6 4-6 1-8-8-4-8 3-6-4-9-3-8-1-7-5-9-2-6-2-9-3 6-5 8 4 7 0 8 5 6 3 0 8-5 7 0 8-7 1-7-5-5-3M50 154l7-11 7-12 7-11 8-13 8-10 6-10 6-12 8-10 5-12 10-11 5-1 1 9-6 10-8 11-4 11-6 8-8 11-5 10-8 10-5 11-6 10-8 12M97 174l7 1 6 8-7 5-2 7 6 8 1 5 7 3 4-6 5-7 3-7 8-2 6-2 4-10 7-2 7 0 8-3 8 3 6 6 5 8 3 6-5 6" fill="none" stroke="#0010c8" stroke-width="6.8" stroke-linejoin="round"/></svg>
<rect x="169.4" y="43.0" width="23.6" height="26.7" fill="#fff" />
<text x="180.3" y="62.1" font-size="16.5" font-weight="bold" text-anchor="middle" >1</text>
<path d="M191,57 H203" stroke="#000" stroke-width="1.3"/>
<path d="M202.4,54.4 L208.1,57 L202.4,59.6 z"/>
<rect x="169.4" y="106.0" width="23.6" height="28.0" fill="#fff" />
<text x="180.3" y="125.1" font-size="16.5" font-weight="bold" text-anchor="middle" >2</text>
<path d="M191,119.8 H203" stroke="#000" stroke-width="1.3"/>
<path d="M202.4,117.2 L208.1,119.8 L202.4,122.4 z"/>
<rect x="169.4" y="168.0" width="23.6" height="27.4" fill="#fff" />
<text x="180.3" y="187.1" font-size="16.5" font-weight="bold" text-anchor="middle" >3</text>
<path d="M191,183 H203" stroke="#000" stroke-width="1.3"/>
<path d="M202.4,180.4 L208.1,183 L202.4,185.6 z"/>
<rect x="169.4" y="223.3" width="23.6" height="27.7" fill="#fff" />
<text x="180.3" y="242.4" font-size="16.5" font-weight="bold" text-anchor="middle" >4</text>
<path d="M191,237 H203" stroke="#000" stroke-width="1.3"/>
<path d="M202.4,234.4 L208.1,237 L202.4,239.6 z"/>
<rect x="169.4" y="283.9" width="23.6" height="27.1" fill="#fff" />
<text x="180.3" y="303.0" font-size="16.5" font-weight="bold" text-anchor="middle" >5</text>
<path d="M191,298.6 H203" stroke="#000" stroke-width="1.3"/>
<path d="M202.4,296.0 L208.1,298.6 L202.4,301.2 z"/>
<rect x="169.4" y="343.0" width="23.6" height="27.0" fill="#fff" />
<text x="180.3" y="362.1" font-size="16.5" font-weight="bold" text-anchor="middle" >6</text>
<path d="M191,355.7 H203" stroke="#000" stroke-width="1.3"/>
<path d="M202.4,353.1 L208.1,355.7 L202.4,358.3 z"/>
<rect x="169.4" y="403.9" width="23.6" height="28.0" fill="#fff" />
<text x="180.3" y="423.0" font-size="16.5" font-weight="bold" text-anchor="middle" >7</text>
<path d="M191,416.7 H203" stroke="#000" stroke-width="1.3"/>
<path d="M202.4,414.1 L208.1,416.7 L202.4,419.3 z"/>
<rect x="169.4" y="461.0" width="23.6" height="28.0" fill="#fff" />
<text x="180.3" y="480.1" font-size="16.5" font-weight="bold" text-anchor="middle" >8</text>
<path d="M191,473.2 H203" stroke="#000" stroke-width="1.3"/>
<path d="M202.4,470.6 L208.1,473.2 L202.4,475.8 z"/>
<rect x="169.4" y="522.4" width="23.6" height="27.6" fill="#fff" />
<text x="180.3" y="541.5" font-size="16.5" font-weight="bold" text-anchor="middle" >9</text>
<path d="M191,536.1 H203" stroke="#000" stroke-width="1.3"/>
<path d="M202.4,533.5 L208.1,536.1 L202.4,538.7 z"/>
<rect x="169.0" y="581.4" width="29.0" height="27.3" fill="#fff" />
<text x="183.5" y="600.5" font-size="16.5" font-weight="bold" text-anchor="middle" >10</text>
<path d="M196,594.8 H203" stroke="#000" stroke-width="1.3"/>
<path d="M202.4,592.2 L208.1,594.8 L202.4,597.4 z"/>
<path d="M168,332.9 H179" stroke="#ffc000" stroke-width="1.2"/>
<rect x="807.2" y="47" width="208.2" height="103.3" fill="#443c8c"/>
<g transform="scale(.1)" stroke-width="33" stroke-linecap="round" stroke-dasharray="0 33">
<path d="M8089 487h1M8221 487h1M9442 487h1M9871 487h34M10003 487h67M10135 487h1M8172 516h34M8270 516h34M9458 516h1M9887 516h133M10118 516h1M8155 544h1M8254 544h34M9475 544h1M9937 544h67M10069 544h34M8138 573h1M8204 573h67M9920 573h34M10052 573h1M8089 601h34M8188 601h67M9904 601h100M10102 601h1M8172 630h34M9227 630h1M9491 630h1M9887 630h1M9953 630h34M10052 630h34M8122 658h1M8188 658h1M8254 658h34M9211 658h1M9508 658h1M9871 658h1M9937 658h1M10036 658h1M8106 687h1M8172 687h133M9227 687h1M9524 687h1M9821 687h34M9920 687h100M8089 716h199M9244 716h1M9508 716h1M9805 716h1M9904 716h34M10102 716h34M8106 744h166M9524 744h1M9656 744h1M9788 744h1M9854 744h67M9986 744h100M8089 773h133M8320 773h1M9244 773h1M9541 773h1M9772 773h1M9871 773h34M9970 773h34M10069 773h67M8106 801h67M8270 801h34M9260 801h1M9557 801h1M9755 801h1M9821 801h34M9953 801h34M10052 801h34M8089 830h34M8221 830h34M9244 830h1M9706 830h34M9805 830h34M9904 830h67M10036 830h34M8138 859h34M8237 859h1M9260 859h1M9689 859h1M9788 859h34M9887 859h67M10019 859h34M8122 887h1M8287 887h1M9277 887h1M9673 887h1M9739 887h67M9871 887h34M9970 887h34M10135 887h1M8106 916h1M8237 916h1M9722 916h67M9854 916h133M10118 916h1M8089 944h1M8188 944h1M9706 944h34M9838 944h166M10069 944h34M8172 973h1M9722 973h1M9788 973h133M10052 973h1M8122 1001h34M9805 1001h67M10003 1001h34M10102 1001h34M8106 1030h1M8204 1030h1M9953 1030h34M10085 1030h1M8122 1059h67M9904 1059h34M10036 1059h34M10135 1059h1M8106 1087h67M9821 1087h67M9986 1087h67M10118 1087h1M8089 1116h67M8221 1116h1M9805 1116h1M9937 1116h34M10069 1116h34M8106 1144h34M8204 1144h1M9755 1144h34M9920 1144h1M10052 1144h1M8155 1173h34M9706 1173h34M9970 1173h34M10135 1173h1M8106 1201h34M8237 1201h34M9656 1201h34M9821 1201h1M9953 1201h34M10085 1201h34M8089 1230h1M8155 1230h34M9607 1230h34M9937 1230h1M10036 1230h34M8138 1259h34M9524 1259h67M9986 1259h34M8089 1287h67M9937 1287h1M10135 1287h1M8106 1316h1M8336 1316h34M9887 1316h34M10085 1316h34M8089 1344h1M8287 1344h34M9838 1344h34M10003 1344h34M8270 1373h1M9788 1373h34M9953 1373h34M10085 1373h34M8221 1401h34M8386 1401h1M9739 1401h34M9904 1401h34M10036 1401h34M8204 1430h1M8336 1430h34M9689 1430h34M9854 1430h34M9986 1430h34M10118 1430h1M8188 1459h1M8287 1459h34M8386 1459h1M9640 1459h34M9838 1459h1M9937 1459h34M10069 1459h34M8172 1487h1M8270 1487h1M8369 1487h67M9788 1487h34M9887 1487h34M10019 1487h34" stroke="#1010e8"/>
<path d="M8122 487h34M8353 487h34M8485 487h1M8716 487h1M8106 516h1M8336 516h34M8435 516h34M8666 516h34M8089 544h1M8320 544h34M8419 544h1M8650 544h1M8303 573h34M8402 573h1M8600 573h34M8287 601h34M8386 601h1M8584 601h1M8237 630h67M8567 630h1M8155 658h1M8221 658h1M8320 658h34M8518 658h34M8501 687h1M8666 687h1M8485 716h1M8468 744h1M8633 744h1M8452 773h1M8435 801h1M8567 801h1M8353 830h1M8419 830h1M8551 830h1M9508 830h1M8270 859h34M8468 859h1M9524 859h1M8221 887h34M8452 887h1M9541 887h1M8172 916h34M8402 916h34M9557 916h1M8155 944h1M9310 944h1M9574 944h1M8106 973h34M8204 973h1M8336 973h34M8089 1001h1M8188 1001h1M8320 1001h1M9607 1001h1M8138 1030h34M8270 1030h34M9623 1030h1M8089 1059h1M8254 1059h1M8650 1059h1M9640 1059h1M8204 1087h1M8633 1087h1M8699 1087h67M8188 1116h1M8518 1116h1M8617 1116h1M8716 1116h67M8172 1144h1M8567 1144h34M8699 1144h67M9260 1144h34M8089 1173h34M8221 1173h1M8452 1173h34M8716 1173h100M9310 1173h1M8172 1201h34M8435 1201h67M8699 1201h133M8452 1230h100M8716 1230h34M8848 1230h1M9013 1230h1M9343 1230h1M9409 1230h1M8435 1259h133M8699 1259h34M8798 1259h1M8864 1259h1M8930 1259h34M9029 1259h1M9359 1259h34M8452 1287h265M8815 1287h1M8881 1287h34M8980 1287h1M9046 1287h34M9442 1287h67M8435 1316h265M8765 1316h1M8831 1316h1M8930 1316h1M8996 1316h1M9095 1316h1M9359 1316h166M8452 1344h34M8650 1344h1M8782 1344h1M8848 1344h100M9013 1344h34M9112 1344h1M9310 1344h232M8435 1373h34M8666 1373h1M8732 1373h1M8798 1373h1M8897 1373h1M8963 1373h1M9062 1373h1M9128 1373h34M9293 1373h166M8419 1401h34M8683 1401h67M8815 1401h34M8914 1401h1M8980 1401h34M9079 1401h1M9178 1401h1M9277 1401h100M9508 1401h67M8435 1430h1M8732 1430h34M8864 1430h1M8930 1430h1M9029 1430h1M9095 1430h34M9194 1430h100M9425 1430h67M9590 1430h1M8749 1459h67M8881 1459h1M8947 1459h1M9046 1459h34M9145 1459h1M9244 1459h1M9343 1459h67M9541 1459h67M8633 1487h34M8765 1487h67M8897 1487h1M8963 1487h34M9095 1487h1M9161 1487h1M9293 1487h34M9458 1487h133" stroke="#9a00dc"/>
<path d="M8419 487h34M8617 487h1M8881 487h1M8402 516h1M8567 516h34M8732 516h1M8897 516h1M8386 544h1M8551 544h1M8683 544h34M8881 544h1M8369 573h1M8534 573h1M8666 573h1M8897 573h1M8353 601h1M8485 601h34M8617 601h34M8716 601h1M8336 630h1M8468 630h1M8600 630h1M8732 630h1M8897 630h1M8452 658h1M8584 658h1M8716 658h1M8848 658h1M8914 658h1M8336 687h1M8435 687h1M8534 687h34M8699 687h34M8864 687h1M8930 687h1M8419 716h1M8518 716h1M8749 716h1M8881 716h1M8947 716h34M8402 744h1M8501 744h1M8765 744h1M8897 744h1M8996 744h1M8353 773h34M8485 773h1M8617 773h1M8782 773h1M8914 773h1M9046 773h1M9112 773h1M8468 801h1M8633 801h1M8798 801h1M8930 801h1M8996 801h133M8452 830h1M8650 830h1M8815 830h1M8947 830h1M9013 830h133M8369 859h34M8534 859h34M8831 859h1M8930 859h1M9062 859h133M8353 887h1M8485 887h67M8650 887h1M8848 887h1M8914 887h34M9112 887h100M8303 916h34M8468 916h34M8567 916h1M8666 916h1M8864 916h1M8930 916h67M9128 916h100M8287 944h34M8419 944h67M8584 944h1M8683 944h1M8980 944h67M9178 944h67M8237 973h34M8402 973h67M8534 973h34M8699 973h34M8864 973h1M8996 973h67M9194 973h34M8221 1001h1M8353 1001h67M8485 1001h34M8617 1001h1M8749 1001h1M8881 1001h34M9046 1001h67M9244 1001h1M8336 1030h34M8468 1030h1M8567 1030h34M8765 1030h34M8930 1030h1M9095 1030h34M8287 1059h67M8419 1059h34M8518 1059h67M8683 1059h1M8815 1059h67M8980 1059h1M9112 1059h67M8237 1087h67M8402 1087h1M8501 1087h1M8831 1087h100M8996 1087h34M9128 1087h67M8254 1116h34M8353 1116h34M8452 1116h34M8683 1116h1M8815 1116h1M8881 1116h67M9046 1116h1M8237 1144h1M8336 1144h1M8435 1144h1M8666 1144h1M8831 1144h1M8930 1144h67M9062 1144h1M8287 1173h34M8386 1173h34M8518 1173h1M8683 1173h1M8848 1173h34M8947 1173h67M8369 1201h1M8534 1201h34M8666 1201h1M8864 1201h1M8996 1201h34M8122 1230h1M8221 1230h133M8419 1230h1M8584 1230h1M8683 1230h1M8782 1230h34M8881 1230h34M8106 1259h1M8204 1259h1M8402 1259h1M8600 1259h67M8765 1259h1M8831 1259h1M8897 1259h1M8188 1287h1M8419 1287h1M8749 1287h34M8848 1287h1M8138 1316h34M8402 1316h1M8798 1316h1M8864 1316h34M8963 1316h1M8122 1344h1M8353 1344h67M8518 1344h100M8683 1344h67M8815 1344h1M8106 1373h1M8303 1373h34M8567 1373h34M8699 1373h1M8765 1373h1M8831 1373h34M8930 1373h1M8089 1401h1M8287 1401h1M8518 1401h133M8782 1401h1M8881 1401h1M8947 1401h1M8237 1430h1M8402 1430h1M8501 1430h133M8798 1430h34M8897 1430h1M8963 1430h1M8221 1459h1M8353 1459h1M8419 1459h1M8485 1459h199M8848 1459h1M8914 1459h1M8980 1459h34M8204 1487h1M8303 1487h34M8468 1487h67M8600 1487h1M8699 1487h1M8864 1487h1M8930 1487h1" stroke="#ee1010"/>
<path d="M8320 487h1M8518 487h67M8650 487h34M8749 487h67M8947 487h133M9145 487h199M9409 487h1M8501 516h34M8633 516h1M8765 516h67M8963 516h34M9062 516h34M9161 516h1M9227 516h133M9425 516h1M8452 544h67M8584 544h34M8749 544h100M8947 544h67M9079 544h34M9178 544h1M9244 544h133M8435 573h67M8567 573h1M8699 573h34M8798 573h34M8963 573h34M9062 573h67M9194 573h1M9260 573h67M9392 573h1M9458 573h1M8419 601h34M8551 601h1M8683 601h1M8782 601h34M8947 601h67M9079 601h67M9277 601h133M9475 601h1M8369 630h67M8501 630h34M8633 630h34M8798 630h34M8963 630h67M9128 630h34M9293 630h133M8386 658h34M8485 658h1M8617 658h34M8782 658h34M8980 658h100M9178 658h1M9277 658h133M9475 658h1M8138 687h1M8369 687h34M8468 687h1M8600 687h34M8798 687h1M8996 687h133M9194 687h1M9293 687h199M8320 716h67M8452 716h1M8551 716h67M8815 716h34M9046 716h133M9310 716h100M9475 716h1M8303 744h67M8435 744h1M8534 744h67M8831 744h34M9095 744h100M9293 744h133M9491 744h1M8254 773h34M8419 773h1M8518 773h67M8650 773h1M8848 773h34M9145 773h34M9310 773h199M8204 801h34M8336 801h67M8501 801h34M8666 801h1M8864 801h34M9194 801h1M9326 801h133M9524 801h1M8155 830h34M8287 830h34M8485 830h34M8683 830h1M8881 830h34M9211 830h1M9310 830h133M8106 859h1M8204 859h1M8501 859h1M8666 859h1M8897 859h1M9326 859h34M8089 887h1M8155 887h34M8683 887h1M9343 887h1M8138 916h1M8699 916h1M8122 944h1M8716 944h1M8765 973h1M8782 1001h34M8831 1030h1M8468 1144h1M8402 1201h1M8386 1230h1" stroke="#e46464"/>
<path d="M8848 601h1M8963 859h34M8980 887h34M9029 916h34M8881 944h1M9079 944h1M8831 973h1M8897 973h34M9095 973h34M8947 1001h1M9145 1001h1M8864 1030h34M8963 1030h34M9161 1030h34M8914 1059h34M9013 1059h34M9211 1059h1M8963 1087h1M9062 1087h1M8980 1116h34M9079 1116h1M9029 1144h1M9095 1144h1M9046 1173h1M9112 1173h34M9062 1201h1M9161 1201h1M9046 1230h67M9178 1230h1M9128 1259h1M9194 1259h34M9145 1287h1M9244 1287h1M9161 1316h34M9260 1316h1M9211 1344h1M9227 1373h34" stroke="#eeee10"/>
<path d="M8848 487h1M8914 487h1M9112 487h1M8864 516h1M8930 516h1M9029 516h1M9128 516h1M8914 544h1M9046 544h1M9145 544h1M8765 573h1M8864 573h1M8930 573h1M9029 573h1M9161 573h1M8749 601h1M8881 601h34M9046 601h1M9178 601h34M8765 630h1M8864 630h1M8930 630h1M9062 630h34M8749 658h1M8881 658h1M8947 658h1M9112 658h34M8765 687h1M8897 687h1M8963 687h1M9161 687h1M8683 716h1M8782 716h1M8914 716h1M9013 716h1M8699 744h1M8798 744h1M8930 744h34M9029 744h34M8716 773h1M8815 773h1M8947 773h67M9079 773h1M8600 801h1M8732 801h1M8831 801h1M8963 801h1M8584 830h34M8749 830h1M8848 830h1M8980 830h1M8600 859h34M8732 859h34M8864 859h1M9029 859h1M8584 887h34M8749 887h34M8881 887h1M9046 887h34M8534 916h1M8600 916h34M8798 916h1M8897 916h1M9095 916h1M8617 944h34M8749 944h1M8815 944h1M8914 944h34M9112 944h34M8633 973h34M8963 973h1M9161 973h1M8650 1001h67M8980 1001h34M9178 1001h34M8666 1030h67M9029 1030h34M9227 1030h1M8716 1059h67M9079 1059h1M8666 1087h1M8798 1087h1M9095 1087h1M8650 1116h1M8848 1116h1M9112 1116h67M8501 1144h34M8633 1144h1M8798 1144h1M8864 1144h34M9128 1144h67M8551 1173h100M8914 1173h1M9079 1173h1M9178 1173h34M8600 1201h34M8897 1201h67M9095 1201h34M9194 1201h67M8617 1230h34M9145 1230h1M9211 1230h67M9161 1259h1M9260 1259h34M8947 1287h1M9178 1287h34M9277 1287h34M9227 1316h1M9293 1316h34M8980 1344h1M9244 1344h34M8996 1373h34M9046 1401h1M8666 1430h34M8996 1430h1M9062 1430h1M8716 1459h1M9112 1459h1M8732 1487h1M9029 1487h34M9128 1487h1" stroke="#44e028"/>
<path d="M9640 487h67M9689 516h34M9508 544h34M9706 544h34M9557 573h1M9722 573h34M9574 601h1M9739 601h34M9623 630h1M9755 630h34M9640 658h1M9656 687h1M9574 716h1M9673 716h1M9590 744h1M9689 744h1M9607 773h1M9623 801h1M8386 830h1M8336 859h1M8435 859h1M8320 887h1M8386 887h34M8270 916h1M8369 916h1M8221 944h34M8353 944h34M8518 944h34M10135 944h1M8303 973h1M8501 973h1M10085 973h34M8254 1001h34M8452 1001h1M8551 1001h34M9970 1001h1M10069 1001h1M8237 1030h1M8402 1030h34M8501 1030h34M8633 1030h1M10019 1030h34M8221 1059h1M8386 1059h1M8485 1059h1M9838 1059h1M9970 1059h34M8336 1087h34M8435 1087h34M8534 1087h34M9788 1087h1M9920 1087h34M8320 1116h1M8419 1116h1M9739 1116h34M9904 1116h1M10135 1116h1M8270 1144h34M8369 1144h34M9689 1144h34M10019 1144h1M10085 1144h34M8254 1173h1M8353 1173h1M9640 1173h34M9871 1173h34M10036 1173h67M8303 1201h34M9590 1201h34M9854 1201h67M10019 1201h34M9541 1230h34M9772 1230h100M9970 1230h34M8303 1259h67M9722 1259h100M9953 1259h1M8254 1287h133M9673 1287h100M8237 1316h67M8732 1316h1M9623 1316h100M8221 1344h1M9574 1344h100M10069 1344h67M8172 1373h67M8402 1373h1M8501 1373h34M8633 1373h1M9590 1373h34M10019 1373h34M8155 1401h34M8320 1401h34M8485 1401h1M9970 1401h34M8138 1430h34M8270 1430h34M8468 1430h1M9821 1430h1M9920 1430h34M8089 1459h67M8254 1459h1M8452 1459h1M9805 1459h1M9871 1459h34M8106 1487h34M8237 1487h1M8567 1487h1M9722 1487h34M9854 1487h1" stroke="#c0e0a8"/>
<path d="M9376 487h1M9739 487h1M9194 516h1M9392 516h1M9755 516h1M9211 544h1M9409 544h34M9772 544h1M9227 573h1M9359 573h1M9425 573h1M9788 573h1M9854 573h1M9244 601h1M9442 601h1M9805 601h34M9194 630h1M9260 630h1M9458 630h1M9821 630h1M9244 658h1M9442 658h1M9772 658h1M9260 687h1M9755 687h1M9211 716h1M9277 716h1M9442 716h1M9541 716h1M9739 716h1M9227 744h34M9458 744h1M9557 744h1M9722 744h1M9211 773h1M9277 773h1M9574 773h1M9706 773h1M9838 773h1M10036 773h1M9161 801h1M9227 801h1M9293 801h1M9491 801h1M9590 801h1M10019 801h1M10118 801h1M9178 830h1M9277 830h1M9475 830h1M9541 830h1M9607 830h34M10003 830h1M10102 830h34M9227 859h1M9293 859h1M9425 859h34M9557 859h1M9623 859h1M9986 859h1M10085 859h34M9244 887h1M9310 887h1M9376 887h1M9442 887h34M9574 887h1M9640 887h1M9937 887h1M10036 887h67M9293 916h1M9392 916h1M9458 916h34M9590 916h1M9656 916h1M10019 916h67M9409 944h1M9475 944h34M9607 944h1M9673 944h1M10036 944h1M9293 973h34M9425 973h1M9491 973h34M9623 973h1M9689 973h1M9953 973h67M9277 1001h34M9442 1001h1M9508 1001h34M9640 1001h1M9739 1001h34M9904 1001h34M9326 1030h1M9458 1030h1M9524 1030h34M9656 1030h1M9722 1030h1M9854 1030h67M10118 1030h1M9343 1059h1M9475 1059h1M9541 1059h34M9673 1059h1M9871 1059h1M10102 1059h1M9359 1087h1M9491 1087h1M9590 1087h1M10085 1087h1M9376 1116h1M9508 1116h1M9574 1116h34M10003 1116h34M9392 1144h1M9524 1144h1M9953 1144h34M9409 1173h1M9541 1173h1M9937 1173h1M9425 1201h67M9475 1230h1M9425 1259h1M9491 1259h1M9920 1259h1M9343 1287h67M9871 1287h34M9821 1316h34M9772 1344h34M9491 1373h67M9722 1373h34M9854 1373h1M9409 1401h67M9673 1401h34M9805 1401h34M9326 1430h67M9524 1430h34M9623 1430h34M9755 1430h34M9277 1459h34M9442 1459h67M9706 1459h67M9194 1487h1M9260 1487h1M9359 1487h67M9623 1487h67" stroke="#38e0e0"/>
<path d="M8188 487h1M8254 487h34M9772 487h1M9838 487h1M8138 516h1M8237 516h1M9788 516h1M9854 516h1M8122 544h1M8188 544h34M9805 544h1M8106 573h1M8172 573h1M9491 573h34M9821 573h1M9887 573h1M8155 601h1M9508 601h34M9871 601h1M8106 630h34M9524 630h67M9854 630h1M9920 630h1M8089 658h1M9541 658h67M9805 658h34M9904 658h1M9557 687h67M9788 687h1M9887 687h1M9607 716h34M9772 716h1M9838 716h34M9970 716h34M9623 744h1M9755 744h1M9821 744h1M9953 744h1M9640 773h34M9739 773h1M9805 773h1M9937 773h1M9689 801h34M9788 801h1M9887 801h34M9673 830h1M9772 830h1M9871 830h1M9491 859h1M9656 859h1M9722 859h34M9854 859h1M9508 887h1M9706 887h1M9838 887h1M9326 916h34M9524 916h1M9689 916h1M9821 916h1M9343 944h34M9541 944h1M9772 944h34M9359 973h34M9557 973h1M9755 973h1M9343 1001h67M9574 1001h1M9706 1001h1M9260 1030h1M9359 1030h67M9590 1030h1M9755 1030h67M9277 1059h1M9376 1059h67M9607 1059h1M9706 1059h100M9293 1087h1M9392 1087h67M9557 1087h1M9623 1087h133M9310 1116h1M9409 1116h1M9475 1116h1M9640 1116h67M9838 1116h34M9326 1144h1M9425 1144h67M9590 1144h67M9821 1144h67M9343 1173h1M9442 1173h67M9607 1173h1M9772 1173h67M9359 1201h1M9524 1201h34M9722 1201h67M9376 1230h1M9508 1230h1M9673 1230h67M9904 1230h1M9623 1259h67M9854 1259h34M9541 1287h100M9805 1287h34M9557 1316h34M9755 1316h34M9706 1344h34M9656 1373h34M9607 1401h34" stroke="#e464e4"/>
<path d="M9475 487h133M9805 487h1M9937 487h34M10102 487h1M9491 516h166M9821 516h1M10052 516h34M9574 544h100M9838 544h67M10036 544h1M10135 544h1M9590 573h100M9986 573h34M10085 573h34M9607 601h100M10036 601h34M10135 601h1M8699 630h1M9656 630h67M10019 630h1M10118 630h1M8683 658h1M9673 658h67M9970 658h34M10069 658h67M8831 687h1M9689 687h34M10052 687h67M8650 716h1M8716 716h1M9706 716h1M10036 716h34M8666 744h1M8732 744h1M10118 744h1M8683 773h1M8749 773h1M8699 801h1M8765 801h1M9656 801h1M8716 830h1M8782 830h1M9574 830h1M8699 859h1M8798 859h1M9392 859h1M9590 859h1M8716 887h1M8815 887h1M9409 887h1M9607 887h1M8732 916h34M8831 916h1M9260 916h1M9425 916h1M9623 916h1M8782 944h1M8848 944h1M9277 944h1M9442 944h1M9640 944h1M8600 973h1M8798 973h1M9260 973h1M9458 973h1M9590 973h1M9656 973h1M8848 1001h1M9475 1001h1M9673 1001h1M9293 1030h1M9491 1030h1M9689 1030h1M8617 1059h1M9244 1059h1M9310 1059h1M9508 1059h1M8600 1087h1M9227 1087h34M9326 1087h1M9524 1087h1M8551 1116h34M9211 1116h67M9343 1116h1M9442 1116h1M9541 1116h1M9227 1144h1M9359 1144h1M9557 1144h1M9244 1173h34M9376 1173h1M9574 1173h1M9293 1201h34M9392 1201h1M8947 1230h34M9310 1230h1M9442 1230h1M10102 1230h34M8237 1259h34M8996 1259h1M9062 1259h34M9326 1259h1M9458 1259h1M10052 1259h67M8221 1287h1M9013 1287h1M9112 1287h1M9970 1287h133M8204 1316h1M9029 1316h34M9128 1316h1M9953 1316h100M8155 1344h34M8254 1344h1M9079 1344h1M9145 1344h34M9904 1344h67M8138 1373h1M8369 1373h1M9095 1373h1M9194 1373h1M9887 1373h34M8122 1401h1M9112 1401h34M9211 1401h34M9871 1401h1M10102 1401h34M8106 1430h1M9161 1430h1M10052 1430h34M9178 1459h34M10003 1459h34M10135 1459h1M9227 1487h1M9953 1487h34M10085 1487h34" stroke="#6464e8"/>
</g>
<rect x="807.2" y="47" width="208.2" height="103.3" fill="none" stroke="#2020c0" stroke-width="0.8"/>
<rect x="807.7" y="199" width="207.7" height="103.4" fill="#443c8c"/>
<g transform="scale(.1)" stroke-width="33" stroke-linecap="round" stroke-dasharray="0 33">
<path d="M8193 2007h1M8144 2036h34M8127 2064h1M8111 2093h1M8094 2121h1M8523 2407h1M8589 2407h1M8506 2436h100M8704 2436h1M8490 2464h133M8688 2464h1M8754 2464h100M8539 2493h67M8737 2493h1M8556 2521h34M8688 2521h34M8787 2521h1M8671 2550h34M8803 2550h1M8523 2579h100M8688 2579h1M8787 2579h1M8638 2607h34M8737 2607h34M8869 2607h1M8523 2636h1M8721 2636h1M8853 2636h1M8572 2664h133M8770 2664h1M8836 2664h34M8523 2693h1M8589 2693h67M8754 2693h1M8853 2693h1M8704 2721h67M8754 2750h34M8605 2779h34M8869 2779h1M8622 2807h1M8688 2807h1M8853 2807h1M8704 2836h34M8836 2836h1M8886 2864h1M8836 2893h34M8869 2950h34" stroke="#1010e8"/>
<path d="M9315 2007h1M9480 2007h1M9612 2007h1M9331 2036h1M9496 2036h1M9595 2036h1M9249 2064h1M9315 2064h1M9480 2064h1M9612 2064h1M9232 2093h1M9331 2093h1M9496 2093h1M9628 2093h1M9249 2121h1M9348 2121h1M9612 2121h1M9331 2150h1M9496 2150h1M9249 2178h1M9348 2178h1M9513 2178h1M9265 2207h1M9364 2207h1M9496 2207h1M9249 2236h1M9348 2236h1M9513 2236h1M9265 2264h1M9364 2264h1M9282 2293h1M9381 2293h1M9265 2321h1M9364 2321h1M9282 2350h1M9381 2350h1M9298 2379h1M9397 2379h1M9315 2407h1M9298 2436h1M9216 2464h1M9216 2521h1M9216 2579h1M9232 2607h1M9298 2664h1M9628 2664h1M9315 2693h1M9612 2693h34M9628 2721h34M9760 2721h1M9315 2750h1M9546 2750h34M9645 2750h34M9777 2750h1M9562 2779h34M9661 2779h34M9546 2807h67M9678 2807h34M9810 2807h1M9298 2836h1M9562 2836h67M9694 2836h34M9826 2836h1M9315 2864h1M9579 2864h67M9711 2864h34M9843 2864h1M9331 2893h1M9595 2893h67M9727 2893h34M9381 2921h1M9612 2921h67M9744 2921h34M9628 2950h67M9760 2950h1M9348 2979h1M9678 2979h34M9777 2979h34M9364 3007h1M9694 3007h34M9793 3007h1" stroke="#9a00dc"/>
<path d="M8853 2007h1M8836 2036h1M8853 2121h1M8869 2150h1M8886 2178h1M8902 2207h1M8919 2236h1M8671 2264h1M8935 2264h1M8688 2293h1M8952 2293h1M8671 2321h34M8968 2321h1M8688 2350h34M8985 2350h1M8638 2379h1M8704 2379h34M8968 2379h1M8721 2407h34M8985 2407h1M9051 2407h34M8770 2436h1M8968 2436h133M9166 2436h34M9331 2436h1M8985 2464h67M9117 2464h1M9183 2464h1M8902 2493h34M9001 2493h1M9166 2493h1M9430 2493h1M8985 2521h1M9051 2521h67M9282 2521h1M9166 2550h1M8985 2579h1M9150 2579h1M9001 2607h1M9067 2607h67M9331 2607h34M8919 2636h34M9018 2636h1M9183 2636h1M9381 2636h100M8902 2664h1M9001 2664h1M9232 2664h1M9430 2664h34M9694 2664h1M8919 2693h67M9249 2693h1M9414 2693h1M9579 2693h1M9711 2693h1M8935 2721h34M9232 2721h34M9397 2721h1M9562 2721h1M9727 2721h1M8952 2750h1M9216 2750h1M9381 2750h1M9744 2750h1M9265 2779h1M9529 2779h1M9760 2779h1M9183 2807h1M9249 2807h1M9381 2807h1M9777 2807h1M9975 2807h34M10107 2807h1M9166 2836h1M9232 2836h1M9793 2836h1M9958 2836h1M9216 2864h1M9414 2864h1M9810 2864h1M9942 2864h1M10140 2864h1M9232 2893h34M9826 2893h1M9925 2893h1M10123 2893h1M9084 2921h67M9282 2921h1M9843 2921h1M9909 2921h1M10107 2921h1M9067 2950h1M9166 2950h100M9331 2950h1M9892 2950h1M10090 2950h1M8919 2979h1M9018 2979h1M9315 2979h1M9876 2979h1M10074 2979h1M10140 2979h1M8968 3007h34M9133 3007h100M9826 3007h1M10024 3007h34M10123 3007h1" stroke="#ee1010"/>
<path d="M8325 2007h34M9645 2007h34M9744 2007h34M9843 2007h1M9942 2007h34M8308 2036h1M9727 2036h1M9826 2036h1M9892 2036h67M10123 2036h1M8259 2064h1M8358 2064h1M9678 2064h34M9777 2064h34M9876 2064h67M10107 2064h34M8242 2093h1M8308 2093h34M9661 2093h1M9727 2093h34M9826 2093h67M10090 2093h34M8193 2121h34M8292 2121h1M9678 2121h34M9810 2121h67M10074 2121h34M8176 2150h1M8275 2150h1M9661 2150h1M9760 2150h100M10057 2150h34M8160 2178h1M8226 2178h34M9711 2178h100M10041 2178h34M8144 2207h1M8210 2207h1M9694 2207h67M9991 2207h67M8094 2236h34M8193 2236h1M9975 2236h67M10140 2236h1M8176 2264h1M9925 2264h67M10123 2264h1M8127 2293h34M9876 2293h100M10107 2293h34M8111 2321h1M9826 2321h100M10057 2321h67M8094 2350h1M9777 2350h100M9942 2350h1M10041 2350h67M9826 2379h1M9991 2379h34M8457 2407h1M9942 2407h1M10008 2407h1M8407 2436h34M8391 2464h1M10008 2464h1M9793 2493h1M9760 2550h1M9777 2579h34M9826 2607h1M9843 2636h34M9892 2664h1M9909 2693h1M9925 2721h1M9942 2750h1M9958 2779h1" stroke="#e46464"/>
<path d="M8127 2007h34M8226 2007h34M8391 2007h34M8490 2007h1M8721 2007h1M10008 2007h1M10074 2007h1M8111 2036h1M8210 2036h1M8407 2036h1M8473 2036h34M8671 2036h1M8803 2036h1M9991 2036h1M10057 2036h1M8160 2064h34M8391 2064h1M8457 2064h34M8622 2064h34M8853 2064h1M9975 2064h1M10041 2064h1M8144 2093h1M8440 2093h1M8605 2093h1M8836 2093h1M8935 2093h1M9925 2093h34M10024 2093h1M8127 2121h1M8391 2121h67M8589 2121h1M8754 2121h67M9909 2121h1M10008 2121h1M8111 2150h1M8341 2150h34M8440 2150h1M8572 2150h1M8737 2150h34M8836 2150h1M9892 2150h1M9958 2150h34M8094 2178h1M8325 2178h1M8424 2178h1M8556 2178h1M8688 2178h100M8853 2178h1M9843 2178h1M9942 2178h1M8308 2207h1M8539 2207h1M8671 2207h1M8737 2207h67M8869 2207h1M9793 2207h34M9892 2207h34M8259 2236h34M8457 2236h1M8523 2236h1M8655 2236h1M8754 2236h67M8886 2236h1M9744 2236h34M9876 2236h1M8242 2264h1M8407 2264h34M8506 2264h1M8638 2264h1M8770 2264h67M8902 2264h1M9727 2264h1M9826 2264h34M8226 2293h1M8391 2293h1M8490 2293h1M8622 2293h1M8787 2293h67M8919 2293h1M9777 2293h34M8210 2321h1M8341 2321h34M8605 2321h1M8803 2321h67M8935 2321h1M9001 2321h1M8160 2350h34M8325 2350h1M8457 2350h1M8589 2350h1M8820 2350h67M8952 2350h1M8144 2379h1M8308 2379h1M8440 2379h1M8572 2379h1M8836 2379h34M8935 2379h1M10123 2379h1M8127 2407h1M8292 2407h1M8391 2407h34M8556 2407h1M8655 2407h34M8853 2407h34M8952 2407h1M9975 2407h1M10107 2407h34M8111 2436h1M8275 2436h1M8374 2436h1M8671 2436h1M8869 2436h34M9925 2436h1M9991 2436h34M10123 2436h1M8094 2464h1M8226 2464h34M8886 2464h34M9942 2464h1M10041 2464h1M8275 2493h1M8374 2493h1M8671 2493h1M9958 2493h34M10057 2493h1M8259 2521h1M8325 2521h34M8490 2521h1M8655 2521h1M8820 2521h67M9777 2521h1M10008 2521h1M10074 2521h34M8210 2550h34M8308 2550h1M8473 2550h67M8638 2550h1M8770 2550h1M8836 2550h34M9793 2550h34M10024 2550h1M10123 2550h1M8193 2579h1M8292 2579h1M8457 2579h1M8754 2579h1M8820 2579h67M9843 2579h1M10041 2579h34M10140 2579h1M8144 2607h34M8242 2607h34M8440 2607h1M8803 2607h34M9760 2607h1M9859 2607h34M10090 2607h1M8127 2636h1M8226 2636h1M8391 2636h34M8754 2636h67M9777 2636h1M9909 2636h1M10107 2636h1M8111 2664h1M8176 2664h34M8374 2664h1M8737 2664h1M8803 2664h1M9727 2664h1M9793 2664h1M9925 2664h1M10123 2664h1M8160 2693h1M8358 2693h1M8556 2693h1M8688 2693h34M8787 2693h34M9744 2693h1M9810 2693h34M9942 2693h1M10140 2693h1M8111 2721h34M8308 2721h1M8473 2721h199M8803 2721h34M9859 2721h1M9958 2721h1M10123 2721h1M8094 2750h1M8292 2750h1M8457 2750h1M8556 2750h166M8820 2750h34M9810 2750h1M9876 2750h1M9975 2750h1M10074 2750h34M8242 2779h34M8440 2779h1M8572 2779h1M8671 2779h166M9826 2779h1M9892 2779h1M10057 2779h1M10123 2779h1M8193 2807h34M8391 2807h34M8721 2807h100M9843 2807h1M9909 2807h1M10041 2807h1M10140 2807h1M8176 2836h1M8374 2836h1M8638 2836h34M8770 2836h34M9892 2836h1M9991 2836h34M10090 2836h34M8127 2864h34M8325 2864h34M8622 2864h1M8721 2864h1M9876 2864h1M9975 2864h1M10074 2864h34M8111 2893h1M8308 2893h1M8572 2893h1M8671 2893h34M9859 2893h1M9958 2893h1M10024 2893h67M8259 2921h34M8523 2921h1M8622 2921h34M9942 2921h1M10008 2921h67M8210 2950h34M8440 2950h34M8572 2950h34M8803 2950h34M9925 2950h1M9991 2950h67M8160 2979h1M8391 2979h34M8523 2979h34M8787 2979h1M9909 2979h1M9975 2979h67M8111 3007h34M8242 3007h1M8341 3007h34M8473 3007h34M8737 3007h1M8836 3007h67M9859 3007h34M9958 3007h34" stroke="#eeee10"/>
<path d="M8094 2007h1M8374 2093h1M8325 2121h34M10140 2121h1M8308 2150h1M8407 2150h1M9628 2150h1M10123 2150h1M8127 2178h1M8292 2178h1M8358 2178h34M9579 2178h1M9645 2178h1M10107 2178h1M8242 2207h34M8341 2207h67M9628 2207h34M10090 2207h1M8226 2236h1M8325 2236h67M9645 2236h34M10074 2236h1M8210 2264h1M8275 2264h100M9661 2264h34M10024 2264h34M8193 2293h1M8259 2293h100M9645 2293h34M10008 2293h1M8144 2321h34M8242 2321h67M9661 2321h34M9958 2321h34M8127 2350h1M8226 2350h67M9678 2350h34M9909 2350h1M8111 2379h1M8176 2379h100M9694 2379h34M9859 2379h34M10057 2379h1M8094 2407h1M8160 2407h100M8490 2407h1M9678 2407h34M9777 2407h67M8144 2436h100M8473 2436h1M9694 2436h34M9793 2436h1M9958 2436h1M8127 2464h67M8358 2464h1M8424 2464h34M9249 2464h1M9678 2464h34M9777 2464h1M8176 2493h1M8242 2493h1M8308 2493h34M8407 2493h1M8473 2493h1M9232 2493h1M9694 2493h34M8193 2521h1M8292 2521h1M8391 2521h1M8457 2521h1M9711 2521h34M8176 2550h1M8275 2550h1M8341 2550h34M8440 2550h1M9232 2550h1M9694 2550h34M8160 2579h1M8226 2579h34M8325 2579h1M8424 2579h1M9711 2579h34M8111 2607h1M8210 2607h1M8308 2607h1M8374 2607h34M9727 2607h1M9793 2607h1M8094 2636h1M8160 2636h34M8259 2636h34M8358 2636h1M9282 2636h1M9711 2636h34M9810 2636h1M8144 2664h1M8242 2664h1M8341 2664h1M8506 2664h1M9331 2664h1M9760 2664h1M9826 2664h34M8094 2693h34M8193 2693h34M8292 2693h34M8457 2693h34M9777 2693h1M9876 2693h1M8176 2721h1M8275 2721h1M8440 2721h1M9331 2721h1M9793 2721h34M9892 2721h1M8127 2750h34M8226 2750h34M8424 2750h1M8490 2750h34M9843 2750h1M9909 2750h1M10140 2750h1M8111 2779h1M8210 2779h1M8374 2779h34M8473 2779h1M9331 2779h1M9859 2779h1M9925 2779h1M9991 2779h1M10090 2779h1M8160 2807h1M8358 2807h1M8523 2807h34M8655 2807h1M9315 2807h1M9876 2807h1M9942 2807h1M10074 2807h1M8111 2836h34M8341 2836h1M8407 2836h1M8473 2836h34M8605 2836h1M9331 2836h1M9925 2836h1M10057 2836h1M8094 2864h1M8292 2864h1M8391 2864h67M8556 2864h34M8655 2864h34M9909 2864h1M10008 2864h34M8242 2893h34M8341 2893h67M8506 2893h34M8605 2893h34M8770 2893h1M9364 2893h1M9892 2893h1M9991 2893h1M8193 2921h34M8325 2921h1M8457 2921h34M8556 2921h34M8754 2921h1M9876 2921h1M9975 2921h1M10140 2921h1M8144 2950h34M8275 2950h34M8374 2950h34M8506 2950h34M8704 2950h34M9859 2950h1M9958 2950h1M10123 2950h1M8127 2979h1M8226 2979h1M8325 2979h34M8457 2979h34M8655 2979h34M8853 2979h34M9942 2979h1M10107 2979h1M8176 3007h1M8275 3007h34M8407 3007h34M8605 3007h34M9925 3007h1M10090 3007h1" stroke="#44e028"/>
<path d="M8292 2007h1M8457 2007h1M8523 2007h34M8655 2007h34M8754 2007h67M9711 2007h1M9810 2007h1M9876 2007h34M10041 2007h1M10107 2007h34M8242 2036h34M8341 2036h34M8440 2036h1M8539 2036h1M8605 2036h34M8704 2036h67M9661 2036h34M9760 2036h34M9859 2036h1M10024 2036h1M10090 2036h1M8094 2064h1M8226 2064h1M8292 2064h34M8424 2064h1M8523 2064h1M8589 2064h1M8688 2064h133M9645 2064h1M9744 2064h1M9843 2064h1M10008 2064h1M10074 2064h1M8176 2093h34M8275 2093h1M8407 2093h1M8506 2093h1M8572 2093h1M8638 2093h166M9694 2093h1M9793 2093h1M9991 2093h1M10057 2093h1M8160 2121h1M8259 2121h1M8490 2121h1M8556 2121h1M8622 2121h100M9744 2121h34M9942 2121h34M10041 2121h1M8144 2150h1M8210 2150h34M8473 2150h1M8539 2150h1M8605 2150h100M8803 2150h1M9694 2150h34M9925 2150h1M10024 2150h1M8193 2178h1M8457 2178h1M8523 2178h1M8589 2178h67M8820 2178h1M9876 2178h34M9975 2178h34M10140 2178h1M8111 2207h1M8176 2207h1M8440 2207h1M8506 2207h1M8572 2207h67M8704 2207h1M8836 2207h1M9859 2207h1M9958 2207h1M10123 2207h1M8160 2236h1M8424 2236h1M8490 2236h1M8556 2236h67M8721 2236h1M8853 2236h1M9810 2236h34M9909 2236h34M10107 2236h1M8111 2264h34M8473 2264h1M8539 2264h67M8704 2264h34M8869 2264h1M9760 2264h34M9892 2264h1M10090 2264h1M8094 2293h1M8424 2293h34M8523 2293h67M8721 2293h34M8886 2293h1M9744 2293h1M9843 2293h1M10041 2293h34M8407 2321h166M8638 2321h1M8737 2321h34M8902 2321h1M9760 2321h34M10024 2321h1M8358 2350h67M8490 2350h67M8655 2350h1M8754 2350h34M8919 2350h1M9414 2350h34M9975 2350h34M10140 2350h1M8341 2379h67M8473 2379h67M8671 2379h1M8770 2379h34M8902 2379h1M9430 2379h34M9760 2379h1M9925 2379h34M10090 2379h1M8325 2407h34M8622 2407h1M8787 2407h34M8919 2407h1M9381 2407h1M9447 2407h34M9876 2407h34M10041 2407h34M8308 2436h34M8803 2436h34M8935 2436h1M9364 2436h1M9430 2436h34M9826 2436h67M10057 2436h34M8292 2464h34M8952 2464h1M9381 2464h1M9447 2464h34M9810 2464h100M9975 2464h1M10074 2464h67M8111 2493h34M8210 2493h1M8440 2493h1M9397 2493h1M9463 2493h34M9826 2493h100M10024 2493h1M10090 2493h34M8094 2521h67M8424 2521h1M9480 2521h1M9810 2521h166M10041 2521h1M10140 2521h1M8111 2550h34M8407 2550h1M9859 2550h133M10057 2550h34M8094 2579h34M8358 2579h34M8490 2579h1M9876 2579h133M10107 2579h1M8341 2607h1M8473 2607h1M9925 2607h133M10123 2607h1M8325 2636h1M8457 2636h1M9942 2636h133M10140 2636h1M8275 2664h34M8407 2664h34M9958 2664h133M8259 2693h1M8391 2693h1M9975 2693h133M8210 2721h34M8374 2721h1M9991 2721h100M8193 2750h1M8325 2750h1M10008 2750h34M8144 2779h34M8308 2779h1M9793 2779h1M10024 2779h1M8094 2807h34M8259 2807h34M8210 2836h34M8193 2864h1M8144 2893h1M8094 2921h34M8193 2979h1" stroke="#c0e0a8"/>
<path d="M8589 2007h34M8572 2036h1M8556 2064h1M8473 2093h1M8539 2093h1M8523 2121h1M8506 2150h1M8490 2178h1M8473 2207h1M8688 2236h1M8655 2293h1M8622 2350h1M8605 2379h1M8638 2436h1M8737 2436h1M8655 2464h1M8721 2464h1M8506 2493h1M8638 2493h1M8704 2493h1M8770 2493h67M8226 2521h1M8523 2521h1M8622 2521h1M8754 2521h1M8572 2550h34M8737 2550h1M8655 2579h1M8721 2579h1M8506 2607h100M8704 2607h1M8490 2636h1M8556 2636h133M8473 2664h1M8539 2664h1M8424 2693h1M8341 2721h1M8407 2721h1M8358 2750h34M8341 2779h1M8506 2779h34M8325 2807h1M8457 2807h34M8589 2807h1M8275 2836h34M8440 2836h1M8539 2836h34M8869 2836h1M8226 2864h34M8490 2864h34M8754 2864h100M8176 2893h34M8440 2893h34M8737 2893h1M8803 2893h1M8902 2893h1M8160 2921h1M8358 2921h67M8688 2921h34M8787 2921h67M8111 2950h1M8341 2950h1M8638 2950h34M8770 2950h1M8094 2979h1M8259 2979h34M8589 2979h34M8721 2979h34M8820 2979h1M8210 3007h1M8539 3007h34M8671 3007h34M8770 3007h34M8935 3007h1" stroke="#38e0e0"/>
<path d="M8919 2007h1M9051 2007h1M9117 2007h1M9183 2007h34M9282 2007h1M9381 2007h34M9513 2007h1M9579 2007h1M8935 2036h1M9067 2036h1M9133 2036h1M9199 2036h100M9397 2036h34M9529 2036h34M9628 2036h1M8952 2064h1M9084 2064h1M9150 2064h1M9216 2064h1M9282 2064h1M9381 2064h34M9513 2064h1M9579 2064h1M8968 2093h1M9100 2093h1M9166 2093h1M9298 2093h1M9397 2093h34M9529 2093h1M9595 2093h1M8952 2121h1M9084 2121h1M9150 2121h1M9216 2121h1M9282 2121h34M9414 2121h34M9513 2121h1M9579 2121h1M9645 2121h1M8968 2150h1M9100 2150h1M9166 2150h1M9232 2150h67M9397 2150h34M9529 2150h1M9595 2150h1M8985 2178h1M9117 2178h1M9183 2178h1M9282 2178h34M9414 2178h34M9546 2178h1M9612 2178h1M9678 2178h1M9001 2207h1M9133 2207h1M9199 2207h1M9298 2207h34M9430 2207h34M9529 2207h1M9595 2207h1M9018 2236h1M9150 2236h1M9216 2236h1M9282 2236h34M9414 2236h34M9612 2236h1M9711 2236h1M9001 2264h1M9133 2264h1M9199 2264h34M9298 2264h34M9430 2264h34M9529 2264h1M9628 2264h1M9018 2293h1M9150 2293h1M9216 2293h34M9315 2293h34M9447 2293h34M9546 2293h1M9612 2293h1M9711 2293h1M9166 2321h1M9232 2321h1M9298 2321h34M9430 2321h1M9496 2321h1M9562 2321h1M9628 2321h1M9727 2321h1M9051 2350h1M9183 2350h1M9249 2350h1M9315 2350h34M9513 2350h1M9579 2350h1M9645 2350h1M9744 2350h1M9067 2379h1M9166 2379h34M9265 2379h1M9331 2379h34M9529 2379h1M9595 2379h1M9661 2379h1M9793 2379h1M9018 2407h1M9216 2407h1M9282 2407h1M9348 2407h1M9414 2407h1M9546 2407h34M9645 2407h1M9744 2407h1M9133 2436h1M9397 2436h1M9529 2436h1M9595 2436h1M9661 2436h1M9760 2436h1M9084 2464h1M9150 2464h1M9282 2464h67M9414 2464h1M9546 2464h1M9612 2464h1M9744 2464h1M8869 2493h1M8968 2493h1M9034 2493h1M9133 2493h1M9199 2493h1M9265 2493h67M9529 2493h1M9595 2493h1M9661 2493h1M9760 2493h1M8919 2521h34M9183 2521h1M9249 2521h1M9315 2521h34M9546 2521h1M9612 2521h1M9678 2521h1M8902 2550h67M9265 2550h100M9562 2550h34M9661 2550h1M9051 2579h67M9249 2579h298M9612 2579h1M9678 2579h1M9034 2607h1M9166 2607h1M9265 2607h34M9397 2607h166M9628 2607h1M9694 2607h1M8886 2636h1M8985 2636h1M9051 2636h1M9117 2636h34M9315 2636h34M9513 2636h34M9612 2636h1M9678 2636h1M8935 2664h34M9034 2664h1M9100 2664h1M9166 2664h1M9364 2664h34M9496 2664h34M9595 2664h1M9661 2664h1M8886 2693h1M9018 2693h1M9084 2693h34M9183 2693h1M9348 2693h34M9447 2693h67M9678 2693h1M8902 2721h1M9001 2721h1M9067 2721h67M9199 2721h1M9364 2721h1M9430 2721h67M9694 2721h1M8919 2750h1M8985 2750h1M9051 2750h1M9150 2750h34M9348 2750h1M9414 2750h34M9711 2750h1M8935 2779h100M9166 2779h34M9364 2779h67M9727 2779h1M8886 2807h1M8952 2807h1M9084 2807h34M9348 2807h1M9414 2807h34M9744 2807h1M8902 2836h1M9001 2836h1M9067 2836h1M9133 2836h1M9364 2836h100M9760 2836h1M9859 2836h1M8952 2864h34M9348 2864h34M9447 2864h1M9777 2864h1M8935 2893h67M9397 2893h67M9793 2893h1M9447 2921h34M9810 2921h1M9034 2950h1M9100 2950h34M9397 2950h1M9463 2950h34M9793 2950h34M8952 2979h34M9051 2979h34M9150 2979h133M9414 2979h1M9480 2979h34M9843 2979h1M9034 3007h1M9265 3007h34M9430 3007h1M9496 3007h34M9595 3007h1" stroke="#e464e4"/>
<path d="M8886 2007h1M8952 2007h67M9084 2007h1M9150 2007h1M9249 2007h1M9348 2007h1M9447 2007h1M9546 2007h1M8869 2036h34M8968 2036h67M9100 2036h1M9166 2036h1M9364 2036h1M9463 2036h1M8886 2064h34M8985 2064h67M9117 2064h1M9183 2064h1M9348 2064h1M9447 2064h1M9546 2064h1M8869 2093h34M9001 2093h67M9133 2093h1M9199 2093h1M9265 2093h1M9364 2093h1M9463 2093h1M9562 2093h1M8886 2121h34M8985 2121h67M9117 2121h1M9183 2121h1M9381 2121h1M9480 2121h1M9546 2121h1M8902 2150h34M9001 2150h67M9133 2150h1M9199 2150h1M9364 2150h1M9463 2150h1M9562 2150h1M8919 2178h34M9018 2178h67M9150 2178h1M9216 2178h1M9381 2178h1M9480 2178h1M8935 2207h34M9034 2207h67M9166 2207h1M9232 2207h1M9397 2207h1M9562 2207h1M8952 2236h34M9051 2236h67M9183 2236h1M9381 2236h1M9480 2236h1M9546 2236h34M8968 2264h1M9034 2264h67M9166 2264h1M9397 2264h1M9496 2264h1M9562 2264h34M8985 2293h1M9051 2293h67M9183 2293h1M9414 2293h1M9513 2293h1M9579 2293h1M9034 2321h100M9199 2321h1M9397 2321h1M9463 2321h1M9529 2321h1M9595 2321h1M9018 2350h1M9084 2350h67M9216 2350h1M9480 2350h1M9546 2350h1M9612 2350h1M9001 2379h34M9100 2379h34M9232 2379h1M9496 2379h1M9562 2379h1M9628 2379h1M9117 2407h67M9249 2407h1M9513 2407h1M9612 2407h1M9232 2436h34M9496 2436h1M9562 2436h1M9628 2436h1M9513 2464h1M9579 2464h1M9645 2464h1M9067 2493h34M9364 2493h1M9562 2493h1M9628 2493h1M9018 2521h1M9150 2521h1M9381 2521h67M9513 2521h1M9579 2521h1M9645 2521h1M9001 2550h133M9199 2550h1M9397 2550h133M9628 2550h1M8919 2579h34M9018 2579h1M9183 2579h1M9579 2579h1M9645 2579h1M8902 2607h67M9199 2607h1M9595 2607h1M9661 2607h1M9084 2636h1M9216 2636h34M9579 2636h1M9645 2636h1M9067 2664h1M9133 2664h1M9199 2664h1M9265 2664h1M9562 2664h1M9051 2693h1M9150 2693h1M9216 2693h1M9282 2693h1M9546 2693h1M8869 2721h1M9034 2721h1M9166 2721h1M9298 2721h1M9529 2721h1M9595 2721h1M8886 2750h1M9018 2750h1M9084 2750h34M9249 2750h34M9480 2750h34M9612 2750h1M8902 2779h1M9067 2779h67M9232 2779h1M9298 2779h1M9463 2779h34M9628 2779h1M8919 2807h1M8985 2807h67M9150 2807h1M9216 2807h1M9282 2807h1M9480 2807h34M9645 2807h1M8935 2836h34M9034 2836h1M9100 2836h1M9199 2836h1M9265 2836h1M9496 2836h34M9661 2836h1M8919 2864h1M9018 2864h166M9249 2864h34M9480 2864h67M9678 2864h1M9034 2893h166M9298 2893h1M9496 2893h67M9694 2893h1M8886 2921h166M9183 2921h67M9315 2921h34M9414 2921h1M9513 2921h67M9711 2921h1M8935 2950h67M9298 2950h1M9364 2950h1M9430 2950h1M9529 2950h67M9727 2950h1M9117 2979h1M9381 2979h1M9447 2979h1M9546 2979h100M9744 2979h1M9067 3007h34M9331 3007h1M9397 3007h1M9463 3007h1M9562 3007h1M9628 3007h34M9760 3007h1" stroke="#6464e8"/>
</g>
<rect x="807.7" y="199" width="207.7" height="103.4" fill="none" stroke="#2020c0" stroke-width="0.8"/>
<rect x="1043.2" y="38.3" width="128.3" height="262.2" fill="#443c8c"/>
<g transform="scale(.1)" stroke-width="33" stroke-linecap="round" stroke-dasharray="0 33">
<path d="M11373 914h34M11191 943h331M11175 972h199M10993 1057h67M11076 1086h34M11406 1086h100M11125 1114h34M11323 1114h67M11521 1114h34M11175 1143h133M11571 1143h34M11653 1172h34M10614 1314h34M10812 1314h1M10630 1343h34M10828 1343h1M10482 1372h1M10647 1372h34M10845 1372h1M10664 1400h34M10861 1400h1M10680 1429h34M10845 1429h1M10630 1457h1M10696 1457h1M10861 1457h1M10449 1486h1M10680 1486h34M10878 1486h1M10466 1515h1M10696 1515h34M10482 1543h1M10713 1543h34M10499 1572h1M10696 1572h34M10713 1600h34M10499 1629h1M10729 1629h34M10515 1657h1M10746 1657h34M10878 1657h1M10532 1686h1M10664 1686h1M10795 1686h34M10548 1715h1M10647 1715h100M10845 1715h34M10532 1743h67M10696 1743h100M10894 1743h1M10614 1772h34M10746 1772h100M10664 1800h34M10795 1800h100M10482 1829h1M10713 1829h34M10845 1829h67M10499 1857h34M10762 1857h34M10894 1857h67M10581 1886h1M10812 1886h34M10944 1886h1M10630 1915h34M10861 1915h34M10960 1915h1M10680 1943h34M10911 1943h1M10466 1972h1M10729 1972h34M10927 1972h1M10449 2000h67M10779 2000h1M10466 2029h1M10532 2029h1M10795 2029h34M10449 2058h1M10515 2058h34M10845 2058h1M10499 2086h67M10861 2086h34M10449 2115h1M10515 2115h67M10911 2115h1M10466 2143h34M10564 2143h67M10449 2172h100M10614 2172h34M10466 2200h199M10548 2229h133M10564 2258h34M10664 2258h1M10548 2286h34M10647 2286h1M10532 2315h133M10482 2343h100M10647 2343h34M10466 2372h100M10664 2372h67M10449 2400h166M10466 2429h100" stroke="#1010e8"/>
<path d="M10449 400h1M10944 400h1M11076 400h34M11406 400h34M11604 400h1M11670 400h34M10466 429h1M10993 429h1M11125 429h1M11455 429h1M11620 429h1M10482 457h34M11142 457h34M11472 457h1M11637 457h34M10532 486h67M11191 486h34M11422 486h1M11488 486h34M11686 486h1M10614 514h34M11241 514h34M11439 514h1M11538 514h1M11703 514h1M10696 543h1M11290 543h1M11455 543h34M11554 543h1M10581 571h1M10713 571h1M11307 571h34M11505 571h1M11571 571h34M10729 600h1M11356 600h67M11521 600h1M11620 600h1M10746 629h1M10944 629h1M11439 629h1M11538 629h34M11637 629h1M10466 657h1M10762 657h1M10927 657h100M11356 657h34M11455 657h1M11587 657h1M11653 657h1M10482 686h34M10779 686h34M11043 686h34M11406 686h1M11472 686h1M11604 686h1M11670 686h1M10532 714h34M10828 714h1M11092 714h133M11356 714h1M11422 714h1M11488 714h1M11620 714h1M11686 714h1M10581 743h1M11109 743h1M11373 743h1M11439 743h1M11505 743h34M11637 743h1M11703 743h1M10828 772h133M11323 772h1M11389 772h1M11455 772h1M11554 772h1M11653 772h1M10779 800h298M11406 800h1M11472 800h1M11571 800h1M11670 800h1M10960 829h166M11356 829h1M11422 829h1M11521 829h1M11587 829h1M11686 829h1M11043 857h232M11373 857h1M11439 857h1M11505 857h34M11604 857h1M11703 857h1M11125 886h133M11455 886h1M11521 886h34M11620 886h1M11472 914h1M11571 914h1M11637 914h1M10861 943h34M11587 943h1M11653 943h1M10911 972h67M11604 972h1M11670 972h1M10993 1000h67M11620 1000h1M11686 1000h1M11637 1029h1M11703 1029h1M10911 1086h133M11059 1114h34M11422 1114h67M11109 1143h34M11340 1143h67M11505 1143h1M11191 1172h100M11587 1172h34M11637 1200h67M10499 2029h1M10482 2058h1M10581 2058h1M10466 2086h1M10598 2086h1M10482 2115h1M10647 2115h1M10532 2143h1M10696 2143h1M10581 2172h1M10713 2172h1M10713 2229h1M10630 2258h1M10696 2258h1M10449 2286h1M10614 2286h1M10614 2343h1M10746 2343h1M10598 2372h34M10795 2372h1M10647 2400h1M10812 2400h1M10944 2400h1M10828 2429h34M10927 2429h1M11191 2429h1M11356 2429h1M10878 2458h1M11109 2458h34M11241 2458h34M11059 2486h67M11191 2486h34M11422 2486h1M10977 2515h67M11142 2515h34M11505 2515h1M10927 2543h34M11059 2543h67M11422 2543h67M10911 2572h1M11010 2572h34M11373 2572h34M10960 2601h34M11323 2601h34M10944 2629h1M11241 2629h34M11472 2629h1M11191 2658h34M11422 2658h34M10449 2686h34M11142 2686h34M11340 2686h67M10466 2715h67M11092 2715h34M11290 2715h34M10482 2743h67M11010 2743h1M11406 2743h1M10532 2772h34M11356 2772h1M10548 2801h34M11274 2801h34M10598 2829h67M11224 2829h34M11422 2829h1M10647 2858h100M11142 2858h67M11373 2858h34M10696 2886h166M11059 2886h67M11323 2886h34M10746 2915h133M10944 2915h100M11274 2915h34M10894 2943h34M11191 2943h34M11356 2943h34M10845 2972h1M10977 2972h1M11076 2972h100M11274 2972h67" stroke="#9a00dc"/>
<path d="M11109 972h34M11406 972h100M11158 1000h199M11554 1000h1M11043 1029h1M11241 1029h34M11604 1029h1M11092 1057h34M11422 1057h67M11142 1086h34M11307 1086h67M11538 1086h34M10927 1114h100M11191 1114h100M11587 1114h34M11043 1143h34M11439 1143h34M11637 1143h67M11125 1172h34M11323 1172h232M11175 1200h133M11571 1200h34M11620 1229h67M10713 1314h1M10729 1343h1M10746 1372h1M10762 1400h1M10779 1429h1M10911 1429h1M10762 1457h1M10894 1457h100M11059 1457h1M10779 1486h1M11109 1486h1M10795 1515h1M11191 1515h1M10812 1543h1M11274 1543h1M11505 1543h34M10795 1572h1M11389 1572h298M10548 1600h1M10812 1600h1M11637 1600h1M10828 1629h1M10845 1657h1M10729 1686h34M10861 1686h1M10449 1715h1M10779 1715h34M10828 1743h34M10449 1772h1M10878 1772h34" stroke="#ee1010"/>
<path d="M10581 400h34M10812 400h100M11340 400h34M10630 429h67M10828 429h133M11389 429h34M10713 457h34M10878 457h34M11010 457h1M10762 486h1M10894 486h1M10960 486h1M11026 486h34M10779 514h34M10911 514h1M10977 514h1M11076 514h1M11142 514h1M10828 543h1M10927 543h1M10993 543h34M11125 543h1M10845 571h1M10944 571h1M11043 571h34M11142 571h34M10861 600h1M10960 600h34M11092 600h1M11191 600h34M10449 629h34M10878 629h1M11010 629h34M11109 629h34M11241 629h34M10499 657h34M10894 657h1M11059 657h34M11158 657h34M11290 657h1M10449 686h1M10548 686h34M11208 686h34M10466 714h34M10598 714h1M11257 714h34M10548 743h1M10614 743h1M10845 914h67M10927 943h67M11010 972h34M10878 1029h67M10960 1057h1M10894 2372h1M10680 2400h100M10729 2429h67M10548 2458h67M10779 2458h67M11175 2458h34M11307 2458h67M11472 2458h34M10598 2486h34M10795 2486h100M11158 2486h1M11257 2486h34M11455 2486h1M10647 2515h34M10845 2515h34M11076 2515h34M11208 2515h34M11340 2515h34M10696 2543h1M10894 2543h1M10993 2543h34M11158 2543h34M11290 2543h34M11521 2543h1M10713 2572h34M10944 2572h34M11076 2572h34M11241 2572h34M11439 2572h34M10466 2601h1M10762 2601h34M10927 2601h1M11026 2601h34M11158 2601h34M11389 2601h34M10482 2629h34M10812 2629h34M10977 2629h1M11109 2629h34M11307 2629h67M10532 2658h34M10861 2658h100M11059 2658h34M11257 2658h34M10581 2686h1M11010 2686h34M11208 2686h34M10598 2715h34M10927 2715h34M11158 2715h34M10449 2743h1M10647 2743h1M11109 2743h1M10466 2772h34M10664 2772h34M10449 2801h67M10713 2801h67M10499 2829h67M10795 2829h67M10449 2858h1M10548 2858h67M10466 2886h34M10564 2886h100M10449 2915h67M10614 2915h100M10499 2943h67M10664 2943h199M10449 2972h1M10515 2972h100M10746 2972h67" stroke="#e46464"/>
<path d="M10515 400h34M10746 400h34M10977 400h1M11142 400h166M10564 429h34M10795 429h1M11026 429h1M11158 429h199M10647 457h34M10812 457h34M11043 457h34M11208 457h166M10466 486h1M10696 486h34M10861 486h1M10927 486h1M11092 486h1M11257 486h100M10482 514h34M10746 514h1M10878 514h1M11109 514h1M11307 514h67M10532 543h34M10762 543h34M10894 543h1M11158 543h34M11323 543h67M10449 571h34M10614 571h34M10779 571h34M10911 571h1M11208 571h34M11373 571h1M10466 600h100M10664 600h1M10828 600h1M10927 600h1M11257 600h34M10515 629h100M10680 629h1M10845 629h1M11307 629h1M10564 657h67M10696 657h1M10861 657h1M11323 657h1M10614 686h34M10713 686h1M11274 686h1M10630 714h34M10729 714h1M10482 743h34M10647 743h34M10746 743h34M10466 772h34M10564 772h34M10664 772h34M10795 772h1M10482 800h67M10713 800h34M10499 829h1M10598 829h133M10482 857h1M10548 857h1M10466 886h1M10532 886h1M10482 914h1M10647 914h166M10466 943h1M10664 943h100M10828 943h1M10449 972h34M10548 972h1M10680 972h67M10845 972h1M10499 1000h1M10564 1000h34M10696 1000h34M10795 1000h34M10482 1029h1M10581 1029h34M10713 1029h34M10845 1029h1M10466 1057h1M10598 1057h34M10729 1057h100M10515 1086h133M10746 1086h1M10845 1086h1M10466 1114h1M10729 1114h133M10449 1143h1M10713 1143h34M10845 1143h34M10564 1172h199M10828 1172h34M10548 1200h133M10779 1200h67M10564 1229h133M10762 1229h1M10482 1257h1M10581 1257h100M10746 1257h1M10812 1257h34M10499 1286h1M10598 1286h34M10729 1286h1M10795 1286h1M11472 1715h1M11538 1715h1M11455 1743h1M11521 1743h1M11587 1743h1M11653 1743h34M11274 1772h1M11439 1772h1M11505 1772h34M11604 1772h34M11257 1800h1M11422 1800h1M11488 1800h1M11587 1800h1M11241 1829h1M11406 1829h1M11472 1829h1M11571 1829h1M11191 1857h34M11389 1857h1M11455 1857h1M11554 1857h1M11142 1886h34M11406 1886h1M11538 1886h1M11092 1915h34M11356 1915h34M11455 1915h1M11686 1915h1M11043 1943h34M11340 1943h34M11439 1943h1M11505 1943h34M11670 1943h1M11026 1972h1M11158 1972h1M11290 1972h34M11389 1972h34M11521 1972h1M11686 1972h1M11010 2000h1M11241 2000h34M11373 2000h1M11505 2000h1M11670 2000h1M10993 2029h1M11191 2029h34M11323 2029h34M11488 2029h1M11653 2029h1M10977 2058h1M11142 2058h34M11274 2058h34M11439 2058h34M11637 2058h1M10960 2086h34M11125 2086h1M11224 2086h1M11389 2086h34M11620 2086h1M10977 2115h1M11043 2115h1M11373 2115h34M11505 2115h1M10927 2143h67M11323 2143h34M11455 2143h34M10911 2172h67M11274 2172h34M11406 2172h34M11703 2172h1M10927 2200h1M11224 2200h34M11356 2200h34M11653 2200h34M10878 2229h34M11175 2229h34M11307 2229h1M11604 2229h34M11257 2258h1M11554 2258h34M11109 2286h34M11208 2286h34M11505 2286h34M11092 2315h1M11158 2315h34M11455 2315h34M11043 2343h1M11406 2343h34M11026 2372h1M11092 2372h34M11356 2372h34M10977 2400h34M11307 2400h67M11703 2400h1M11290 2429h1M11571 2458h34M11224 2715h1M11043 2743h34M11142 2743h1M11274 2743h34M11439 2743h1M10927 2772h133M11191 2772h34M11389 2772h1M10944 2801h34M11109 2801h67M11340 2801h34M10894 2829h1M11026 2829h67M11290 2829h34M10944 2858h67M11241 2858h34M10894 2886h1M11158 2886h67M11389 2886h1M11076 2915h67M11340 2915h34M10960 2943h100M11257 2943h67M10878 2972h67M11208 2972h34" stroke="#eeee10"/>
<path d="M10762 1286h1M10449 1314h67M10581 1314h1M10680 1314h1M10845 1314h1M10466 1343h67M10598 1343h1M10696 1343h1M10449 1372h1M10515 1372h34M10614 1372h1M10713 1372h1M10466 1400h100M10630 1400h1M10729 1400h1M10482 1429h100M10647 1429h1M10746 1429h1M10878 1429h1M10499 1457h100M10664 1457h1M10729 1457h1M10515 1486h67M10647 1486h1M10746 1486h1M10944 1486h67M10532 1515h67M10664 1515h1M10762 1515h1M11026 1515h67M10548 1543h67M10680 1543h1M10779 1543h1M10878 1543h1M11109 1543h67M10564 1572h100M10762 1572h1M10894 1572h67M11191 1572h34M10581 1600h34M10680 1600h1M10779 1600h1M10977 1600h67M11241 1600h67M11670 1600h1M10564 1629h67M10696 1629h1M10795 1629h1M11059 1629h67M11323 1629h34M10581 1657h67M10713 1657h1M10812 1657h1M10911 1657h1M11142 1657h34M11373 1657h133M10598 1686h34M10960 1686h67M11224 1686h34M11521 1686h166M10614 1715h1M10911 1715h1M11043 1715h34M11274 1715h67M11505 1715h1M11604 1715h1M10466 1743h1M10630 1743h34M10927 1743h67M11092 1743h100M11356 1743h34M11488 1743h1M11554 1743h1M10482 1772h100M10680 1772h34M11010 1772h67M11175 1772h34M11472 1772h1M11670 1772h1M10532 1800h100M10729 1800h34M11092 1800h1M11455 1800h1M11521 1800h1M11620 1800h34M10449 1829h1M10581 1829h100M10779 1829h34M11439 1829h1M11505 1829h1M11604 1829h1M10630 1857h100M10828 1857h34M11422 1857h1M11488 1857h1M11587 1857h1M10449 1886h1M10680 1886h100M10878 1886h34M11439 1886h34M11571 1886h1M10466 1915h67M10729 1915h100M10927 1915h1M11422 1915h1M11488 1915h1M11554 1915h1M10449 1943h133M10779 1943h100M10944 1943h1M11406 1943h1M11472 1943h1M11571 1943h1M10499 1972h133M10828 1972h67M11356 1972h1M11455 1972h1M11554 1972h1M10548 2000h133M10878 2000h34M11307 2000h34M11406 2000h34M11538 2000h1M10598 2029h133M10894 2029h1M11257 2029h34M11389 2029h1M11521 2029h1M10647 2058h100M11208 2058h34M11340 2058h34M11505 2058h1M11703 2058h1M10696 2086h100M11158 2086h34M11257 2086h34M11455 2086h34M11686 2086h1M10779 2115h1M10845 2115h1M11142 2115h1M11241 2115h1M11703 2115h1M10861 2143h1M10878 2172h1" stroke="#44e028"/>
<path d="M11505 400h1M11637 400h1M11521 429h34M11653 429h34M11571 457h1M11703 457h1M11587 486h1M11604 514h34M11653 543h1M11670 571h1M11686 600h1M10977 629h1M11703 629h1M11109 686h67M10861 714h100M10449 743h1M10845 743h232M11472 743h1M10532 772h1M10630 772h1M10993 772h199M11290 772h1M10449 800h1M10581 800h100M11109 800h232M10466 829h1M10532 829h34M11158 829h166M10449 857h1M10515 857h1M10779 857h166M10499 886h1M10598 886h166M10960 886h34M11290 886h67M10449 914h1M10515 914h1M10581 914h34M11043 914h34M10499 943h34M10598 943h34M10795 943h1M11092 943h67M10515 972h1M10614 972h34M10779 972h1M10466 1000h1M10532 1000h1M10664 1000h1M10762 1000h1M10449 1029h1M10515 1029h34M10680 1029h1M10779 1029h1M11076 1029h34M11406 1029h100M10499 1057h67M10696 1057h1M10894 1057h34M11158 1057h34M11290 1057h100M11521 1057h67M10449 1086h34M10713 1086h1M10779 1086h1M11208 1086h67M11604 1086h34M10696 1114h1M11653 1114h34M10515 1143h166M10779 1143h1M11538 1143h1M10499 1172h34M10482 1200h34M10713 1200h1M10499 1229h34M10894 1229h34M10449 1257h1M10548 1257h1M10944 1257h100M11241 1257h67M10466 1286h1M10564 1286h1M10664 1286h1M11059 1286h67M11323 1286h199M11587 1286h67M11142 1314h67M11224 1343h34M11554 1343h1M11274 1372h331M11670 1372h34M11571 1600h34M11703 1600h1M10861 1629h67M10977 1657h34M11637 1657h1M11059 1686h34M11109 1715h34M11571 1715h1M11224 1743h1M11241 1772h1M11307 1772h1M11373 1772h1M11703 1772h1M11224 1800h1M11356 1800h1M11686 1800h1M11208 1829h1M11274 1829h1M11340 1829h1M11637 1829h67M10993 1857h1M11158 1857h1M11257 1857h1M11323 1857h1M11620 1857h67M11076 1886h34M11208 1886h34M11307 1886h1M11604 1886h34M11026 1915h34M11158 1915h34M11290 1915h1M11521 1915h1M11587 1915h34M11010 1943h1M11109 1943h34M11241 1943h34M10993 1972h1M11059 1972h34M11191 1972h1M11587 1972h34M10977 2000h1M11043 2000h1M11109 2000h34M11571 2000h34M10960 2029h1M11026 2029h1M11092 2029h1M11554 2029h34M10944 2058h1M11010 2058h1M11076 2058h1M11538 2058h34M11059 2086h1M11521 2086h34M10944 2115h1M11076 2115h1M11439 2115h34M11538 2115h1M11604 2115h1M11026 2143h34M11389 2143h34M11554 2143h34M11010 2172h1M11340 2172h34M11538 2172h1M10960 2200h34M11092 2200h1M11290 2200h34M11488 2200h1M10944 2229h1M11241 2229h34M11406 2229h34M10927 2258h1M11191 2258h34M11356 2258h34M11521 2258h1M11686 2258h1M11175 2286h1M11307 2286h34M11637 2286h34M11125 2315h1M11290 2315h1M11587 2315h34M11076 2343h67M11241 2343h1M11538 2343h34M11059 2372h1M11191 2372h34M11488 2372h34M11686 2372h1M11175 2400h1M11241 2400h1M11439 2400h34M11637 2400h34M11158 2429h1M11389 2429h34M11587 2429h34" stroke="#c0e0a8"/>
<path d="M11010 400h34M11059 429h34M10944 457h34M11109 457h1M10993 486h1M11125 486h34M11010 514h34M11175 514h34M11059 543h34M11224 543h34M11109 571h1M11274 571h1M11125 600h34M11323 600h1M11175 629h34M11340 629h1M11224 657h34M10878 686h133M11307 686h1M11026 714h34M11323 714h1M11142 743h166M11224 772h34M10795 829h133M10977 857h34M11307 857h34M10795 886h133M11026 886h67M11389 886h1M10944 914h67M11109 914h232M11026 943h34M11076 972h1M10911 1143h100M10894 1172h199M10878 1200h265M11340 1200h199M11092 1229h265M11422 1229h1M11488 1229h1M11554 1229h34M11175 1257h34M11340 1257h1M11472 1257h1M11637 1257h67M11224 1286h67M11554 1286h1M11686 1286h1M11307 1314h397M11422 1343h1M11637 1372h1M10894 1515h1M10911 1543h67M10993 1572h67M10878 1600h67M11076 1600h67M10960 1629h67M11158 1629h34M11554 1629h1M10944 1657h1M11043 1657h67M11208 1657h67M10894 1686h34M11125 1686h67M11290 1686h34M10944 1715h67M11175 1715h67M11373 1715h67M11637 1715h34M11026 1743h34M11257 1743h67M11422 1743h1M11620 1743h1M11109 1772h34M11340 1772h1M11406 1772h1M11571 1772h1M11125 1800h67M11290 1800h34M11389 1800h1M11554 1800h1M11076 1829h1M11142 1829h34M11307 1829h1M11373 1829h1M11538 1829h1M11059 1857h67M11290 1857h1M11356 1857h1M11521 1857h1M10977 1886h67M11274 1886h1M11340 1886h34M11505 1886h1M11670 1886h34M10993 1915h1M11224 1915h34M11323 1915h1M11653 1915h1M10977 1943h1M11175 1943h34M11307 1943h1M11604 1943h34M11703 1943h1M10960 1972h1M11125 1972h1M11224 1972h34M11488 1972h1M11653 1972h1M10944 2000h1M11076 2000h1M11175 2000h34M11472 2000h1M11637 2000h1M11703 2000h1M10927 2029h1M11059 2029h1M11125 2029h34M11422 2029h34M11620 2029h1M11686 2029h1M11043 2058h1M11109 2058h1M11406 2058h1M11604 2058h1M11670 2058h1M11026 2086h1M11092 2086h1M11323 2086h34M11587 2086h1M11653 2086h1M11010 2115h1M11109 2115h1M11175 2115h34M11274 2115h67M11571 2115h1M11637 2115h34M11092 2143h199M11521 2143h1M11620 2143h34M11043 2172h199M11472 2172h34M11571 2172h34M11026 2200h34M11125 2200h67M11422 2200h34M11521 2200h34M10977 2229h166M11340 2229h34M11472 2229h34M11670 2229h34M10894 2258h1M10960 2258h166M11290 2258h34M11422 2258h34M11620 2258h34M10911 2286h166M11274 2286h1M11373 2286h34M11571 2286h34M11703 2286h1M10894 2315h166M11224 2315h34M11323 2315h34M11521 2315h34M11653 2315h34M10911 2343h100M11175 2343h34M11274 2343h34M11472 2343h34M11604 2343h100M10927 2372h67M11158 2372h1M11257 2372h1M11422 2372h34M11554 2372h100M10911 2400h1M11109 2400h34M11208 2400h1M11406 2400h1M11505 2400h100M11323 2429h1M11455 2429h100M11653 2429h34M11439 2458h1M11637 2458h1M11604 2572h67M11554 2601h34M11505 2629h34M11488 2658h1M11455 2715h1M11521 2715h1M11439 2801h1M11703 2801h1M11653 2829h34M11637 2858h1M11620 2886h1M11571 2915h34M11554 2943h1M11439 2972h1M11505 2972h34" stroke="#38e0e0"/>
<path d="M11389 1229h1M11455 1229h1M11521 1229h1M10861 1286h67M10548 1314h1M10746 1314h34M10878 1314h133M10564 1343h1M10762 1343h34M10861 1343h232M10581 1372h1M10779 1372h34M10911 1372h265M10598 1400h1M10795 1400h34M10993 1400h265M10449 1429h1M10614 1429h1M10812 1429h1M11109 1429h562M10466 1457h1M10795 1457h34M11158 1457h529M10482 1486h1M10614 1486h1M10812 1486h34M11241 1486h463M10499 1515h1M10630 1515h1M10828 1515h34M11620 1515h67M10449 1543h1M10515 1543h1M10647 1543h1M10845 1543h1M10466 1572h1M10532 1572h1M10828 1572h34M10449 1600h67M10647 1600h1M10845 1600h1M10466 1629h1M10532 1629h1M10664 1629h1M11488 1629h1M11587 1629h1M11653 1629h34M10449 1657h34M10548 1657h1M10680 1657h1M10466 1686h34M10564 1686h1M10696 1686h1M10482 1715h34M10581 1715h1M10499 1743h1M10944 1772h34M10927 1800h133M10944 1829h100M11109 1829h1M11026 1857h1M11076 2400h1M10598 2429h1M10696 2429h1M11026 2429h100M10449 2458h1M10647 2458h1M10746 2458h1M10977 2458h100M11538 2458h1M10466 2486h34M10664 2486h34M10762 2486h1M10927 2486h100M11488 2486h34M11686 2486h1M10449 2515h1M10548 2515h1M10713 2515h1M10812 2515h1M10911 2515h34M11406 2515h67M11571 2515h133M10466 2543h34M10598 2543h1M10729 2543h34M10828 2543h34M11389 2543h1M11554 2543h133M10515 2572h34M10614 2572h34M10779 2572h1M10878 2572h1M11307 2572h34M11538 2572h34M10564 2601h1M10664 2601h1M10828 2601h34M11224 2601h67M11521 2601h1M10449 2629h1M10581 2629h34M10680 2629h34M10878 2629h34M11175 2629h34M11604 2629h100M10466 2658h34M10630 2658h34M10729 2658h34M11125 2658h34M11587 2658h1M10515 2686h34M10680 2686h1M10779 2686h34M11076 2686h34M11439 2686h34M11538 2686h34M10564 2715h1M10696 2715h34M10828 2715h67M10993 2715h67M11356 2715h1M11422 2715h1M11653 2715h34M10581 2743h34M10746 2743h34M10944 2743h34M11175 2743h67M11505 2743h1M11604 2743h100M10598 2772h34M10795 2772h100M11092 2772h67M11488 2772h1M11587 2772h100M10614 2801h67M11010 2801h67M11571 2801h100M10696 2829h67M10927 2829h67M11554 2829h67M10779 2858h133M11505 2858h100M11670 2858h34M11455 2886h133M11653 2886h1M11406 2915h133M11637 2915h1M11703 2915h1M11455 2943h67M11620 2943h1M11686 2943h1M11472 2972h1M11571 2972h1M11670 2972h1" stroke="#e464e4"/>
<path d="M10647 400h67M11538 400h34M10499 429h34M10729 429h34M11587 429h1M10449 457h1M10548 457h67M10779 457h1M11604 457h1M10499 486h1M10630 486h34M10795 486h34M11620 486h34M10548 514h34M10680 514h34M10845 514h1M10944 514h1M11670 514h1M10598 543h67M10729 543h1M10861 543h1M10960 543h1M11686 543h1M10680 571h1M10746 571h1M10878 571h1M10977 571h34M11703 571h1M10696 600h1M10762 600h34M10894 600h1M11026 600h34M10713 629h1M10779 629h34M10911 629h1M11076 629h1M11406 629h1M10729 657h1M10795 657h34M11125 657h1M11422 657h1M10746 686h1M10845 686h1M11439 686h1M10762 714h34M11455 714h1M10812 743h1M11488 772h34M11505 800h34M11554 829h1M11571 857h1M11587 886h1M11604 914h1M11620 943h1M10812 972h1M11637 972h1M11092 1000h34M11389 1000h133M11653 1000h1M10812 1029h1M11142 1029h67M11307 1029h67M11538 1029h34M11670 1029h1M11224 1057h34M11620 1057h67M10812 1086h1M11670 1086h34M10812 1143h1M10795 1172h1M10746 1200h1M10729 1229h1M10960 1229h100M10713 1257h1M10878 1257h34M11076 1257h67M11373 1257h67M11505 1257h100M10696 1286h1M10828 1286h1M10960 1286h67M11158 1286h34M11043 1314h67M11241 1314h34M11125 1343h67M11290 1343h100M11455 1343h67M11587 1343h100M10878 1372h1M11208 1372h34M10894 1400h67M11290 1400h397M10944 1429h133M11703 1429h1M11026 1457h1M11092 1457h34M10911 1486h1M11043 1486h34M11142 1486h67M10927 1515h67M11125 1515h34M11224 1515h364M11010 1543h67M11208 1543h34M11307 1543h166M11571 1543h133M11092 1572h67M11257 1572h100M11175 1600h34M11340 1600h199M11224 1629h67M11389 1629h67M11521 1629h1M11620 1629h1M11307 1657h34M11538 1657h67M11670 1657h34M11356 1686h133M11703 1715h1M10466 1800h34M10515 1829h34M10466 1857h1M10564 1857h34M10482 1886h67M10614 1886h34M10564 1915h34M10696 1915h1M10614 1943h34M10746 1943h1M10664 1972h34M10795 1972h1M10713 2000h34M10812 2000h34M10564 2029h1M10762 2029h1M10861 2029h1M10614 2058h1M10779 2058h34M10878 2058h34M10630 2086h34M10828 2086h1M10927 2086h1M10614 2115h1M10680 2115h67M10812 2115h1M10878 2115h1M10664 2143h1M10729 2143h100M10894 2143h1M11686 2143h1M10680 2172h1M10746 2172h100M11637 2172h34M10696 2200h199M11587 2200h34M10449 2229h67M10746 2229h100M11538 2229h34M10466 2258h67M10729 2258h133M11158 2258h1M11488 2258h1M10482 2286h34M10680 2286h199M11439 2286h34M10466 2315h34M10696 2315h166M11389 2315h34M10449 2343h1M10713 2343h1M10779 2343h100M11340 2343h34M10762 2372h1M10828 2372h34M11290 2372h34M10845 2400h34M11043 2400h1M11274 2400h1M10630 2429h34M10894 2429h1M10960 2429h34M11224 2429h34M10482 2458h34M10680 2458h34M10911 2458h34M11406 2458h1M11670 2458h34M10532 2486h34M10729 2486h1M11323 2486h67M11554 2486h100M10482 2515h34M10581 2515h34M10746 2515h34M11274 2515h34M11538 2515h1M10532 2543h34M10630 2543h34M10795 2543h1M11224 2543h34M11356 2543h1M10449 2572h34M10581 2572h1M10680 2572h1M10812 2572h34M11142 2572h67M11505 2572h1M11703 2572h1M10499 2601h34M10598 2601h34M10696 2601h34M10894 2601h1M11092 2601h34M11455 2601h34M11620 2601h67M10548 2629h1M10647 2629h1M10746 2629h34M11010 2629h67M11406 2629h34M11571 2629h1M10598 2658h1M10696 2658h1M10795 2658h34M10993 2658h34M11323 2658h67M11521 2658h34M11620 2658h67M10614 2686h34M10713 2686h34M10845 2686h133M11274 2686h34M11505 2686h1M11604 2686h100M10664 2715h1M10762 2715h34M11257 2715h1M11389 2715h1M11488 2715h1M11554 2715h67M10680 2743h34M10812 2743h100M11340 2743h34M11472 2743h1M11538 2743h34M10729 2772h34M11257 2772h67M11422 2772h34M11521 2772h34M10812 2801h100M11208 2801h34M11406 2801h1M11472 2801h67M10466 2829h1M11125 2829h67M11356 2829h34M11455 2829h67M10482 2858h34M11043 2858h67M11307 2858h34M11439 2858h34M10532 2886h1M10927 2886h100M11257 2886h34M11422 2886h1M11686 2886h1M10548 2915h34M10911 2915h1M11175 2915h67M11670 2915h1M10466 2943h1M10598 2943h34M11092 2943h67M11422 2943h1M11587 2943h1M11653 2943h1M10482 2972h1M10647 2972h67M11010 2972h34M11373 2972h34M11604 2972h34M11703 2972h1" stroke="#6464e8"/>
<path d="M10482 400h1M11472 400h1M11488 429h1M11406 457h34M11505 457h34M11389 486h1M11455 486h1M11554 486h1M10449 514h1M11406 514h1M11472 514h34M11571 514h1M10466 543h34M11422 543h1M11521 543h1M11587 543h34M10515 571h34M11406 571h67M11538 571h1M11637 571h1M10598 600h34M11455 600h34M11554 600h34M11653 600h1M10647 629h1M11373 629h1M11472 629h34M11604 629h1M11670 629h1M10664 657h1M11488 657h67M11620 657h1M11686 657h1M10680 686h1M11340 686h34M11505 686h67M11637 686h1M11703 686h1M10696 714h1M10993 714h1M11389 714h1M11521 714h67M11653 714h1M10713 743h1M11340 743h1M11406 743h1M11571 743h34M11670 743h1M10729 772h34M11356 772h1M11422 772h1M11587 772h34M11686 772h1M11373 800h1M11439 800h1M11604 800h34M11703 800h1M10762 829h1M11389 829h1M11455 829h34M11620 829h34M10581 857h166M11406 857h1M11472 857h1M11637 857h34M10564 886h1M11422 886h1M11488 886h1M11653 886h34M10548 914h1M11439 914h1M11505 914h34M11670 914h34M10564 943h1M11554 943h1M11686 943h1M10581 972h1M10878 972h1M11538 972h34M11703 972h1M10630 1000h1M10861 1000h100M11587 1000h1M10647 1029h1M10977 1029h34M10664 1057h1M10861 1057h1M10680 1086h1M10878 1086h1M10499 1114h166M10894 1114h1M10482 1143h1M10466 1172h1M10449 1200h1M10466 1229h1M10795 1229h67M10515 1257h1M10779 1257h1M10532 1286h1" stroke="#e8e8e8"/>
</g>
<rect x="1043.2" y="38.3" width="128.3" height="262.2" fill="none" stroke="#2020c0" stroke-width="0.8"/>
<text x="833.1" y="30.7" font-size="23" font-weight="bold" textLength="111.3" lengthAdjust="spacingAndGlyphs" >HDPE-10C</text>
<text x="943.6" y="35.3" font-size="15" textLength="35.9" lengthAdjust="spacingAndGlyphs" >1000</text>
<text x="837.7" y="188.3" font-size="23" font-weight="bold" textLength="111.0" lengthAdjust="spacingAndGlyphs" >HDPE-15C</text>
<text x="947.9" y="192.7" font-size="15.5" textLength="35.6" lengthAdjust="spacingAndGlyphs" >1000</text>
<text x="1039.0" y="25.9" font-size="23" font-weight="bold" textLength="111.6" lengthAdjust="spacingAndGlyphs" >HDPE-20C</text>
<text x="1149.2" y="30.5" font-size="15" textLength="34.6" lengthAdjust="spacingAndGlyphs" >1000</text>
<text x="903.0" y="347.0" font-size="22.5" font-weight="bold" textLength="216.0" lengthAdjust="spacingAndGlyphs" >Stress-strain curves</text>
<path d="M879,354.7 H885.3 V536 M879,400 H885 M879,445.3 H885 M879,490.6 H885 M879,536 H1163" stroke="#000" stroke-width="1.2" fill="none"/>
<path d="M884.7,536 V541" stroke="#000" stroke-width="1.2"/>
<text x="884.7" y="570.5" font-size="18" text-anchor="middle" textLength="9.3" lengthAdjust="spacingAndGlyphs" >0</text>
<path d="M948.8,536 V541" stroke="#000" stroke-width="1.2"/>
<text x="948.8" y="570.5" font-size="18" text-anchor="middle" textLength="32.0" lengthAdjust="spacingAndGlyphs" >100</text>
<path d="M1013,536 V541" stroke="#000" stroke-width="1.2"/>
<text x="1013.0" y="570.5" font-size="18" text-anchor="middle" textLength="32.0" lengthAdjust="spacingAndGlyphs" >200</text>
<path d="M1077.2,536 V541" stroke="#000" stroke-width="1.2"/>
<text x="1077.2" y="570.5" font-size="18" text-anchor="middle" textLength="32.0" lengthAdjust="spacingAndGlyphs" >300</text>
<path d="M1141.4,536 V541" stroke="#000" stroke-width="1.2"/>
<text x="1141.4" y="570.5" font-size="18" text-anchor="middle" textLength="32.0" lengthAdjust="spacingAndGlyphs" >400</text>
<text x="865.1" y="542.2" font-size="18" text-anchor="end" textLength="10.5" lengthAdjust="spacingAndGlyphs" >0</text>
<text x="865.1" y="496.8" font-size="18" text-anchor="end" textLength="21.0" lengthAdjust="spacingAndGlyphs" >50</text>
<text x="865.1" y="451.5" font-size="18" text-anchor="end" textLength="31.5" lengthAdjust="spacingAndGlyphs" >100</text>
<text x="865.1" y="406.2" font-size="18" text-anchor="end" textLength="31.5" lengthAdjust="spacingAndGlyphs" >150</text>
<text x="865.1" y="360.9" font-size="18" text-anchor="end" textLength="31.5" lengthAdjust="spacingAndGlyphs" >200</text>
<path d="M887.8,513.1 C888.2,510.7 889.5,507.3 890.3,498.7 C891.1,490.1 891.7,469.9 892.4,461.5 C893.1,453.1 893.5,452.2 894.4,448.1 C895.2,444.0 896.6,439.9 897.5,436.8 C898.4,433.7 899.1,428.2 900.0,429.6 C900.9,431.0 901.7,439.7 902.7,445.0 C903.7,450.3 904.9,456.3 905.8,461.5 C906.6,466.7 907.1,473.2 907.8,476.0 C908.5,478.8 909.2,481.4 909.9,478.0 C910.6,474.6 911.4,461.9 912.0,455.4 C912.6,448.9 912.7,441.0 913.4,438.9 C914.1,436.8 915.1,439.9 916.1,443.0 C917.1,446.1 918.2,452.2 919.2,457.4 C920.2,462.5 921.3,472.2 922.3,473.9 C923.3,475.6 924.4,471.5 925.4,467.7 C926.4,463.9 927.5,456.7 928.5,451.2 C929.5,445.7 930.6,439.5 931.5,434.7 C932.4,429.9 933.2,423.1 934.0,422.4 C934.8,421.7 935.5,426.5 936.1,430.6 C936.7,434.7 937.0,443.7 937.7,447.1 C938.4,450.5 939.3,450.0 940.2,451.2 C941.1,452.4 941.9,452.2 942.9,454.3 C943.9,456.4 945.1,457.9 946.0,463.6 C946.9,469.3 947.3,480.1 948.0,488.4 C948.7,496.6 949.5,507.4 950.1,513.1 C950.7,518.8 950.9,522.8 951.5,522.4 C952.1,522.0 952.9,511.2 953.6,511.0 C954.3,510.8 955.3,523.2 955.9,521.3 C956.5,519.4 956.7,503.9 957.4,499.5 C958.1,495.1 959.4,496.4 960.2,494.8 C961.0,493.2 961.4,491.8 962.1,490.0 C962.8,488.2 963.7,483.2 964.5,484.0 C965.3,484.8 966.1,489.8 966.9,494.8 C967.7,499.8 968.3,509.0 969.3,513.8 C970.3,518.5 971.7,522.1 972.9,523.3 C974.1,524.5 975.4,520.6 976.4,521.0 C977.4,521.4 978.0,523.7 978.8,525.7 C979.6,527.7 980.2,532.9 981.2,532.9 C982.2,532.9 983.6,527.9 984.8,525.7 C986.0,523.5 987.3,519.8 988.3,519.8 C989.3,519.8 989.5,524.7 990.7,525.7 C991.9,526.7 994.1,526.1 995.5,525.7 C996.9,525.3 997.8,524.3 999.0,523.3 C1000.2,522.3 1001.4,519.2 1002.6,519.8 C1003.8,520.4 1005.0,526.1 1006.2,526.9 C1007.4,527.7 1008.6,523.5 1009.8,524.5 C1011.0,525.5 1012.1,532.7 1013.3,532.9 C1014.5,533.1 1015.7,527.1 1016.9,525.7 C1018.1,524.3 1019.3,525.3 1020.5,524.5 C1021.7,523.7 1022.8,521.2 1024.0,521.0 C1025.2,520.8 1026.4,523.5 1027.6,523.3 C1028.8,523.1 1030.0,519.4 1031.2,519.8 C1032.4,520.2 1033.6,525.1 1034.8,525.7 C1036.0,526.3 1037.1,522.9 1038.3,523.3 C1039.5,523.7 1040.7,527.7 1041.9,528.1 C1043.1,528.5 1044.3,526.7 1045.5,525.7 C1046.7,524.7 1047.8,522.5 1049.0,522.1 C1050.2,521.7 1051.4,522.3 1052.6,523.3 C1053.8,524.3 1055.0,526.5 1056.2,528.1 C1057.4,529.7 1058.6,531.7 1059.8,532.9 C1061.0,534.1 1061.9,534.8 1063.3,535.2 C1064.7,535.6 1066.7,536.0 1068.1,535.2 C1069.5,534.4 1070.7,530.9 1071.7,530.5 C1072.7,530.1 1073.0,532.9 1074.0,532.9 C1075.0,532.9 1076.4,530.5 1077.6,530.5 C1078.8,530.5 1080.0,533.1 1081.2,532.9 C1082.4,532.7 1083.6,530.5 1084.8,529.3 C1086.0,528.1 1087.3,525.1 1088.3,525.7 C1089.3,526.3 1089.7,532.1 1090.7,532.9 C1091.7,533.7 1093.1,530.5 1094.3,530.5 C1095.5,530.5 1096.7,532.1 1097.9,532.9 C1099.1,533.7 1100.1,535.6 1101.4,535.2 C1102.7,534.9 1104.5,532.2 1105.8,530.8 C1107.1,529.4 1108.1,528.0 1109.2,526.7 C1110.3,525.5 1111.5,524.3 1112.5,523.3 C1113.5,522.3 1114.2,520.5 1115.0,520.8 C1115.8,521.1 1116.7,524.2 1117.5,525.0 C1118.3,525.8 1119.2,525.8 1120.0,525.8 C1120.8,525.8 1121.7,524.6 1122.5,525.0 C1123.3,525.4 1124.2,527.0 1125.0,528.3 C1125.8,529.5 1126.7,531.4 1127.5,532.5 C1128.3,533.6 1128.5,534.6 1130.0,535.0 C1131.5,535.4 1133.4,535.0 1136.7,535.0 C1140.0,535.0 1147.2,535.3 1150.0,535.0 C1152.8,534.7 1152.2,533.8 1153.3,533.3 C1154.4,532.8 1155.7,532.5 1156.7,531.7 C1157.7,530.9 1158.4,529.1 1159.2,528.3 C1160.0,527.5 1161.0,527.0 1161.3,526.7" fill="none" stroke="#f00" stroke-width="3.2" stroke-linejoin="round"/>
<path d="M889.3,534.7 C889.6,531.8 890.7,524.2 891.3,517.2 C891.9,510.2 892.3,500.9 892.8,492.5 C893.3,484.1 893.8,469.8 894.4,466.7 C895.0,463.6 895.8,469.7 896.5,474.0 C897.2,478.3 897.8,487.4 898.6,492.5 C899.4,497.6 900.4,505.5 901.2,504.8 C902.1,504.1 902.9,495.6 903.7,488.4 C904.5,481.2 905.1,467.4 905.8,461.5 C906.5,455.6 906.9,453.6 907.8,453.3 C908.6,453.0 909.9,457.1 910.9,459.5 C911.9,461.9 913.0,465.6 914.0,467.7 C915.0,469.8 916.1,470.2 917.1,471.9 C918.1,473.6 919.2,478.0 920.2,478.0 C921.2,478.0 922.4,474.6 923.3,471.9 C924.2,469.1 923.7,464.2 925.4,461.5 C927.1,458.8 931.7,458.8 933.6,455.4 C935.5,452.0 935.8,446.8 936.7,440.9 C937.6,435.0 938.1,423.4 938.8,420.3 C939.5,417.2 940.1,420.3 940.8,422.4 C941.5,424.5 942.2,432.4 942.9,432.7 C943.6,433.0 944.1,425.1 945.0,424.4 C945.9,423.7 947.0,428.4 948.0,428.6 C949.0,428.8 950.1,425.2 951.1,425.5 C952.1,425.8 953.0,427.8 954.2,430.6 C955.5,433.4 957.3,440.0 958.6,442.4 C959.9,444.8 960.9,446.6 962.1,444.8 C963.3,443.0 964.7,432.5 965.7,431.7 C966.7,430.9 967.1,437.4 968.1,440.0 C969.1,442.6 970.7,446.7 971.7,447.1 C972.7,447.5 973.0,448.3 974.0,442.4 C975.0,436.4 976.6,414.2 977.6,411.4 C978.6,408.6 979.2,421.7 980.0,425.7 C980.8,429.7 981.4,434.8 982.4,435.2 C983.4,435.6 985.0,427.3 986.0,428.1 C987.0,428.9 987.5,436.4 988.3,440.0 C989.1,443.6 989.9,448.7 990.7,449.5 C991.5,450.3 992.3,443.6 993.1,444.8 C993.9,446.0 994.7,455.9 995.5,456.7 C996.3,457.5 997.1,452.7 997.9,449.5 C998.7,446.3 999.4,438.4 1000.2,437.6 C1001.0,436.8 1001.8,440.4 1002.6,444.8 C1003.4,449.2 1004.2,460.2 1005.0,463.8 C1005.8,467.4 1006.6,467.8 1007.4,466.2 C1008.2,464.6 1009.0,454.3 1009.8,454.3 C1010.6,454.3 1011.1,461.8 1012.1,466.2 C1013.1,470.6 1014.7,481.3 1015.7,480.5 C1016.7,479.7 1017.3,466.6 1018.1,461.4 C1018.9,456.2 1019.7,448.3 1020.5,449.5 C1021.3,450.7 1021.9,462.2 1022.9,468.6 C1023.9,475.0 1025.2,486.8 1026.4,487.6 C1027.6,488.4 1028.8,481.6 1030.0,473.3 C1031.2,465.0 1032.6,438.4 1033.6,437.6 C1034.6,436.8 1035.2,458.7 1036.0,468.6 C1036.8,478.5 1037.5,496.7 1038.3,497.1 C1039.1,497.5 1039.9,476.6 1040.7,471.0 C1041.5,465.4 1042.3,463.0 1043.1,463.8 C1043.9,464.6 1044.7,470.5 1045.5,475.7 C1046.3,480.9 1047.1,490.8 1047.9,494.8 C1048.7,498.8 1049.4,498.3 1050.2,499.5 C1051.0,500.7 1051.8,501.1 1052.6,501.9 C1053.4,502.7 1054.2,503.5 1055.0,504.3 C1055.8,505.1 1056.6,507.5 1057.4,506.7 C1058.2,505.9 1059.0,501.5 1059.8,499.5 C1060.6,497.5 1061.3,494.8 1062.1,494.8 C1062.9,494.8 1063.7,499.9 1064.5,499.5 C1065.3,499.1 1066.1,494.8 1066.9,492.4 C1067.7,490.0 1068.5,484.8 1069.3,485.2 C1070.1,485.6 1070.9,494.0 1071.7,494.8 C1072.5,495.6 1073.2,489.2 1074.0,490.0 C1074.8,490.8 1075.6,496.7 1076.4,499.5 C1077.2,502.3 1078.0,508.7 1078.8,506.7 C1079.6,504.7 1080.4,489.2 1081.2,487.6 C1082.0,486.0 1082.8,494.7 1083.6,497.1 C1084.4,499.5 1085.2,498.7 1086.0,501.9 C1086.8,505.1 1087.5,512.6 1088.3,516.2 C1089.1,519.8 1089.9,523.3 1090.7,523.3 C1091.5,523.3 1092.3,515.8 1093.1,516.2 C1093.9,516.6 1094.5,524.5 1095.5,525.7 C1096.5,526.9 1097.7,523.1 1099.0,523.3 C1100.3,523.5 1102.2,525.6 1103.3,526.7 C1104.4,527.8 1105.0,530.3 1105.8,530.0 C1106.6,529.7 1107.3,526.4 1108.3,525.0 C1109.3,523.6 1110.6,522.5 1111.7,521.7 C1112.8,520.9 1114.0,520.6 1115.0,520.0 C1116.0,519.4 1116.7,517.8 1117.5,518.3 C1118.3,518.8 1119.2,521.9 1120.0,523.3 C1120.8,524.7 1121.7,525.6 1122.5,526.7 C1123.3,527.8 1124.2,528.8 1125.0,530.0 C1125.8,531.2 1126.1,533.8 1127.5,534.2 C1128.9,534.6 1131.9,533.2 1133.3,532.5 C1134.7,531.8 1134.8,530.0 1135.8,530.0 C1136.8,530.0 1137.7,532.2 1139.2,532.5 C1140.7,532.8 1142.9,531.4 1145.0,531.7 C1147.1,532.0 1150.0,534.2 1151.7,534.2 C1153.4,534.2 1153.9,532.4 1155.0,531.7 C1156.1,531.0 1157.3,529.7 1158.3,530.0 C1159.3,530.3 1160.4,532.8 1160.8,533.3" fill="none" stroke="#0000e0" stroke-width="3.2" stroke-linejoin="round"/>
<path d="M887.2,500.7 C887.6,497.6 888.6,488.7 889.3,482.2 C890.0,475.7 890.6,466.0 891.3,461.5 C892.0,457.0 892.7,458.1 893.4,455.4 C894.1,452.6 894.9,445.7 895.5,445.0 C896.1,444.3 896.3,453.2 896.9,451.2 C897.5,449.1 898.5,432.7 899.2,432.7 C899.9,432.7 900.6,446.0 901.2,451.2 C901.9,456.4 902.4,465.0 903.1,463.6 C903.8,462.2 904.4,448.3 905.2,443.0 C906.0,437.7 907.1,431.3 907.8,431.6 C908.5,431.9 908.8,439.7 909.3,445.0 C909.8,450.3 910.3,461.5 910.9,463.6 C911.5,465.7 912.3,455.0 913.0,457.4 C913.7,459.8 914.3,475.6 915.0,478.0 C915.7,480.4 916.4,471.2 917.1,471.9 C917.8,472.6 918.5,482.9 919.2,482.2 C919.9,481.5 920.5,472.5 921.2,467.7 C921.9,462.9 922.5,454.7 923.3,453.3 C924.1,451.9 924.9,459.7 925.8,459.5 C926.7,459.3 927.7,452.3 928.5,452.3 C929.3,452.3 929.6,459.2 930.5,459.5 C931.4,459.8 932.7,454.1 933.6,454.3 C934.5,454.5 935.0,460.0 935.7,460.5 C936.4,461.0 937.0,455.5 937.7,457.4 C938.4,459.3 939.1,468.8 939.8,471.9 C940.5,475.0 941.2,477.7 941.9,476.0 C942.6,474.3 943.2,464.6 943.9,461.5 C944.6,458.4 945.1,459.8 946.0,457.4 C946.9,455.0 948.2,448.5 949.1,447.1 C950.0,445.7 950.4,451.9 951.1,449.2 C951.8,446.4 952.5,432.3 953.2,430.6 C953.9,428.9 954.6,435.8 955.3,438.9 C956.0,442.0 956.6,450.5 957.4,449.5 C958.1,448.5 958.8,438.0 959.8,432.9 C960.8,427.8 962.3,419.8 963.3,418.6 C964.3,417.4 964.9,422.5 965.7,425.7 C966.5,428.9 967.3,436.4 968.1,437.6 C968.9,438.8 969.6,430.7 970.5,432.9 C971.4,435.1 972.6,450.1 973.6,450.7 C974.6,451.3 975.5,440.4 976.4,436.4 C977.3,432.4 978.0,428.1 978.8,426.9 C979.6,425.7 980.4,430.3 981.2,429.3 C982.0,428.3 982.8,421.6 983.6,421.0 C984.4,420.4 985.2,427.3 986.0,425.7 C986.8,424.1 987.6,415.8 988.3,411.4 C989.0,407.0 989.4,399.9 990.0,399.5 C990.6,399.1 991.2,404.6 991.9,409.0 C992.6,413.4 993.5,424.1 994.3,425.7 C995.1,427.3 995.9,415.8 996.7,418.6 C997.5,421.4 998.2,441.2 999.0,442.4 C999.8,443.6 1000.6,426.9 1001.4,425.7 C1002.2,424.5 1003.0,436.4 1003.8,435.2 C1004.6,434.0 1005.4,420.6 1006.2,418.6 C1007.0,416.6 1007.8,424.1 1008.6,423.3 C1009.4,422.5 1010.2,415.0 1011.0,413.8 C1011.8,412.6 1012.5,416.6 1013.3,416.2 C1014.1,415.8 1014.9,409.8 1015.7,411.4 C1016.5,413.0 1017.3,426.1 1018.1,425.7 C1018.9,425.3 1019.7,412.2 1020.5,409.0 C1021.3,405.8 1021.9,407.9 1022.9,406.7 C1023.9,405.5 1025.2,402.3 1026.4,401.9 C1027.6,401.5 1028.6,404.7 1030.0,404.3 C1031.4,403.9 1033.8,397.1 1034.8,399.5 C1035.8,401.9 1035.4,417.0 1036.0,418.6 C1036.6,420.2 1037.5,407.8 1038.3,409.0 C1039.1,410.2 1039.9,419.7 1040.7,425.7 C1041.5,431.7 1042.3,444.4 1043.1,444.8 C1043.9,445.2 1044.7,428.1 1045.5,428.1 C1046.3,428.1 1047.1,445.2 1047.9,444.8 C1048.7,444.4 1049.4,425.7 1050.2,425.7 C1051.0,425.7 1051.8,445.0 1052.6,444.8 C1053.4,444.6 1054.2,424.3 1055.0,424.5 C1055.8,424.7 1056.6,443.4 1057.4,446.0 C1058.2,448.6 1059.0,443.2 1059.8,440.0 C1060.6,436.8 1061.3,426.9 1062.1,426.9 C1062.9,426.9 1063.7,439.6 1064.5,440.0 C1065.3,440.4 1066.1,429.7 1066.9,429.3 C1067.7,428.9 1068.5,429.1 1069.3,437.6 C1070.1,446.1 1070.9,476.9 1071.7,480.5 C1072.5,484.1 1073.2,462.2 1074.0,459.0 C1074.8,455.8 1075.6,459.0 1076.4,461.4 C1077.2,463.8 1078.0,469.3 1078.8,473.3 C1079.6,477.3 1080.4,482.8 1081.2,485.2 C1082.0,487.6 1082.8,484.0 1083.6,487.6 C1084.4,491.2 1085.2,505.1 1086.0,506.7 C1086.8,508.3 1087.5,497.5 1088.3,497.1 C1089.1,496.7 1089.9,500.5 1090.7,504.3 C1091.5,508.1 1092.3,520.2 1093.1,519.8 C1093.9,519.4 1094.7,505.3 1095.5,501.9 C1096.3,498.5 1097.1,499.1 1097.9,499.5 C1098.7,499.9 1099.4,504.3 1100.2,504.3 C1101.0,504.3 1101.9,498.3 1102.6,499.5 C1103.3,500.7 1103.5,511.3 1104.2,511.7 C1104.9,512.1 1105.9,504.5 1106.7,501.7 C1107.5,498.9 1108.5,495.0 1109.2,495.0 C1109.9,495.0 1110.1,498.6 1110.8,501.7 C1111.5,504.8 1112.5,513.0 1113.3,513.3 C1114.1,513.6 1115.1,507.6 1115.8,503.3 C1116.5,499.0 1116.9,489.2 1117.5,487.5 C1118.1,485.8 1118.7,490.9 1119.2,493.3 C1119.8,495.7 1120.1,500.6 1120.8,501.7 C1121.5,502.8 1122.6,499.7 1123.3,500.0 C1124.0,500.3 1124.4,501.6 1125.0,503.3 C1125.6,505.0 1126.0,509.4 1126.7,510.0 C1127.4,510.6 1128.5,506.1 1129.2,506.7 C1129.9,507.2 1130.2,513.0 1130.8,513.3 C1131.3,513.6 1131.9,506.1 1132.5,508.3 C1133.1,510.5 1133.7,522.5 1134.2,526.7 C1134.7,530.9 1134.8,533.3 1135.3,533.3 C1135.8,533.3 1136.3,528.9 1137.0,526.7 C1137.7,524.5 1138.4,522.5 1139.2,520.0 C1140.0,517.5 1140.9,513.4 1141.7,511.7 C1142.5,510.0 1143.4,509.2 1144.2,510.0 C1145.0,510.8 1145.7,513.7 1146.7,516.7 C1147.7,519.8 1149.2,528.3 1150.0,528.3 C1150.8,528.3 1151.2,520.2 1151.7,516.7 C1152.2,513.2 1152.5,509.2 1153.3,507.5 C1154.1,505.8 1155.7,506.0 1156.7,506.7 C1157.7,507.4 1158.4,509.8 1159.2,511.7 C1160.0,513.6 1160.8,515.2 1161.3,518.3 C1161.8,521.3 1161.9,528.0 1162.0,530.0" fill="none" stroke="#000" stroke-width="3.2" stroke-linejoin="round"/>
<text x="1078.3" y="438.0" font-size="16" textLength="34.7" lengthAdjust="spacingAndGlyphs" >-20C</text>
<text x="1114.0" y="441.8" font-size="11.5" textLength="25.0" lengthAdjust="spacingAndGlyphs" >1000</text>
<text x="950.0" y="477.3" font-size="16" fill="#f00" textLength="34.3" lengthAdjust="spacingAndGlyphs" >-15C</text>
<text x="985.3" y="481.7" font-size="11.5" fill="#f00" textLength="24.7" lengthAdjust="spacingAndGlyphs" >1000</text>
<text x="895.0" y="529.0" font-size="16" fill="#00f" textLength="34.3" lengthAdjust="spacingAndGlyphs" >-10C</text>
<text x="930.3" y="533.3" font-size="11.5" fill="#00f" textLength="24.7" lengthAdjust="spacingAndGlyphs" >1000</text>
<text x="1019.3" y="601.0" font-size="22" textLength="57.4" lengthAdjust="spacingAndGlyphs" >Ɛ in %</text>
<text x="0" y="0" font-size="22" transform="translate(825.5,502.9) rotate(-90)" textLength="84.3" lengthAdjust="spacingAndGlyphs">σ in MPa</text>
</svg>
</body></html>
